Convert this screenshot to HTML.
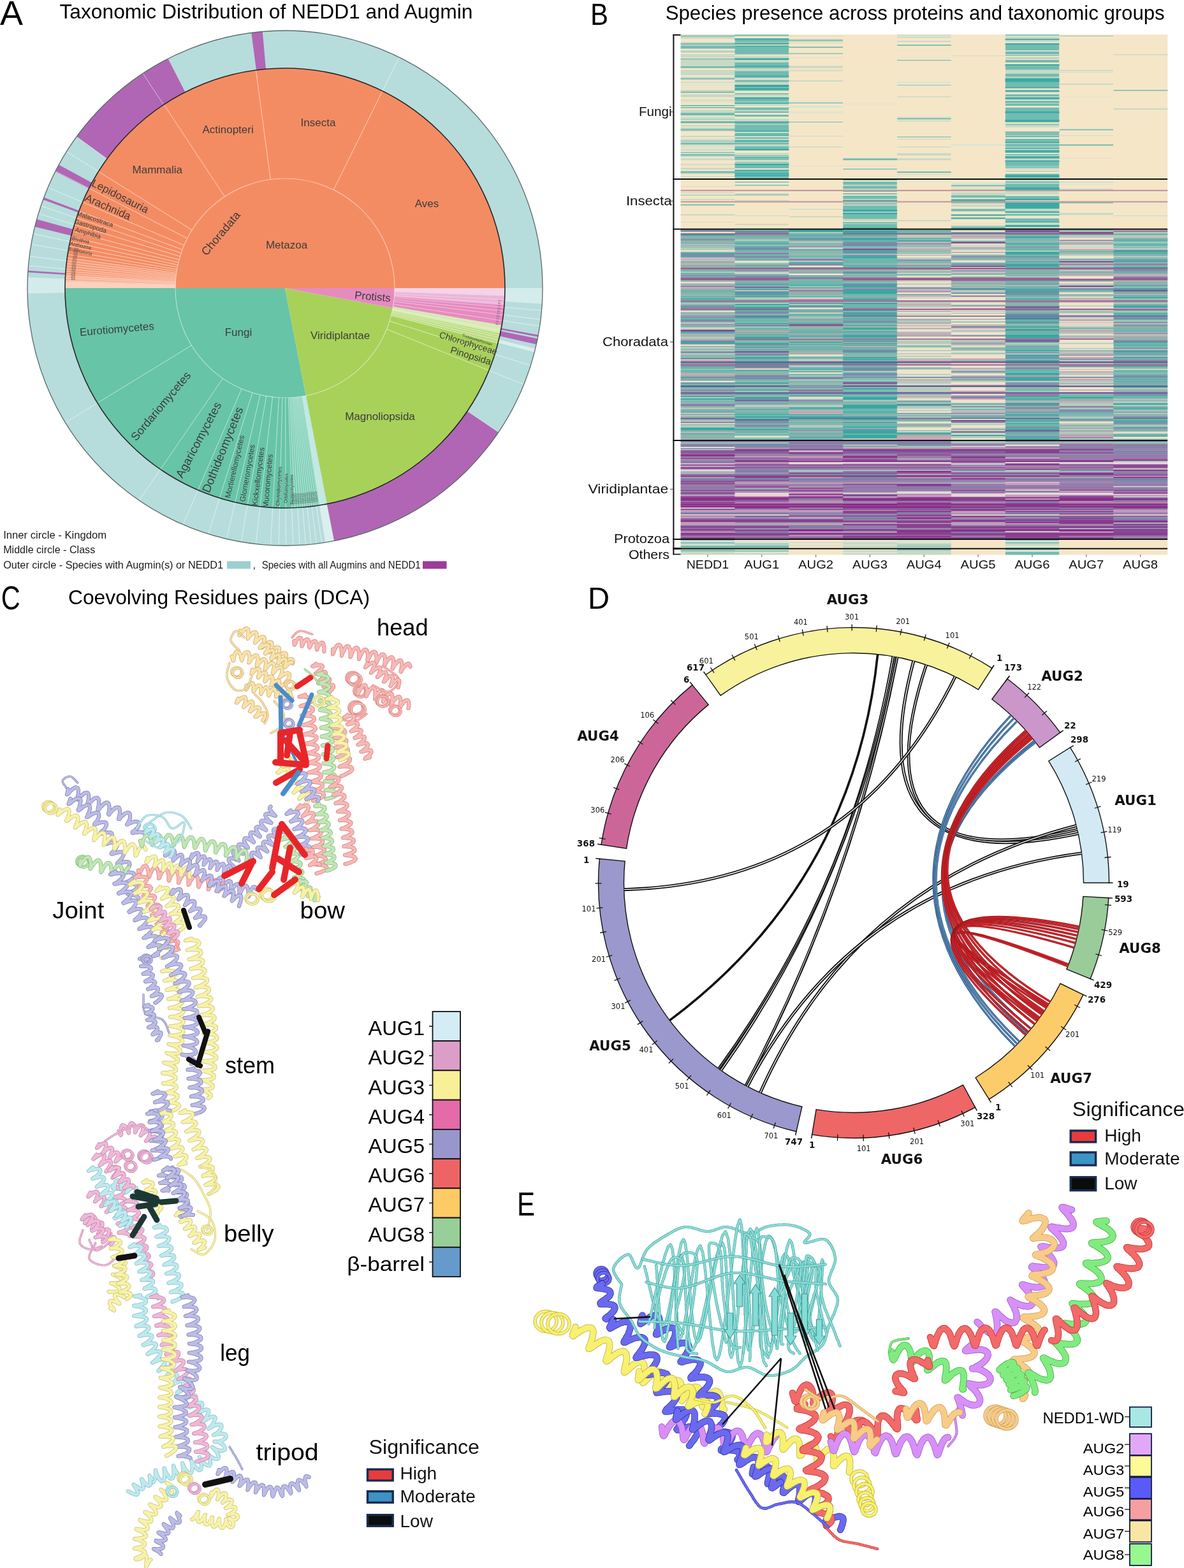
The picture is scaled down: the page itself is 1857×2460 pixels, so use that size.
<!DOCTYPE html>
<html><head><meta charset="utf-8"><title>NEDD1 and Augmin figure</title>
<style>html,body{margin:0;padding:0;background:#fff;}svg{display:block;}use{stroke-linejoin:round;stroke-linecap:round}</style></head>
<body><svg width="1857" height="2460" viewBox="0 0 1857 2460" font-family="'Liberation Sans', Arial, sans-serif">
<rect width="1857" height="2460" fill="#fff"/>
<path d="M447,452L619.00,452.00A172,172 0 0 0 275.00,452.00Z" fill="#f48c63" stroke="none" stroke-width="0"/>
<path d="M447,452L275.00,452.00A172,172 0 0 0 479.82,620.84Z" fill="#67c4a7" stroke="none" stroke-width="0"/>
<path d="M447,452L479.82,620.84A172,172 0 0 0 616.12,483.34Z" fill="#a8d15a" stroke="none" stroke-width="0"/>
<path d="M447,452L616.12,483.34A172,172 0 0 0 619.00,452.00Z" fill="#e68bbf" stroke="none" stroke-width="0"/>
<path d="M792.00,452.00A345,345 0 0 0 102.00,452.00L275.00,452.00A172,172 0 0 1 619.00,452.00Z" fill="#f48c63" stroke="none" stroke-width="0"/>
<path d="M102.00,452.00A345,345 0 0 0 512.83,790.66L479.82,620.84A172,172 0 0 1 275.00,452.00Z" fill="#67c4a7" stroke="none" stroke-width="0"/>
<path d="M512.83,790.66A345,345 0 0 0 786.22,514.87L616.12,483.34A172,172 0 0 1 479.82,620.84Z" fill="#a8d15a" stroke="none" stroke-width="0"/>
<path d="M786.22,514.87A345,345 0 0 0 792.00,452.00L619.00,452.00A172,172 0 0 1 616.12,483.34Z" fill="#e68bbf" stroke="none" stroke-width="0"/>
<path d="M105.36,403.99A345,345 0 0 0 102.64,430.94L275.32,441.50A172,172 0 0 1 276.67,428.06Z" fill="#f59a76" stroke="none" stroke-width="0"/>
<path d="M102.64,430.94A345,345 0 0 0 102.17,441.16L275.08,446.60A172,172 0 0 1 275.32,441.50Z" fill="#f8b396" stroke="none" stroke-width="0"/>
<path d="M102.17,441.16A345,345 0 0 0 102.00,452.00L275.00,452.00A172,172 0 0 1 275.08,446.60Z" fill="#fbd0bd" stroke="none" stroke-width="0"/>
<path d="M459.04,796.79A345,345 0 0 0 500.97,792.75L473.91,621.88A172,172 0 0 1 453.00,623.90Z" fill="#7ccdb4" stroke="none" stroke-width="0"/>
<path d="M500.97,792.75A345,345 0 0 0 512.83,790.66L479.82,620.84A172,172 0 0 1 473.91,621.88Z" fill="#c4e8e2" stroke="none" stroke-width="0"/>
<path d="M791.79,464.04A345,345 0 0 0 792.00,452.00L619.00,452.00A172,172 0 0 1 618.90,458.00Z" fill="#f3d3e7" stroke="none" stroke-width="0"/>
<path d="M790.94,479.07A345,345 0 0 0 791.79,464.04L618.90,458.00A172,172 0 0 1 618.47,465.49Z" fill="#ecb4d7" stroke="none" stroke-width="0"/>
<path d="M786.22,514.87A345,345 0 0 0 787.07,510.13L616.54,480.98A172,172 0 0 1 616.12,483.34Z" fill="#d6ecb8" stroke="none" stroke-width="0"/>
<path d="M781.01,538.38A345,345 0 0 0 786.22,514.87L616.12,483.34A172,172 0 0 1 613.52,495.07Z" fill="#bcdc84" stroke="none" stroke-width="0"/>
<path d="M784.83,521.96A345,345 0 0 0 786.22,514.87L616.12,483.34A172,172 0 0 1 615.43,486.88Z" fill="#d8ecb8" stroke="none" stroke-width="0"/>
<line x1="523.21" y1="297.80" x2="599.86" y2="142.71" stroke="#fcd6c4" stroke-width="1" opacity="0.9"/>
<line x1="424.25" y1="281.51" x2="401.37" y2="110.03" stroke="#fcd6c4" stroke-width="1" opacity="0.9"/>
<line x1="352.32" y1="308.41" x2="257.08" y2="163.98" stroke="#fcd6c4" stroke-width="1" opacity="0.9"/>
<line x1="301.14" y1="360.85" x2="154.42" y2="269.18" stroke="#fcd6c4" stroke-width="1" opacity="0.9"/>
<line x1="293.75" y1="373.91" x2="139.60" y2="295.37" stroke="#fcd6c4" stroke-width="1" opacity="0.9"/>
<line x1="288.67" y1="384.79" x2="129.43" y2="317.20" stroke="#fcd6c4" stroke-width="1" opacity="0.9"/>
<line x1="285.89" y1="391.76" x2="123.85" y2="331.18" stroke="#fcd6c4" stroke-width="1" opacity="0.9"/>
<line x1="283.98" y1="397.14" x2="120.02" y2="341.96" stroke="#fcd6c4" stroke-width="1" opacity="0.9"/>
<line x1="282.34" y1="402.29" x2="116.72" y2="352.28" stroke="#fcd6c4" stroke-width="1" opacity="0.9"/>
<line x1="280.86" y1="407.48" x2="113.76" y2="362.71" stroke="#fcd6c4" stroke-width="1" opacity="0.9"/>
<line x1="279.75" y1="411.85" x2="111.53" y2="371.46" stroke="#fcd6c4" stroke-width="1" opacity="0.9"/>
<line x1="278.88" y1="415.65" x2="109.79" y2="379.09" stroke="#fcd6c4" stroke-width="1" opacity="0.9"/>
<line x1="278.16" y1="419.18" x2="108.34" y2="386.17" stroke="#fcd6c4" stroke-width="1" opacity="0.9"/>
<line x1="277.51" y1="422.72" x2="107.03" y2="393.28" stroke="#fcd6c4" stroke-width="1" opacity="0.9"/>
<line x1="277.02" y1="425.69" x2="106.06" y2="399.22" stroke="#fcd6c4" stroke-width="1" opacity="0.9"/>
<line x1="276.63" y1="428.36" x2="105.27" y2="404.58" stroke="#fcd6c4" stroke-width="1" opacity="0.9"/>
<line x1="276.32" y1="430.74" x2="104.65" y2="409.36" stroke="#fcd6c4" stroke-width="1" opacity="0.9"/>
<line x1="276.07" y1="432.83" x2="104.15" y2="413.54" stroke="#fcd6c4" stroke-width="1" opacity="0.9"/>
<line x1="275.85" y1="434.92" x2="103.71" y2="417.73" stroke="#fcd6c4" stroke-width="1" opacity="0.9"/>
<line x1="275.65" y1="437.01" x2="103.31" y2="421.93" stroke="#fcd6c4" stroke-width="1" opacity="0.9"/>
<line x1="275.51" y1="438.80" x2="103.02" y2="425.53" stroke="#fcd6c4" stroke-width="1" opacity="0.9"/>
<line x1="275.38" y1="440.60" x2="102.76" y2="429.14" stroke="#fcd6c4" stroke-width="1" opacity="0.9"/>
<line x1="275.27" y1="442.40" x2="102.54" y2="432.74" stroke="#fcd6c4" stroke-width="1" opacity="0.9"/>
<line x1="275.18" y1="444.20" x2="102.36" y2="436.35" stroke="#fcd6c4" stroke-width="1" opacity="0.9"/>
<line x1="275.09" y1="446.30" x2="102.19" y2="440.56" stroke="#fcd6c4" stroke-width="1" opacity="0.9"/>
<line x1="275.03" y1="449.00" x2="102.05" y2="445.98" stroke="#fcd6c4" stroke-width="1" opacity="0.9"/>
<line x1="300.35" y1="541.87" x2="152.84" y2="632.26" stroke="#c9ede2" stroke-width="1" opacity="0.85"/>
<line x1="349.58" y1="593.75" x2="251.59" y2="736.32" stroke="#c9ede2" stroke-width="1" opacity="0.85"/>
<line x1="378.97" y1="609.97" x2="310.54" y2="768.86" stroke="#c9ede2" stroke-width="1" opacity="0.85"/>
<line x1="395.85" y1="616.22" x2="344.41" y2="781.39" stroke="#c9ede2" stroke-width="1" opacity="0.85"/>
<line x1="408.02" y1="619.52" x2="368.81" y2="788.02" stroke="#c9ede2" stroke-width="1" opacity="0.85"/>
<line x1="417.72" y1="621.49" x2="388.28" y2="791.97" stroke="#c9ede2" stroke-width="1" opacity="0.85"/>
<line x1="427.53" y1="622.89" x2="407.94" y2="794.78" stroke="#c9ede2" stroke-width="1" opacity="0.85"/>
<line x1="437.40" y1="623.73" x2="427.74" y2="796.46" stroke="#c9ede2" stroke-width="1" opacity="0.85"/>
<line x1="442.80" y1="623.95" x2="438.57" y2="796.90" stroke="#c9ede2" stroke-width="1" opacity="0.85"/>
<line x1="447.60" y1="624.00" x2="448.20" y2="797.00" stroke="#c9ede2" stroke-width="1" opacity="0.85"/>
<line x1="452.40" y1="623.92" x2="457.84" y2="796.83" stroke="#c9ede2" stroke-width="1" opacity="0.85"/>
<line x1="454.80" y1="623.82" x2="462.65" y2="796.64" stroke="#c9ede2" stroke-width="1" opacity="0.85"/>
<line x1="456.90" y1="623.71" x2="466.86" y2="796.43" stroke="#c9ede2" stroke-width="1" opacity="0.85"/>
<line x1="459.00" y1="623.58" x2="471.07" y2="796.16" stroke="#c9ede2" stroke-width="1" opacity="0.85"/>
<line x1="460.79" y1="623.45" x2="474.67" y2="795.89" stroke="#c9ede2" stroke-width="1" opacity="0.85"/>
<line x1="462.59" y1="623.29" x2="478.27" y2="795.58" stroke="#c9ede2" stroke-width="1" opacity="0.85"/>
<line x1="464.38" y1="623.12" x2="481.86" y2="795.23" stroke="#c9ede2" stroke-width="1" opacity="0.85"/>
<line x1="466.17" y1="622.93" x2="485.46" y2="794.85" stroke="#c9ede2" stroke-width="1" opacity="0.85"/>
<line x1="467.96" y1="622.72" x2="489.04" y2="794.43" stroke="#c9ede2" stroke-width="1" opacity="0.85"/>
<line x1="469.75" y1="622.49" x2="492.63" y2="793.97" stroke="#c9ede2" stroke-width="1" opacity="0.85"/>
<line x1="471.53" y1="622.24" x2="496.21" y2="793.47" stroke="#c9ede2" stroke-width="1" opacity="0.85"/>
<line x1="473.31" y1="621.98" x2="499.78" y2="792.94" stroke="#c9ede2" stroke-width="1" opacity="0.85"/>
<line x1="474.80" y1="621.74" x2="502.75" y2="792.47" stroke="#c9ede2" stroke-width="1" opacity="0.85"/>
<line x1="606.48" y1="516.43" x2="766.88" y2="581.24" stroke="#e4f3c4" stroke-width="1" opacity="0.85"/>
<line x1="611.04" y1="503.72" x2="776.03" y2="555.74" stroke="#e4f3c4" stroke-width="1" opacity="0.85"/>
<line x1="613.52" y1="495.07" x2="781.01" y2="538.38" stroke="#e4f3c4" stroke-width="1" opacity="0.85"/>
<line x1="614.11" y1="492.74" x2="782.18" y2="533.71" stroke="#e4f3c4" stroke-width="1" opacity="0.85"/>
<line x1="614.59" y1="490.69" x2="783.16" y2="529.61" stroke="#e4f3c4" stroke-width="1" opacity="0.85"/>
<line x1="614.99" y1="488.93" x2="783.95" y2="526.08" stroke="#e4f3c4" stroke-width="1" opacity="0.85"/>
<line x1="615.37" y1="487.17" x2="784.71" y2="522.55" stroke="#e4f3c4" stroke-width="1" opacity="0.85"/>
<line x1="615.72" y1="485.41" x2="785.43" y2="519.01" stroke="#e4f3c4" stroke-width="1" opacity="0.85"/>
<line x1="617.11" y1="477.42" x2="788.21" y2="502.99" stroke="#f7d9ea" stroke-width="1" opacity="0.7"/>
<line x1="617.72" y1="472.96" x2="789.43" y2="494.04" stroke="#f7d9ea" stroke-width="1" opacity="0.7"/>
<line x1="618.06" y1="469.98" x2="790.11" y2="488.06" stroke="#f7d9ea" stroke-width="1" opacity="0.7"/>
<line x1="618.35" y1="466.99" x2="790.69" y2="482.07" stroke="#f7d9ea" stroke-width="1" opacity="0.7"/>
<line x1="618.58" y1="464.00" x2="791.16" y2="476.07" stroke="#f7d9ea" stroke-width="1" opacity="0.7"/>
<line x1="618.76" y1="461.00" x2="791.53" y2="470.06" stroke="#f7d9ea" stroke-width="1" opacity="0.7"/>
<line x1="618.90" y1="458.00" x2="791.79" y2="464.04" stroke="#f7d9ea" stroke-width="1" opacity="0.7"/>
<line x1="618.97" y1="455.00" x2="791.95" y2="458.02" stroke="#f7d9ea" stroke-width="1" opacity="0.7"/>
<circle cx="447" cy="452" r="172" fill="none" stroke="#ffffff" stroke-opacity="0.4" stroke-width="1.2"/>
<circle cx="447" cy="452" r="374.5" fill="none" stroke="#b7dcdc" stroke-width="59"/>
<path d="M43.35,435.08A404,404 0 0 0 43.09,460.46L102.08,459.23A345,345 0 0 1 102.30,437.55Z" fill="#d3ebeb" stroke="none" stroke-width="0"/>
<path d="M510.20,851.03A404,404 0 0 0 524.09,848.58L512.83,790.66A345,345 0 0 1 500.97,792.75Z" fill="#dcefef" stroke="none" stroke-width="0"/>
<path d="M850.25,476.66A404,404 0 0 0 851.00,452.00L792.00,452.00A345,345 0 0 1 791.36,473.06Z" fill="#d4ecec" stroke="none" stroke-width="0"/>
<path d="M838.31,552.47A404,404 0 0 0 839.67,547.00L782.33,533.12A345,345 0 0 1 781.16,537.80Z" fill="#dceeee" stroke="none" stroke-width="0"/>
<path d="M263.59,92.03A404,404 0 0 0 120.16,214.53L167.89,249.21A345,345 0 0 1 290.37,144.60Z" fill="#b066b4" stroke="none" stroke-width="0"/>
<path d="M411.79,49.54A404,404 0 0 0 394.27,51.46L401.97,109.95A345,345 0 0 1 416.93,108.31Z" fill="#b066b4" stroke="none" stroke-width="0"/>
<path d="M92.29,258.61A404,404 0 0 0 86.71,269.22L139.33,295.91A345,345 0 0 1 144.10,286.85Z" fill="#b066b4" stroke="none" stroke-width="0"/>
<path d="M68.83,309.86A404,404 0 0 0 67.61,313.16L123.01,333.44A345,345 0 0 1 124.06,330.61Z" fill="#b066b4" stroke="none" stroke-width="0"/>
<path d="M57.69,344.04A404,404 0 0 0 54.66,355.63L111.96,369.71A345,345 0 0 1 114.55,359.80Z" fill="#b066b4" stroke="none" stroke-width="0"/>
<path d="M43.94,424.52A404,404 0 0 0 43.75,427.34L102.64,430.94A345,345 0 0 1 102.80,428.53Z" fill="#b066b4" stroke="none" stroke-width="0"/>
<path d="M524.09,848.58A404,404 0 0 0 781.93,677.91L733.02,644.92A345,345 0 0 1 512.83,790.66Z" fill="#b066b4" stroke="none" stroke-width="0"/>
<path d="M841.27,540.13A404,404 0 0 0 843.17,531.16L785.31,519.60A345,345 0 0 1 783.69,527.26Z" fill="#b066b4" stroke="none" stroke-width="0"/>
<path d="M843.71,528.39A404,404 0 0 0 844.23,525.62L786.22,514.87A345,345 0 0 1 785.78,517.24Z" fill="#b066b4" stroke="none" stroke-width="0"/>
<line x1="599.86" y1="142.71" x2="626.00" y2="89.82" stroke="#ffffff" stroke-width="1" opacity="0.55"/>
<line x1="256.58" y1="164.31" x2="224.02" y2="115.11" stroke="#ffffff" stroke-width="1" opacity="0.55"/>
<line x1="167.89" y1="249.21" x2="120.16" y2="214.53" stroke="#ffffff" stroke-width="1" opacity="0.55"/>
<line x1="154.42" y1="269.18" x2="104.39" y2="237.91" stroke="#ffffff" stroke-width="1" opacity="0.55"/>
<line x1="139.60" y1="295.37" x2="87.03" y2="268.59" stroke="#ffffff" stroke-width="1" opacity="0.55"/>
<line x1="129.43" y1="317.20" x2="75.12" y2="294.14" stroke="#ffffff" stroke-width="1" opacity="0.55"/>
<line x1="120.02" y1="341.96" x2="64.10" y2="323.14" stroke="#ffffff" stroke-width="1" opacity="0.55"/>
<line x1="116.72" y1="352.28" x2="60.24" y2="335.23" stroke="#ffffff" stroke-width="1" opacity="0.55"/>
<line x1="109.79" y1="379.09" x2="52.12" y2="366.62" stroke="#ffffff" stroke-width="1" opacity="0.55"/>
<line x1="107.03" y1="393.28" x2="48.90" y2="383.24" stroke="#ffffff" stroke-width="1" opacity="0.55"/>
<line x1="104.65" y1="409.36" x2="46.10" y2="402.07" stroke="#ffffff" stroke-width="1" opacity="0.55"/>
<line x1="103.31" y1="421.93" x2="44.54" y2="416.79" stroke="#ffffff" stroke-width="1" opacity="0.55"/>
<line x1="152.84" y1="632.26" x2="102.53" y2="663.09" stroke="#ffffff" stroke-width="1" opacity="0.55"/>
<line x1="251.59" y1="736.32" x2="218.17" y2="784.95" stroke="#ffffff" stroke-width="1" opacity="0.55"/>
<line x1="310.54" y1="768.86" x2="287.20" y2="823.05" stroke="#ffffff" stroke-width="1" opacity="0.55"/>
<line x1="344.41" y1="781.39" x2="326.86" y2="837.72" stroke="#ffffff" stroke-width="1" opacity="0.55"/>
<line x1="368.81" y1="788.02" x2="355.43" y2="845.49" stroke="#ffffff" stroke-width="1" opacity="0.55"/>
<line x1="388.28" y1="791.97" x2="378.24" y2="850.10" stroke="#ffffff" stroke-width="1" opacity="0.55"/>
<line x1="407.94" y1="794.78" x2="401.27" y2="853.40" stroke="#ffffff" stroke-width="1" opacity="0.55"/>
<line x1="427.74" y1="796.46" x2="424.45" y2="855.37" stroke="#ffffff" stroke-width="1" opacity="0.55"/>
<line x1="438.57" y1="796.90" x2="437.13" y2="855.88" stroke="#ffffff" stroke-width="1" opacity="0.55"/>
<line x1="448.20" y1="797.00" x2="448.41" y2="856.00" stroke="#ffffff" stroke-width="1" opacity="0.55"/>
<line x1="457.84" y1="796.83" x2="459.69" y2="855.80" stroke="#ffffff" stroke-width="1" opacity="0.55"/>
<line x1="466.86" y1="796.43" x2="470.26" y2="855.33" stroke="#ffffff" stroke-width="1" opacity="0.55"/>
<line x1="474.67" y1="795.89" x2="479.40" y2="854.70" stroke="#ffffff" stroke-width="1" opacity="0.55"/>
<line x1="481.86" y1="795.23" x2="487.83" y2="853.93" stroke="#ffffff" stroke-width="1" opacity="0.55"/>
<line x1="489.04" y1="794.43" x2="496.24" y2="852.99" stroke="#ffffff" stroke-width="1" opacity="0.55"/>
<line x1="496.21" y1="793.47" x2="504.62" y2="851.87" stroke="#ffffff" stroke-width="1" opacity="0.55"/>
<line x1="733.02" y1="644.92" x2="781.93" y2="677.91" stroke="#ffffff" stroke-width="1" opacity="0.55"/>
<line x1="766.88" y1="581.24" x2="821.58" y2="603.34" stroke="#ffffff" stroke-width="1" opacity="0.55"/>
<line x1="776.03" y1="555.74" x2="832.30" y2="573.49" stroke="#ffffff" stroke-width="1" opacity="0.55"/>
<line x1="788.21" y1="502.99" x2="846.56" y2="511.72" stroke="#ffffff" stroke-width="1" opacity="0.55"/>
<line x1="789.43" y1="494.04" x2="847.99" y2="501.24" stroke="#ffffff" stroke-width="1" opacity="0.55"/>
<line x1="790.69" y1="482.07" x2="849.46" y2="487.21" stroke="#ffffff" stroke-width="1" opacity="0.55"/>
<circle cx="447" cy="452" r="345" fill="none" stroke="#262626" stroke-width="1.6"/>
<circle cx="447" cy="452" r="404" fill="none" stroke="#5a6a6a" stroke-width="1.3"/>
<text x="449.5" y="390.0" font-size="17" fill="#3c3c3c" text-anchor="middle">Metazoa</text>
<text x="357.6" y="209.0" font-size="17" fill="#3c3c3c" text-anchor="middle">Actinopteri</text>
<text x="499.0" y="197.5" font-size="17" fill="#3c3c3c" text-anchor="middle">Insecta</text>
<text x="246.8" y="272.0" font-size="17" fill="#3c3c3c" text-anchor="middle">Mammalia</text>
<text x="669.5" y="325.0" font-size="17" fill="#3c3c3c" text-anchor="middle">Aves</text>
<text x="351.0" y="370.0" font-size="18" fill="#3c3c3c" text-anchor="middle" transform="rotate(-50 351.0 370.0)">Choradata</text>
<text x="186.0" y="313.0" font-size="17" fill="#3c3c3c" text-anchor="middle" transform="rotate(27 186.0 313.0)">Lepidosauria</text>
<text x="167.0" y="330.0" font-size="17" fill="#3c3c3c" text-anchor="middle" transform="rotate(24 167.0 330.0)">Arachnida</text>
<text x="584.0" y="471.0" font-size="17" fill="#3c3c3c" text-anchor="middle" transform="rotate(5 584.0 471.0)">Protists</text>
<text x="183.8" y="522.0" font-size="17" fill="#3c3c3c" text-anchor="middle" transform="rotate(-5 183.8 522.0)">Eurotiomycetes</text>
<text x="374.0" y="527.0" font-size="17" fill="#3c3c3c" text-anchor="middle">Fungi</text>
<text x="533.6" y="532.0" font-size="17" fill="#3c3c3c" text-anchor="middle">Viridiplantae</text>
<text x="257.0" y="641.0" font-size="18" fill="#3c3c3c" text-anchor="middle" transform="rotate(-50 257.0 641.0)">Sordariomycetes</text>
<text x="317.0" y="693.0" font-size="18.5" fill="#3c3c3c" text-anchor="middle" transform="rotate(-62 317.0 693.0)">Agaricomycetes</text>
<text x="355.0" y="708.0" font-size="18.5" fill="#3c3c3c" text-anchor="middle" transform="rotate(-68 355.0 708.0)">Dothideomycetes</text>
<text x="596.0" y="659.0" font-size="17" fill="#3c3c3c" text-anchor="middle">Magnoliopsida</text>
<text x="733.0" y="543.0" font-size="14" fill="#3c3c3c" text-anchor="middle" transform="rotate(17 733.0 543.0)">Chlorophyceae</text>
<text x="737.0" y="563.0" font-size="15" fill="#3c3c3c" text-anchor="middle" transform="rotate(17 737.0 563.0)">Pinopsida</text>
<text x="148.0" y="347.0" font-size="10" fill="#3c3c3c" text-anchor="middle" transform="rotate(18 148.0 347.0)">Malacostraca</text>
<text x="141.0" y="358.0" font-size="10" fill="#3c3c3c" text-anchor="middle" transform="rotate(17 141.0 358.0)">Gastropoda</text>
<text x="137.0" y="369.0" font-size="10" fill="#3c3c3c" text-anchor="middle" transform="rotate(16 137.0 369.0)">Amphibia</text>
<text x="126.0" y="379.0" font-size="8" fill="#3c3c3c" text-anchor="middle" transform="rotate(14 126.0 379.0)">Bivalvia</text>
<text x="126.0" y="388.0" font-size="8" fill="#3c3c3c" text-anchor="middle" transform="rotate(13 126.0 388.0)">Anthozoa</text>
<text x="126.0" y="397.0" font-size="7.5" fill="#3c3c3c" text-anchor="middle" transform="rotate(12 126.0 397.0)">Eurotatoria</text>
<text x="372.0" y="733.0" font-size="12" fill="#3c3c3c" text-anchor="middle" transform="rotate(-77 372.0 733.0)">Mortierellomycetes</text>
<text x="392.0" y="743.0" font-size="12" fill="#3c3c3c" text-anchor="middle" transform="rotate(-80 392.0 743.0)">Glomeromycetes</text>
<text x="409.0" y="748.0" font-size="12" fill="#3c3c3c" text-anchor="middle" transform="rotate(-83 409.0 748.0)">Kickxellomycetes</text>
<text x="424.0" y="755.0" font-size="12" fill="#3c3c3c" text-anchor="middle" transform="rotate(-85 424.0 755.0)">Mucoromycetes</text>
<text x="440.0" y="763.0" font-size="8" fill="#3c3c3c" text-anchor="middle" transform="rotate(-87 440.0 763.0)">Chytridiomycetes</text>
<text x="451.0" y="766.0" font-size="7" fill="#3c3c3c" text-anchor="middle" transform="rotate(-89 451.0 766.0)">Orbiliomycetes</text>
<text x="460.0" y="768.0" font-size="7" fill="#3c3c3c" text-anchor="middle" transform="rotate(-91 460.0 768.0)">Pezizomycetes</text>
<text x="748.0" y="535.0" font-size="6" fill="#3c3c3c" text-anchor="middle" transform="rotate(17 748.0 535.0)">Trebouxiophyceae</text>
<text x="458.0" y="782.8" font-size="4.5" fill="#4a6a60" text-anchor="middle" transform="rotate(88.10000000000002 458.0 782.8)">mycetes</text>
<text x="460.9" y="782.7" font-size="4.5" fill="#4a6a60" text-anchor="middle" transform="rotate(87.60000000000002 460.9 782.7)">mycetes</text>
<text x="463.7" y="782.6" font-size="4.5" fill="#4a6a60" text-anchor="middle" transform="rotate(87.10000000000002 463.7 782.6)">mycetes</text>
<text x="466.6" y="782.4" font-size="4.5" fill="#4a6a60" text-anchor="middle" transform="rotate(86.60000000000002 466.6 782.4)">mycetes</text>
<text x="469.5" y="782.2" font-size="4.5" fill="#4a6a60" text-anchor="middle" transform="rotate(86.10000000000002 469.5 782.2)">mycetes</text>
<text x="472.4" y="782.0" font-size="4.5" fill="#4a6a60" text-anchor="middle" transform="rotate(85.60000000000002 472.4 782.0)">mycetes</text>
<text x="475.3" y="781.8" font-size="4.5" fill="#4a6a60" text-anchor="middle" transform="rotate(85.10000000000002 475.3 781.8)">mycetes</text>
<text x="478.1" y="781.5" font-size="4.5" fill="#4a6a60" text-anchor="middle" transform="rotate(84.60000000000002 478.1 781.5)">mycetes</text>
<text x="481.0" y="781.2" font-size="4.5" fill="#4a6a60" text-anchor="middle" transform="rotate(84.10000000000002 481.0 781.2)">mycetes</text>
<text x="483.9" y="780.9" font-size="4.5" fill="#4a6a60" text-anchor="middle" transform="rotate(83.60000000000002 483.9 780.9)">mycetes</text>
<text x="486.8" y="780.6" font-size="4.5" fill="#4a6a60" text-anchor="middle" transform="rotate(83.10000000000002 486.8 780.6)">mycetes</text>
<text x="489.6" y="780.2" font-size="4.5" fill="#4a6a60" text-anchor="middle" transform="rotate(82.60000000000002 489.6 780.2)">mycetes</text>
<text x="492.5" y="779.9" font-size="4.5" fill="#4a6a60" text-anchor="middle" transform="rotate(82.10000000000002 492.5 779.9)">mycetes</text>
<text x="495.4" y="779.4" font-size="4.5" fill="#4a6a60" text-anchor="middle" transform="rotate(81.60000000000002 495.4 779.4)">mycetes</text>
<text x="119.6" y="391.3" font-size="4.5" fill="#6a4a40" text-anchor="middle" transform="rotate(10.5 119.6 391.3)">spp</text>
<text x="119.0" y="394.5" font-size="4.5" fill="#6a4a40" text-anchor="middle" transform="rotate(9.949999999999989 119.0 394.5)">spp</text>
<text x="118.5" y="397.6" font-size="4.5" fill="#6a4a40" text-anchor="middle" transform="rotate(9.400000000000006 118.5 397.6)">spp</text>
<text x="118.0" y="400.8" font-size="4.5" fill="#6a4a40" text-anchor="middle" transform="rotate(8.849999999999994 118.0 400.8)">spp</text>
<text x="117.5" y="403.9" font-size="4.5" fill="#6a4a40" text-anchor="middle" transform="rotate(8.300000000000011 117.5 403.9)">spp</text>
<text x="117.0" y="407.1" font-size="4.5" fill="#6a4a40" text-anchor="middle" transform="rotate(7.75 117.0 407.1)">spp</text>
<text x="116.6" y="410.3" font-size="4.5" fill="#6a4a40" text-anchor="middle" transform="rotate(7.199999999999989 116.6 410.3)">spp</text>
<text x="116.2" y="413.4" font-size="4.5" fill="#6a4a40" text-anchor="middle" transform="rotate(6.650000000000006 116.2 413.4)">spp</text>
<text x="115.9" y="416.6" font-size="4.5" fill="#6a4a40" text-anchor="middle" transform="rotate(6.099999999999994 115.9 416.6)">spp</text>
<text x="115.6" y="419.8" font-size="4.5" fill="#6a4a40" text-anchor="middle" transform="rotate(5.550000000000011 115.6 419.8)">spp</text>
<text x="115.3" y="423.0" font-size="4.5" fill="#6a4a40" text-anchor="middle" transform="rotate(5.0 115.3 423.0)">spp</text>
<text x="115.0" y="426.2" font-size="4.5" fill="#6a4a40" text-anchor="middle" transform="rotate(4.449999999999989 115.0 426.2)">spp</text>
<text x="114.8" y="429.4" font-size="4.5" fill="#6a4a40" text-anchor="middle" transform="rotate(3.9000000000000057 114.8 429.4)">spp</text>
<text x="114.6" y="432.5" font-size="4.5" fill="#6a4a40" text-anchor="middle" transform="rotate(3.3499999999999943 114.6 432.5)">spp</text>
<text x="114.4" y="435.7" font-size="4.5" fill="#6a4a40" text-anchor="middle" transform="rotate(2.8000000000000114 114.4 435.7)">spp</text>
<text x="114.3" y="438.9" font-size="4.5" fill="#6a4a40" text-anchor="middle" transform="rotate(2.25 114.3 438.9)">spp</text>
<text x="779.1" y="509.4" font-size="4" fill="#6a5a70" text-anchor="middle" transform="rotate(-350.2 779.1 509.4)">ae</text>
<text x="779.8" y="505.3" font-size="4" fill="#6a5a70" text-anchor="middle" transform="rotate(-350.9 779.8 505.3)">ae</text>
<text x="780.4" y="501.2" font-size="4" fill="#6a5a70" text-anchor="middle" transform="rotate(-351.59999999999997 780.4 501.2)">ae</text>
<text x="781.0" y="497.2" font-size="4" fill="#6a5a70" text-anchor="middle" transform="rotate(-352.3 781.0 497.2)">ae</text>
<text x="781.5" y="493.1" font-size="4" fill="#6a5a70" text-anchor="middle" transform="rotate(-353.0 781.5 493.1)">ae</text>
<text x="782.0" y="489.0" font-size="4" fill="#6a5a70" text-anchor="middle" transform="rotate(-353.7 782.0 489.0)">ae</text>
<text x="782.4" y="484.9" font-size="4" fill="#6a5a70" text-anchor="middle" transform="rotate(-354.4 782.4 484.9)">ae</text>
<text x="782.8" y="480.8" font-size="4" fill="#6a5a70" text-anchor="middle" transform="rotate(-355.09999999999997 782.8 480.8)">ae</text>
<text x="783.1" y="476.7" font-size="4" fill="#6a5a70" text-anchor="middle" transform="rotate(-355.8 783.1 476.7)">ae</text>
<text x="783.4" y="472.6" font-size="4" fill="#6a5a70" text-anchor="middle" transform="rotate(-356.5 783.4 472.6)">ae</text>
<text x="5.2" y="844.6" font-size="16.2" fill="#1a1a1a" textLength="162" lengthAdjust="spacingAndGlyphs">Inner circle - Kingdom</text>
<text x="5.2" y="868.3" font-size="16.2" fill="#1a1a1a" textLength="144" lengthAdjust="spacingAndGlyphs">Middle circle - Class</text>
<text x="5.2" y="892.0" font-size="16.2" fill="#1a1a1a" textLength="344.8" lengthAdjust="spacingAndGlyphs">Outer circle - Species with Augmin(s) or NEDD1</text>
<rect x="356" y="880.4" width="37" height="12" fill="#9ccfd0"/>
<text x="396.5" y="892.0" font-size="16.2" fill="#1a1a1a">,</text>
<text x="410.8" y="892.0" font-size="16.2" fill="#1a1a1a" textLength="248.8" lengthAdjust="spacingAndGlyphs">Species with all Augmins and NEDD1</text>
<rect x="663" y="880.4" width="37.5" height="12" fill="#9b3d9a"/>
<text x="0.0" y="39.0" font-size="54" fill="#000">A</text>
<text x="93.4" y="29.2" font-size="30.7" fill="#000" textLength="648" lengthAdjust="spacingAndGlyphs">Taxonomic Distribution of NEDD1 and Augmin</text>
<path fill="#c9d9c4" d="M1067.5 54.3h85.1v2h-85.1zm0 2.6h85.1v2.8h-85.1zm0 2.5h85.1v1.8h-85.1zm0 6.3h85.1v1.6h-85.1zm0 1.2h85.1v1.5h-85.1zm0 2.9h85.1v2.3h-85.1zm0 10.5h85.1v3.1h-85.1zm0 4.4h85.1v2.2h-85.1zm0 1.9h85.1v1.5h-85.1zm0 1.2h85.1v2.6h-85.1zm0 5h85.1v1.3h-85.1zm0 1h85.1v1.9h-85.1zm0 1.5h85.1v3.1h-85.1zm0 2.8h85.1v3.1h-85.1zm0 2.7h85.1v2.7h-85.1zm0 2.3h85.1v1.3h-85.1zm0 6.2h85.1v2.7h-85.1zm0 2.3h85.1v1.6h-85.1zm0 1.3h85.1v1.4h-85.1zm0 1.1h85.1v2h-85.1zm0 1.7h85.1v2.9h-85.1zm0 4.5h85.1v2.6h-85.1zm0 3.7h85.1v2.2h-85.1zm0 4.1h85.1v2.8h-85.1zm0 4.9h85.1v1.7h-85.1zm0 7.7h85.1v2.3h-85.1zm0 1.9h85.1v1.6h-85.1zm0 5.2h85.1v3.1h-85.1zm0 2.7h85.1v1.3h-85.1zm0 1h85.1v1.6h-85.1zm0 4h85.1v2.8h-85.1zm0 3.6h85.1v1.7h-85.1zm0 3.3h85.1v1.5h-85.1zm0 9.8h85.1v3h-85.1zm0 2.6h85.1v2.7h-85.1zm0 8.6h85.1v2.7h-85.1zm0 2.3h85.1v2.2h-85.1zm0 6.5h85.1v2.4h-85.1zm0 3.7h85.1v3.1h-85.1zm0 4h85.1v2.7h-85.1zm0 4.6h85.1v2.3h-85.1zm0 8.3h85.1v1.6h-85.1zm0 1.2h85.1v1.8h-85.1zm0 3.4h85.1v2.2h-85.1zm0 3.7h85.1v2.2h-85.1zm0 1.8h85.1v1.6h-85.1zm0 3.3h85.1v2.8h-85.1zm0 3.5h85.1v2.2h-85.1zm0 3.6h85.1v2.8h-85.1zm0 10.7h85.1v1.3h-85.1zm0 1h85.1v1.9h-85.1zm0 3.1h85.1v1.6h-85.1zm0 1.3h85.1v2.5h-85.1zm0 7.1h85.1v2.6h-85.1zm0 3.7h85.1v1.4h-85.1zm0 2.8h85.1v1.6h-85.1zm0 1.3h85.1v2.4h-85.1zm0 3.4h85.1v1.5h-85.1zm0 3.7h85.1v1.9h-85.1zm0 4.9h85.1v2.6h-85.1zm0 15.2h85.1v1.7h-85.1zm0 9.6h85.1v2.3h-85.1zm0 10.8h85.1v2.3h-85.1zm0 35.7h85.1v1.7h-85.1zm0 504.8h85.1v1.5h-85.1zm0 1.1h85.1v1.5h-85.1zm0 5.7h85.1v1.9h-85.1zm0 1.6h85.1v2.7h-85.1zm0 3.8h85.1v1.9h-85.1zm0 1.6h85.1v1.7h-85.1zm0 1.4h85.1v3.1h-85.1zM1406.8 54.3h85.1v2h-85.1zm0 2.6h85.1v2.8h-85.1zm0 6.8h85.1v2.3h-85.1zm0 15.5h85.1v1.4h-85.1zm0 71.2h85.1v1.3h-85.1zm0 1h85.1v1.6h-85.1zm0 31.9h85.1v2.7h-85.1zm0 5.2h85.1v2.4h-85.1zm0 28.8h85.1v2.2h-85.1zm0 12.3h85.1v2.2h-85.1zm0 10.4h85.1v1.7h-85.1zm0 1.3h85.1v2.9h-85.1zm0 6.7h85.1v1.6h-85.1zm0 1.3h85.1v2.5h-85.1zm0 23.6h85.1v1.8h-85.1zm0 72h85.1v2.9h-85.1zm0 501h85.1v2.7h-85.1zm0 6.4h85.1v1.5h-85.1zm0 4.9h85.1v2.3h-85.1zm0 1.9h85.1v1.9h-85.1zm0 4h85.1v1.8h-85.1zm0 1.4h85.1v1.9h-85.1zm0 1.6h85.1v1.7h-85.1zm0 1.4h85.1v3.1h-85.1zM1152.3 56.0h85.1v1.3h-85.1zm0 9.7h85.1v1.6h-85.1zm0 4.1h85.1v2.3h-85.1zm0 14.9h85.1v2.2h-85.1zm0 3.1h85.1v2.6h-85.1zm0 2.2h85.1v1.6h-85.1zm0 3.8h85.1v1.9h-85.1zm0 1.5h85.1v3.1h-85.1zm0 11.4h85.1v2.9h-85.1zm0 2.6h85.1v2.7h-85.1zm0 14.6h85.1v2.2h-85.1zm0 4.1h85.1v2.8h-85.1zm0 2.5h85.1v2.8h-85.1zm0 6.3h85.1v1.7h-85.1zm0 10.9h85.1v3.1h-85.1zm0 2.7h85.1v1.3h-85.1zm0 8.6h85.1v1.7h-85.1zm0 3.3h85.1v1.5h-85.1zm0 1.2h85.1v1.9h-85.1zm0 1.5h85.1v1.3h-85.1zm0 7.1h85.1v3h-85.1zm0 13.5h85.1v2.2h-85.1zm0 1.8h85.1v1.4h-85.1zm0 1.1h85.1v2.4h-85.1zm0 5.6h85.1v2h-85.1zm0 13.3h85.1v1.6h-85.1zm0 5.3h85.1v1.6h-85.1zm0 1.2h85.1v1.8h-85.1zm0 3.4h85.1v2.2h-85.1zm0 1.9h85.1v1.3h-85.1zm0 3.6h85.1v1.6h-85.1zm0 3.3h85.1v2.8h-85.1zm0 2.5h85.1v1.4h-85.1zm0 11.4h85.1v1.7h-85.1zm0 1.3h85.1v2.9h-85.1zm0 3.6h85.1v1.9h-85.1zm0 3.1h85.1v1.6h-85.1zm0 6.7h85.1v2h-85.1zm0 48.3h85.1v2.6h-85.1zm0 10.7h85.1v2.2h-85.1zm0 23.7h85.1v1.8h-85.1zm0 13.4h85.1v2.4h-85.1zm0 502.6h85.1v1.5h-85.1zm0 1.2h85.1v1.5h-85.1zm0 4.5h85.1v1.9h-85.1zm0 5.4h85.1v1.9h-85.1zm0 3h85.1v3.1h-85.1zM1237.2 56.0h85.1v1.3h-85.1zm0 4.8h85.1v1.9h-85.1zm0 2.9h85.1v2.3h-85.1zm0 3.2h85.1v1.5h-85.1zm0 23.1h85.1v1.6h-85.1zm0 13.1h85.1v1.3h-85.1zm0 0.9h85.1v3h-85.1zm0 5.3h85.1v2.7h-85.1zm0 16.5h85.1v2.6h-85.1zm0 42.4h85.1v1.4h-85.1zm0 44.5h85.1v1.6h-85.1zm0 16.9h85.1v2.2h-85.1zm0 30.5h85.1v1.4h-85.1zm0 67.1h85.1v2.2h-85.1zm0 11.7h85.1v2.7h-85.1zm0 511.3h85.1v2.4h-85.1zm0 3.2h85.1v1.5h-85.1zm0 2.4h85.1v1.7h-85.1zM1576.5 56.9h85.1v2.8h-85.1zm0 2.5h85.1v1.8h-85.1zm0 3h85.1v1.6h-85.1zm0 1.3h85.1v2.3h-85.1zm0 3.2h85.1v1.5h-85.1zm0 17.8h85.1v2.2h-85.1zm0 6.6h85.1v1.9h-85.1zm0 11.8h85.1v1.3h-85.1zm0 6.2h85.1v2.7h-85.1zm0 2.3h85.1v1.6h-85.1zm0 1.3h85.1v1.4h-85.1zm0 1.1h85.1v2h-85.1zm0 6.2h85.1v2.6h-85.1zm0 23.6h85.1v2.4h-85.1zm0 11.6h85.1v2.8h-85.1zm0 2.4h85.1v1.5h-85.1zm0 2.6h85.1v2.3h-85.1zm0 35.4h85.1v3.1h-85.1zm0 2.7h85.1v1.6h-85.1zm0 8.9h85.1v1.6h-85.1zm0 4h85.1v1.7h-85.1zm0 8.7h85.1v1.3h-85.1zm0 4h85.1v2.4h-85.1zm0 5.5h85.1v2.2h-85.1zm0 3.6h85.1v2.8h-85.1zm0 14.8h85.1v1.6h-85.1zm0 1.3h85.1v2.5h-85.1zm0 10.8h85.1v1.4h-85.1zm0 2.8h85.1v1.6h-85.1zm0 1.3h85.1v2.4h-85.1zm0 7.1h85.1v1.9h-85.1zm0 7.2h85.1v2.9h-85.1zm0 2.5h85.1v1.9h-85.1zm0 1.6h85.1v2.5h-85.1zm0 3.8h85.1v2.1h-85.1zm0 13.3h85.1v1.7h-85.1zm0 1.3h85.1v2.3h-85.1zm0 2h85.1v2.6h-85.1zm0 3.6h85.1v1.5h-85.1zm0 7.1h85.1v2.2h-85.1zm0 13.5h85.1v2.2h-85.1zm0 1.9h85.1v2.9h-85.1zm0 4.3h85.1v3.1h-85.1zm0 4h85.1v1.8h-85.1zm0 3.9h85.1v2.1h-85.1zm0 8.6h85.1v1.3h-85.1zm0 0.9h85.1v2.4h-85.1zm0 4.8h85.1v1.7h-85.1zm0 1.3h85.1v2.2h-85.1zm0 495.4h85.1v1.5h-85.1zm0 1.1h85.1v1.5h-85.1zm0 1.2h85.1v1.5h-85.1zm0 9.9h85.1v1.9h-85.1zM1746.2 84.7h85.1v2.2h-85.1zm0 84.6h85.1v3.1h-85.1zm0 168.1h85.1v1.8h-85.1zM1491.7 86.6h85.1v1.5h-85.1zm0 194.4h85.1v1.9h-85.1zm0 5.4h85.1v2.1h-85.1zm0 5h85.1v1.7h-85.1zm0 1.3h85.1v1.7h-85.1zm0 3h85.1v2.5h-85.1zm0 5.3h85.1v2.3h-85.1zm0 2h85.1v2.6h-85.1zm0 2.2h85.1v1.7h-85.1zm0 14.9h85.1v2.6h-85.1zm0 2.3h85.1v2.5h-85.1zm0 27.5h85.1v1.3h-85.1zm0 3h85.1v3h-85.1zM1661.3 109.3h85.1v2.7h-85.1zm0 3.6h85.1v1.4h-85.1zm0 17.6h85.1v2.8h-85.1zm0 19.9h85.1v1.3h-85.1zm0 61h85.1v1.7h-85.1zm0 36.6h85.1v1.6h-85.1zm0 30.5h85.1v2.9h-85.1zm0 6.2h85.1v2h-85.1zm0 3.5h85.1v1.6h-85.1zm0 7.5h85.1v2.5h-85.1zm0 37.7h85.1v3.1h-85.1zm0 2.8h85.1v1.6h-85.1zM1322 162.3h85.1v1.5h-85.1zm0 97.8h85.1v1.4h-85.1zm0 29.3h85.1v2.3h-85.1zm0 6.3h85.1v2.5h-85.1zm0 16.1h85.1v2.3h-85.1zm0 5.6h85.1v1.8h-85.1zm0 2.7h85.1v2.6h-85.1zm0 11.5h85.1v2.2h-85.1zm0 11.4h85.1v2.3h-85.1zm0 1.9h85.1v2.9h-85.1zm0 505.3h85.1v2.4h-85.1zm0 2.1h85.1v1.5h-85.1zm0 1.1h85.1v1.5h-85.1zm0 2.4h85.1v1.7h-85.1zm0 1.4h85.1v2.3h-85.1zm0 5.9h85.1v1.8h-85.1zm0 1.4h85.1v1.9h-85.1zm0 3h85.1v3.1h-85.1z"/>
<path fill="#72bbb1" d="M1152.3 54.3h85.1v2h-85.1zm0 5.1h85.1v1.8h-85.1zm0 3h85.1v1.6h-85.1zm0 1.3h85.1v2.3h-85.1zm0 4.3h85.1v2.1h-85.1zm0 5h85.1v2.3h-85.1zm0 1.9h85.1v1.9h-85.1zm0 1.6h85.1v3.1h-85.1zm0 2.7h85.1v1.4h-85.1zm0 1.1h85.1v3.1h-85.1zm0 2.7h85.1v2h-85.1zm0 15.1h85.1v3.1h-85.1zm0 2.7h85.1v2.7h-85.1zm0 3.2h85.1v3h-85.1zm0 7.6h85.1v1.6h-85.1zm0 1.3h85.1v1.4h-85.1zm0 1.1h85.1v2h-85.1zm0 1.7h85.1v2.9h-85.1zm0 4.5h85.1v2.6h-85.1zm0 5.6h85.1v2.6h-85.1zm0 14.8h85.1v2.3h-85.1zm0 5.2h85.1v2.2h-85.1zm0 9.6h85.1v2.8h-85.1zm0 2.4h85.1v1.5h-85.1zm0 10.4h85.1v1.4h-85.1zm0 1.1h85.1v3.1h-85.1zm0 5.4h85.1v2.7h-85.1zm0 4.8h85.1v1.9h-85.1zm0 1.6h85.1v2.5h-85.1zm0 11h85.1v2.4h-85.1zm0 3.7h85.1v3.1h-85.1zm0 2.7h85.1v1.6h-85.1zm0 1.3h85.1v2.7h-85.1zm0 2.4h85.1v2.6h-85.1zm0 6.4h85.1v3.1h-85.1zm0 6.8h85.1v2.3h-85.1zm0 5.6h85.1v2.2h-85.1zm0 3.1h85.1v2.4h-85.1zm0 5.5h85.1v2.2h-85.1zm0 1.9h85.1v2h-85.1zm0 12.4h85.1v1.3h-85.1zm0 5.4h85.1v2.5h-85.1zm0 4h85.1v1.7h-85.1zm0 5.3h85.1v1.9h-85.1zm0 1.5h85.1v1.4h-85.1zm0 1.1h85.1v2.1h-85.1zm0 1.7h85.1v1.6h-85.1zm0 4.7h85.1v1.5h-85.1zm0 1.1h85.1v2.9h-85.1zm0 4.2h85.1v1.8h-85.1zm0 3.3h85.1v2.6h-85.1zm0 2.3h85.1v2.9h-85.1zm0 6.2h85.1v2h-85.1zm0 4.7h85.1v2.3h-85.1zm0 15.8h85.1v1.7h-85.1zm0 547.1h85.1v1.5h-85.1zm0 3.5h85.1v1.7h-85.1zm0 1.4h85.1v2.3h-85.1zm0 5.9h85.1v1.8h-85.1zM1576.5 54.3h85.1v2h-85.1zm0 15.5h85.1v2.3h-85.1zm0 1.9h85.1v1.6h-85.1zm0 1.3h85.1v2.3h-85.1zm0 1.9h85.1v1.9h-85.1zm0 1.6h85.1v3.1h-85.1zm0 3.8h85.1v3.1h-85.1zm0 2.7h85.1v2h-85.1zm0 3.6h85.1v1.5h-85.1zm0 3.4h85.1v1.6h-85.1zm0 3.8h85.1v1.9h-85.1zm0 1.5h85.1v3.1h-85.1zm0 8.7h85.1v3h-85.1zm0 2.7h85.1v2.9h-85.1zm0 9h85.1v2.9h-85.1zm0 2.5h85.1v2.3h-85.1zm0 9.8h85.1v2.8h-85.1zm0 2.5h85.1v2.8h-85.1zm0 2.4h85.1v1.7h-85.1zm0 1.4h85.1v2.9h-85.1zm0 6.3h85.1v2.3h-85.1zm0 7.1h85.1v3.1h-85.1zm0 2.7h85.1v1.3h-85.1zm0 11.9h85.1v1.5h-85.1zm0 1.2h85.1v1.9h-85.1zm0 1.5h85.1v1.3h-85.1zm0 3.2h85.1v1.4h-85.1zm0 1.1h85.1v3.1h-85.1zm0 2.8h85.1v3h-85.1zm0 5h85.1v2.7h-85.1zm0 2.4h85.1v1.9h-85.1zm0 1.6h85.1v2.5h-85.1zm0 2.2h85.1v2.7h-85.1zm0 2.3h85.1v2.2h-85.1zm0 4.9h85.1v1.9h-85.1zm0 3.6h85.1v2h-85.1zm0 14.5h85.1v3.1h-85.1zm0 4.1h85.1v1.6h-85.1zm0 1.2h85.1v1.8h-85.1zm0 3.4h85.1v2.2h-85.1zm0 3.7h85.1v2.2h-85.1zm0 5.1h85.1v2.8h-85.1zm0 2.5h85.1v1.4h-85.1zm0 9.7h85.1v2h-85.1zm0 3h85.1v2.9h-85.1zm0 12h85.1v1.7h-85.1zm0 1.4h85.1v2h-85.1zm0 1.7h85.1v2.6h-85.1zm0 2.2h85.1v1.9h-85.1zm0 2.6h85.1v2.1h-85.1zm0 6.4h85.1v1.5h-85.1zm0 5.3h85.1v1.8h-85.1zm0 11.8h85.1v2h-85.1zm0 3.5h85.1v1.6h-85.1zm0 1.2h85.1v2.3h-85.1zm0 2h85.1v1.7h-85.1zm0 1.3h85.1v1.7h-85.1zm0 15h85.1v2.9h-85.1zm0 2.5h85.1v1.9h-85.1zm0 32.8h85.1v2.3h-85.1zm0 1.9h85.1v2.9h-85.1zm0 501h85.1v2.7h-85.1zm0 4.3h85.1v2.4h-85.1zm0 8.9h85.1v1.9h-85.1zm0 1.6h85.1v2.7h-85.1zm0 5.4h85.1v1.7h-85.1zm0 1.4h85.1v3.1h-85.1zM1067.5 56.0h85.1v1.3h-85.1zm0 12h85.1v2.1h-85.1zm0 3.7h85.1v1.6h-85.1zm0 1.3h85.1v2.3h-85.1zm0 1.9h85.1v1.9h-85.1zm0 4.3h85.1v1.4h-85.1zm0 12.1h85.1v1.9h-85.1zm0 12.7h85.1v3h-85.1zm0 18.5h85.1v1.7h-85.1zm0 21.3h85.1v2.4h-85.1zm0 33.3h85.1v2.7h-85.1zm0 2.4h85.1v1.9h-85.1zm0 7.9h85.1v1.4h-85.1zm0 14.8h85.1v2.6h-85.1zm0 17.9h85.1v1.3h-85.1zm0 4h85.1v2.4h-85.1zm0 14.2h85.1v2h-85.1zm0 3h85.1v2.9h-85.1zm0 27.4h85.1v2.9h-85.1zm0 36.5h85.1v1.7h-85.1zm0 14.9h85.1v2.6h-85.1zm0 16.1h85.1v1.6h-85.1zm0 509.7h85.1v2.7h-85.1zm0 4.3h85.1v2.4h-85.1zm0 5.6h85.1v1.7h-85.1zm0 1.4h85.1v2.3h-85.1zm0 5.9h85.1v1.8h-85.1zM1661.3 56.0h85.1v1.3h-85.1zm0 146.2h85.1v2.6h-85.1zm0 23.9h85.1v2.8h-85.1zm0 91.3h85.1v1.8h-85.1zM1237.2 62.4h85.1v1.6h-85.1zm0 10.6h85.1v2.3h-85.1zm0 10h85.1v2h-85.1zm0 77.4h85.1v2.3h-85.1zm0 30.1h85.1v1.9h-85.1zM1406.8 69.8h85.1v2.3h-85.1zm0 24h85.1v1.9h-85.1zm0 39.1h85.1v1.7h-85.1zm0 52.7h85.1v2.2h-85.1zm0 28.3h85.1v1.8h-85.1zm0 54.8h85.1v2.9h-85.1zm0 584.7h85.1v1.5h-85.1zm0 2.4h85.1v1.7h-85.1zm0 4.9h85.1v2.7h-85.1zM1746.2 140.6h85.1v2.3h-85.1zM1322 248.0h85.1v1.6h-85.1zm0 1.3h85.1v2.5h-85.1zm0 14.9h85.1v2.4h-85.1zm0 20.5h85.1v2h-85.1zm0 1.7h85.1v2.1h-85.1zm0 1.8h85.1v1.6h-85.1zm0 3.2h85.1v1.7h-85.1zm0 1.3h85.1v1.7h-85.1zm0 1.3h85.1v2.1h-85.1zm0 5.7h85.1v1.7h-85.1zm0 3.3h85.1v2.6h-85.1zm0 3.6h85.1v1.5h-85.1zm0 1.1h85.1v2.9h-85.1zm0 2.5h85.1v1.9h-85.1zm0 8.7h85.1v1.5h-85.1zm0 3.5h85.1v2.5h-85.1zm0 2.1h85.1v3h-85.1zm0 2.7h85.1v2.2h-85.1zm0 9h85.1v1.6h-85.1zm0 1.2h85.1v1.8h-85.1zm0 1.5h85.1v2.7h-85.1zm0 2.4h85.1v2.1h-85.1zm0 9.5h85.1v2.4h-85.1zm0 2.1h85.1v3h-85.1zm0 2.7h85.1v1.7h-85.1zm0 3.2h85.1v1h-85.1zM1491.7 289.4h85.1v2.3h-85.1zm0 17.2h85.1v1.5h-85.1zm0 1.1h85.1v2.9h-85.1zm0 4.1h85.1v2.3h-85.1zm0 5.6h85.1v1.8h-85.1zm0 9.8h85.1v2.2h-85.1zm0 1.9h85.1v2.9h-85.1zm0 8.3h85.1v1.8h-85.1zm0 18.2h85.1v1.7h-85.1zm0 1.3h85.1v2.2h-85.1z"/>
<path fill="#f5e6c8" d="M1237.2 54.3h85.1v2h-85.1zm0 2.6h85.1v2.8h-85.1zm0 2.5h85.1v1.8h-85.1zm0 6.3h85.1v1.6h-85.1zm0 2.3h85.1v2.1h-85.1zm0 1.8h85.1v2.3h-85.1zm0 1.9h85.1v1.6h-85.1zm0 3.2h85.1v1.9h-85.1zm0 1.6h85.1v3.1h-85.1zm0 2.7h85.1v1.4h-85.1zm0 1.1h85.1v3.1h-85.1zm0 4.4h85.1v2.2h-85.1zm0 1.9h85.1v1.5h-85.1zm0 1.2h85.1v2.6h-85.1zm0 3.5h85.1v1.9h-85.1zm0 1.5h85.1v1.3h-85.1zm0 1h85.1v1.9h-85.1zm0 1.5h85.1v3.1h-85.1zm0 2.8h85.1v3.1h-85.1zm0 2.7h85.1v2.7h-85.1zm0 5.9h85.1v2.9h-85.1zm0 4.9h85.1v1.6h-85.1zm0 1.3h85.1v1.4h-85.1zm0 1.1h85.1v2h-85.1zm0 1.7h85.1v2.9h-85.1zm0 2.5h85.1v2.3h-85.1zm0 2h85.1v2.6h-85.1zm0 2.3h85.1v1.7h-85.1zm0 1.4h85.1v2.2h-85.1zm0 4.1h85.1v2.8h-85.1zm0 2.5h85.1v2.8h-85.1zm0 2.4h85.1v1.7h-85.1zm0 1.4h85.1v2.9h-85.1zm0 2.5h85.1v1.7h-85.1zm0 1.3h85.1v2.8h-85.1zm0 2.5h85.1v2.3h-85.1zm0 1.9h85.1v1.6h-85.1zm0 1.3h85.1v2.4h-85.1zm0 2h85.1v2.2h-85.1zm0 1.9h85.1v3.1h-85.1zm0 2.7h85.1v1.3h-85.1zm0 1h85.1v1.6h-85.1zm0 1.2h85.1v3.1h-85.1zm0 2.8h85.1v2.8h-85.1zm0 2.4h85.1v1.5h-85.1zm0 4.5h85.1v1.5h-85.1zm0 1.2h85.1v1.9h-85.1zm0 1.5h85.1v1.3h-85.1zm0 4.3h85.1v3.1h-85.1zm0 2.8h85.1v3h-85.1zm0 5h85.1v2.7h-85.1zm0 2.4h85.1v1.9h-85.1zm0 1.6h85.1v2.5h-85.1zm0 2.2h85.1v2.7h-85.1zm0 2.3h85.1v2.2h-85.1zm0 1.8h85.1v1.4h-85.1zm0 1.1h85.1v2.4h-85.1zm0 3.6h85.1v2.4h-85.1zm0 2h85.1v2h-85.1zm0 1.7h85.1v3.1h-85.1zm0 2.7h85.1v1.6h-85.1zm0 1.3h85.1v2.7h-85.1zm0 2.4h85.1v2.6h-85.1zm0 2.2h85.1v2.3h-85.1zm0 2h85.1v1.4h-85.1zm0 1h85.1v1.6h-85.1zm0 1.2h85.1v3.1h-85.1zm0 2.8h85.1v1.7h-85.1zm0 2.5h85.1v1.8h-85.1zm0 1.5h85.1v2.3h-85.1zm0 1.9h85.1v2.2h-85.1zm0 1.9h85.1v1.3h-85.1zm0 0.9h85.1v1.3h-85.1zm0 0.9h85.1v2.2h-85.1zm0 1.8h85.1v1.6h-85.1zm0 1.3h85.1v2.4h-85.1zm0 2h85.1v2.8h-85.1zm0 2.5h85.1v1.4h-85.1zm0 2.9h85.1v2h-85.1zm0 1.7h85.1v2.8h-85.1zm0 2.4h85.1v3.1h-85.1zm0 2.7h85.1v2h-85.1zm0 1.7h85.1v1.7h-85.1zm0 1.3h85.1v2.9h-85.1zm0 2.6h85.1v1.3h-85.1zm0 1h85.1v1.9h-85.1zm0 1.5h85.1v2h-85.1zm0 1.6h85.1v1.6h-85.1zm0 1.3h85.1v2.5h-85.1zm0 2.2h85.1v2.2h-85.1zm0 1.8h85.1v1.7h-85.1zm0 1.4h85.1v2h-85.1zm0 1.7h85.1v2.6h-85.1zm0 2.2h85.1v1.9h-85.1zm0 2.6h85.1v2.1h-85.1zm0 1.7h85.1v1.6h-85.1zm0 1.3h85.1v2.4h-85.1zm0 2.1h85.1v1.6h-85.1zm0 1.3h85.1v1.5h-85.1zm0 1.1h85.1v2.9h-85.1zm0 2.6h85.1v1.9h-85.1zm0 1.6h85.1v1.8h-85.1zm0 1.4h85.1v2.3h-85.1zm0 1.9h85.1v2.6h-85.1zm0 2.3h85.1v2.9h-85.1zm0 2.5h85.1v1.9h-85.1zm0 1.6h85.1v2.5h-85.1zm0 2.1h85.1v2h-85.1zm0 1.7h85.1v2.1h-85.1zm0 1.8h85.1v1.6h-85.1zm0 1.2h85.1v2.3h-85.1zm0 2h85.1v1.7h-85.1zm0 1.3h85.1v1.7h-85.1zm0 1.3h85.1v2.1h-85.1zm0 1.7h85.1v2.5h-85.1zm0 4h85.1v1.7h-85.1zm0 1.3h85.1v2.3h-85.1zm0 2h85.1v2.6h-85.1zm0 2.2h85.1v1.7h-85.1zm0 1.4h85.1v1.5h-85.1zm0 1.1h85.1v2.9h-85.1zm0 2.5h85.1v1.9h-85.1zm0 1.6h85.1v2.3h-85.1zm0 1.9h85.1v2.2h-85.1zm0 3.7h85.1v1.8h-85.1zm0 1.5h85.1v1.5h-85.1zm0 1.2h85.1v2.6h-85.1zm0 2.3h85.1v2.5h-85.1zm0 2.1h85.1v3h-85.1zm0 4.6h85.1v2.9h-85.1zm0 2.5h85.1v2.2h-85.1zm0 1.8h85.1v3.1h-85.1zm0 2.8h85.1v1.6h-85.1zm0 1.2h85.1v1.8h-85.1zm0 3.9h85.1v2.1h-85.1zm0 1.7h85.1v2.3h-85.1zm0 1.9h85.1v2.9h-85.1zm0 2.6h85.1v1.7h-85.1zm0 1.3h85.1v1.4h-85.1zm0 1.1h85.1v1.3h-85.1zm0 0.9h85.1v2.4h-85.1zm0 2.1h85.1v3h-85.1zm0 2.7h85.1v1.7h-85.1zm0 1.3h85.1v2.2h-85.1zm0 1.9h85.1v1h-85.1zm0 487.1h85.1v2.7h-85.1zm0 2.3h85.1v2.3h-85.1zm0 4.1h85.1v1.5h-85.1zm0 2.3h85.1v1.5h-85.1zm0 2.6h85.1v2.3h-85.1zm0 1.9h85.1v1.9h-85.1zm0 1.6h85.1v2.7h-85.1zm0 2.4h85.1v1.8h-85.1zm0 1.4h85.1v1.9h-85.1zm0 1.6h85.1v1.7h-85.1zm0 1.4h85.1v3.1h-85.1zM1322 54.3h85.1v2h-85.1zm0 1.7h85.1v1.3h-85.1zm0 0.9h85.1v2.8h-85.1zm0 2.5h85.1v1.8h-85.1zm0 1.4h85.1v1.9h-85.1zm0 1.6h85.1v1.6h-85.1zm0 1.3h85.1v2.3h-85.1zm0 2h85.1v1.6h-85.1zm0 1.2h85.1v1.5h-85.1zm0 1.1h85.1v2.1h-85.1zm0 1.8h85.1v2.3h-85.1zm0 1.9h85.1v1.6h-85.1zm0 1.3h85.1v2.3h-85.1zm0 1.9h85.1v1.9h-85.1zm0 1.6h85.1v3.1h-85.1zm0 2.7h85.1v1.4h-85.1zm0 1.1h85.1v3.1h-85.1zm0 2.7h85.1v2h-85.1zm0 1.7h85.1v2.2h-85.1zm0 1.9h85.1v1.5h-85.1zm0 1.2h85.1v2.6h-85.1zm0 2.2h85.1v1.6h-85.1zm0 1.3h85.1v1.9h-85.1zm0 1.5h85.1v1.3h-85.1zm0 1h85.1v1.9h-85.1zm0 1.5h85.1v3.1h-85.1zm0 2.8h85.1v3.1h-85.1zm0 2.7h85.1v2.7h-85.1zm0 2.3h85.1v1.3h-85.1zm0 0.9h85.1v3h-85.1zm0 2.7h85.1v2.9h-85.1zm0 2.6h85.1v2.7h-85.1zm0 2.3h85.1v1.6h-85.1zm0 1.3h85.1v1.4h-85.1zm0 1.1h85.1v2h-85.1zm0 1.7h85.1v2.9h-85.1zm0 2.5h85.1v2.3h-85.1zm0 2h85.1v2.6h-85.1zm0 2.3h85.1v1.7h-85.1zm0 1.4h85.1v2.2h-85.1zm0 1.9h85.1v2.6h-85.1zm0 2.2h85.1v2.8h-85.1zm0 2.5h85.1v2.8h-85.1zm0 2.4h85.1v1.7h-85.1zm0 1.4h85.1v2.9h-85.1zm0 2.5h85.1v1.7h-85.1zm0 1.3h85.1v2.8h-85.1zm0 2.5h85.1v2.3h-85.1zm0 1.9h85.1v1.6h-85.1zm0 1.3h85.1v2.4h-85.1zm0 2h85.1v2.2h-85.1zm0 1.9h85.1v3.1h-85.1zm0 2.7h85.1v1.3h-85.1zm0 1h85.1v1.6h-85.1zm0 1.2h85.1v3.1h-85.1zm0 2.8h85.1v2.8h-85.1zm0 2.4h85.1v1.5h-85.1zm0 1.2h85.1v1.7h-85.1zm0 1.4h85.1v2.3h-85.1zm0 3.1h85.1v1.9h-85.1zm0 1.5h85.1v1.3h-85.1zm0 1h85.1v2.6h-85.1zm0 2.2h85.1v1.4h-85.1zm0 1.1h85.1v3.1h-85.1zm0 2.8h85.1v3h-85.1zm0 2.6h85.1v2.7h-85.1zm0 2.4h85.1v2.7h-85.1zm0 2.4h85.1v1.9h-85.1zm0 1.6h85.1v2.5h-85.1zm0 2.2h85.1v2.7h-85.1zm0 2.3h85.1v2.2h-85.1zm0 1.8h85.1v1.4h-85.1zm0 1.1h85.1v2.4h-85.1zm0 2h85.1v1.9h-85.1zm0 1.6h85.1v2.4h-85.1zm0 2h85.1v2h-85.1zm0 1.7h85.1v3.1h-85.1zm0 2.7h85.1v1.6h-85.1zm0 1.3h85.1v2.7h-85.1zm0 2.4h85.1v2.6h-85.1zm0 2.2h85.1v2.3h-85.1zm0 2h85.1v1.4h-85.1zm0 1h85.1v1.6h-85.1zm0 1.2h85.1v3.1h-85.1zm0 2.8h85.1v1.7h-85.1zm0 1.3h85.1v1.6h-85.1zm0 1.2h85.1v1.8h-85.1zm0 1.5h85.1v2.3h-85.1zm0 1.9h85.1v2.2h-85.1zm0 1.9h85.1v1.3h-85.1zm0 0.9h85.1v1.3h-85.1zm0 0.9h85.1v2.2h-85.1zm0 1.8h85.1v1.6h-85.1zm0 1.3h85.1v2.4h-85.1zm0 2h85.1v2.8h-85.1zm0 2.5h85.1v1.4h-85.1zm0 1h85.1v2.2h-85.1zm0 1.9h85.1v2h-85.1zm0 1.7h85.1v2.8h-85.1zm0 2.4h85.1v3.1h-85.1zm0 2.7h85.1v2h-85.1zm0 1.7h85.1v1.7h-85.1zm0 1.3h85.1v2.9h-85.1zm0 2.6h85.1v1.3h-85.1zm0 1h85.1v1.9h-85.1zm0 1.5h85.1v2h-85.1zm0 5.1h85.1v2.2h-85.1zm0 1.8h85.1v1.7h-85.1zm0 1.4h85.1v2h-85.1zm0 1.7h85.1v2.6h-85.1zm0 2.2h85.1v1.9h-85.1zm0 2.6h85.1v2.1h-85.1zm0 1.7h85.1v1.6h-85.1zm0 3.4h85.1v1.6h-85.1zm0 1.3h85.1v1.5h-85.1zm0 1.1h85.1v2.9h-85.1zm0 2.6h85.1v1.9h-85.1zm0 1.6h85.1v1.8h-85.1zm0 1.4h85.1v2.3h-85.1zm0 1.9h85.1v2.6h-85.1zm0 2.3h85.1v2.9h-85.1zm0 4.1h85.1v2.5h-85.1zm0 18.4h85.1v2.3h-85.1zm0 4.2h85.1v1.7h-85.1zm0 42.3h85.1v1.7h-85.1zm0 2.4h85.1v1.3h-85.1zM1491.7 54.3h85.1v2h-85.1zm0 1.7h85.1v1.3h-85.1zm0 0.9h85.1v2.8h-85.1zm0 2.5h85.1v1.8h-85.1zm0 1.4h85.1v1.9h-85.1zm0 1.6h85.1v1.6h-85.1zm0 1.3h85.1v2.3h-85.1zm0 2h85.1v1.6h-85.1zm0 1.2h85.1v1.5h-85.1zm0 1.1h85.1v2.1h-85.1zm0 1.8h85.1v2.3h-85.1zm0 1.9h85.1v1.6h-85.1zm0 1.3h85.1v2.3h-85.1zm0 1.9h85.1v1.9h-85.1zm0 1.6h85.1v3.1h-85.1zm0 2.7h85.1v1.4h-85.1zm0 1.1h85.1v3.1h-85.1zm0 2.7h85.1v2h-85.1zm0 1.7h85.1v2.2h-85.1zm0 3.1h85.1v2.6h-85.1zm0 2.2h85.1v1.6h-85.1zm0 1.3h85.1v1.9h-85.1zm0 1.5h85.1v1.3h-85.1zm0 1h85.1v1.9h-85.1zm0 1.5h85.1v3.1h-85.1zm0 2.8h85.1v3.1h-85.1zm0 2.7h85.1v2.7h-85.1zm0 2.3h85.1v1.3h-85.1zm0 0.9h85.1v3h-85.1zm0 2.7h85.1v2.9h-85.1zm0 2.6h85.1v2.7h-85.1zm0 2.3h85.1v1.6h-85.1zm0 1.3h85.1v1.4h-85.1zm0 1.1h85.1v2h-85.1zm0 1.7h85.1v2.9h-85.1zm0 2.5h85.1v2.3h-85.1zm0 2h85.1v2.6h-85.1zm0 2.3h85.1v1.7h-85.1zm0 1.4h85.1v2.2h-85.1zm0 1.9h85.1v2.6h-85.1zm0 2.2h85.1v2.8h-85.1zm0 2.5h85.1v2.8h-85.1zm0 2.4h85.1v1.7h-85.1zm0 1.4h85.1v2.9h-85.1zm0 2.5h85.1v1.7h-85.1zm0 1.3h85.1v2.8h-85.1zm0 2.5h85.1v2.3h-85.1zm0 1.9h85.1v1.6h-85.1zm0 1.3h85.1v2.4h-85.1zm0 2h85.1v2.2h-85.1zm0 1.9h85.1v3.1h-85.1zm0 2.7h85.1v1.3h-85.1zm0 1h85.1v1.6h-85.1zm0 1.2h85.1v3.1h-85.1zm0 2.8h85.1v2.8h-85.1zm0 2.4h85.1v1.5h-85.1zm0 1.2h85.1v1.7h-85.1zm0 1.4h85.1v2.3h-85.1zm0 1.9h85.1v1.5h-85.1zm0 1.2h85.1v1.9h-85.1zm0 1.5h85.1v1.3h-85.1zm0 1h85.1v2.6h-85.1zm0 2.2h85.1v1.4h-85.1zm0 1.1h85.1v3.1h-85.1zm0 2.8h85.1v3h-85.1zm0 2.6h85.1v2.7h-85.1zm0 2.4h85.1v2.7h-85.1zm0 2.4h85.1v1.9h-85.1zm0 1.6h85.1v2.5h-85.1zm0 2.2h85.1v2.7h-85.1zm0 2.3h85.1v2.2h-85.1zm0 1.8h85.1v1.4h-85.1zm0 1.1h85.1v2.4h-85.1zm0 2h85.1v1.9h-85.1zm0 1.6h85.1v2.4h-85.1zm0 2h85.1v2h-85.1zm0 1.7h85.1v3.1h-85.1zm0 2.7h85.1v1.6h-85.1zm0 1.3h85.1v2.7h-85.1zm0 2.4h85.1v2.6h-85.1zm0 2.2h85.1v2.3h-85.1zm0 2h85.1v1.4h-85.1zm0 1h85.1v1.6h-85.1zm0 1.2h85.1v3.1h-85.1zm0 2.8h85.1v1.7h-85.1zm0 1.3h85.1v1.6h-85.1zm0 1.2h85.1v1.8h-85.1zm0 1.5h85.1v2.3h-85.1zm0 1.9h85.1v2.2h-85.1zm0 1.9h85.1v1.3h-85.1zm0 0.9h85.1v1.3h-85.1zm0 0.9h85.1v2.2h-85.1zm0 1.8h85.1v1.6h-85.1zm0 1.3h85.1v2.4h-85.1zm0 4.5h85.1v1.4h-85.1zm0 1h85.1v2.2h-85.1zm0 1.9h85.1v2h-85.1zm0 1.7h85.1v2.8h-85.1zm0 2.4h85.1v3.1h-85.1zm0 2.7h85.1v2h-85.1zm0 1.7h85.1v1.7h-85.1zm0 1.3h85.1v2.9h-85.1zm0 2.6h85.1v1.3h-85.1zm0 1h85.1v1.9h-85.1zm0 1.5h85.1v2h-85.1zm0 1.6h85.1v1.6h-85.1zm0 1.3h85.1v2.5h-85.1zm0 2.2h85.1v2.2h-85.1zm0 1.8h85.1v1.7h-85.1zm0 1.4h85.1v2h-85.1zm0 1.7h85.1v2.6h-85.1zm0 2.2h85.1v1.9h-85.1zm0 1.5h85.1v1.4h-85.1zm0 1.1h85.1v2.1h-85.1zm0 1.7h85.1v1.6h-85.1zm0 1.3h85.1v2.4h-85.1zm0 2.1h85.1v1.6h-85.1zm0 1.3h85.1v1.5h-85.1zm0 1.1h85.1v2.9h-85.1zm0 2.6h85.1v1.9h-85.1zm0 1.6h85.1v1.8h-85.1zm0 1.4h85.1v2.3h-85.1zm0 1.9h85.1v2.6h-85.1zm0 2.3h85.1v2.9h-85.1zm0 4.1h85.1v2.5h-85.1zm0 2.1h85.1v2h-85.1zm0 3.5h85.1v1.6h-85.1zm0 5.8h85.1v2.1h-85.1zm0 5.7h85.1v1.7h-85.1zm0 10.5h85.1v1.9h-85.1zm0 8.7h85.1v1.5h-85.1zm0 5.6h85.1v3h-85.1zm0 7.1h85.1v2.2h-85.1zm0 1.8h85.1v3.1h-85.1zm0 5.5h85.1v2.7h-85.1zm0 4.1h85.1v2.3h-85.1zm0 1.9h85.1v2.9h-85.1zm0 2.6h85.1v1.7h-85.1zm0 1.3h85.1v1.4h-85.1zm0 2h85.1v2.4h-85.1zm0 495.1h85.1v2.7h-85.1zm0 2.3h85.1v2.3h-85.1zm0 2h85.1v2.4h-85.1zm0 2.1h85.1v1.5h-85.1zm0 1.1h85.1v1.5h-85.1zm0 1.2h85.1v1.5h-85.1zm0 1.2h85.1v1.7h-85.1zm0 1.4h85.1v2.3h-85.1zm0 1.9h85.1v1.9h-85.1zm0 1.6h85.1v2.7h-85.1zm0 2.4h85.1v1.8h-85.1zm0 1.4h85.1v1.9h-85.1zm0 1.6h85.1v1.7h-85.1zm0 1.4h85.1v3.1h-85.1zM1661.3 54.3h85.1v2h-85.1zm0 2.6h85.1v2.8h-85.1zm0 2.5h85.1v1.8h-85.1zm0 1.4h85.1v1.9h-85.1zm0 1.6h85.1v1.6h-85.1zm0 1.3h85.1v2.3h-85.1zm0 2h85.1v1.6h-85.1zm0 1.2h85.1v1.5h-85.1zm0 1.1h85.1v2.1h-85.1zm0 1.8h85.1v2.3h-85.1zm0 1.9h85.1v1.6h-85.1zm0 1.3h85.1v2.3h-85.1zm0 1.9h85.1v1.9h-85.1zm0 1.6h85.1v3.1h-85.1zm0 2.7h85.1v1.4h-85.1zm0 1.1h85.1v3.1h-85.1zm0 2.7h85.1v2h-85.1zm0 1.7h85.1v2.2h-85.1zm0 1.9h85.1v1.5h-85.1zm0 1.2h85.1v2.6h-85.1zm0 2.2h85.1v1.6h-85.1zm0 1.3h85.1v1.9h-85.1zm0 1.5h85.1v1.3h-85.1zm0 1h85.1v1.9h-85.1zm0 1.5h85.1v3.1h-85.1zm0 2.8h85.1v3.1h-85.1zm0 2.7h85.1v2.7h-85.1zm0 2.3h85.1v1.3h-85.1zm0 0.9h85.1v3h-85.1zm0 2.7h85.1v2.9h-85.1zm0 4.9h85.1v1.6h-85.1zm0 2.4h85.1v2h-85.1zm0 1.7h85.1v2.9h-85.1zm0 2.5h85.1v2.3h-85.1zm0 2h85.1v2.6h-85.1zm0 2.3h85.1v1.7h-85.1zm0 1.4h85.1v2.2h-85.1zm0 1.9h85.1v2.6h-85.1zm0 2.2h85.1v2.8h-85.1zm0 4.9h85.1v1.7h-85.1zm0 1.4h85.1v2.9h-85.1zm0 2.5h85.1v1.7h-85.1zm0 1.3h85.1v2.8h-85.1zm0 2.5h85.1v2.3h-85.1zm0 1.9h85.1v1.6h-85.1zm0 1.3h85.1v2.4h-85.1zm0 2h85.1v2.2h-85.1zm0 1.9h85.1v3.1h-85.1zm0 3.7h85.1v1.6h-85.1zm0 1.2h85.1v3.1h-85.1zm0 2.8h85.1v2.8h-85.1zm0 2.4h85.1v1.5h-85.1zm0 1.2h85.1v1.7h-85.1zm0 1.4h85.1v2.3h-85.1zm0 1.9h85.1v1.5h-85.1zm0 1.2h85.1v1.9h-85.1zm0 1.5h85.1v1.3h-85.1zm0 1h85.1v2.6h-85.1zm0 2.2h85.1v1.4h-85.1zm0 1.1h85.1v3.1h-85.1zm0 2.8h85.1v3h-85.1zm0 2.6h85.1v2.7h-85.1zm0 2.4h85.1v2.7h-85.1zm0 2.4h85.1v1.9h-85.1zm0 1.6h85.1v2.5h-85.1zm0 2.2h85.1v2.7h-85.1zm0 2.3h85.1v2.2h-85.1zm0 1.8h85.1v1.4h-85.1zm0 1.1h85.1v2.4h-85.1zm0 2h85.1v1.9h-85.1zm0 1.6h85.1v2.4h-85.1zm0 2h85.1v2h-85.1zm0 1.7h85.1v3.1h-85.1zm0 2.7h85.1v1.6h-85.1zm0 1.3h85.1v2.7h-85.1zm0 4.6h85.1v2.3h-85.1zm0 2h85.1v1.4h-85.1zm0 1h85.1v1.6h-85.1zm0 1.2h85.1v3.1h-85.1zm0 4.1h85.1v1.6h-85.1zm0 1.2h85.1v1.8h-85.1zm0 1.5h85.1v2.3h-85.1zm0 1.9h85.1v2.2h-85.1zm0 1.9h85.1v1.3h-85.1zm0 0.9h85.1v1.3h-85.1zm0 0.9h85.1v2.2h-85.1zm0 1.8h85.1v1.6h-85.1zm0 1.3h85.1v2.4h-85.1zm0 4.5h85.1v1.4h-85.1zm0 1h85.1v2.2h-85.1zm0 1.9h85.1v2h-85.1zm0 1.7h85.1v2.8h-85.1zm0 2.4h85.1v3.1h-85.1zm0 2.7h85.1v2h-85.1zm0 1.7h85.1v1.7h-85.1zm0 1.3h85.1v2.9h-85.1zm0 2.6h85.1v1.3h-85.1zm0 1h85.1v1.9h-85.1zm0 1.5h85.1v2h-85.1zm0 2.9h85.1v2.5h-85.1zm0 2.2h85.1v2.2h-85.1zm0 1.8h85.1v1.7h-85.1zm0 1.4h85.1v2h-85.1zm0 1.7h85.1v2.6h-85.1zm0 2.2h85.1v1.9h-85.1zm0 1.5h85.1v1.4h-85.1zm0 1.1h85.1v2.1h-85.1zm0 1.7h85.1v1.6h-85.1zm0 1.3h85.1v2.4h-85.1zm0 2.1h85.1v1.6h-85.1zm0 1.3h85.1v1.5h-85.1zm0 1.1h85.1v2.9h-85.1zm0 2.6h85.1v1.9h-85.1zm0 1.6h85.1v1.8h-85.1zm0 1.4h85.1v2.3h-85.1zm0 1.9h85.1v2.6h-85.1zm0 4.8h85.1v1.9h-85.1zm0 1.6h85.1v2.5h-85.1zm0 3.8h85.1v2.1h-85.1zm0 3h85.1v2.3h-85.1zm0 2h85.1v1.7h-85.1zm0 1.3h85.1v1.7h-85.1zm0 1.3h85.1v2.1h-85.1zm0 5.7h85.1v1.7h-85.1zm0 1.3h85.1v2.3h-85.1zm0 2h85.1v2.6h-85.1zm0 2.2h85.1v1.7h-85.1zm0 1.4h85.1v1.5h-85.1zm0 1.1h85.1v2.9h-85.1zm0 2.5h85.1v1.9h-85.1zm0 1.6h85.1v2.3h-85.1zm0 1.9h85.1v2.2h-85.1zm0 5.2h85.1v1.5h-85.1zm0 1.2h85.1v2.6h-85.1zm0 2.3h85.1v2.5h-85.1zm0 2.1h85.1v3h-85.1zm0 2.7h85.1v2.2h-85.1zm0 1.9h85.1v2.9h-85.1zm0 2.5h85.1v2.2h-85.1zm0 5.8h85.1v1.8h-85.1zm0 1.5h85.1v2.7h-85.1zm0 2.4h85.1v2.1h-85.1zm0 1.7h85.1v2.3h-85.1zm0 1.9h85.1v2.9h-85.1zm0 2.6h85.1v1.7h-85.1zm0 1.3h85.1v1.4h-85.1zm0 1.1h85.1v1.3h-85.1zm0 0.9h85.1v2.4h-85.1zm0 2.1h85.1v3h-85.1zm0 2.7h85.1v1.7h-85.1zm0 1.3h85.1v2.2h-85.1zm0 1.9h85.1v1h-85.1zm0 487.1h85.1v2.7h-85.1zm0 2.3h85.1v2.3h-85.1zm0 2h85.1v2.4h-85.1zm0 2.1h85.1v1.5h-85.1zm0 1.1h85.1v1.5h-85.1zm0 1.2h85.1v1.5h-85.1zm0 1.2h85.1v1.7h-85.1zm0 1.4h85.1v2.3h-85.1zm0 1.9h85.1v1.9h-85.1zm0 1.6h85.1v2.7h-85.1zm0 2.4h85.1v1.8h-85.1zm0 1.4h85.1v1.9h-85.1zm0 1.6h85.1v1.7h-85.1zm0 1.4h85.1v3.1h-85.1zM1746.2 54.3h85.1v2h-85.1zm0 1.7h85.1v1.3h-85.1zm0 0.9h85.1v2.8h-85.1zm0 2.5h85.1v1.8h-85.1zm0 1.4h85.1v1.9h-85.1zm0 1.6h85.1v1.6h-85.1zm0 1.3h85.1v2.3h-85.1zm0 2h85.1v1.6h-85.1zm0 1.2h85.1v1.5h-85.1zm0 1.1h85.1v2.1h-85.1zm0 1.8h85.1v2.3h-85.1zm0 1.9h85.1v1.6h-85.1zm0 1.3h85.1v2.3h-85.1zm0 1.9h85.1v1.9h-85.1zm0 1.6h85.1v3.1h-85.1zm0 2.7h85.1v1.4h-85.1zm0 1.1h85.1v3.1h-85.1zm0 2.7h85.1v2h-85.1zm0 3.6h85.1v1.5h-85.1zm0 1.2h85.1v2.6h-85.1zm0 2.2h85.1v1.6h-85.1zm0 1.3h85.1v1.9h-85.1zm0 1.5h85.1v1.3h-85.1zm0 1h85.1v1.9h-85.1zm0 1.5h85.1v3.1h-85.1zm0 2.8h85.1v3.1h-85.1zm0 2.7h85.1v2.7h-85.1zm0 2.3h85.1v1.3h-85.1zm0 0.9h85.1v3h-85.1zm0 2.7h85.1v2.9h-85.1zm0 2.6h85.1v2.7h-85.1zm0 2.3h85.1v1.6h-85.1zm0 1.3h85.1v1.4h-85.1zm0 1.1h85.1v2h-85.1zm0 1.7h85.1v2.9h-85.1zm0 2.5h85.1v2.3h-85.1zm0 2h85.1v2.6h-85.1zm0 2.3h85.1v1.7h-85.1zm0 1.4h85.1v2.2h-85.1zm0 1.9h85.1v2.6h-85.1zm0 2.2h85.1v2.8h-85.1zm0 2.5h85.1v2.8h-85.1zm0 2.4h85.1v1.7h-85.1zm0 1.4h85.1v2.9h-85.1zm0 2.5h85.1v1.7h-85.1zm0 1.3h85.1v2.8h-85.1zm0 4.4h85.1v1.6h-85.1zm0 1.3h85.1v2.4h-85.1zm0 2h85.1v2.2h-85.1zm0 1.9h85.1v3.1h-85.1zm0 2.7h85.1v1.3h-85.1zm0 1h85.1v1.6h-85.1zm0 1.2h85.1v3.1h-85.1zm0 2.8h85.1v2.8h-85.1zm0 2.4h85.1v1.5h-85.1zm0 1.2h85.1v1.7h-85.1zm0 1.4h85.1v2.3h-85.1zm0 1.9h85.1v1.5h-85.1zm0 1.2h85.1v1.9h-85.1zm0 1.5h85.1v1.3h-85.1zm0 1h85.1v2.6h-85.1zm0 2.2h85.1v1.4h-85.1zm0 3.9h85.1v3h-85.1zm0 2.6h85.1v2.7h-85.1zm0 2.4h85.1v2.7h-85.1zm0 2.4h85.1v1.9h-85.1zm0 1.6h85.1v2.5h-85.1zm0 2.2h85.1v2.7h-85.1zm0 2.3h85.1v2.2h-85.1zm0 1.8h85.1v1.4h-85.1zm0 1.1h85.1v2.4h-85.1zm0 2h85.1v1.9h-85.1zm0 1.6h85.1v2.4h-85.1zm0 2h85.1v2h-85.1zm0 1.7h85.1v3.1h-85.1zm0 2.7h85.1v1.6h-85.1zm0 1.3h85.1v2.7h-85.1zm0 2.4h85.1v2.6h-85.1zm0 2.2h85.1v2.3h-85.1zm0 2h85.1v1.4h-85.1zm0 1h85.1v1.6h-85.1zm0 1.2h85.1v3.1h-85.1zm0 2.8h85.1v1.7h-85.1zm0 1.3h85.1v1.6h-85.1zm0 1.2h85.1v1.8h-85.1zm0 1.5h85.1v2.3h-85.1zm0 1.9h85.1v2.2h-85.1zm0 1.9h85.1v1.3h-85.1zm0 0.9h85.1v1.3h-85.1zm0 0.9h85.1v2.2h-85.1zm0 1.8h85.1v1.6h-85.1zm0 1.3h85.1v2.4h-85.1zm0 2h85.1v2.8h-85.1zm0 2.5h85.1v1.4h-85.1zm0 1h85.1v2.2h-85.1zm0 1.9h85.1v2h-85.1zm0 1.7h85.1v2.8h-85.1zm0 2.4h85.1v3.1h-85.1zm0 2.7h85.1v2h-85.1zm0 1.7h85.1v1.7h-85.1zm0 1.3h85.1v2.9h-85.1zm0 2.6h85.1v1.3h-85.1zm0 1h85.1v1.9h-85.1zm0 1.5h85.1v2h-85.1zm0 1.6h85.1v1.6h-85.1zm0 1.3h85.1v2.5h-85.1zm0 2.2h85.1v2.2h-85.1zm0 1.8h85.1v1.7h-85.1zm0 1.4h85.1v2h-85.1zm0 1.7h85.1v2.6h-85.1zm0 2.2h85.1v1.9h-85.1zm0 1.5h85.1v1.4h-85.1zm0 1.1h85.1v2.1h-85.1zm0 1.7h85.1v1.6h-85.1zm0 1.3h85.1v2.4h-85.1zm0 2.1h85.1v1.6h-85.1zm0 1.3h85.1v1.5h-85.1zm0 1.1h85.1v2.9h-85.1zm0 2.6h85.1v1.9h-85.1zm0 1.6h85.1v1.8h-85.1zm0 1.4h85.1v2.3h-85.1zm0 1.9h85.1v2.6h-85.1zm0 2.3h85.1v2.9h-85.1zm0 2.5h85.1v1.9h-85.1zm0 1.6h85.1v2.5h-85.1zm0 2.1h85.1v2h-85.1zm0 1.7h85.1v2.1h-85.1zm0 1.8h85.1v1.6h-85.1zm0 1.2h85.1v2.3h-85.1zm0 2h85.1v1.7h-85.1zm0 1.3h85.1v1.7h-85.1zm0 1.3h85.1v2.1h-85.1zm0 1.7h85.1v2.5h-85.1zm0 4h85.1v1.7h-85.1zm0 1.3h85.1v2.3h-85.1zm0 2h85.1v2.6h-85.1zm0 2.2h85.1v1.7h-85.1zm0 1.4h85.1v1.5h-85.1zm0 1.1h85.1v2.9h-85.1zm0 2.5h85.1v1.9h-85.1zm0 1.6h85.1v2.3h-85.1zm0 1.9h85.1v2.2h-85.1zm0 3.7h85.1v1.8h-85.1zm0 1.5h85.1v1.5h-85.1zm0 1.2h85.1v2.6h-85.1zm0 2.3h85.1v2.5h-85.1zm0 2.1h85.1v3h-85.1zm0 2.7h85.1v2.2h-85.1zm0 1.9h85.1v2.9h-85.1zm0 2.5h85.1v2.2h-85.1zm0 1.8h85.1v3.1h-85.1zm0 2.8h85.1v1.6h-85.1zm0 2.7h85.1v2.7h-85.1zm0 2.4h85.1v2.1h-85.1zm0 1.7h85.1v2.3h-85.1zm0 1.9h85.1v2.9h-85.1zm0 2.6h85.1v1.7h-85.1zm0 1.3h85.1v1.4h-85.1zm0 1.1h85.1v1.3h-85.1zm0 0.9h85.1v2.4h-85.1zm0 2.1h85.1v3h-85.1zm0 2.7h85.1v1.7h-85.1zm0 1.3h85.1v2.2h-85.1zm0 1.9h85.1v1h-85.1zm0 487.1h85.1v2.7h-85.1zm0 2.3h85.1v2.3h-85.1zm0 2h85.1v2.4h-85.1zm0 2.1h85.1v1.5h-85.1zm0 1.1h85.1v1.5h-85.1zm0 1.2h85.1v1.5h-85.1zm0 1.2h85.1v1.7h-85.1zm0 1.4h85.1v2.3h-85.1zm0 1.9h85.1v1.9h-85.1zm0 1.6h85.1v2.7h-85.1zm0 2.4h85.1v1.8h-85.1zm0 1.4h85.1v1.9h-85.1zm0 1.6h85.1v1.7h-85.1zm0 1.4h85.1v3.1h-85.1zM1406.8 56.0h85.1v1.3h-85.1zm0 3.4h85.1v1.8h-85.1zm0 1.4h85.1v1.9h-85.1zm0 1.6h85.1v1.6h-85.1zm0 3.3h85.1v1.6h-85.1zm0 1.2h85.1v1.5h-85.1zm0 1.1h85.1v2.1h-85.1zm0 3.7h85.1v1.6h-85.1zm0 1.3h85.1v2.3h-85.1zm0 1.9h85.1v1.9h-85.1zm0 1.6h85.1v3.1h-85.1zm0 3.8h85.1v3.1h-85.1zm0 2.7h85.1v2h-85.1zm0 1.7h85.1v2.2h-85.1zm0 1.9h85.1v1.5h-85.1zm0 1.2h85.1v2.6h-85.1zm0 3.5h85.1v1.9h-85.1zm0 1.5h85.1v1.3h-85.1zm0 2.5h85.1v3.1h-85.1zm0 2.8h85.1v3.1h-85.1zm0 2.7h85.1v2.7h-85.1zm0 2.3h85.1v1.3h-85.1zm0 0.9h85.1v3h-85.1zm0 2.7h85.1v2.9h-85.1zm0 2.6h85.1v2.7h-85.1zm0 2.3h85.1v1.6h-85.1zm0 1.3h85.1v1.4h-85.1zm0 1.1h85.1v2h-85.1zm0 1.7h85.1v2.9h-85.1zm0 2.5h85.1v2.3h-85.1zm0 2h85.1v2.6h-85.1zm0 2.3h85.1v1.7h-85.1zm0 1.4h85.1v2.2h-85.1zm0 1.9h85.1v2.6h-85.1zm0 4.7h85.1v2.8h-85.1zm0 3.8h85.1v2.9h-85.1zm0 2.5h85.1v1.7h-85.1zm0 1.3h85.1v2.8h-85.1zm0 2.5h85.1v2.3h-85.1zm0 1.9h85.1v1.6h-85.1zm0 1.3h85.1v2.4h-85.1zm0 2h85.1v2.2h-85.1zm0 1.9h85.1v3.1h-85.1zm0 4.9h85.1v3.1h-85.1zm0 2.8h85.1v2.8h-85.1zm0 2.4h85.1v1.5h-85.1zm0 1.2h85.1v1.7h-85.1zm0 1.4h85.1v2.3h-85.1zm0 1.9h85.1v1.5h-85.1zm0 1.2h85.1v1.9h-85.1zm0 1.5h85.1v1.3h-85.1zm0 1h85.1v2.6h-85.1zm0 2.2h85.1v1.4h-85.1zm0 1.1h85.1v3.1h-85.1zm0 2.8h85.1v3h-85.1zm0 2.6h85.1v2.7h-85.1zm0 2.4h85.1v2.7h-85.1zm0 2.4h85.1v1.9h-85.1zm0 1.6h85.1v2.5h-85.1zm0 6.3h85.1v1.4h-85.1zm0 3.1h85.1v1.9h-85.1zm0 1.6h85.1v2.4h-85.1zm0 2h85.1v2h-85.1zm0 1.7h85.1v3.1h-85.1zm0 2.7h85.1v1.6h-85.1zm0 1.3h85.1v2.7h-85.1zm0 2.4h85.1v2.6h-85.1zm0 2.2h85.1v2.3h-85.1zm0 2h85.1v1.4h-85.1zm0 1h85.1v1.6h-85.1zm0 1.2h85.1v3.1h-85.1zm0 2.8h85.1v1.7h-85.1zm0 1.3h85.1v1.6h-85.1zm0 2.7h85.1v2.3h-85.1zm0 3.8h85.1v1.3h-85.1zm0 0.9h85.1v1.3h-85.1zm0 0.9h85.1v2.2h-85.1zm0 1.8h85.1v1.6h-85.1zm0 1.3h85.1v2.4h-85.1zm0 2h85.1v2.8h-85.1zm0 2.5h85.1v1.4h-85.1zm0 2.9h85.1v2h-85.1zm0 1.7h85.1v2.8h-85.1zm0 2.4h85.1v3.1h-85.1zm0 2.7h85.1v2h-85.1zm0 5.6h85.1v1.3h-85.1zm0 1h85.1v1.9h-85.1zm0 1.5h85.1v2h-85.1zm0 5.1h85.1v2.2h-85.1zm0 1.8h85.1v1.7h-85.1zm0 1.4h85.1v2h-85.1zm0 1.7h85.1v2.6h-85.1zm0 2.2h85.1v1.9h-85.1zm0 1.5h85.1v1.4h-85.1zm0 1.1h85.1v2.1h-85.1zm0 1.7h85.1v1.6h-85.1zm0 1.3h85.1v2.4h-85.1zm0 2.1h85.1v1.6h-85.1zm0 1.3h85.1v1.5h-85.1zm0 3.7h85.1v1.9h-85.1zm0 3h85.1v2.3h-85.1zm0 1.9h85.1v2.6h-85.1zm0 2.3h85.1v2.9h-85.1zm0 2.5h85.1v1.9h-85.1zm0 3.7h85.1v2h-85.1zm0 1.7h85.1v2.1h-85.1zm0 1.8h85.1v1.6h-85.1zm0 1.2h85.1v2.3h-85.1zm0 2h85.1v1.7h-85.1zm0 1.3h85.1v1.7h-85.1zm0 1.3h85.1v2.1h-85.1zm0 1.7h85.1v2.5h-85.1zm0 4h85.1v1.7h-85.1zm0 1.3h85.1v2.3h-85.1zm0 2h85.1v2.6h-85.1zm0 2.2h85.1v1.7h-85.1zm0 1.4h85.1v1.5h-85.1zm0 1.1h85.1v2.9h-85.1zm0 2.5h85.1v1.9h-85.1zm0 1.6h85.1v2.3h-85.1zm0 1.9h85.1v2.2h-85.1zm0 3.7h85.1v1.8h-85.1zm0 1.5h85.1v1.5h-85.1zm0 1.2h85.1v2.6h-85.1zm0 2.3h85.1v2.5h-85.1zm0 2.1h85.1v3h-85.1zm0 2.7h85.1v2.2h-85.1zm0 1.9h85.1v2.9h-85.1zm0 2.5h85.1v2.2h-85.1zm0 1.8h85.1v3.1h-85.1zm0 2.8h85.1v1.6h-85.1zm0 1.2h85.1v1.8h-85.1zm0 1.5h85.1v2.7h-85.1zm0 2.4h85.1v2.1h-85.1zm0 1.7h85.1v2.3h-85.1zm0 4.5h85.1v1.7h-85.1zm0 1.3h85.1v1.4h-85.1zm0 1.1h85.1v1.3h-85.1zm0 0.9h85.1v2.4h-85.1zm0 2.1h85.1v3h-85.1zm0 2.7h85.1v1.7h-85.1zm0 1.3h85.1v2.2h-85.1zm0 1.9h85.1v1h-85.1zM1576.5 56.0h85.1v1.3h-85.1zm0 9.7h85.1v1.6h-85.1zm0 13.5h85.1v1.4h-85.1zm0 8.6h85.1v2.6h-85.1zm0 5h85.1v1.3h-85.1zm0 5.3h85.1v3.1h-85.1zm0 40h85.1v2.8h-85.1zm0 7.7h85.1v2.2h-85.1zm0 5.6h85.1v1.6h-85.1zm0 14.6h85.1v2.6h-85.1zm0 26.1h85.1v2.4h-85.1zm0 7.7h85.1v2.7h-85.1zm0 2.4h85.1v2.6h-85.1zm0 2.2h85.1v2.3h-85.1zm0 11h85.1v2.3h-85.1zm0 24.6h85.1v1.7h-85.1zm0 3.9h85.1v1.3h-85.1zm0 22.4h85.1v1.6h-85.1zm0 2.4h85.1v2.9h-85.1zm0 36.5h85.1v1.7h-85.1zm0 33.7h85.1v2.7h-85.1zm0 9.9h85.1v1.4h-85.1zM1152.3 56.9h85.1v2.8h-85.1zm0 29.7h85.1v1.5h-85.1zm0 35.9h85.1v1.7h-85.1zm0 20h85.1v1.6h-85.1zm0 1.3h85.1v2.4h-85.1zm0 7.6h85.1v1.6h-85.1zm0 14.6h85.1v2.6h-85.1zm0 11.1h85.1v2.7h-85.1zm0 6.2h85.1v2.7h-85.1zm0 23.1h85.1v1.4h-85.1zm0 29.2h85.1v3.1h-85.1zm0 2.7h85.1v2h-85.1zm0 13.2h85.1v2.2h-85.1zm0 12.7h85.1v2.4h-85.1zm0 16.8h85.1v1.9h-85.1zm0 1.6h85.1v2.5h-85.1zm0 3.8h85.1v2.1h-85.1zm0 1.8h85.1v1.6h-85.1zm0 3.2h85.1v1.7h-85.1zm0 1.3h85.1v1.7h-85.1zm0 1.3h85.1v2.1h-85.1zm0 1.7h85.1v2.5h-85.1zm0 4h85.1v1.7h-85.1zm0 1.3h85.1v2.3h-85.1zm0 5.6h85.1v1.5h-85.1zm0 1.1h85.1v2.9h-85.1zm0 2.5h85.1v1.9h-85.1zm0 1.6h85.1v2.3h-85.1zm0 5.6h85.1v1.8h-85.1zm0 1.5h85.1v1.5h-85.1zm0 1.2h85.1v2.6h-85.1zm0 2.3h85.1v2.5h-85.1zm0 2.1h85.1v3h-85.1zm0 2.7h85.1v2.2h-85.1zm0 1.9h85.1v2.9h-85.1zm0 2.5h85.1v2.2h-85.1zm0 1.8h85.1v3.1h-85.1zm0 2.8h85.1v1.6h-85.1zm0 2.7h85.1v2.7h-85.1zm0 2.4h85.1v2.1h-85.1zm0 1.7h85.1v2.3h-85.1zm0 1.9h85.1v2.9h-85.1zm0 2.6h85.1v1.7h-85.1zm0 1.3h85.1v1.4h-85.1zm0 1.1h85.1v1.3h-85.1zm0 3h85.1v3h-85.1zm0 2.7h85.1v1.7h-85.1zm0 1.3h85.1v2.2h-85.1zm0 1.9h85.1v1h-85.1zM1067.5 60.8h85.1v1.9h-85.1zm0 1.6h85.1v1.6h-85.1zm0 1.3h85.1v2.3h-85.1zm0 12.8h85.1v3.1h-85.1zm0 6.5h85.1v2h-85.1zm0 7h85.1v1.6h-85.1zm0 16.7h85.1v2.9h-85.1zm0 11.5h85.1v2.3h-85.1zm0 7.6h85.1v2.6h-85.1zm0 4.7h85.1v2.8h-85.1zm0 3.8h85.1v2.9h-85.1zm0 3.8h85.1v2.8h-85.1zm0 7.7h85.1v2.2h-85.1zm0 6.8h85.1v3.1h-85.1zm0 5.2h85.1v1.5h-85.1zm0 2.6h85.1v2.3h-85.1zm0 3.1h85.1v1.9h-85.1zm0 2.5h85.1v2.6h-85.1zm0 3.3h85.1v3.1h-85.1zm0 19.2h85.1v2.4h-85.1zm0 5.6h85.1v2h-85.1zm0 4.4h85.1v1.6h-85.1zm0 7.9h85.1v1.4h-85.1zm0 1h85.1v1.6h-85.1zm0 1.2h85.1v3.1h-85.1zm0 2.8h85.1v1.7h-85.1zm0 4h85.1v2.3h-85.1zm0 13.2h85.1v1.4h-85.1zm0 2.9h85.1v2h-85.1zm0 14.9h85.1v2h-85.1zm0 5.1h85.1v2.2h-85.1zm0 1.8h85.1v1.7h-85.1zm0 1.4h85.1v2h-85.1zm0 3.9h85.1v1.9h-85.1zm0 2.6h85.1v2.1h-85.1zm0 5.1h85.1v1.6h-85.1zm0 6.6h85.1v1.8h-85.1zm0 1.4h85.1v2.3h-85.1zm0 4.2h85.1v2.9h-85.1zm0 2.5h85.1v1.9h-85.1zm0 1.6h85.1v2.5h-85.1zm0 2.1h85.1v2h-85.1zm0 1.7h85.1v2.1h-85.1zm0 1.8h85.1v1.6h-85.1zm0 1.2h85.1v2.3h-85.1zm0 3.3h85.1v1.7h-85.1zm0 1.3h85.1v2.1h-85.1zm0 1.7h85.1v2.5h-85.1zm0 4h85.1v1.7h-85.1zm0 3.3h85.1v2.6h-85.1zm0 3.6h85.1v1.5h-85.1zm0 1.1h85.1v2.9h-85.1zm0 2.5h85.1v1.9h-85.1zm0 3.5h85.1v2.2h-85.1zm0 3.7h85.1v1.8h-85.1zm0 1.5h85.1v1.5h-85.1zm0 3.5h85.1v2.5h-85.1zm0 2.1h85.1v3h-85.1zm0 2.7h85.1v2.2h-85.1zm0 1.9h85.1v2.9h-85.1zm0 2.5h85.1v2.2h-85.1zm0 1.8h85.1v3.1h-85.1zm0 4h85.1v1.8h-85.1zm0 1.5h85.1v2.7h-85.1zm0 2.4h85.1v2.1h-85.1zm0 1.7h85.1v2.3h-85.1zm0 1.9h85.1v2.9h-85.1zm0 3.9h85.1v1.4h-85.1zm0 1.1h85.1v1.3h-85.1zm0 0.9h85.1v2.4h-85.1zm0 2.1h85.1v3h-85.1zm0 2.7h85.1v1.7h-85.1zm0 1.3h85.1v2.2h-85.1zm0 1.9h85.1v1h-85.1z"/>
<path fill="#3aaaa4" d="M1152.3 60.8h85.1v1.9h-85.1zm0 6.1h85.1v1.5h-85.1zm0 4.8h85.1v1.6h-85.1zm0 19.6h85.1v1.9h-85.1zm0 1.5h85.1v1.3h-85.1zm0 10.3h85.1v1.3h-85.1zm0 15.1h85.1v2.3h-85.1zm0 14.7h85.1v1.7h-85.1zm0 1.4h85.1v2.9h-85.1zm0 3.8h85.1v2.8h-85.1zm0 14.5h85.1v3.1h-85.1zm0 7.8h85.1v2.3h-85.1zm0 30.1h85.1v1.9h-85.1zm0 13.9h85.1v2.3h-85.1zm0 7h85.1v1.7h-85.1zm0 8.7h85.1v1.3h-85.1zm0 13.1h85.1v2.8h-85.1zm0 13.2h85.1v2h-85.1zm0 10h85.1v2.6h-85.1zm0 9.9h85.1v1.6h-85.1zm0 5h85.1v1.9h-85.1zm0 3h85.1v2.3h-85.1zM1576.5 60.8h85.1v1.9h-85.1zm0 7.2h85.1v2.1h-85.1zm0 32.8h85.1v2.7h-85.1zm0 21.7h85.1v1.7h-85.1zm0 1.4h85.1v2.2h-85.1zm0 1.9h85.1v2.6h-85.1zm0 11h85.1v1.7h-85.1zm0 5.7h85.1v1.6h-85.1zm0 10.1h85.1v3.1h-85.1zm0 6.4h85.1v1.7h-85.1zm0 15.7h85.1v2.7h-85.1zm0 12.7h85.1v1.4h-85.1zm0 1.1h85.1v2.4h-85.1zm0 17.9h85.1v1.4h-85.1zm0 12.8h85.1v1.3h-85.1zm0 3.6h85.1v1.6h-85.1zm0 8.7h85.1v2h-85.1zm0 4.1h85.1v3.1h-85.1zm0 9.3h85.1v1.9h-85.1zm0 1.5h85.1v2h-85.1zm0 5.1h85.1v2.2h-85.1zm0 22.8h85.1v2.3h-85.1zm0 1.9h85.1v2.6h-85.1zm0 17.8h85.1v2.1h-85.1zm0 1.7h85.1v2.5h-85.1zm0 16.1h85.1v2.3h-85.1zm0 5.6h85.1v1.8h-85.1zm0 1.5h85.1v1.5h-85.1zm0 1.2h85.1v2.6h-85.1zm0 2.3h85.1v2.5h-85.1zm0 2.1h85.1v3h-85.1zm0 7.1h85.1v2.2h-85.1zm0 4.6h85.1v1.6h-85.1zm0 11.3h85.1v1.7h-85.1zm0 5.4h85.1v3h-85.1zm0 5.9h85.1v1h-85.1zM1067.5 165.0h85.1v1.3h-85.1zm0 3.2h85.1v1.4h-85.1zm0 22.3h85.1v1.9h-85.1zM1322 281.0h85.1v1.9h-85.1zm0 32.7h85.1v2.2h-85.1zm0 15.4h85.1v2.9h-85.1zm0 4.3h85.1v3.1h-85.1zm0 15.4h85.1v1.4h-85.1zm0 8.1h85.1v2.2h-85.1zM1491.7 313.7h85.1v2.2h-85.1zm0 22.5h85.1v1.6h-85.1zm0 5.1h85.1v2.1h-85.1zm0 17.5h85.1v1h-85.1z"/>
<path fill="#dde5d0" d="M1406.8 90.0h85.1v1.6h-85.1zm0 38h85.1v2.8h-85.1zm0 154.6h85.1v2.5h-85.1zm0 565.6h85.1v2.3h-85.1zm0 2h85.1v2.4h-85.1zm0 4.4h85.1v1.5h-85.1zM1067.5 136.8h85.1v1.7h-85.1zm0 44.3h85.1v2.5h-85.1zm0 38.1h85.1v1.3h-85.1zm0 16.4h85.1v3.1h-85.1zm0 4.4h85.1v1.7h-85.1zm0 608.2h85.1v2.3h-85.1zm0 6.4h85.1v1.5h-85.1zM1237.2 159.0h85.1v1.7h-85.1zm0 7h85.1v2.6h-85.1zm0 8.7h85.1v2.7h-85.1zM1491.7 226.1h85.1v2.8h-85.1zM1152.3 845.9h85.1v2.7h-85.1zm0 2.3h85.1v2.3h-85.1zm0 2h85.1v2.4h-85.1zm0 10.5h85.1v2.7h-85.1zm0 5.4h85.1v1.7h-85.1zM1322 845.9h85.1v2.7h-85.1zm0 2.3h85.1v2.3h-85.1zm0 6.4h85.1v1.5h-85.1zm0 4.5h85.1v1.9h-85.1zm0 1.6h85.1v2.7h-85.1zm0 5.4h85.1v1.7h-85.1zM1576.5 848.2h85.1v2.3h-85.1zm0 7.6h85.1v1.7h-85.1zm0 1.4h85.1v2.3h-85.1zm0 5.9h85.1v1.8h-85.1z"/>
<path fill="#c49a9e" d="M1067.5 297.8h85.1v2.2h-85.1zm0 17.8h85.1v2.2h-85.1zM1152.3 297.8h85.1v2.2h-85.1zm0 17.8h85.1v2.2h-85.1zM1237.2 297.8h85.1v2.2h-85.1zm0 17.8h85.1v2.2h-85.1zM1322 297.8h85.1v2.2h-85.1zm0 17.8h85.1v2.2h-85.1zM1406.8 297.8h85.1v2.2h-85.1zm0 17.8h85.1v2.2h-85.1zM1491.7 297.8h85.1v2.2h-85.1zm0 17.8h85.1v2.2h-85.1zM1576.5 297.8h85.1v2.2h-85.1zm0 17.8h85.1v2.2h-85.1zM1661.3 297.8h85.1v2.2h-85.1zm0 17.8h85.1v2.2h-85.1zM1746.2 297.8h85.1v2.2h-85.1zm0 17.8h85.1v2.2h-85.1z"/>
<path fill="#7890aa" d="M1067.5 359.4h85.1v2.6h-85.1zm0 2.2h85.1v2.4h-85.1zm0 25.6h85.1v1.6h-85.1zm0 10.7h85.1v1.5h-85.1zm0 1.1h85.1v2.6h-85.1zm0 2.3h85.1v2.9h-85.1zm0 77.6h85.1v2.2h-85.1zm0 1.8h85.1v2.3h-85.1zm0 1.9h85.1v2.1h-85.1zm0 36.9h85.1v1.9h-85.1zm0 22.9h85.1v1.8h-85.1zm0 8.6h85.1v2.4h-85.1zm0 2h85.1v1.3h-85.1zm0 20.2h85.1v2.8h-85.1zm0 17.3h85.1v2.7h-85.1zm0 2.4h85.1v1.2h-85.1zm0 6.5h85.1v2.8h-85.1zm0 11.3h85.1v2.1h-85.1zm0 6.7h85.1v2.4h-85.1zm0 15.1h85.1v2.4h-85.1zm0 12.7h85.1v2.5h-85.1zm0 4.3h85.1v2.1h-85.1zm0 7.1h85.1v1.7h-85.1zm0 22.5h85.1v1.8h-85.1zM1491.7 363.7h85.1v2.6h-85.1zm0 31.8h85.1v1.5h-85.1zm0 5.8h85.1v2.9h-85.1zm0 4.2h85.1v1.8h-85.1zm0 7.8h85.1v2.8h-85.1zm0 10h85.1v2.7h-85.1zm0 35.3h85.1v2.8h-85.1zm0 20.3h85.1v2.2h-85.1zm0 103h85.1v2.9h-85.1zm0 8.6h85.1v2.7h-85.1zm0 3.2h85.1v2h-85.1zm0 27.4h85.1v2h-85.1zm0 15.8h85.1v2.5h-85.1zm0 10.5h85.1v2.5h-85.1zm0 3.9h85.1v2h-85.1zm0 10.1h85.1v2.7h-85.1zm0 16.2h85.1v1.8h-85.1zM1576.5 363.7h85.1v2.6h-85.1zm0 22.5h85.1v1.3h-85.1zm0 1h85.1v1.6h-85.1zm0 7.5h85.1v1.2h-85.1zm0 6.6h85.1v2.9h-85.1zm0 7.9h85.1v2.5h-85.1zm0 30.6h85.1v1.7h-85.1zm0 4.4h85.1v2.9h-85.1zm0 10.5h85.1v2.5h-85.1zm0 3.9h85.1v2.8h-85.1zm0 2.5h85.1v2.3h-85.1zm0 12.2h85.1v1.9h-85.1zm0 9.3h85.1v2.1h-85.1zm0 6.7h85.1v1.6h-85.1zm0 40.3h85.1v2h-85.1zm0 12.8h85.1v1.8h-85.1zm0 17.1h85.1v2.8h-85.1zm0 31h85.1v2.7h-85.1zm0 2.4h85.1v1.2h-85.1zm0 6.5h85.1v2.8h-85.1zm0 35.2h85.1v2.7h-85.1zm0 10.6h85.1v2.5h-85.1zm0 6.1h85.1v2h-85.1zm0 17.6h85.1v2.3h-85.1zm0 1.9h85.1v1.9h-85.1zm0 6.8h85.1v1.8h-85.1zm0 7.7h85.1v2.4h-85.1zM1152.3 368.7h85.1v2h-85.1zm0 17.5h85.1v1.3h-85.1zm0 1h85.1v1.6h-85.1zm0 10.7h85.1v1.5h-85.1zm0 17.9h85.1v1.3h-85.1zm0 7.5h85.1v2.7h-85.1zm0 8.1h85.1v2.1h-85.1zm0 1.8h85.1v2.8h-85.1zm0 7.9h85.1v1.5h-85.1zm0 3.1h85.1v2.9h-85.1zm0 16.9h85.1v2.3h-85.1zm0 28.2h85.1v1.6h-85.1zm0 50.5h85.1v1.3h-85.1zm0 0.9h85.1v2h-85.1zm0 6.9h85.1v1.6h-85.1zm0 6.3h85.1v2.7h-85.1zm0 2.4h85.1v2.3h-85.1zm0 5.6h85.1v1.2h-85.1zm0 28.6h85.1v2.7h-85.1zm0 2.4h85.1v1.2h-85.1zm0 0.8h85.1v2h-85.1zm0 31.4h85.1v2.4h-85.1zm0 7.4h85.1v2.4h-85.1zm0 26.5h85.1v2.7h-85.1zm0 2.4h85.1v2.7h-85.1zM1237.2 368.7h85.1v2h-85.1zm0 4.2h85.1v2.8h-85.1zm0 14.3h85.1v1.6h-85.1zm0 7.5h85.1v1.2h-85.1zm0 12.2h85.1v2.7h-85.1zm0 21.2h85.1v1.3h-85.1zm0 3.3h85.1v2.1h-85.1zm0 43.4h85.1v2.6h-85.1zm0 5.9h85.1v2.3h-85.1zm0 6.2h85.1v1.4h-85.1zm0 2.4h85.1v1.6h-85.1zm0 36.8h85.1v2h-85.1zm0 21.5h85.1v1.6h-85.1zm0 21.5h85.1v2.8h-85.1zm0 2.4h85.1v2h-85.1zm0 4.1h85.1v1.2h-85.1zm0 14.9h85.1v2.7h-85.1zm0 3.2h85.1v2h-85.1zm0 9.3h85.1v2.1h-85.1zm0 7.7h85.1v2.1h-85.1zm0 8.8h85.1v2h-85.1zm0 12h85.1v1.3h-85.1zm0 43.4h85.1v2.1h-85.1zm0 10.4h85.1v2.4h-85.1zM1661.3 376.7h85.1v2.3h-85.1zm0 36.6h85.1v2.8h-85.1zm0 38.1h85.1v1.8h-85.1zm0 1.4h85.1v2.3h-85.1zm0 103.5h85.1v2.3h-85.1zm0 6.5h85.1v2.2h-85.1zm0 10.4h85.1v2.8h-85.1zm0 17.3h85.1v2.7h-85.1zm0 54.7h85.1v2.5h-85.1zm0 25.6h85.1v1.9h-85.1zM1322 379.5h85.1v2.4h-85.1zm0 13.1h85.1v2.4h-85.1zm0 2.9h85.1v1.5h-85.1zm0 1.1h85.1v1.7h-85.1zm0 2.4h85.1v2.6h-85.1zm0 26.7h85.1v2.8h-85.1zm0 44h85.1v1.9h-85.1zm0 12.9h85.1v2.1h-85.1zm0 9.1h85.1v2.4h-85.1zm0 10.3h85.1v2.4h-85.1zm0 2h85.1v2.1h-85.1zm0 20.3h85.1v2.1h-85.1zm0 13.4h85.1v2.4h-85.1zm0 42.2h85.1v2.3h-85.1zm0 10.6h85.1v2.7h-85.1zm0 81.9h85.1v2.9h-85.1zm0 17.4h85.1v1.5h-85.1zM1746.2 391.5h85.1v1.4h-85.1zm0 15.4h85.1v2.7h-85.1zm0 16.4h85.1v2.7h-85.1zm0 9.9h85.1v2.8h-85.1zm0 13.6h85.1v1.6h-85.1zm0 6h85.1v2.3h-85.1zm0 26.1h85.1v2.2h-85.1zm0 20.6h85.1v1.7h-85.1zm0 22.6h85.1v2.6h-85.1zm0 23.4h85.1v2.4h-85.1zm0 3.3h85.1v2.5h-85.1zm0 5.1h85.1v2.7h-85.1zm0 34.6h85.1v2.4h-85.1zm0 2h85.1v2.7h-85.1zm0 6.8h85.1v2.5h-85.1zm0 15.1h85.1v1.3h-85.1zm0 32.8h85.1v2.5h-85.1zm0 7.7h85.1v2.8h-85.1zm0 8.5h85.1v2.7h-85.1zm0 2.3h85.1v1.8h-85.1zm0 16.8h85.1v1.4h-85.1zM1406.8 406.9h85.1v2.7h-85.1zm0 43.2h85.1v1.6h-85.1zm0 6.8h85.1v2h-85.1zm0 4.2h85.1v2.3h-85.1zm0 26.9h85.1v1.7h-85.1zm0 70.2h85.1v1.6h-85.1zm0 32.3h85.1v2.7h-85.1zm0 44.1h85.1v2.7h-85.1zm0 12.8h85.1v2.5h-85.1zm0 10.5h85.1v1.5h-85.1zm0 22.6h85.1v1.4h-85.1z"/>
<path fill="#b6cbbd" d="M1152.3 359.4h85.1v2.6h-85.1zm0 15.9h85.1v1.7h-85.1zm0 1.4h85.1v2.3h-85.1zm0 6.7h85.1v1.8h-85.1zm0 27.9h85.1v2.3h-85.1zm0 14.4h85.1v2.8h-85.1zm0 29h85.1v2.5h-85.1zm0 12h85.1v1.6h-85.1zm0 1.2h85.1v2.1h-85.1zm0 6.9h85.1v2.6h-85.1zm0 4.1h85.1v2.2h-85.1zm0 26.8h85.1v1.2h-85.1zm0 6.3h85.1v2.2h-85.1zm0 41h85.1v1.3h-85.1zm0 48.9h85.1v1.5h-85.1zm0 11.4h85.1v2.3h-85.1zm0 21.3h85.1v2.7h-85.1zm0 2.3h85.1v2.5h-85.1zm0 18.5h85.1v1.5h-85.1zm0 23.7h85.1v1.8h-85.1zm0 6.2h85.1v2.4h-85.1zM1322 359.4h85.1v2.6h-85.1zm0 38.5h85.1v1.5h-85.1zm0 75.4h85.1v1.9h-85.1zm0 37.7h85.1v1.3h-85.1zm0 70.9h85.1v2.9h-85.1zm0 11h85.1v1.2h-85.1zm0 2.4h85.1v2.3h-85.1zm0 31.9h85.1v2.4h-85.1zm0 60.2h85.1v2.8h-85.1zM1661.3 361.6h85.1v2.4h-85.1zm0 7.1h85.1v2h-85.1zm0 1.6h85.1v2.9h-85.1zm0 13.1h85.1v1.8h-85.1zm0 2.8h85.1v1.3h-85.1zm0 1h85.1v1.6h-85.1zm0 4.3h85.1v1.4h-85.1zm0 4h85.1v1.5h-85.1zm0 2.4h85.1v1.5h-85.1zm0 1.1h85.1v2.6h-85.1zm0 7.9h85.1v2.7h-85.1zm0 9.8h85.1v2.2h-85.1zm0 6.6h85.1v2.7h-85.1zm0 20.9h85.1v2.9h-85.1zm0 2.6h85.1v1.6h-85.1zm0 17.1h85.1v2.3h-85.1zm0 2.8h85.1v1.6h-85.1zm0 3h85.1v1.9h-85.1zm0 9.2h85.1v2.2h-85.1zm0 7.2h85.1v1.2h-85.1zm0 3.2h85.1v1.6h-85.1zm0 1.2h85.1v1.5h-85.1zm0 10.4h85.1v1.5h-85.1zm0 7.7h85.1v1.5h-85.1zm0 2.4h85.1v1.3h-85.1zm0 1h85.1v2.2h-85.1zm0 3.7h85.1v1.6h-85.1zm0 5.4h85.1v1.4h-85.1zm0 1h85.1v2.6h-85.1zm0 5.6h85.1v2.2h-85.1zm0 10h85.1v2.4h-85.1zm0 7.8h85.1v2.4h-85.1zm0 5.5h85.1v2.4h-85.1zm0 2h85.1v1.3h-85.1zm0 11.6h85.1v2.7h-85.1zm0 4.5h85.1v2.8h-85.1zm0 15.4h85.1v2h-85.1zm0 1.7h85.1v2.7h-85.1zm0 11.1h85.1v2.5h-85.1zm0 2.1h85.1v2.8h-85.1zm0 7.3h85.1v1.9h-85.1zm0 5.7h85.1v1.3h-85.1zm0 19.1h85.1v1.3h-85.1zm0 1h85.1v2.4h-85.1zm0 2.1h85.1v2.7h-85.1zm0 4.4h85.1v2.8h-85.1zm0 13.9h85.1v2.8h-85.1zm0 2.5h85.1v1.5h-85.1zm0 8.3h85.1v1.8h-85.1zm0 1.4h85.1v1.9h-85.1zm0 3.8h85.1v2.3h-85.1zm0 3.5h85.1v2.9h-85.1zm0 5.2h85.1v1.8h-85.1zm0 1.5h85.1v1.8h-85.1zm0 8.3h85.1v2.8h-85.1zm0 2.4h85.1v1.5h-85.1zM1237.2 363.7h85.1v2.6h-85.1zm0 15.8h85.1v2.4h-85.1zm0 16h85.1v1.5h-85.1zm0 2.4h85.1v1.5h-85.1zm0 5.9h85.1v2h-85.1zm0 5.4h85.1v2.5h-85.1zm0 38.9h85.1v2.4h-85.1zm0 15h85.1v1.2h-85.1zm0 14h85.1v2.1h-85.1zm0 19.3h85.1v2.3h-85.1zm0 33.2h85.1v2h-85.1zm0 28.6h85.1v1.6h-85.1zm0 4.6h85.1v2.2h-85.1zm0 1.8h85.1v2.7h-85.1zm0 8.6h85.1v2.8h-85.1zm0 6.7h85.1v2.3h-85.1zm0 8.6h85.1v2.4h-85.1zm0 6.8h85.1v2.3h-85.1zm0 6.6h85.1v1.5h-85.1zm0 23.2h85.1v2.4h-85.1zm0 9.5h85.1v2.7h-85.1zm0 2.3h85.1v2.5h-85.1zm0 29.7h85.1v2.6h-85.1zm0 2.3h85.1v2.3h-85.1zM1746.2 363.7h85.1v2.6h-85.1zm0 5h85.1v2h-85.1zm0 1.6h85.1v2.9h-85.1zm0 9.2h85.1v2.4h-85.1zm0 5.4h85.1v1.6h-85.1zm0 3.5h85.1v1.9h-85.1zm0 1.6h85.1v1.9h-85.1zm0 5.5h85.1v1.5h-85.1zm0 5.8h85.1v2.9h-85.1zm0 38.5h85.1v1.7h-85.1zm0 10.3h85.1v1.6h-85.1zm0 17.8h85.1v2.1h-85.1zm0 6.9h85.1v2.6h-85.1zm0 7.8h85.1v2.1h-85.1zm0 5.4h85.1v1.7h-85.1zm0 1.3h85.1v1.6h-85.1zm0 12.7h85.1v2.4h-85.1zm0 4.6h85.1v2.4h-85.1zm0 17.7h85.1v2.1h-85.1zm0 23.3h85.1v1.6h-85.1zm0 5.4h85.1v1.3h-85.1zm0 39.9h85.1v1.2h-85.1zm0 15.3h85.1v2.8h-85.1zm0 16.9h85.1v2.4h-85.1zm0 4.2h85.1v2.6h-85.1zm0 2.2h85.1v1.3h-85.1zm0 3.1h85.1v2.7h-85.1zm0 8.4h85.1v2.5h-85.1zm0 4.4h85.1v2.5h-85.1zm0 19.2h85.1v2.6h-85.1zm0 10h85.1v1.3h-85.1zm0 2.5h85.1v1.8h-85.1zm0 8.3h85.1v2.8h-85.1zM1406.8 367.6h85.1v1.4h-85.1zm0 1.1h85.1v2h-85.1zm0 1.6h85.1v2.9h-85.1zm0 13.1h85.1v1.8h-85.1zm0 3.8h85.1v1.6h-85.1zm0 1.2h85.1v1.9h-85.1zm0 3.1h85.1v1.4h-85.1zm0 3.2h85.1v1.2h-85.1zm0 0.8h85.1v1.5h-85.1zm0 8.3h85.1v2h-85.1zm0 1.7h85.1v1.8h-85.1zm0 17.8h85.1v2.7h-85.1zm0 8.1h85.1v2.1h-85.1zm0 12.8h85.1v2.9h-85.1zm0 8.6h85.1v2.3h-85.1zm0 10.3h85.1v1.2h-85.1zm0 3.6h85.1v1.6h-85.1zm0 6.6h85.1v1.9h-85.1zm0 1.5h85.1v2.6h-85.1zm0 4.1h85.1v2.2h-85.1zm0 1.8h85.1v2.3h-85.1zm0 11h85.1v2.4h-85.1zm0 10.3h85.1v2.4h-85.1zm0 2h85.1v2.1h-85.1zm0 5.8h85.1v1.6h-85.1zm0 5.9h85.1v1.6h-85.1zm0 3.8h85.1v1.9h-85.1zm0 1.6h85.1v1.4h-85.1zm0 12.6h85.1v2.6h-85.1zm0 2.2h85.1v2.1h-85.1zm0 1.8h85.1v2.4h-85.1zm0 3h85.1v2h-85.1zm0 3.1h85.1v2.1h-85.1zm0 5h85.1v2.5h-85.1zm0 5.1h85.1v2.7h-85.1zm0 8.9h85.1v2.2h-85.1zm0 6.3h85.1v2.8h-85.1zm0 6.5h85.1v1.2h-85.1zm0 3.2h85.1v1.5h-85.1zm0 7.4h85.1v2.7h-85.1zm0 7.5h85.1v2h-85.1zm0 3.6h85.1v2.5h-85.1zm0 2.1h85.1v2.8h-85.1zm0 3.6h85.1v2.1h-85.1zm0 3.7h85.1v1.9h-85.1zm0 1.5h85.1v2.8h-85.1zm0 2.5h85.1v2.1h-85.1zm0 1.7h85.1v1.3h-85.1zm0 0.9h85.1v2.3h-85.1zm0 6.2h85.1v2h-85.1zm0 3.3h85.1v2.7h-85.1zm0 14.1h85.1v2.5h-85.1zm0 2.1h85.1v2.8h-85.1zm0 4h85.1v2.5h-85.1zm0 6.5h85.1v2.1h-85.1zm0 3.4h85.1v2.8h-85.1zm0 10.8h85.1v1.8h-85.1zm0 5.2h85.1v2.3h-85.1zm0 20.9h85.1v1.5h-85.1zM1491.7 372.9h85.1v2.8h-85.1zm0 3.8h85.1v2.3h-85.1zm0 6.7h85.1v1.8h-85.1zm0 2.8h85.1v1.3h-85.1zm0 3.8h85.1v1.9h-85.1zm0 1.5h85.1v1.4h-85.1zm0 15.4h85.1v2.7h-85.1zm0 18.8h85.1v2.8h-85.1zm0 15.4h85.1v1.5h-85.1zm0 5.7h85.1v1.6h-85.1zm0 3.3h85.1v1.6h-85.1zm0 4.6h85.1v2.5h-85.1zm0 2.2h85.1v2h-85.1zm0 16.4h85.1v1.9h-85.1zm0 3.8h85.1v2.1h-85.1zm0 23.8h85.1v1.5h-85.1zm0 8.9h85.1v1.6h-85.1zm0 7.2h85.1v2.9h-85.1zm0 2.5h85.1v1.9h-85.1zm0 4.8h85.1v2.1h-85.1zm0 9.4h85.1v2.6h-85.1zm0 7h85.1v2h-85.1zm0 3.1h85.1v2.1h-85.1zm0 5h85.1v2.5h-85.1zm0 5.1h85.1v2.7h-85.1zm0 24.9h85.1v1.5h-85.1zm0 1.1h85.1v2.3h-85.1zm0 4.6h85.1v2h-85.1zm0 8.4h85.1v1.2h-85.1zm0 4.4h85.1v2.5h-85.1zm0 9.4h85.1v1.9h-85.1zm0 27.9h85.1v2.7h-85.1zm0 4.4h85.1v2.8h-85.1zm0 4h85.1v2.5h-85.1zm0 6.5h85.1v2.1h-85.1zm0 8.4h85.1v1.5h-85.1zm0 12.9h85.1v1.9h-85.1zm0 8.3h85.1v1.8h-85.1zm0 4.4h85.1v2.1h-85.1zm0 1.8h85.1v2.4h-85.1zm0 4.5h85.1v1.5h-85.1zM1576.5 378.6h85.1v1.2h-85.1zm0 14h85.1v2.4h-85.1zm0 40.6h85.1v2.8h-85.1zm0 13.6h85.1v1.6h-85.1zm0 19h85.1v1.2h-85.1zm0 42.8h85.1v1.5h-85.1zm0 29.1h85.1v2.4h-85.1zm0 2.1h85.1v1.3h-85.1zm0 14.1h85.1v2.7h-85.1zm0 43.4h85.1v2.5h-85.1zm0 16h85.1v2.3h-85.1zM1067.5 383.4h85.1v1.8h-85.1zm0 2.8h85.1v1.3h-85.1zm0 2.2h85.1v1.9h-85.1zm0 1.6h85.1v1.9h-85.1zm0 1.5h85.1v1.4h-85.1zm0 4h85.1v1.5h-85.1zm0 8.3h85.1v2h-85.1zm0 3.1h85.1v2.7h-85.1zm0 18.8h85.1v2.8h-85.1zm0 14.1h85.1v1.7h-85.1zm0 7h85.1v1.6h-85.1zm0 16.3h85.1v1.2h-85.1zm0 11.7h85.1v2.6h-85.1zm0 11.3h85.1v1.2h-85.1zm0 0.8h85.1v1.4h-85.1zm0 18.8h85.1v1.2h-85.1zm0 0.9h85.1v2.4h-85.1zm0 3.2h85.1v1.6h-85.1zm0 2.2h85.1v2.2h-85.1zm0 1.9h85.1v2.2h-85.1zm0 13.8h85.1v2.2h-85.1zm0 1.9h85.1v2h-85.1zm0 14.2h85.1v2.1h-85.1zm0 1.7h85.1v2.4h-85.1zm0 3.3h85.1v2.5h-85.1zm0 5.1h85.1v2.7h-85.1zm0 8.9h85.1v2.2h-85.1zm0 16h85.1v1.5h-85.1zm0 44h85.1v2.7h-85.1zm0 8.7h85.1v1.3h-85.1zm0 7.5h85.1v2.8h-85.1zm0 8.4h85.1v2.5h-85.1zm0 3.9h85.1v2h-85.1zm0 7.7h85.1v2.7h-85.1zm0 7.6h85.1v2.6h-85.1zm0 2.3h85.1v2.3h-85.1zm0 8.7h85.1v1.8h-85.1z"/>
<path fill="#3aa7a2" d="M1237.2 359.4h85.1v2.6h-85.1zm0 2.2h85.1v2.4h-85.1zm0 13.7h85.1v1.7h-85.1zm0 16.2h85.1v1.4h-85.1zm0 19.8h85.1v2.3h-85.1zm0 35.5h85.1v1.6h-85.1zm0 32.1h85.1v2.2h-85.1zm0 22h85.1v1.5h-85.1zm0 4.8h85.1v1.2h-85.1zm0 15.4h85.1v1.4h-85.1zm0 14.8h85.1v2.1h-85.1zm0 3.9h85.1v1.3h-85.1zm0 39h85.1v1.5h-85.1zm0 60.2h85.1v2.8h-85.1zm0 10.5h85.1v2.1h-85.1zm0 3.4h85.1v2.8h-85.1zm0 5h85.1v1.5h-85.1zM1152.3 361.6h85.1v2.4h-85.1zm0 17h85.1v1.2h-85.1zm0 3h85.1v2.2h-85.1zm0 6.8h85.1v1.9h-85.1zm0 64.4h85.1v2.3h-85.1zm0 5.8h85.1v2.8h-85.1zm0 5.3h85.1v2.3h-85.1zm0 13.2h85.1v2.1h-85.1zm0 3.6h85.1v2.3h-85.1zm0 1.9h85.1v2.1h-85.1zm0 3.5h85.1v1.2h-85.1zm0 1.9h85.1v1.7h-85.1zm0 8.4h85.1v2.3h-85.1zm0 2h85.1v1.5h-85.1zm0 8.2h85.1v2.4h-85.1zm0 4.4h85.1v1.3h-85.1zm0 10.1h85.1v1.4h-85.1zm0 3.2h85.1v2.1h-85.1zm0 3.4h85.1v2.2h-85.1zm0 1.9h85.1v2h-85.1zm0 3.2h85.1v1.2h-85.1zm0 4.9h85.1v2.4h-85.1zm0 6.1h85.1v2.1h-85.1zm0 15.7h85.1v2.8h-85.1zm0 9.6h85.1v2.8h-85.1zm0 4.1h85.1v2.8h-85.1zm0 6.7h85.1v2.3h-85.1zm0 19.5h85.1v2.8h-85.1zm0 11.3h85.1v2.1h-85.1zm0 6.7h85.1v2.4h-85.1zm0 5.4h85.1v2.7h-85.1zm0 18.7h85.1v1.9h-85.1zm0 8h85.1v2.1h-85.1zm0 3.4h85.1v2.8h-85.1zm0 3.7h85.1v1.7h-85.1zm0 15.8h85.1v2.9h-85.1zm0 4.2h85.1v1.3h-85.1zm0 13.2h85.1v1.5h-85.1zM1322 361.6h85.1v2.4h-85.1zm0 2.1h85.1v2.6h-85.1zm0 5h85.1v2h-85.1zm0 4.2h85.1v2.8h-85.1zm0 2.4h85.1v1.7h-85.1zm0 3.3h85.1v1.2h-85.1zm0 6.3h85.1v1.6h-85.1zm0 6.6h85.1v1.4h-85.1zm0 3.2h85.1v1.2h-85.1zm0 6.6h85.1v2.9h-85.1zm0 2.5h85.1v2h-85.1zm0 12h85.1v1.3h-85.1zm0 2.8h85.1v1.6h-85.1zm0 3.8h85.1v1.3h-85.1zm0 5.7h85.1v1.3h-85.1zm0 13h85.1v1.5h-85.1zm0 3.1h85.1v2.9h-85.1zm0 3.9h85.1v2.4h-85.1zm0 2h85.1v1.6h-85.1zm0 4.6h85.1v2.5h-85.1zm0 2.2h85.1v2h-85.1zm0 1.7h85.1v2.8h-85.1zm0 7.2h85.1v1.2h-85.1zm0 2.1h85.1v2.1h-85.1zm0 6.9h85.1v2.6h-85.1zm0 11.3h85.1v1.2h-85.1zm0 0.8h85.1v1.4h-85.1zm0 2.4h85.1v1.6h-85.1zm0 1.2h85.1v1.5h-85.1zm0 3.2h85.1v1.9h-85.1zm0 5.8h85.1v1.7h-85.1zm0 6.2h85.1v1.2h-85.1zm0 4.1h85.1v1.6h-85.1zm0 4.1h85.1v2.2h-85.1zm0 1.8h85.1v1.6h-85.1zm0 3.8h85.1v1.9h-85.1zm0 6.6h85.1v2h-85.1zm0 1.6h85.1v2.2h-85.1zm0 6h85.1v2.6h-85.1zm0 7h85.1v2h-85.1zm0 10.3h85.1v2.4h-85.1zm0 8.5h85.1v2.8h-85.1zm0 3.3h85.1v2.2h-85.1zm0 6.3h85.1v2.8h-85.1zm0 6.5h85.1v1.2h-85.1zm0 3.2h85.1v1.5h-85.1zm0 5.7h85.1v2h-85.1zm0 23.7h85.1v2.8h-85.1zm0 9.2h85.1v2.4h-85.1zm0 5.4h85.1v2.7h-85.1zm0 2.3h85.1v2.4h-85.1zm0 6.4h85.1v1.3h-85.1zm0 3.1h85.1v2.7h-85.1zm0 2.3h85.1v2.5h-85.1zm0 2.1h85.1v2.8h-85.1zm0 6.2h85.1v2.5h-85.1zm0 7.7h85.1v2.8h-85.1zm0 3.7h85.1v1.7h-85.1zm0 1.3h85.1v1.5h-85.1zm0 3.5h85.1v2.7h-85.1zm0 7.5h85.1v2.3h-85.1zm0 6h85.1v2.1h-85.1zm0 1.7h85.1v1.3h-85.1zm0 1h85.1v1.8h-85.1zm0 1.5h85.1v1.8h-85.1zm0 2.5h85.1v2.3h-85.1zm0 1.9h85.1v2.1h-85.1zm0 1.8h85.1v2.4h-85.1zM1067.5 367.6h85.1v1.4h-85.1zm0 1.1h85.1v2h-85.1zm0 27.9h85.1v1.7h-85.1zm0 71.3h85.1v2.1h-85.1zm0 33h85.1v1.5h-85.1zm0 10.1h85.1v1.3h-85.1zm0 10.1h85.1v1.4h-85.1zm0 14.8h85.1v2.1h-85.1zm0 1.8h85.1v2.4h-85.1zm0 57.6h85.1v2.3h-85.1zm0 11.4h85.1v1.9h-85.1zm0 14.4h85.1v2h-85.1zm0 4h85.1v2.4h-85.1zm0 45.7h85.1v1.9h-85.1zm0 1.6h85.1v2.9h-85.1zM1576.5 370.3h85.1v2.9h-85.1zm0 11.3h85.1v2.2h-85.1zm0 13.9h85.1v1.5h-85.1zm0 1.1h85.1v1.7h-85.1zm0 1.3h85.1v1.5h-85.1zm0 15.4h85.1v2.8h-85.1zm0 2.5h85.1v1.3h-85.1zm0 0.9h85.1v2.2h-85.1zm0 11.4h85.1v1.3h-85.1zm0 24.7h85.1v2.3h-85.1zm0 4.1h85.1v2h-85.1zm0 11h85.1v2.1h-85.1zm0 18.2h85.1v1.2h-85.1zm0 5.6h85.1v2.4h-85.1zm0 4.7h85.1v2.3h-85.1zm0 3.1h85.1v1.7h-85.1zm0 1.4h85.1v1.5h-85.1zm0 3.1h85.1v2.1h-85.1zm0 8h85.1v2.2h-85.1zm0 3.7h85.1v1.6h-85.1zm0 1.3h85.1v2.9h-85.1zm0 4.1h85.1v1.4h-85.1zm0 3.2h85.1v2.1h-85.1zm0 1.8h85.1v2h-85.1zm0 1.6h85.1v2.2h-85.1zm0 5.1h85.1v1.2h-85.1zm0 16h85.1v2.5h-85.1zm0 7.5h85.1v2.3h-85.1zm0 1.9h85.1v1.6h-85.1zm0 3.7h85.1v1.2h-85.1zm0 2.7h85.1v2.7h-85.1zm0 11h85.1v1.2h-85.1zm0 8.9h85.1v2h-85.1zm0 1.7h85.1v2.7h-85.1zm0 7.5h85.1v2h-85.1zm0 1.6h85.1v2.3h-85.1zm0 25.8h85.1v2h-85.1zm0 4h85.1v2.4h-85.1zm0 6.4h85.1v1.3h-85.1zm0 1h85.1v2.4h-85.1zm0 17h85.1v2.1h-85.1zm0 7.1h85.1v1.7h-85.1zm0 2.4h85.1v2.7h-85.1zm0 4.7h85.1v1.8h-85.1zm0 8.7h85.1v2.9h-85.1zm0 8.1h85.1v1.4h-85.1zm0 3h85.1v2.1h-85.1zm0 3.9h85.1v2.8h-85.1zm0 2.4h85.1v1.5h-85.1zM1746.2 375.3h85.1v1.7h-85.1zm0 8.1h85.1v1.8h-85.1zm0 9.2h85.1v2.4h-85.1zm0 4h85.1v1.7h-85.1zm0 12.6h85.1v2.5h-85.1zm0 9.4h85.1v1.6h-85.1zm0 3.8h85.1v1.3h-85.1zm0 5.7h85.1v1.3h-85.1zm0 23.3h85.1v1.8h-85.1zm0 11.7h85.1v1.2h-85.1zm0 2.7h85.1v1.2h-85.1zm0 0.9h85.1v1.6h-85.1zm0 14h85.1v2.3h-85.1zm0 9.8h85.1v1.5h-85.1zm0 3.2h85.1v1.9h-85.1zm0 4.7h85.1v1.5h-85.1zm0 37.5h85.1v2.1h-85.1zm0 4.8h85.1v2h-85.1zm0 10.3h85.1v2.4h-85.1zm0 8.5h85.1v2.8h-85.1zm0 13.7h85.1v2.8h-85.1zm0 20.5h85.1v2h-85.1zm0 13h85.1v1.9h-85.1zm0 12.8h85.1v2h-85.1zm0 13h85.1v2.4h-85.1zm0 6.5h85.1v2.8h-85.1zm0 20h85.1v2.7h-85.1zm0 24.5h85.1v2.1h-85.1zm0 6.3h85.1v1.5h-85.1zM1406.8 376.7h85.1v2.3h-85.1zm0 39.1h85.1v1.3h-85.1zm0 213.5h85.1v2.6h-85.1zm0 3.2h85.1v2.4h-85.1zm0 46.6h85.1v1.8h-85.1zM1491.7 378.6h85.1v1.2h-85.1zm0 74.2h85.1v2.3h-85.1zm0 228.8h85.1v2.3h-85.1zM1661.3 405.5h85.1v1.8h-85.1zm0 217.3h85.1v2.7h-85.1z"/>
<path fill="#8fb3ab" d="M1406.8 359.4h85.1v2.6h-85.1zm0 15.9h85.1v1.7h-85.1zm0 10.9h85.1v1.3h-85.1zm0 6.4h85.1v2.4h-85.1zm0 18.7h85.1v2.3h-85.1zm0 5.4h85.1v2.2h-85.1zm0 5.7h85.1v1.3h-85.1zm0 3.3h85.1v2.8h-85.1zm0 15.4h85.1v1.5h-85.1zm0 59.8h85.1v1.5h-85.1zm0 4.8h85.1v1.2h-85.1zm0 56.2h85.1v1.2h-85.1zm0 14.6h85.1v2.6h-85.1zm0 40.9h85.1v2.4h-85.1zm0 39.2h85.1v1.7h-85.1zm0 2.4h85.1v2.7h-85.1zm0 6.1h85.1v1.9h-85.1zm0 1.5h85.1v2.6h-85.1zm0 15h85.1v2.3h-85.1zM1746.2 365.9h85.1v2.1h-85.1zm0 7h85.1v2.8h-85.1zm0 13.3h85.1v1.3h-85.1zm0 11.7h85.1v1.5h-85.1zm0 5.9h85.1v2h-85.1zm0 7.5h85.1v2.3h-85.1zm0 4.5h85.1v1.3h-85.1zm0 25.3h85.1v1.5h-85.1zm0 1.2h85.1v2.3h-85.1zm0 1.9h85.1v2.9h-85.1zm0 29.1h85.1v1.9h-85.1zm0 30.7h85.1v2.1h-85.1zm0 4.6h85.1v1.5h-85.1zm0 2.4h85.1v1.3h-85.1zm0 1h85.1v2.2h-85.1zm0 3.7h85.1v1.6h-85.1zm0 12h85.1v2.2h-85.1zm0 1.9h85.1v2h-85.1zm0 1.6h85.1v1.9h-85.1zm0 1.6h85.1v1.2h-85.1zm0 7h85.1v1.3h-85.1zm0 2.6h85.1v1.8h-85.1zm0 19.5h85.1v1.2h-85.1zm0 13.7h85.1v1.2h-85.1zm0 0.9h85.1v2.6h-85.1zm0 8h85.1v2h-85.1zm0 18.5h85.1v2.1h-85.1zm0 7.7h85.1v2.1h-85.1zm0 2.6h85.1v2.3h-85.1zm0 13.9h85.1v2.4h-85.1zm0 9.7h85.1v2.5h-85.1zm0 12.6h85.1v2.1h-85.1zm0 1.8h85.1v2h-85.1zm0 13.8h85.1v1.9h-85.1zm0 9.8h85.1v2.1h-85.1zM1152.3 367.6h85.1v1.4h-85.1zm0 5.3h85.1v2.8h-85.1zm0 21.8h85.1v1.2h-85.1zm0 0.8h85.1v1.5h-85.1zm0 17.8h85.1v2.8h-85.1zm0 5.3h85.1v1.6h-85.1zm0 21.2h85.1v1.7h-85.1zm0 11.6h85.1v1.8h-85.1zm0 14.4h85.1v1.2h-85.1zm0 3.9h85.1v1.9h-85.1zm0 17.2h85.1v1.4h-85.1zm0 4.8h85.1v2.4h-85.1zm0 7.8h85.1v1.7h-85.1zm0 4.5h85.1v2.1h-85.1zm0 4.6h85.1v1.5h-85.1zm0 8.4h85.1v2.9h-85.1zm0 5.1h85.1v2.6h-85.1zm0 4h85.1v2h-85.1zm0 7.6h85.1v2.6h-85.1zm0 2.2h85.1v2.1h-85.1zm0 9.6h85.1v2.4h-85.1zm0 12.7h85.1v1.6h-85.1zm0 23.7h85.1v2.9h-85.1zm0 4.3h85.1v2.7h-85.1zm0 11.1h85.1v2.5h-85.1zm0 5.7h85.1v2.1h-85.1zm0 5.2h85.1v2.8h-85.1zm0 11.3h85.1v2h-85.1zm0 1.6h85.1v2h-85.1zm0 17.9h85.1v2.8h-85.1zm0 4h85.1v2.5h-85.1zm0 22.1h85.1v1.9h-85.1zm0 5.7h85.1v1.9h-85.1zm0 4.1h85.1v2.1h-85.1zM1322 367.6h85.1v1.4h-85.1zm0 2.7h85.1v2.9h-85.1zm0 18.1h85.1v1.9h-85.1zm0 24.9h85.1v2.8h-85.1zm0 10h85.1v2.7h-85.1zm0 5.8h85.1v2.7h-85.1zm0 4.1h85.1v2.8h-85.1zm0 6.6h85.1v1.7h-85.1zm0 2.5h85.1v2.3h-85.1zm0 21.6h85.1v2.3h-85.1zm0 2.8h85.1v1.6h-85.1zm0 21.3h85.1v1.7h-85.1zm0 12.9h85.1v1.5h-85.1zm0 5.7h85.1v2.4h-85.1zm0 2h85.1v1.5h-85.1zm0 3.4h85.1v2.2h-85.1zm0 5h85.1v2.9h-85.1zm0 15.8h85.1v1.2h-85.1zm0 3.1h85.1v2.1h-85.1zm0 3.9h85.1v1.3h-85.1zm0 14.1h85.1v2.7h-85.1zm0 2.4h85.1v2.3h-85.1zm0 1.9h85.1v1.6h-85.1zm0 43.7h85.1v1.5h-85.1zm0 1.1h85.1v2.1h-85.1zm0 3.7h85.1v1.9h-85.1zm0 5.7h85.1v1.3h-85.1zm0 7.1h85.1v2h-85.1zm0 9.8h85.1v2.6h-85.1zm0 3.2h85.1v2.4h-85.1zm0 17h85.1v2.1h-85.1zm0 1.8h85.1v2h-85.1zm0 7.7h85.1v2.7h-85.1zm0 4.7h85.1v1.8h-85.1zm0 16.8h85.1v1.4h-85.1zM1576.5 367.6h85.1v1.4h-85.1zm0 7.7h85.1v1.7h-85.1zm0 1.4h85.1v2.3h-85.1zm0 8.2h85.1v1.6h-85.1zm0 22h85.1v2.7h-85.1zm0 15.5h85.1v1.3h-85.1zm0 3.3h85.1v2.8h-85.1zm0 3.4h85.1v2.7h-85.1zm0 19h85.1v2.4h-85.1zm0 18.6h85.1v1.6h-85.1zm0 8.1h85.1v2.6h-85.1zm0 2.3h85.1v2.1h-85.1zm0 9.8h85.1v1.4h-85.1zm0 1.1h85.1v1.7h-85.1zm0 2.5h85.1v1.5h-85.1zm0 20.5h85.1v1.3h-85.1zm0 2.9h85.1v2.2h-85.1zm0 5.6h85.1v1.9h-85.1zm0 21.2h85.1v2h-85.1zm0 10.3h85.1v2.4h-85.1zm0 11.8h85.1v2.2h-85.1zm0 10.4h85.1v2.8h-85.1zm0 15.3h85.1v2.4h-85.1zm0 19.7h85.1v2.8h-85.1zm0 4.2h85.1v1.3h-85.1zm0 24.5h85.1v2.5h-85.1zm0 4.6h85.1v1.9h-85.1zm0 1.5h85.1v2.5h-85.1zm0 9.9h85.1v2.8h-85.1zm0 8.5h85.1v2.7h-85.1zm0 20.2h85.1v2.3h-85.1zM1661.3 367.6h85.1v1.4h-85.1zm0 11.9h85.1v2.4h-85.1zm0 13.1h85.1v2.4h-85.1zm0 4h85.1v1.7h-85.1zm0 32.5h85.1v2.7h-85.1zm0 27.8h85.1v2h-85.1zm0 4.2h85.1v2.3h-85.1zm0 2h85.1v1.2h-85.1zm0 33.3h85.1v2.3h-85.1zm0 29.7h85.1v2h-85.1zm0 22.7h85.1v2.5h-85.1zm0 13.1h85.1v1.2h-85.1zm0 13.7h85.1v1.2h-85.1zm0 41.8h85.1v2.4h-85.1zm0 7.7h85.1v2.4h-85.1zm0 2.1h85.1v2.4h-85.1zm0 22.3h85.1v2.1h-85.1zm0 9.5h85.1v2.7h-85.1zm0 7.6h85.1v2.6h-85.1zm0 8.3h85.1v2.1h-85.1zm0 6.7h85.1v2.3h-85.1zM1067.5 370.3h85.1v2.9h-85.1zm0 6.4h85.1v2.3h-85.1zm0 1.9h85.1v1.2h-85.1zm0 0.9h85.1v2.4h-85.1zm0 2.1h85.1v2.2h-85.1zm0 13.1h85.1v1.2h-85.1zm0 14.5h85.1v2.5h-85.1zm0 2.1h85.1v2.3h-85.1zm0 5.4h85.1v2.2h-85.1zm0 1.9h85.1v1.6h-85.1zm0 3.8h85.1v1.3h-85.1zm0 21.8h85.1v2.9h-85.1zm0 8.6h85.1v2.3h-85.1zm0 5.8h85.1v2.8h-85.1zm0 2.5h85.1v2.3h-85.1zm0 5.6h85.1v1.6h-85.1zm0 10.4h85.1v2.1h-85.1zm0 13.4h85.1v1.5h-85.1zm0 13.5h85.1v2.1h-85.1zm0 22.1h85.1v2h-85.1zm0 5.1h85.1v1.9h-85.1zm0 16.4h85.1v1.6h-85.1zm0 8.7h85.1v2.3h-85.1zm0 3.2h85.1v2.8h-85.1zm0 25h85.1v2h-85.1zm0 4h85.1v2.4h-85.1zm0 5.2h85.1v2h-85.1zm0 8.2h85.1v1.5h-85.1zm0 6.3h85.1v2.8h-85.1zm0 5.1h85.1v2.3h-85.1zm0 6.2h85.1v2h-85.1zm0 7.7h85.1v2.4h-85.1zm0 9.7h85.1v2.5h-85.1zm0 4.6h85.1v1.9h-85.1zm0 11.4h85.1v2.8h-85.1zm0 5h85.1v1.5h-85.1zm0 7.2h85.1v1.9h-85.1zm0 9.8h85.1v2.1h-85.1zm0 1.7h85.1v1.3h-85.1zm0 5h85.1v2.3h-85.1zm0 1.9h85.1v2.1h-85.1zm0 1.8h85.1v2.4h-85.1zm0 2.1h85.1v2.8h-85.1zm0 2.4h85.1v1.5h-85.1zM1237.2 376.7h85.1v2.3h-85.1zm0 6.7h85.1v1.8h-85.1zm0 1.5h85.1v1.6h-85.1zm0 7.7h85.1v2.4h-85.1zm0 6.4h85.1v2.6h-85.1zm0 19.6h85.1v1.6h-85.1zm0 4.7h85.1v2.7h-85.1zm0 2.4h85.1v2.8h-85.1zm0 14.1h85.1v1.7h-85.1zm0 17.1h85.1v2h-85.1zm0 1.7h85.1v2.8h-85.1zm0 2.5h85.1v2.3h-85.1zm0 12.2h85.1v1.9h-85.1zm0 11h85.1v2.1h-85.1zm0 1.8h85.1v1.2h-85.1zm0 15.9h85.1v2.4h-85.1zm0 2h85.1v2.1h-85.1zm0 8h85.1v2.2h-85.1zm0 1.9h85.1v2.2h-85.1zm0 1.8h85.1v1.6h-85.1zm0 6.4h85.1v2.6h-85.1zm0 2.2h85.1v2.1h-85.1zm0 9.4h85.1v2.6h-85.1zm0 4h85.1v2.4h-85.1zm0 3h85.1v2h-85.1zm0 8.1h85.1v2.5h-85.1zm0 2.2h85.1v2.4h-85.1zm0 2.9h85.1v2.7h-85.1zm0 8h85.1v1.2h-85.1zm0 37.5h85.1v2.8h-85.1zm0 8.8h85.1v2.8h-85.1zm0 5.1h85.1v2.3h-85.1zm0 19.2h85.1v2.4h-85.1zm0 12.7h85.1v2.5h-85.1zm0 13.8h85.1v2.7h-85.1zm0 4.7h85.1v1.8h-85.1zm0 1.4h85.1v1.9h-85.1zm0 12.5h85.1v1.8h-85.1zm0 4h85.1v2.3h-85.1zm0 8.2h85.1v1.5h-85.1zM1491.7 388.4h85.1v1.9h-85.1zm0 10.6h85.1v2.6h-85.1zm0 4.8h85.1v2h-85.1zm0 12h85.1v1.3h-85.1zm0 17.4h85.1v2.8h-85.1zm0 9.1h85.1v2.3h-85.1zm0 1.9h85.1v2.9h-85.1zm0 3.9h85.1v2.4h-85.1zm0 62.9h85.1v1.3h-85.1zm0 34.5h85.1v2.4h-85.1zm0 2.1h85.1v1.6h-85.1zm0 17h85.1v2.7h-85.1zm0 30.7h85.1v2.3h-85.1zm0 69.8h85.1v1.9h-85.1zm0 7.3h85.1v2.9h-85.1z"/>
<path fill="#6db6ad" d="M1491.7 359.4h85.1v2.6h-85.1zm0 9.3h85.1v2h-85.1zm0 42.6h85.1v2.3h-85.1zm0 17.8h85.1v2.7h-85.1zm0 61.4h85.1v1.5h-85.1zm0 13.5h85.1v2.1h-85.1zm0 33.7h85.1v2.4h-85.1zm0 15.3h85.1v1.3h-85.1zm0 79.5h85.1v2.4h-85.1zm0 9h85.1v1.9h-85.1zm0 11.4h85.1v2.8h-85.1zM1661.3 359.4h85.1v2.6h-85.1zm0 35.3h85.1v1.2h-85.1zm0 23.9h85.1v1.6h-85.1zm0 7.1h85.1v2.8h-85.1zm0 14.1h85.1v1.7h-85.1zm0 14.9h85.1v2.5h-85.1zm0 33.3h85.1v1.7h-85.1zm0 25.9h85.1v2.2h-85.1zm0 88h85.1v1.5h-85.1zm0 17.6h85.1v2h-85.1zm0 1.6h85.1v2h-85.1zm0 20.4h85.1v1.9h-85.1zm0 5.9h85.1v2.5h-85.1zm0 3.9h85.1v2h-85.1zm0 5.3h85.1v1.7h-85.1zM1406.8 361.6h85.1v2.4h-85.1zm0 2.1h85.1v2.6h-85.1zm0 9.2h85.1v2.8h-85.1zm0 5.7h85.1v1.2h-85.1zm0 6.3h85.1v1.6h-85.1zm0 11.7h85.1v1.7h-85.1zm0 12.6h85.1v2.5h-85.1zm0 9.4h85.1v1.6h-85.1zm0 10.5h85.1v2.7h-85.1zm0 97h85.1v2h-85.1zm0 16.3h85.1v1.8h-85.1zm0 108.9h85.1v2h-85.1zm0 23.6h85.1v2.1h-85.1zm0 2.7h85.1v1.8h-85.1zM1237.2 365.9h85.1v2.1h-85.1zm0 1.7h85.1v1.4h-85.1zm0 2.7h85.1v2.9h-85.1zm0 11.3h85.1v2.2h-85.1zm0 8.4h85.1v1.9h-85.1zm0 6.6h85.1v1.7h-85.1zm0 4.7h85.1v2.9h-85.1zm0 14.5h85.1v1.3h-85.1zm0 6.6h85.1v1.3h-85.1zm0 10.8h85.1v2.8h-85.1zm0 4h85.1v2.9h-85.1zm0 3.9h85.1v1.5h-85.1zm0 1.2h85.1v2.3h-85.1zm0 1.9h85.1v2.9h-85.1zm0 5.9h85.1v1.6h-85.1zm0 1.3h85.1v1.8h-85.1zm0 12.5h85.1v2.3h-85.1zm0 1.9h85.1v1.2h-85.1zm0 22.2h85.1v1.7h-85.1zm0 3.7h85.1v2.4h-85.1zm0 2h85.1v1.9h-85.1zm0 1.6h85.1v1.4h-85.1zm0 3.1h85.1v1.5h-85.1zm0 8.2h85.1v2.4h-85.1zm0 10.4h85.1v2.9h-85.1zm0 2.5h85.1v1.9h-85.1zm0 8.2h85.1v2.2h-85.1zm0 5.1h85.1v1.2h-85.1zm0 9.6h85.1v1.8h-85.1zm0 1.4h85.1v2.1h-85.1zm0 1.7h85.1v2.4h-85.1zm0 14h85.1v2.8h-85.1zm0 17h85.1v2.6h-85.1zm0 5.4h85.1v2.9h-85.1zm0 4.3h85.1v2.7h-85.1zm0 11.1h85.1v2.5h-85.1zm0 7.5h85.1v2.3h-85.1zm0 12.6h85.1v2.4h-85.1zm0 3.7h85.1v2h-85.1zm0 8.2h85.1v2.6h-85.1zm0 12.2h85.1v1.9h-85.1zm0 9.8h85.1v2h-85.1zm0 5.3h85.1v1.7h-85.1zm0 4.8h85.1v2.7h-85.1zm0 9.4h85.1v1.9h-85.1zm0 1.6h85.1v2.9h-85.1zm0 6.7h85.1v1.8h-85.1zm0 1.4h85.1v1.4h-85.1zm0 3h85.1v2.1h-85.1zm0 3.9h85.1v2.8h-85.1zM1746.2 367.6h85.1v1.4h-85.1zm0 9.1h85.1v2.3h-85.1zm0 1.9h85.1v1.2h-85.1zm0 3h85.1v2.2h-85.1zm0 5.6h85.1v1.6h-85.1zm0 11.8h85.1v2.6h-85.1zm0 6.5h85.1v1.8h-85.1zm0 11.2h85.1v2.2h-85.1zm0 9h85.1v2.8h-85.1zm0 22.4h85.1v2.4h-85.1zm0 8.8h85.1v2h-85.1zm0 1.7h85.1v2.8h-85.1zm0 5.3h85.1v2.3h-85.1zm0 5.8h85.1v1.9h-85.1zm0 7.4h85.1v2.1h-85.1zm0 9h85.1v1.2h-85.1zm0 0.8h85.1v1.4h-85.1zm0 4.8h85.1v2.4h-85.1zm0 9.2h85.1v1.5h-85.1zm0 13h85.1v2.2h-85.1zm0 3.1h85.1v2.9h-85.1zm0 2.5h85.1v1.9h-85.1zm0 18.2h85.1v2.4h-85.1zm0 6.1h85.1v2.1h-85.1zm0 12.5h85.1v2.3h-85.1zm0 6.5h85.1v2.2h-85.1zm0 6.3h85.1v2.8h-85.1zm0 10.8h85.1v2.3h-85.1zm0 2h85.1v2.9h-85.1zm0 4.3h85.1v2.7h-85.1zm0 9.1h85.1v2.3h-85.1zm0 4.1h85.1v2.8h-85.1zm0 2.5h85.1v1.5h-85.1zm0 19.2h85.1v2h-85.1zm0 1.7h85.1v2.7h-85.1zm0 18.7h85.1v1.9h-85.1zm0 15.1h85.1v1.7h-85.1zm0 1.3h85.1v1.5h-85.1zm0 11h85.1v2.3h-85.1zm0 3.5h85.1v2.9h-85.1zm0 9.2h85.1v2.3h-85.1zM1576.5 368.7h85.1v2h-85.1zm0 4.2h85.1v2.8h-85.1zm0 6.6h85.1v2.4h-85.1zm0 3.9h85.1v1.8h-85.1zm0 5h85.1v1.9h-85.1zm0 1.6h85.1v1.9h-85.1zm0 1.5h85.1v1.4h-85.1zm0 7.5h85.1v2.6h-85.1zm0 4.8h85.1v2h-85.1zm0 1.7h85.1v1.8h-85.1zm0 5.8h85.1v2.3h-85.1zm0 7.3h85.1v1.6h-85.1zm0 4.7h85.1v2.7h-85.1zm0 8.1h85.1v2.1h-85.1zm0 9.7h85.1v1.5h-85.1zm0 1.2h85.1v2.3h-85.1zm0 7.8h85.1v1.6h-85.1zm0 1.3h85.1v1.8h-85.1zm0 11.7h85.1v1.2h-85.1zm0 0.8h85.1v2.3h-85.1zm0 5.8h85.1v1.9h-85.1zm0 9.2h85.1v2.2h-85.1zm0 23.1h85.1v2.4h-85.1zm0 4.6h85.1v2.4h-85.1zm0 3.2h85.1v1.6h-85.1zm0 12.3h85.1v2.6h-85.1zm0 13.8h85.1v2.1h-85.1zm0 7.9h85.1v2.1h-85.1zm0 1.7h85.1v2.4h-85.1zm0 2.1h85.1v1.6h-85.1zm0 21.5h85.1v2.8h-85.1zm0 9.7h85.1v1.5h-85.1zm0 1.1h85.1v2.3h-85.1zm0 2h85.1v2.9h-85.1zm0 20h85.1v1.5h-85.1zm0 4.8h85.1v1.9h-85.1zm0 4h85.1v2.1h-85.1zm0 12.1h85.1v2.7h-85.1zm0 4.4h85.1v2.4h-85.1zm0 20.2h85.1v2.5h-85.1zm0 10.5h85.1v1.5h-85.1zm0 7.2h85.1v1.9h-85.1zm0 1.5h85.1v2.6h-85.1zm0 10h85.1v1.3h-85.1zm0 2.5h85.1v1.8h-85.1zM1152.3 370.3h85.1v2.9h-85.1zm0 9.2h85.1v2.4h-85.1zm0 5.4h85.1v1.6h-85.1zm0 6.6h85.1v1.4h-85.1zm0 1.1h85.1v2.4h-85.1zm0 6.4h85.1v2.6h-85.1zm0 4.8h85.1v2h-85.1zm0 1.7h85.1v1.8h-85.1zm0 1.4h85.1v2.7h-85.1zm0 9.8h85.1v2.2h-85.1zm0 5.7h85.1v1.3h-85.1zm0 6.7h85.1v2.7h-85.1zm0 13.2h85.1v2.3h-85.1zm0 4.5h85.1v1.6h-85.1zm0 1.3h85.1v2.4h-85.1zm0 15h85.1v1.2h-85.1zm0 10.2h85.1v1.9h-85.1zm0 20.4h85.1v1.9h-85.1zm0 7.2h85.1v1.5h-85.1zm0 1.1h85.1v2.4h-85.1zm0 11.9h85.1v2.2h-85.1zm0 1.8h85.1v1.6h-85.1zm0 26.7h85.1v1.8h-85.1zm0 6.4h85.1v2.5h-85.1zm0 14h85.1v2.2h-85.1zm0 1.8h85.1v2.7h-85.1zm0 19.9h85.1v2h-85.1zm0 10.8h85.1v2.3h-85.1zm0 11.4h85.1v1.9h-85.1zm0 5.7h85.1v1.3h-85.1zm0 16.9h85.1v2.6h-85.1zm0 2.2h85.1v1.3h-85.1zm0 13.7h85.1v2.5h-85.1zm0 2.2h85.1v2.5h-85.1zm0 3.9h85.1v2h-85.1zm0 12.4h85.1v1.8h-85.1zm0 5.2h85.1v2.3h-85.1zm0 8.7h85.1v1.8h-85.1zm0 2.9h85.1v1.4h-85.1zm0 1.1h85.1v2.3h-85.1zm0 5.8h85.1v2.8h-85.1zM1067.5 372.9h85.1v2.8h-85.1zm0 12h85.1v1.6h-85.1zm0 30.9h85.1v1.3h-85.1zm0 7.5h85.1v2.7h-85.1zm0 4.8h85.1v1.3h-85.1zm0 1h85.1v2.7h-85.1zm0 4.1h85.1v2.8h-85.1zm0 7.9h85.1v1.5h-85.1zm0 13.6h85.1v2.5h-85.1zm0 2.2h85.1v2h-85.1zm0 7h85.1v2.3h-85.1zm0 1.9h85.1v1.2h-85.1zm0 3.9h85.1v1.9h-85.1zm0 3.6h85.1v1.9h-85.1zm0 16h85.1v1.6h-85.1zm0 4.4h85.1v1.9h-85.1zm0 1.6h85.1v1.4h-85.1zm0 3.1h85.1v1.5h-85.1zm0 1.1h85.1v1.7h-85.1zm0 22.6h85.1v2.6h-85.1zm0 36.1h85.1v1.6h-85.1zm0 10.9h85.1v2.8h-85.1zm0 6.5h85.1v1.2h-85.1zm0 0.9h85.1v2.6h-85.1zm0 3.4h85.1v2.3h-85.1zm0 2h85.1v2.9h-85.1zm0 21.1h85.1v2.1h-85.1zm0 26.3h85.1v2.6h-85.1zm0 13.7h85.1v2.5h-85.1zm0 37.5h85.1v1.4h-85.1zM1322 376.7h85.1v2.3h-85.1zm0 9.5h85.1v1.3h-85.1zm0 1h85.1v1.6h-85.1zm0 18.3h85.1v1.8h-85.1zm0 1.4h85.1v2.7h-85.1zm0 2.3h85.1v2.5h-85.1zm0 2.1h85.1v2.3h-85.1zm0 5.4h85.1v2.2h-85.1zm0 14.7h85.1v2.1h-85.1zm0 20h85.1v1.8h-85.1zm0 9.7h85.1v2.3h-85.1zm0 2h85.1v1.2h-85.1zm0 14h85.1v2.1h-85.1zm0 1.8h85.1v2.2h-85.1zm0 1.8h85.1v2.3h-85.1zm0 15.7h85.1v2.3h-85.1zm0 2h85.1v1.5h-85.1zm0 22.7h85.1v1.4h-85.1zm0 1h85.1v2.6h-85.1zm0 7.5h85.1v2h-85.1zm0 14.2h85.1v2.1h-85.1zm0 1.7h85.1v2.4h-85.1zm0 2.1h85.1v1.6h-85.1zm0 5.4h85.1v1.3h-85.1zm0 8.9h85.1v1.2h-85.1zm0 2.7h85.1v2.7h-85.1zm0 8.6h85.1v2.8h-85.1zm0 15.3h85.1v2.4h-85.1zm0 5.2h85.1v2h-85.1zm0 3.6h85.1v2.5h-85.1zm0 13.4h85.1v2.1h-85.1zm0 2.6h85.1v2.3h-85.1zm0 7.8h85.1v2h-85.1zm0 20.4h85.1v1.9h-85.1zm0 1.5h85.1v2.5h-85.1zm0 4.4h85.1v2.5h-85.1zm0 17.7h85.1v1.9h-85.1zm0 1.5h85.1v2.6h-85.1zm0 4.2h85.1v1.9h-85.1z"/>
<path fill="#8c80a8" d="M1576.5 359.4h85.1v2.6h-85.1zm0 134.3h85.1v1.9h-85.1zm0 12h85.1v1.2h-85.1zm0 47.3h85.1v1.3h-85.1zm0 23.5h85.1v2.6h-85.1zm0 26.5h85.1v2.1h-85.1zm0 14.4h85.1v2.4h-85.1zm0 2.1h85.1v2h-85.1zm0 19.5h85.1v2.8h-85.1zM1746.2 361.6h85.1v2.4h-85.1zm0 33.1h85.1v1.2h-85.1zm0 18.6h85.1v2.8h-85.1zm0 83.1h85.1v2.3h-85.1zm0 9.3h85.1v1.2h-85.1zm0 4.1h85.1v1.6h-85.1zm0 23.9h85.1v2.6h-85.1zm0 30.9h85.1v2.7h-85.1zm0 52.8h85.1v2.4h-85.1zm0 53.4h85.1v1.9h-85.1zM1152.3 363.7h85.1v2.6h-85.1zm0 26.3h85.1v1.9h-85.1zm0 6.6h85.1v1.7h-85.1zm0 4.7h85.1v2.9h-85.1zm0 55.6h85.1v2h-85.1zm0 33.6h85.1v1.5h-85.1zm0 19.3h85.1v1.6h-85.1zm0 78.7h85.1v2.4h-85.1zm0 78.1h85.1v2.6h-85.1zM1067.5 375.3h85.1v1.7h-85.1zm0 56.1h85.1v2.1h-85.1zm0 16.7h85.1v2.4h-85.1zm0 48.3h85.1v2.3h-85.1zm0 5.6h85.1v2.4h-85.1zm0 6.6h85.1v1.5h-85.1zm0 25.1h85.1v2.6h-85.1zm0 78.7h85.1v1.3h-85.1zm0 22.2h85.1v2.7h-85.1zm0 26.8h85.1v2.7h-85.1zM1322 381.6h85.1v2.2h-85.1zm0 1.8h85.1v1.8h-85.1zm0 63.4h85.1v1.6h-85.1zm0 6h85.1v2.3h-85.1zm0 96h85.1v2.5h-85.1zm0 27.7h85.1v2.6h-85.1zm0 9.7h85.1v2.7h-85.1zM1406.8 381.6h85.1v2.2h-85.1zm0 69.8h85.1v1.8h-85.1zM1237.2 386.2h85.1v1.3h-85.1zm0 19.3h85.1v1.8h-85.1zm0 7.8h85.1v2.8h-85.1zm0 41.4h85.1v2.5h-85.1zm0 15h85.1v1.9h-85.1zm0 123.2h85.1v1.2h-85.1zm0 13.8h85.1v1.9h-85.1zm0 20.5h85.1v2.4h-85.1zM1491.7 439.8h85.1v1.7h-85.1zm0 11.6h85.1v1.8h-85.1zm0 11.7h85.1v1.2h-85.1zm0 0.8h85.1v2.3h-85.1zm0 48.1h85.1v2.2h-85.1zm0 14.1h85.1v2h-85.1zm0 96.7h85.1v2.7h-85.1zM1661.3 505.7h85.1v1.2h-85.1zm0 131.2h85.1v2.5h-85.1zm0 6.1h85.1v2.5h-85.1zm0 14.9h85.1v1.5h-85.1zm0 27.4h85.1v2.4h-85.1z"/>
<path fill="#c9a8b5" d="M1746.2 359.4h85.1v2.6h-85.1zm0 69.7h85.1v2.7h-85.1zm0 2.3h85.1v2.1h-85.1zm0 29.7h85.1v2.3h-85.1zm0 60h85.1v1.4h-85.1zm0 5h85.1v2h-85.1zm0 32.1h85.1v1.6h-85.1zM1491.7 370.3h85.1v2.9h-85.1zm0 16.9h85.1v1.6h-85.1zm0 7.5h85.1v1.2h-85.1zm0 33.4h85.1v1.3h-85.1zm0 54.5h85.1v2.1h-85.1zm0 5.4h85.1v1.7h-85.1zm0 11.5h85.1v1.7h-85.1zm0 9.1h85.1v1.5h-85.1zm0 5.3h85.1v2.2h-85.1zm0 18.9h85.1v1.2h-85.1zm0 3.1h85.1v2.1h-85.1zm0 3.9h85.1v1.3h-85.1zm0 22.1h85.1v1.2h-85.1zm0 0.9h85.1v2.2h-85.1zm0 13.7h85.1v2.6h-85.1zm0 12h85.1v2.4h-85.1zm0 14.5h85.1v2.1h-85.1zm0 9.4h85.1v1.3h-85.1zm0 0.9h85.1v2.3h-85.1zm0 6.2h85.1v2h-85.1zm0 5.6h85.1v2.4h-85.1zm0 6.4h85.1v1.3h-85.1zm0 13.7h85.1v2.5h-85.1zM1661.3 375.3h85.1v1.7h-85.1zm0 6.3h85.1v2.2h-85.1zm0 8.4h85.1v1.9h-85.1zm0 21.3h85.1v2.3h-85.1zm0 4.5h85.1v1.3h-85.1zm0 6.6h85.1v1.3h-85.1zm0 5.7h85.1v1.3h-85.1zm0 3.3h85.1v2.1h-85.1zm0 9.7h85.1v1.5h-85.1zm0 26.8h85.1v2.1h-85.1zm0 5.4h85.1v1.9h-85.1zm0 20.4h85.1v1.9h-85.1zm0 5.8h85.1v1.7h-85.1zm0 2.5h85.1v2.4h-85.1zm0 15h85.1v2.9h-85.1zm0 2.5h85.1v1.9h-85.1zm0 10.1h85.1v2h-85.1zm0 24.3h85.1v2.7h-85.1zm0 5.6h85.1v2.8h-85.1zm0 19.3h85.1v1.5h-85.1zm0 3.1h85.1v2.9h-85.1zm0 11.8h85.1v2h-85.1zm0 1.6h85.1v2.3h-85.1zm0 15.4h85.1v2.1h-85.1zm0 18.6h85.1v2.6h-85.1zm0 47.3h85.1v1.3h-85.1zm0 3.9h85.1v1.4h-85.1zm0 3h85.1v2.1h-85.1zM1237.2 378.6h85.1v1.2h-85.1zm0 74.2h85.1v2.3h-85.1zm0 15.1h85.1v2.1h-85.1zm0 31.6h85.1v1.7h-85.1zm0 11.5h85.1v1.3h-85.1zm0 42h85.1v1.3h-85.1zm0 90h85.1v2.5h-85.1zm0 4.4h85.1v2.5h-85.1zm0 29.2h85.1v1.3h-85.1zM1406.8 379.5h85.1v2.4h-85.1zm0 10.5h85.1v1.9h-85.1zm0 9h85.1v2.6h-85.1zm0 14.3h85.1v2.8h-85.1zm0 41.4h85.1v2.5h-85.1zm0 9.2h85.1v2.3h-85.1zm0 13.2h85.1v2.1h-85.1zm0 22.4h85.1v1.7h-85.1zm0 7.1h85.1v2.4h-85.1zm0 4.4h85.1v1.3h-85.1zm0 2.9h85.1v2.2h-85.1zm0 8.2h85.1v2.6h-85.1zm0 2.2h85.1v2.1h-85.1zm0 40.3h85.1v2.7h-85.1zm0 30.7h85.1v2.3h-85.1zm0 25.8h85.1v2h-85.1zm0 6.1h85.1v2.4h-85.1zm0 56.3h85.1v2.1h-85.1zm0 1.8h85.1v2.4h-85.1zm0 2.1h85.1v2.8h-85.1zM1067.5 405.5h85.1v1.8h-85.1zm0 7.8h85.1v2.8h-85.1zm0 36.8h85.1v1.6h-85.1zm0 1.3h85.1v1.8h-85.1zm0 40.3h85.1v2.4h-85.1zm0 32.6h85.1v2.1h-85.1zm0 8.5h85.1v1.2h-85.1zm0 7h85.1v1.3h-85.1zm0 24.8h85.1v2.7h-85.1zm0 21.6h85.1v2.7h-85.1zM1152.3 519.5h85.1v1.9h-85.1zm0 57h85.1v2.6h-85.1zM1322 542.4h85.1v1.8h-85.1zM1576.5 629.3h85.1v2.6h-85.1z"/>
<path fill="#ece4cc" d="M1491.7 361.6h85.1v2.4h-85.1zm0 6h85.1v1.4h-85.1zm0 7.7h85.1v1.7h-85.1zm0 6.3h85.1v2.2h-85.1zm0 3.3h85.1v1.6h-85.1zm0 7.7h85.1v2.4h-85.1zm0 4h85.1v1.7h-85.1zm0 1.3h85.1v1.5h-85.1zm0 11.3h85.1v2.5h-85.1zm0 9.4h85.1v1.6h-85.1zm0 3.8h85.1v1.3h-85.1zm0 9h85.1v2.1h-85.1zm0 29.7h85.1v2.3h-85.1zm0 4.7h85.1v1.2h-85.1zm0 0.9h85.1v1.6h-85.1zm0 1.2h85.1v2.1h-85.1zm0 1.8h85.1v1.9h-85.1zm0 5.1h85.1v2.6h-85.1zm0 5.9h85.1v2.3h-85.1zm0 5.4h85.1v1.2h-85.1zm0 0.8h85.1v1.4h-85.1zm0 2.4h85.1v1.6h-85.1zm0 2.4h85.1v2.4h-85.1zm0 2h85.1v1.9h-85.1zm0 2.7h85.1v2.3h-85.1zm0 2h85.1v1.5h-85.1zm0 3.6h85.1v2.4h-85.1zm0 3.7h85.1v1.2h-85.1zm0 0.9h85.1v2.4h-85.1zm0 9.1h85.1v1.6h-85.1zm0 5.4h85.1v1.4h-85.1zm0 1h85.1v2.6h-85.1zm0 5.6h85.1v2.2h-85.1zm0 1.9h85.1v2h-85.1zm0 12.8h85.1v1.8h-85.1zm0 8.6h85.1v2.4h-85.1zm0 5.3h85.1v2.3h-85.1zm0 1.9h85.1v1.6h-85.1zm0 1.3h85.1v2.8h-85.1zm0 9.6h85.1v2.8h-85.1zm0 4.1h85.1v2.8h-85.1zm0 2.4h85.1v1.2h-85.1zm0 10.6h85.1v2.7h-85.1zm0 13.2h85.1v2.8h-85.1zm0 2.5h85.1v1.5h-85.1zm0 6.3h85.1v2.8h-85.1zm0 2.5h85.1v2.1h-85.1zm0 6.7h85.1v2.4h-85.1zm0 9.8h85.1v2.4h-85.1zm0 2.1h85.1v2.6h-85.1zm0 27.3h85.1v1.7h-85.1zm0 7.1h85.1v1.8h-85.1zm0 2.9h85.1v2.6h-85.1zm0 2.3h85.1v2.3h-85.1zm0 6h85.1v2.1h-85.1zm0 5.6h85.1v1.4h-85.1zm0 6.9h85.1v2.8h-85.1zM1067.5 363.7h85.1v2.6h-85.1zm0 28.9h85.1v2.4h-85.1zm0 49.7h85.1v2.3h-85.1zm0 45.7h85.1v1.7h-85.1zm0 27.7h85.1v1.6h-85.1zm0 25h85.1v2h-85.1zm0 56.6h85.1v2.5h-85.1zm0 66.4h85.1v1.8h-85.1zM1661.3 372.9h85.1v2.8h-85.1zm0 5.7h85.1v1.2h-85.1zm0 6.3h85.1v1.6h-85.1zm0 3.5h85.1v1.9h-85.1zm0 12.9h85.1v2.9h-85.1zm0 2.5h85.1v2h-85.1zm0 29.4h85.1v2.8h-85.1zm0 2.4h85.1v2h-85.1zm0 6.7h85.1v2.3h-85.1zm0 7.8h85.1v1.6h-85.1zm0 8.5h85.1v2.8h-85.1zm0 7.2h85.1v1.2h-85.1zm0 9h85.1v2.6h-85.1zm0 2.3h85.1v2.1h-85.1zm0 3.6h85.1v2.3h-85.1zm0 1.9h85.1v2.1h-85.1zm0 4.3h85.1v1.4h-85.1zm0 4.8h85.1v2.4h-85.1zm0 6.7h85.1v1.5h-85.1zm0 5.6h85.1v2.1h-85.1zm0 2.6h85.1v2.4h-85.1zm0 3.2h85.1v1.6h-85.1zm0 14.5h85.1v2.1h-85.1zm0 8.5h85.1v1.2h-85.1zm0 0.9h85.1v2.6h-85.1zm0 2.2h85.1v2.1h-85.1zm0 3.9h85.1v1.3h-85.1zm0 0.9h85.1v2h-85.1zm0 1.7h85.1v1.8h-85.1zm0 1.4h85.1v2.1h-85.1zm0 3.8h85.1v1.6h-85.1zm0 10.6h85.1v1.6h-85.1zm0 18.3h85.1v2.6h-85.1zm0 3.4h85.1v2.3h-85.1zm0 8.6h85.1v2.4h-85.1zm0 4.4h85.1v1.2h-85.1zm0 10.1h85.1v2.1h-85.1zm0 5.2h85.1v2.8h-85.1zm0 5.1h85.1v2.3h-85.1zm0 48.1h85.1v2.7h-85.1zM1237.2 388.4h85.1v1.9h-85.1zm0 28.3h85.1v2.2h-85.1zm0 12.4h85.1v2.7h-85.1zm0 37.6h85.1v1.6h-85.1zm0 15.9h85.1v2.1h-85.1zm0 7.9h85.1v1.5h-85.1zm0 65.8h85.1v2.3h-85.1zm0 28.2h85.1v2h-85.1zm0 38.3h85.1v2.7h-85.1zM1406.8 397.9h85.1v1.5h-85.1zm0 3.4h85.1v2.9h-85.1zm0 26.8h85.1v1.3h-85.1zm0 5.1h85.1v2.8h-85.1zm0 6.6h85.1v1.7h-85.1zm0 2.5h85.1v2.3h-85.1zm0 4.5h85.1v1.6h-85.1zm0 1.3h85.1v2.4h-85.1zm0 10.5h85.1v2.8h-85.1zm0 7.2h85.1v1.2h-85.1zm0 2.1h85.1v2.1h-85.1zm0 1.8h85.1v1.9h-85.1zm0 12.9h85.1v2.1h-85.1zm0 3.5h85.1v1.2h-85.1zm0 0.8h85.1v1.4h-85.1zm0 2.4h85.1v1.6h-85.1zm0 1.2h85.1v1.5h-85.1zm0 3.2h85.1v1.9h-85.1zm0 2.7h85.1v2.3h-85.1zm0 2h85.1v1.5h-85.1zm0 10.2h85.1v1.5h-85.1zm0 3.4h85.1v2.2h-85.1zm0 5h85.1v2.9h-85.1zm0 10.7h85.1v2.2h-85.1zm0 1.9h85.1v2h-85.1zm0 3.2h85.1v1.2h-85.1zm0 7h85.1v1.3h-85.1zm0 5.7h85.1v2.4h-85.1zm0 2.1h85.1v1.6h-85.1zm0 3.4h85.1v2.4h-85.1zm0 2h85.1v1.3h-85.1zm0 3.3h85.1v2.3h-85.1zm0 3.2h85.1v2.8h-85.1zm0 13.7h85.1v2.8h-85.1zm0 6.7h85.1v2.3h-85.1zm0 2h85.1v2.9h-85.1zm0 2.6h85.1v2h-85.1zm0 4h85.1v2.4h-85.1zm0 4.4h85.1v1.2h-85.1zm0 9h85.1v1.5h-85.1zm0 23.2h85.1v2.4h-85.1zm0 6.4h85.1v1.3h-85.1zm0 10h85.1v1.9h-85.1zm0 3.7h85.1v2.5h-85.1zm0 16.2h85.1v2.7h-85.1zm0 9.4h85.1v1.9h-85.1zm0 1.6h85.1v2.9h-85.1zm0 4.2h85.1v1.3h-85.1zM1152.3 409.2h85.1v2.5h-85.1zm0 18.9h85.1v1.3h-85.1zm0 150.7h85.1v1.5h-85.1zm0 104.7h85.1v2.1h-85.1zM1746.2 578.8h85.1v1.5h-85.1zm0 98.8h85.1v1.8h-85.1zm0 7.7h85.1v2.4h-85.1z"/>
<path fill="#7a5592" d="M1576.5 361.6h85.1v2.4h-85.1zm0 119.1h85.1v2.3h-85.1zm0 17.7h85.1v1.5h-85.1zm0 35.3h85.1v2.6h-85.1zm0 33.3h85.1v2.5h-85.1zm0 107.9h85.1v2.1h-85.1zM1661.3 363.7h85.1v2.6h-85.1zm0 45.5h85.1v2.5h-85.1zm0 38.9h85.1v2.4h-85.1zm0 118.9h85.1v2.5h-85.1zM1491.7 379.5h85.1v2.4h-85.1zm0 37.2h85.1v2.2h-85.1zm0 150.3h85.1v2.5h-85.1zm0 92h85.1v2.7h-85.1zm0 17.6h85.1v1.3h-85.1zM1322 390.0h85.1v1.9h-85.1zm0 177h85.1v2.5h-85.1zm0 32.4h85.1v2.8h-85.1zM1152.3 450.1h85.1v1.6h-85.1zm0 100.9h85.1v2.4h-85.1zm0 16h85.1v2.5h-85.1zm0 8.6h85.1v1.2h-85.1zm0 51.6h85.1v2.4h-85.1zm0 30.7h85.1v1.5h-85.1zM1746.2 454.7h85.1v2.5h-85.1zm0 112.3h85.1v2.5h-85.1zM1237.2 508.6h85.1v1.5h-85.1zm0 1.2h85.1v1.6h-85.1zm0 57.2h85.1v2.5h-85.1zm0 45.4h85.1v1.3h-85.1zM1067.5 517.0h85.1v2.9h-85.1zm0 44.9h85.1v1.2h-85.1zm0 5.1h85.1v2.5h-85.1zM1406.8 567.0h85.1v2.5h-85.1z"/>
<path fill="#9a6090" d="M1067.5 365.9h85.1v2.1h-85.1zm0 54h85.1v2.9h-85.1zm0 15.7h85.1v2h-85.1zm0 1.6h85.1v2.9h-85.1zm0 34h85.1v2.4h-85.1zm0 13.1h85.1v2.1h-85.1zm0 87.2h85.1v2h-85.1zM1152.3 365.9h85.1v2.1h-85.1zm0 54h85.1v2.9h-85.1zm0 15.7h85.1v2h-85.1zm0 1.6h85.1v2.9h-85.1zm0 34h85.1v2.4h-85.1zm0 13.1h85.1v2.1h-85.1zm0 46.9h85.1v1.9h-85.1zm0 40.3h85.1v2h-85.1zM1322 365.9h85.1v2.1h-85.1zm0 54h85.1v2.9h-85.1zm0 15.7h85.1v2h-85.1zm0 1.6h85.1v2.9h-85.1zm0 34h85.1v2.4h-85.1zm0 13.1h85.1v2.1h-85.1zm0 46.9h85.1v1.9h-85.1zm0 40.3h85.1v2h-85.1zM1406.8 365.9h85.1v2.1h-85.1zm0 54h85.1v2.9h-85.1zm0 15.7h85.1v2h-85.1zm0 1.6h85.1v2.9h-85.1zm0 34h85.1v2.4h-85.1zm0 13.1h85.1v2.1h-85.1zm0 46.9h85.1v1.9h-85.1zm0 40.3h85.1v2h-85.1zM1491.7 365.9h85.1v2.1h-85.1zm0 54h85.1v2.9h-85.1zm0 15.7h85.1v2h-85.1zm0 1.6h85.1v2.9h-85.1zm0 34h85.1v2.4h-85.1zm0 13.1h85.1v2.1h-85.1zm0 46.9h85.1v1.9h-85.1zm0 40.3h85.1v2h-85.1zM1576.5 365.9h85.1v2.1h-85.1zm0 54h85.1v2.9h-85.1zm0 15.7h85.1v2h-85.1zm0 1.6h85.1v2.9h-85.1zm0 34h85.1v2.4h-85.1zm0 13.1h85.1v2.1h-85.1zm0 46.9h85.1v1.9h-85.1zm0 40.3h85.1v2h-85.1zM1661.3 365.9h85.1v2.1h-85.1zm0 54h85.1v2.9h-85.1zm0 17.3h85.1v2.9h-85.1zm0 34h85.1v2.4h-85.1zm0 13.1h85.1v2.1h-85.1zm0 46.9h85.1v1.9h-85.1zm0 40.3h85.1v2h-85.1zM1237.2 419.9h85.1v2.9h-85.1zm0 15.7h85.1v2h-85.1zm0 35.6h85.1v2.4h-85.1zm0 60h85.1v1.9h-85.1zM1746.2 419.9h85.1v2.9h-85.1zm0 15.7h85.1v2h-85.1zm0 1.6h85.1v2.9h-85.1zm0 34h85.1v2.4h-85.1zm0 13.1h85.1v2.1h-85.1zm0 87.2h85.1v2h-85.1z"/>
<path fill="#6a5a96" d="M1152.3 495.3h85.1v1.4h-85.1zm0 109.5h85.1v2.3h-85.1zm0 10.5h85.1v2.5h-85.1zM1322 495.3h85.1v1.4h-85.1zm0 109.5h85.1v2.3h-85.1zm0 10.5h85.1v2.5h-85.1zm0 40.1h85.1v1.5h-85.1zM1406.8 495.3h85.1v1.4h-85.1zm0 109.5h85.1v2.3h-85.1zm0 10.5h85.1v2.5h-85.1zm0 40.1h85.1v1.5h-85.1zM1491.7 495.3h85.1v1.4h-85.1zm0 109.5h85.1v2.3h-85.1zm0 10.5h85.1v2.5h-85.1zm0 40.1h85.1v1.5h-85.1zM1576.5 495.3h85.1v1.4h-85.1zm0 109.5h85.1v2.3h-85.1zm0 10.5h85.1v2.5h-85.1zm0 40.1h85.1v1.5h-85.1zM1661.3 495.3h85.1v1.4h-85.1zm0 109.5h85.1v2.3h-85.1zm0 10.5h85.1v2.5h-85.1zM1746.2 495.3h85.1v1.4h-85.1zm0 109.5h85.1v2.3h-85.1zm0 10.5h85.1v2.5h-85.1zm0 40.1h85.1v1.5h-85.1zM1067.5 604.8h85.1v2.3h-85.1zm0 10.5h85.1v2.5h-85.1zm0 40.1h85.1v1.5h-85.1zM1237.2 615.3h85.1v2.5h-85.1zm0 40.1h85.1v1.5h-85.1z"/>
<path fill="#7a8aa8" d="M1067.5 691.0h85.1v1.2h-85.1zm0 4.7h85.1v1.8h-85.1zm0 3.8h85.1v2h-85.1zm0 23.1h85.1v2.5h-85.1zm0 27.1h85.1v2.5h-85.1zM1152.3 691.0h85.1v1.2h-85.1zm0 4.7h85.1v1.8h-85.1zm0 1.5h85.1v2.7h-85.1zm0 2.3h85.1v2h-85.1zm0 1.6h85.1v1.9h-85.1zm0 13h85.1v1.9h-85.1zm0 22.5h85.1v2.5h-85.1zm0 13.1h85.1v2.5h-85.1zm0 17.1h85.1v1.9h-85.1zm0 43h85.1v1.8h-85.1zm0 3.8h85.1v1.4h-85.1zM1237.2 691.0h85.1v1.2h-85.1zm0 11.6h85.1v1.9h-85.1zm0 11.5h85.1v1.9h-85.1zm0 35.6h85.1v2.5h-85.1zm0 6.8h85.1v1.3h-85.1zm0 53.3h85.1v1.8h-85.1zm0 3.8h85.1v1.4h-85.1zM1322 691.0h85.1v1.2h-85.1zm0 2.6h85.1v2.4h-85.1zm0 5.9h85.1v2h-85.1zm0 43.2h85.1v2.3h-85.1zm0 5.3h85.1v2h-85.1zm0 1.7h85.1v2.5h-85.1zm0 60.1h85.1v1.8h-85.1zm0 3.8h85.1v1.4h-85.1zm0 25.4h85.1v1.6h-85.1zm0 6.2h85.1v1.1h-85.1zM1576.5 691.0h85.1v1.2h-85.1zm0 0.8h85.1v2.2h-85.1zm0 7.7h85.1v2h-85.1zm0 14.6h85.1v1.9h-85.1zm0 26.6h85.1v1.5h-85.1zm0 9h85.1v2.5h-85.1zm0 60.1h85.1v1.8h-85.1zM1661.3 691.0h85.1v1.2h-85.1zm0 0.8h85.1v2.2h-85.1zm0 7.7h85.1v2h-85.1zm0 14.6h85.1v1.9h-85.1zm0 35.6h85.1v2.5h-85.1zm0 60.1h85.1v1.8h-85.1zm0 3.8h85.1v1.4h-85.1zM1746.2 691.0h85.1v1.2h-85.1zm0 0.8h85.1v2.2h-85.1zm0 3.9h85.1v1.8h-85.1zm0 3.8h85.1v2h-85.1zm0 3.1h85.1v1.9h-85.1zm0 3.8h85.1v2h-85.1zm0 3.1h85.1v1.6h-85.1zm0 4.6h85.1v1.9h-85.1zm0 19h85.1v2.1h-85.1zm0 16.6h85.1v2.5h-85.1zm0 4.5h85.1v2.6h-85.1zm0 2.3h85.1v1.3h-85.1zm0 23h85.1v2.6h-85.1zm0 30.3h85.1v1.8h-85.1zm0 3.8h85.1v1.4h-85.1zM1406.8 695.7h85.1v1.8h-85.1zm0 1.5h85.1v2.7h-85.1zm0 16.9h85.1v1.9h-85.1zm0 35.6h85.1v2.5h-85.1zm0 6.8h85.1v1.3h-85.1zm0 43h85.1v2.1h-85.1zm0 14.1h85.1v1.4h-85.1zM1491.7 714.1h85.1v1.9h-85.1zm0 42.4h85.1v1.3h-85.1zm0 67h85.1v2.4h-85.1z"/>
<path fill="#7f7ea6" d="M1406.8 691.0h85.1v1.2h-85.1zm0 2.6h85.1v2.4h-85.1zm0 14.4h85.1v1.8h-85.1zm0 2.8h85.1v2h-85.1zm0 10.4h85.1v1.7h-85.1zm0 10.2h85.1v1.2h-85.1zm0 13.3h85.1v1.5h-85.1zm0 7.1h85.1v1.4h-85.1zm0 1.1h85.1v1.7h-85.1zm0 11h85.1v2.2h-85.1zm0 1.9h85.1v1.4h-85.1zm0 3.9h85.1v1.4h-85.1zm0 27.8h85.1v1.6h-85.1zm0 5.8h85.1v2.5h-85.1zm0 2.2h85.1v2.1h-85.1zm0 22h85.1v2h-85.1zm0 2.5h85.1v1.9h-85.1zM1237.2 693.6h85.1v2.4h-85.1zm0 3.6h85.1v2.7h-85.1zm0 2.3h85.1v2h-85.1zm0 8.5h85.1v1.8h-85.1zm0 25.1h85.1v2.1h-85.1zm0 9.6h85.1v2.3h-85.1zm0 2h85.1v1.5h-85.1zm0 7.1h85.1v1.4h-85.1zm0 1.1h85.1v1.7h-85.1zm0 11h85.1v2.2h-85.1zm0 5.8h85.1v1.4h-85.1zm0 14.4h85.1v1.9h-85.1zm0 13.4h85.1v1.6h-85.1zm0 5.8h85.1v2.5h-85.1zm0 4h85.1v2h-85.1zm0 11.3h85.1v2.2h-85.1zm0 4.9h85.1v2.4h-85.1zm0 2.1h85.1v2.3h-85.1zm0 1.9h85.1v2h-85.1zM1067.5 697.2h85.1v2.7h-85.1zm0 10.8h85.1v1.8h-85.1zm0 2.8h85.1v2h-85.1zm0 10.4h85.1v1.7h-85.1zm0 10.2h85.1v1.2h-85.1zm0 9.3h85.1v1.5h-85.1zm0 2h85.1v2.3h-85.1zm0 9.1h85.1v1.4h-85.1zm0 1.1h85.1v1.7h-85.1zm0 11h85.1v2.2h-85.1zm0 5.8h85.1v1.4h-85.1zm0 4.6h85.1v2.3h-85.1zm0 23.2h85.1v1.6h-85.1zm0 5.8h85.1v2.5h-85.1zm0 2.2h85.1v2.1h-85.1zm0 18h85.1v2.4h-85.1zm0 4h85.1v2h-85.1zM1491.7 697.2h85.1v2.7h-85.1zm0 10.8h85.1v1.8h-85.1zm0 2.8h85.1v2h-85.1zm0 17.6h85.1v2.2h-85.1zm0 8.2h85.1v2.5h-85.1zm0 8.1h85.1v1.5h-85.1zm0 8.2h85.1v1.7h-85.1zm0 11h85.1v2.2h-85.1zm0 5.8h85.1v1.4h-85.1zm0 27.8h85.1v1.6h-85.1zm0 8h85.1v2.1h-85.1zm0 28.1h85.1v2h-85.1zm0 1.6h85.1v1.8h-85.1zM1746.2 697.2h85.1v2.7h-85.1zm0 10.8h85.1v1.8h-85.1zm0 2.8h85.1v2h-85.1zm0 31h85.1v1.3h-85.1zm0 0.9h85.1v2.3h-85.1zm0 9.1h85.1v1.4h-85.1zm0 1.1h85.1v1.7h-85.1zm0 11h85.1v2.2h-85.1zm0 2.9h85.1v1.9h-85.1zm0 2.9h85.1v1.4h-85.1zm0 14.4h85.1v1.9h-85.1zm0 13.4h85.1v1.6h-85.1zm0 1.2h85.1v1.2h-85.1zm0 6.8h85.1v2.1h-85.1zm0 9.2h85.1v2.5h-85.1zm0 3.9h85.1v2.2h-85.1zm0 4.9h85.1v2.4h-85.1zm0 4h85.1v2h-85.1zm0 5.2h85.1v1.3h-85.1zM1661.3 702.6h85.1v1.9h-85.1zm0 8.2h85.1v2h-85.1zm0 9.4h85.1v1.3h-85.1zm0 11.2h85.1v1.2h-85.1zm0 5.2h85.1v2.5h-85.1zm0 8.1h85.1v1.5h-85.1zm0 1.2h85.1v2.4h-85.1zm0 5.9h85.1v1.4h-85.1zm0 1.1h85.1v1.7h-85.1zm0 3.6h85.1v1.3h-85.1zm0 7.4h85.1v2.2h-85.1zm0 32h85.1v1.9h-85.1zm0 1.6h85.1v1.6h-85.1zm0 5.8h85.1v2.5h-85.1zm0 20.2h85.1v2.4h-85.1zm0 4h85.1v2h-85.1zM1152.3 708.0h85.1v1.8h-85.1zm0 2.8h85.1v2h-85.1zm0 16.3h85.1v1.7h-85.1zm0 4.3h85.1v1.2h-85.1zm0 1.7h85.1v2.1h-85.1zm0 5.6h85.1v2.3h-85.1zm0 4h85.1v2.3h-85.1zm0 2h85.1v1.5h-85.1zm0 7.1h85.1v1.4h-85.1zm0 45.7h85.1v1.6h-85.1zm0 5.8h85.1v2.5h-85.1zm0 2.2h85.1v2.1h-85.1zm0 13.1h85.1v2.2h-85.1zm0 4.9h85.1v2.4h-85.1zm0 4h85.1v2h-85.1zm0 5.2h85.1v1.3h-85.1zm0 0.9h85.1v2h-85.1zm0 1.6h85.1v1.8h-85.1zM1322 708.0h85.1v1.8h-85.1zm0 2.8h85.1v2h-85.1zm0 3.3h85.1v1.9h-85.1zm0 17.3h85.1v1.2h-85.1zm0 7.3h85.1v2.3h-85.1zm0 6h85.1v1.5h-85.1zm0 7.1h85.1v1.4h-85.1zm0 1.1h85.1v1.7h-85.1zm0 3.6h85.1v1.3h-85.1zm0 7.4h85.1v2.2h-85.1zm0 5.8h85.1v1.4h-85.1zm0 4.6h85.1v2.3h-85.1zm0 12.2h85.1v1.6h-85.1zm0 1.2h85.1v1.3h-85.1zm0 9.8h85.1v1.6h-85.1zm0 8h85.1v2.1h-85.1zm0 5.7h85.1v2.7h-85.1zm0 12.3h85.1v2.4h-85.1zm0 4h85.1v2h-85.1zm0 4h85.1v1.6h-85.1zM1576.5 710.8h85.1v2h-85.1zm0 10.4h85.1v1.7h-85.1zm0 23.5h85.1v1.5h-85.1zm0 7.1h85.1v1.4h-85.1zm0 1.1h85.1v1.7h-85.1zm0 11h85.1v2.2h-85.1zm0 5.8h85.1v1.4h-85.1zm0 1.1h85.1v2.3h-85.1zm0 15.7h85.1v1.6h-85.1zm0 1.2h85.1v1.3h-85.1zm0 0.9h85.1v1.4h-85.1zm0 14.7h85.1v2.5h-85.1zm0 2.2h85.1v2.1h-85.1zm0 8.1h85.1v1.4h-85.1zm0 3.2h85.1v2.2h-85.1zm0 6.7h85.1v2.4h-85.1z"/>
<path fill="#a3c3bd" d="M1491.7 691.0h85.1v1.2h-85.1zm0 0.8h85.1v2.2h-85.1zm0 1.8h85.1v2.4h-85.1zm0 45.1h85.1v2.3h-85.1zm0 18.7h85.1v2h-85.1zm0 56.2h85.1v1.4h-85.1zM1067.5 693.6h85.1v2.4h-85.1zm0 10.6h85.1v2.6h-85.1zm0 34.5h85.1v2.3h-85.1zM1152.3 693.6h85.1v2.4h-85.1zm0 72.2h85.1v1.4h-85.1zM1576.5 693.6h85.1v2.4h-85.1zm0 43h85.1v2.5h-85.1zm0 2.1h85.1v2.3h-85.1zM1661.3 693.6h85.1v2.4h-85.1zm0 33.5h85.1v1.7h-85.1zm0 11.6h85.1v2.3h-85.1zM1746.2 693.6h85.1v2.4h-85.1zm0 29h85.1v2.5h-85.1zM1322 697.2h85.1v2.7h-85.1zm0 3.9h85.1v1.9h-85.1zm0 35.5h85.1v2.5h-85.1zM1406.8 699.5h85.1v2h-85.1zm0 1.6h85.1v1.9h-85.1zm0 35.5h85.1v2.5h-85.1zM1237.2 736.6h85.1v2.5h-85.1zm0 2.1h85.1v2.3h-85.1z"/>
<path fill="#9a7aab" d="M1067.5 691.8h85.1v2.2h-85.1zm0 10.8h85.1v1.9h-85.1zm0 13h85.1v2.6h-85.1zm0 2.3h85.1v1.2h-85.1zm0 6.8h85.1v2.7h-85.1zm0 10.2h85.1v2.1h-85.1zm0 9.8h85.1v1.5h-85.1zm0 11.8h85.1v1.3h-85.1zm0 2.5h85.1v1.8h-85.1zm0 1.5h85.1v2.6h-85.1zm0 2.3h85.1v1.5h-85.1zm0 3h85.1v1.4h-85.1zm0 1h85.1v1.9h-85.1zm0 4h85.1v2.3h-85.1zm0 14.8h85.1v1.2h-85.1zm0 0.9h85.1v1.6h-85.1zm0 2.1h85.1v1.4h-85.1zm0 4h85.1v1.3h-85.1zm0 18.6h85.1v2.7h-85.1zm0 2.4h85.1v1.4h-85.1zm0 26.7h85.1v2.5h-85.1zm0 4.9h85.1v1.1h-85.1zM1152.3 691.8h85.1v2.2h-85.1zm0 20.6h85.1v2.1h-85.1zm0 6.3h85.1v1.9h-85.1zm0 1.5h85.1v1.3h-85.1zm0 10h85.1v1.5h-85.1zm0 4.7h85.1v2.1h-85.1zm0 5.8h85.1v1.5h-85.1zm0 13.5h85.1v2.6h-85.1zm0 4.8h85.1v1.8h-85.1zm0 1.5h85.1v2.6h-85.1zm0 3.4h85.1v2.2h-85.1zm0 6.9h85.1v2.3h-85.1zm0 13.3h85.1v1.9h-85.1zm0 2.4h85.1v1.6h-85.1zm0 1.2h85.1v1.3h-85.1zm0 4.9h85.1v1.3h-85.1zm0 6.1h85.1v1.2h-85.1zm0 12.5h85.1v2.7h-85.1zm0 18h85.1v1.2h-85.1zm0 0.8h85.1v1.9h-85.1zm0 10.3h85.1v2.5h-85.1zm0 3.2h85.1v2h-85.1zM1237.2 691.8h85.1v2.2h-85.1zm0 3.9h85.1v1.8h-85.1zm0 5.4h85.1v1.9h-85.1zm0 11.3h85.1v2.1h-85.1zm0 5.5h85.1v1.2h-85.1zm0 0.8h85.1v1.9h-85.1zm0 11.5h85.1v1.5h-85.1zm0 1.2h85.1v1.2h-85.1zm0 3.5h85.1v2.1h-85.1zm0 5.8h85.1v1.5h-85.1zm0 13.5h85.1v2.6h-85.1zm0 4.8h85.1v1.8h-85.1zm0 1.5h85.1v2.6h-85.1zm0 10.3h85.1v2.3h-85.1zm0 10.9h85.1v2.7h-85.1zm0 4.8h85.1v1.6h-85.1zm0 6.1h85.1v1.3h-85.1zm0 3.3h85.1v1.9h-85.1zm0 9.6h85.1v2.1h-85.1zm0 23.7h85.1v1.2h-85.1zm0 11.1h85.1v2.5h-85.1zm0 2.2h85.1v1.4h-85.1zm0 2.7h85.1v1.1h-85.1zM1322 691.8h85.1v2.2h-85.1zm0 3.9h85.1v1.8h-85.1zm0 16.7h85.1v2.1h-85.1zm0 5.5h85.1v1.2h-85.1zm0 0.8h85.1v1.9h-85.1zm0 8.4h85.1v1.7h-85.1zm0 3.1h85.1v1.5h-85.1zm0 2.9h85.1v2.1h-85.1zm0 1.8h85.1v2.1h-85.1zm0 5.8h85.1v1.5h-85.1zm0 13.5h85.1v2.6h-85.1zm0 6.3h85.1v2.6h-85.1zm0 2.3h85.1v1.5h-85.1zm0 3h85.1v1.4h-85.1zm0 1h85.1v1.9h-85.1zm0 1.6h85.1v1.7h-85.1zm0 2.4h85.1v2.3h-85.1zm0 8.7h85.1v2.6h-85.1zm0 6.1h85.1v1.2h-85.1zm0 7h85.1v1.3h-85.1zm0 14.7h85.1v2h-85.1zm0 7.4h85.1v2.5h-85.1zm0 3.9h85.1v2.2h-85.1zm0 7h85.1v2.3h-85.1zm0 3.6h85.1v1.2h-85.1zM1406.8 691.8h85.1v2.2h-85.1zm0 23.8h85.1v2.6h-85.1zm0 2.3h85.1v1.2h-85.1zm0 2.3h85.1v1.3h-85.1zm0 6.9h85.1v1.7h-85.1zm0 3.1h85.1v1.5h-85.1zm0 2.9h85.1v2.1h-85.1zm0 1.8h85.1v2.1h-85.1zm0 5.8h85.1v1.5h-85.1zm0 13.5h85.1v2.6h-85.1zm0 8.6h85.1v1.5h-85.1zm0 4h85.1v1.9h-85.1zm0 1.6h85.1v1.7h-85.1zm0 5.9h85.1v2.3h-85.1zm0 11.3h85.1v1.2h-85.1zm0 0.9h85.1v1.6h-85.1zm0 1.2h85.1v1.3h-85.1zm0 4.9h85.1v1.3h-85.1zm0 22.1h85.1v2.5h-85.1zm0 14.5h85.1v1.2h-85.1zm0 9.8h85.1v1.6h-85.1zm0 6.2h85.1v1.1h-85.1zM1491.7 695.7h85.1v1.8h-85.1zm0 5.4h85.1v1.9h-85.1zm0 11.3h85.1v2.1h-85.1zm0 6.3h85.1v1.9h-85.1zm0 2.5h85.1v1.7h-85.1zm0 3.5h85.1v2.7h-85.1zm0 5.5h85.1v1.5h-85.1zm0 2.9h85.1v2.1h-85.1zm0 1.8h85.1v2.1h-85.1zm0 5.8h85.1v1.5h-85.1zm0 2h85.1v2.3h-85.1zm0 9.1h85.1v1.4h-85.1zm0 2.4h85.1v2.6h-85.1zm0 4.8h85.1v1.8h-85.1zm0 1.5h85.1v2.6h-85.1zm0 2.3h85.1v1.5h-85.1zm0 3h85.1v1.4h-85.1zm0 1h85.1v1.9h-85.1zm0 4h85.1v2.3h-85.1zm0 2h85.1v1.9h-85.1zm0 12.8h85.1v1.2h-85.1zm0 0.9h85.1v1.6h-85.1zm0 1.2h85.1v1.3h-85.1zm0 4.9h85.1v1.3h-85.1zm0 18.6h85.1v2.7h-85.1zm0 18h85.1v1.2h-85.1zm0 11.1h85.1v2.5h-85.1zM1576.5 695.7h85.1v1.8h-85.1zm0 5.4h85.1v1.9h-85.1zm0 11.3h85.1v2.1h-85.1zm0 3.2h85.1v2.6h-85.1zm0 3.1h85.1v1.9h-85.1zm0 11.5h85.1v1.5h-85.1zm0 12.5h85.1v2.3h-85.1zm0 11.5h85.1v2.6h-85.1zm0 6.3h85.1v2.6h-85.1zm0 2.3h85.1v1.5h-85.1zm0 3h85.1v1.4h-85.1zm0 30.1h85.1v1.9h-85.1zm0 15.3h85.1v2.7h-85.1zm0 10.9h85.1v1.8h-85.1zm0 7.1h85.1v1.2h-85.1zm0 3.5h85.1v1.3h-85.1zM1661.3 695.7h85.1v1.8h-85.1zm0 1.5h85.1v2.7h-85.1zm0 3.9h85.1v1.9h-85.1zm0 5.3h85.1v2h-85.1zm0 1.6h85.1v1.8h-85.1zm0 4.4h85.1v2.1h-85.1zm0 3.2h85.1v2.6h-85.1zm0 2.3h85.1v1.2h-85.1zm0 0.8h85.1v1.9h-85.1zm0 11.5h85.1v1.5h-85.1zm0 2.9h85.1v2.1h-85.1zm0 1.8h85.1v2.1h-85.1zm0 5.8h85.1v1.5h-85.1zm0 13.5h85.1v2.6h-85.1zm0 3.2h85.1v2h-85.1zm0 1.6h85.1v1.8h-85.1zm0 1.5h85.1v2.6h-85.1zm0 2.3h85.1v1.5h-85.1zm0 3h85.1v1.4h-85.1zm0 1h85.1v1.9h-85.1zm0 4h85.1v2.3h-85.1zm0 5.5h85.1v2.6h-85.1zm0 10.2h85.1v1.6h-85.1zm0 1.2h85.1v1.3h-85.1zm0 4.9h85.1v1.3h-85.1zm0 47.7h85.1v2.5h-85.1zm0 4.9h85.1v1.1h-85.1zM1746.2 701.1h85.1v1.9h-85.1zm0 3.1h85.1v2.6h-85.1zm0 8.2h85.1v2.1h-85.1zm0 3.2h85.1v2.6h-85.1zm0 2.3h85.1v1.2h-85.1zm0 0.8h85.1v1.9h-85.1zm0 20h85.1v2.3h-85.1zm0 2h85.1v1.5h-85.1zm0 16.7h85.1v2h-85.1zm0 1.6h85.1v1.8h-85.1zm0 1.5h85.1v2.6h-85.1zm0 5.3h85.1v1.4h-85.1zm0 5h85.1v2.3h-85.1zm0 14.8h85.1v1.2h-85.1zm0 0.9h85.1v1.6h-85.1zm0 1.2h85.1v1.3h-85.1zm0 4.9h85.1v1.3h-85.1zm0 10.7h85.1v2.5h-85.1zm0 7.9h85.1v2.7h-85.1zm0 18h85.1v1.2h-85.1zm0 11.1h85.1v2.5h-85.1zm0 2.2h85.1v1.4h-85.1zm0 1h85.1v2h-85.1zm0 1.7h85.1v1.1h-85.1z"/>
<path fill="#e6d8d6" d="M1576.5 697.2h85.1v2.7h-85.1zm0 20.7h85.1v1.2h-85.1zm0 6.8h85.1v2.7h-85.1zm0 31.8h85.1v1.3h-85.1zm0 11.9h85.1v1.7h-85.1zm0 4.4h85.1v1.9h-85.1zm0 1.5h85.1v2.3h-85.1zm0 4.2h85.1v1.3h-85.1zm0 28.8h85.1v2h-85.1zm0 26.3h85.1v2h-85.1zM1491.7 699.5h85.1v2h-85.1zm0 27.6h85.1v1.7h-85.1zm0 47.2h85.1v2.3h-85.1zm0 2h85.1v2.6h-85.1zm0 2.2h85.1v1.3h-85.1zm0 28.8h85.1v2h-85.1zM1067.5 701.1h85.1v1.9h-85.1zm0 26h85.1v1.7h-85.1zm0 9.5h85.1v2.5h-85.1zm0 5.2h85.1v1.3h-85.1zm0 54.1h85.1v1.9h-85.1zm0 11.4h85.1v2h-85.1zm0 2.5h85.1v1.8h-85.1zm0 23.8h85.1v2h-85.1zM1237.2 706.4h85.1v2h-85.1zm0 18.3h85.1v2.7h-85.1zm0 2.4h85.1v1.7h-85.1zm0 45.7h85.1v1.9h-85.1zm0 60.8h85.1v2h-85.1zM1322 724.7h85.1v2.7h-85.1zm0 48.1h85.1v1.9h-85.1zm0 5.7h85.1v1.3h-85.1zm0 55.1h85.1v2h-85.1zM1406.8 724.7h85.1v2.7h-85.1zm0 46.1h85.1v2.3h-85.1zm0 2h85.1v1.9h-85.1zm0 5.7h85.1v1.3h-85.1zM1661.3 724.7h85.1v2.7h-85.1zm0 45h85.1v1.4h-85.1zm0 3.1h85.1v1.9h-85.1zm0 1.5h85.1v2.3h-85.1zm0 33h85.1v2h-85.1zm0 21.9h85.1v1.2h-85.1zm0 4.4h85.1v2h-85.1zM1746.2 724.7h85.1v2.7h-85.1zm0 2.4h85.1v1.7h-85.1zm0 7.8h85.1v2.1h-85.1zm0 27.9h85.1v1.5h-85.1zm0 11.5h85.1v2.3h-85.1zm0 4.2h85.1v1.3h-85.1zm0 28.8h85.1v2h-85.1zM1152.3 772.8h85.1v1.9h-85.1zm0 1.5h85.1v2.3h-85.1zm0 2h85.1v2.6h-85.1zm0 31h85.1v2h-85.1z"/>
<path fill="#c39ab8" d="M1152.3 702.6h85.1v1.9h-85.1zm0 13h85.1v2.6h-85.1zm0 9.1h85.1v2.7h-85.1zm0 17.1h85.1v1.3h-85.1zm0 14.7h85.1v1.3h-85.1zm0 0.9h85.1v2h-85.1zm0 12.3h85.1v1.4h-85.1zm0 8.8h85.1v1.3h-85.1zm0 10.1h85.1v1.4h-85.1zm0 10.9h85.1v2.1h-85.1zm0 1.7h85.1v2.4h-85.1zm0 19.3h85.1v1.9h-85.1zm0 1.6h85.1v1.8h-85.1zm0 23.1h85.1v1.1h-85.1zM1322 702.6h85.1v1.9h-85.1zm0 54.8h85.1v2h-85.1zm0 31.2h85.1v1.4h-85.1zm0 10.9h85.1v2.1h-85.1zm0 21h85.1v1.9h-85.1zM1406.8 702.6h85.1v1.9h-85.1zm0 16.1h85.1v1.9h-85.1zm0 24h85.1v2.3h-85.1zm0 5.3h85.1v2h-85.1zm0 9.4h85.1v2h-85.1zm0 18.9h85.1v2.6h-85.1zm0 33.5h85.1v1.8h-85.1zm0 10.7h85.1v1.9h-85.1zM1491.7 702.6h85.1v1.9h-85.1zm0 28.8h85.1v1.2h-85.1zm0 16.6h85.1v2h-85.1zm0 40.6h85.1v1.4h-85.1zm0 12.6h85.1v2.4h-85.1zm0 2.1h85.1v2.5h-85.1zm0 15.3h85.1v2.2h-85.1zm0 1.9h85.1v1.9h-85.1zm0 1.6h85.1v1.8h-85.1zM1576.5 702.6h85.1v1.9h-85.1zm0 28.8h85.1v1.2h-85.1zm0 1.7h85.1v2.1h-85.1zm0 14.9h85.1v2h-85.1zm0 9.4h85.1v2h-85.1zm0 1.6h85.1v1.8h-85.1zm0 7.8h85.1v1.9h-85.1zm0 9.5h85.1v2.6h-85.1zm0 5.4h85.1v2.7h-85.1zm0 17.8h85.1v2.1h-85.1zm0 21h85.1v1.9h-85.1zM1237.2 715.6h85.1v2.6h-85.1zm0 5.6h85.1v1.7h-85.1zm0 26.8h85.1v2h-85.1zm0 9.4h85.1v2h-85.1zm0 5.4h85.1v1.5h-85.1zm0 4h85.1v1.9h-85.1zm0 9.5h85.1v2.6h-85.1zm0 9.3h85.1v1.2h-85.1zm0 2.1h85.1v1.3h-85.1zm0 0.9h85.1v1.4h-85.1zm0 10.9h85.1v2.1h-85.1zm0 1.7h85.1v2.4h-85.1zm0 10h85.1v2.7h-85.1zm0 9.3h85.1v1.9h-85.1zm0 1.6h85.1v1.8h-85.1zm0 16.9h85.1v1.6h-85.1zM1067.5 720.2h85.1v1.3h-85.1zm0 10h85.1v1.5h-85.1zm0 2.1h85.1v1.2h-85.1zm0 15.7h85.1v2h-85.1zm0 28.3h85.1v2.6h-85.1zm0 23.2h85.1v2.1h-85.1zm0 1.7h85.1v2.4h-85.1zm0 17.4h85.1v2.2h-85.1zm0 1.9h85.1v1.9h-85.1zm0 1.6h85.1v1.8h-85.1zm0 9.4h85.1v1.6h-85.1zM1746.2 745.9h85.1v2.4h-85.1zm0 30.4h85.1v2.6h-85.1zm0 12.3h85.1v1.4h-85.1zm0 10.9h85.1v2.1h-85.1zm0 1.7h85.1v2.4h-85.1zm0 19.3h85.1v1.9h-85.1zM1661.3 748.0h85.1v2h-85.1zm0 37.6h85.1v1.2h-85.1zm0 3h85.1v1.4h-85.1zm0 10.9h85.1v2.1h-85.1zm0 22.6h85.1v1.8h-85.1z"/>
<path fill="#87418f" d="M1152.3 704.2h85.1v2.6h-85.1zm0 2.2h85.1v2h-85.1zm0 3.1h85.1v1.6h-85.1zm0 8.4h85.1v1.2h-85.1zm0 3.3h85.1v1.7h-85.1zm0 1.4h85.1v2.5h-85.1zm0 5.8h85.1v2.2h-85.1zm0 3.9h85.1v1.2h-85.1zm0 13.6h85.1v2.4h-85.1zm0 2.1h85.1v2h-85.1zm0 4.9h85.1v1.7h-85.1zm0 9.9h85.1v1.5h-85.1zm0 5.6h85.1v1.7h-85.1zm0 11.1h85.1v2.6h-85.1zm0 6.1h85.1v1.2h-85.1zm0 5.4h85.1v2h-85.1zm0 18h85.1v1.2h-85.1zm0 5.7h85.1v2.5h-85.1zm0 2.1h85.1v2.2h-85.1zm0 8.8h85.1v2.3h-85.1zm0 11h85.1v2.7h-85.1zm0 2.4h85.1v1.6h-85.1zm0 3.5h85.1v1.4h-85.1zM1237.2 704.2h85.1v2.6h-85.1zm0 5.3h85.1v1.6h-85.1zm0 1.3h85.1v2h-85.1zm0 11.8h85.1v2.5h-85.1zm0 5.8h85.1v2.2h-85.1zm0 3.9h85.1v1.2h-85.1zm0 9.5h85.1v1.3h-85.1zm0 4.1h85.1v2.4h-85.1zm0 19.9h85.1v1.4h-85.1zm0 13.7h85.1v2.6h-85.1zm0 11.5h85.1v2h-85.1zm0 7.7h85.1v1.2h-85.1zm0 10.3h85.1v1.2h-85.1zm0 5.7h85.1v2.5h-85.1zm0 2.1h85.1v2.2h-85.1zm0 13.2h85.1v1.9h-85.1zm0 5.2h85.1v1.8h-85.1zm0 1.4h85.1v2.7h-85.1zm0 6.9h85.1v2h-85.1zM1322 704.2h85.1v2.6h-85.1zm0 2.2h85.1v2h-85.1zm0 3.1h85.1v1.6h-85.1zm0 11.7h85.1v1.7h-85.1zm0 1.4h85.1v2.5h-85.1zm0 5.8h85.1v2.2h-85.1zm0 3.9h85.1v1.2h-85.1zm0 9.5h85.1v1.3h-85.1zm0 4.1h85.1v2.4h-85.1zm0 13.1h85.1v1.8h-85.1zm0 17.3h85.1v2.6h-85.1zm0 7.8h85.1v1.9h-85.1zm0 14.6h85.1v1.2h-85.1zm0 2.5h85.1v2.4h-85.1zm0 2.1h85.1v2.5h-85.1zm0 5.7h85.1v1.2h-85.1zm0 7.8h85.1v2.2h-85.1zm0 5.3h85.1v1.8h-85.1zm0 7.9h85.1v1.9h-85.1zm0 2.7h85.1v1.3h-85.1zm0 2.5h85.1v1.8h-85.1zm0 1.4h85.1v2.7h-85.1zm0 3.7h85.1v2.5h-85.1zm0 2.2h85.1v1.4h-85.1zm0 1h85.1v2h-85.1zM1406.8 704.2h85.1v2.6h-85.1zm0 5.3h85.1v1.6h-85.1zm0 2.9h85.1v2.1h-85.1zm0 10.2h85.1v2.5h-85.1zm0 5.8h85.1v2.2h-85.1zm0 3.9h85.1v1.2h-85.1zm0 9.5h85.1v1.3h-85.1zm0 17.2h85.1v1.8h-85.1zm0 1.5h85.1v2.6h-85.1zm0 19h85.1v2.6h-85.1zm0 4.6h85.1v1.9h-85.1zm0 4.5h85.1v1.4h-85.1zm0 2.4h85.1v2h-85.1zm0 7.7h85.1v1.2h-85.1zm0 8.6h85.1v2h-85.1zm0 1.7h85.1v1.2h-85.1zm0 7.8h85.1v2.2h-85.1zm0 1.8h85.1v2.2h-85.1zm0 3.5h85.1v1.8h-85.1zm0 1.4h85.1v2.4h-85.1zm0 2.1h85.1v2.3h-85.1zm0 8h85.1v2h-85.1zm0 1.6h85.1v1.8h-85.1zm0 1.4h85.1v2.7h-85.1zm0 5.9h85.1v1.4h-85.1zm0 1h85.1v2h-85.1zM1491.7 704.2h85.1v2.6h-85.1zm0 2.2h85.1v2h-85.1zm0 3.1h85.1v1.6h-85.1zm0 6.1h85.1v2.6h-85.1zm0 2.3h85.1v1.2h-85.1zm0 4.7h85.1v2.5h-85.1zm0 9.7h85.1v1.2h-85.1zm0 9.5h85.1v1.3h-85.1zm0 4.1h85.1v2.4h-85.1zm0 3.8h85.1v2.5h-85.1zm0 18.7h85.1v1.7h-85.1zm0 11.1h85.1v2.6h-85.1zm0 2.2h85.1v2.7h-85.1zm0 2.4h85.1v1.9h-85.1zm0 6.9h85.1v2h-85.1zm0 2.6h85.1v2.7h-85.1zm0 2.3h85.1v1.9h-85.1zm0 2.8h85.1v1.2h-85.1zm0 10.3h85.1v1.2h-85.1zm0 0.8h85.1v1.8h-85.1zm0 4.9h85.1v2.5h-85.1zm0 2.1h85.1v2.2h-85.1zm0 8.8h85.1v2.3h-85.1zm0 1.9h85.1v2h-85.1zm0 2.5h85.1v1.9h-85.1zm0 6.6h85.1v2.7h-85.1zm0 2.4h85.1v1.6h-85.1zm0 3.5h85.1v1.4h-85.1zm0 1h85.1v2h-85.1zM1576.5 704.2h85.1v2.6h-85.1zm0 2.2h85.1v2h-85.1zm0 1.6h85.1v1.8h-85.1zm0 1.5h85.1v1.6h-85.1zm0 13.1h85.1v2.5h-85.1zm0 4.5h85.1v1.7h-85.1zm0 1.3h85.1v2.2h-85.1zm0 3.9h85.1v1.2h-85.1zm0 2.6h85.1v2.1h-85.1zm0 6.9h85.1v1.3h-85.1zm0 4.1h85.1v2.4h-85.1zm0 33.6h85.1v2.6h-85.1zm0 6.1h85.1v1.2h-85.1zm0 5.4h85.1v2h-85.1zm0 2.6h85.1v2.7h-85.1zm0 3.9h85.1v1.6h-85.1zm0 1.2h85.1v1.2h-85.1zm0 2.5h85.1v2.4h-85.1zm0 7.8h85.1v1.2h-85.1zm0 5.7h85.1v2.5h-85.1zm0 10.9h85.1v2.3h-85.1zm0 1.9h85.1v2h-85.1zm0 2.5h85.1v1.9h-85.1zm0 5.2h85.1v1.8h-85.1zm0 1.4h85.1v2.7h-85.1zm0 3.7h85.1v2.5h-85.1zm0 2.2h85.1v1.4h-85.1zm0 1h85.1v2h-85.1zM1661.3 704.2h85.1v2.6h-85.1zm0 5.3h85.1v1.6h-85.1zm0 11.7h85.1v1.7h-85.1zm0 1.4h85.1v2.5h-85.1zm0 5.8h85.1v2.2h-85.1zm0 3.9h85.1v1.2h-85.1zm0 9.5h85.1v1.3h-85.1zm0 36.7h85.1v1.3h-85.1zm0 1h85.1v2.6h-85.1zm0 11.5h85.1v2h-85.1zm0 7.7h85.1v1.2h-85.1zm0 2.5h85.1v2.4h-85.1zm0 4.3h85.1v2.1h-85.1zm0 3.5h85.1v1.2h-85.1zm0 2.2h85.1v2.7h-85.1zm0 3.5h85.1v2.5h-85.1zm0 2.1h85.1v2.2h-85.1zm0 3.7h85.1v1.9h-85.1zm0 5.1h85.1v2.3h-85.1zm0 4.4h85.1v1.9h-85.1zm0 5.2h85.1v1.8h-85.1zm0 1.4h85.1v2.7h-85.1zm0 5.9h85.1v1.4h-85.1zm0 1h85.1v2h-85.1zM1067.5 706.4h85.1v2h-85.1zm0 3.1h85.1v1.6h-85.1zm0 4.6h85.1v1.9h-85.1zm0 4.6h85.1v1.9h-85.1zm0 9.7h85.1v2.2h-85.1zm0 4.7h85.1v2.1h-85.1zm0 12.8h85.1v2.4h-85.1zm0 8.3h85.1v2.6h-85.1zm0 3.2h85.1v2h-85.1zm0 11h85.1v1.7h-85.1zm0 4.4h85.1v1.9h-85.1zm0 6.7h85.1v2.6h-85.1zm0 4.6h85.1v1.9h-85.1zm0 6.9h85.1v2h-85.1zm0 7.7h85.1v1.2h-85.1zm0 10.3h85.1v1.2h-85.1zm0 5.7h85.1v2.5h-85.1zm0 2.1h85.1v2.2h-85.1zm0 8.8h85.1v2.3h-85.1zm0 3.6h85.1v1.2h-85.1zm0 0.8h85.1v1.9h-85.1zm0 5.2h85.1v1.8h-85.1zm0 1.4h85.1v2.7h-85.1zm0 2.4h85.1v1.6h-85.1zm0 3.5h85.1v1.4h-85.1zm0 1h85.1v2h-85.1zM1746.2 721.2h85.1v1.7h-85.1zm0 7.2h85.1v2.2h-85.1zm0 3h85.1v1.2h-85.1zm0 0.9h85.1v1.2h-85.1zm0 4.3h85.1v2.5h-85.1zm0 8.1h85.1v1.5h-85.1zm0 3.3h85.1v2h-85.1zm0 20.4h85.1v1.7h-85.1zm0 4.4h85.1v1.9h-85.1zm0 18.2h85.1v2h-85.1zm0 18h85.1v1.2h-85.1zm0 13.1h85.1v1.8h-85.1zm0 3.5h85.1v2.3h-85.1zm0 4.4h85.1v1.9h-85.1zm0 1.5h85.1v1.6h-85.1zm0 2.1h85.1v2h-85.1zm0 1.6h85.1v1.8h-85.1zm0 1.4h85.1v2.7h-85.1zm0 2.4h85.1v1.6h-85.1z"/>
<path fill="#8e2a8a" d="M1406.8 706.4h85.1v2h-85.1zm0 32.3h85.1v2.3h-85.1zm0 7.2h85.1v2.4h-85.1zm0 35.8h85.1v2.7h-85.1zm0 8h85.1v1.6h-85.1zm0 3.9h85.1v2.7h-85.1zm0 2.3h85.1v1.9h-85.1zm0 5.3h85.1v2.4h-85.1zm0 10h85.1v2.7h-85.1zm0 20.3h85.1v1.6h-85.1zm0 1.2h85.1v1.3h-85.1zm0 7.6h85.1v2.5h-85.1zM1067.5 712.4h85.1v2.1h-85.1zm0 66.1h85.1v1.3h-85.1zm0 3.2h85.1v2.7h-85.1zm0 6h85.1v1.3h-85.1zm0 2h85.1v1.6h-85.1zm0 3.9h85.1v2.7h-85.1zm0 39.1h85.1v1.3h-85.1zM1322 715.6h85.1v2.6h-85.1zm0 4.6h85.1v1.3h-85.1zm0 61.5h85.1v2.7h-85.1zm0 8h85.1v1.6h-85.1zm0 1.3h85.1v2h-85.1zm0 2.6h85.1v2.7h-85.1zm0 2.3h85.1v1.9h-85.1zM1237.2 720.2h85.1v1.3h-85.1zm0 48.2h85.1v1.7h-85.1zm0 5.9h85.1v2.3h-85.1zm0 4.2h85.1v1.3h-85.1zm0 11.2h85.1v1.6h-85.1zm0 3.9h85.1v2.7h-85.1zm0 37.9h85.1v1.6h-85.1zm0 1.2h85.1v1.3h-85.1zM1491.7 720.2h85.1v1.3h-85.1zm0 69.5h85.1v1.6h-85.1zm0 9.8h85.1v2.1h-85.1zm0 32h85.1v1.6h-85.1zm0 1.2h85.1v1.3h-85.1zm0 12.5h85.1v1.1h-85.1zM1576.5 720.2h85.1v1.3h-85.1zm0 63.9h85.1v1.9h-85.1zm0 5.6h85.1v1.6h-85.1zm0 2.9h85.1v1.3h-85.1zm0 26h85.1v2.2h-85.1zm0 12.9h85.1v1.6h-85.1zm0 7.5h85.1v1.6h-85.1zm0 6.2h85.1v1.1h-85.1zM1746.2 720.2h85.1v1.3h-85.1zm0 10h85.1v1.5h-85.1zm0 51.5h85.1v2.7h-85.1zm0 8h85.1v1.6h-85.1zm0 3.9h85.1v2.7h-85.1zm0 2.3h85.1v1.9h-85.1zm0 20.9h85.1v2.2h-85.1zM1661.3 742.7h85.1v2.3h-85.1zm0 25.7h85.1v1.7h-85.1zm0 13.3h85.1v2.7h-85.1zm0 2.4h85.1v1.9h-85.1zm0 5.6h85.1v1.6h-85.1zm0 3.9h85.1v2.7h-85.1zm0 25h85.1v2.2h-85.1zm0 12.9h85.1v1.6h-85.1zm0 1.2h85.1v1.3h-85.1zm0 6.3h85.1v1.6h-85.1zM1152.3 781.7h85.1v2.7h-85.1zm0 8h85.1v1.6h-85.1zm0 3.9h85.1v2.7h-85.1zm0 2.3h85.1v1.9h-85.1zm0 35.6h85.1v1.6h-85.1z"/>
<line x1="1056.4" y1="54.3" x2="1056.4" y2="870.2" stroke="#111" stroke-width="2"/>
<line x1="1055.4" y1="54.8" x2="1067.5" y2="54.8" stroke="#111" stroke-width="2"/>
<line x1="1055.4" y1="869.6" x2="1067.5" y2="869.6" stroke="#111" stroke-width="1.6"/>
<line x1="1055.4" y1="281.0" x2="1831.0" y2="281.0" stroke="#111" stroke-width="2"/>
<line x1="1055.4" y1="359.4" x2="1831.0" y2="359.4" stroke="#111" stroke-width="2"/>
<line x1="1055.4" y1="691.0" x2="1831.0" y2="691.0" stroke="#111" stroke-width="2"/>
<line x1="1055.4" y1="845.9" x2="1831.0" y2="845.9" stroke="#111" stroke-width="2"/>
<line x1="1055.4" y1="860.7" x2="1831.0" y2="860.7" stroke="#111" stroke-width="2"/>
<line x1="1055.4" y1="860.7" x2="1067.5" y2="860.7" stroke="#111" stroke-width="3"/>
<text x="1053.5" y="182.2" font-size="20.5" fill="#111" text-anchor="end" textLength="51.6" lengthAdjust="spacingAndGlyphs">Fungi</text>
<text x="1053.5" y="322.0" font-size="20.5" fill="#111" text-anchor="end" textLength="71.6" lengthAdjust="spacingAndGlyphs">Insecta</text>
<text x="1048.0" y="543.0" font-size="20.5" fill="#111" text-anchor="end" textLength="103" lengthAdjust="spacingAndGlyphs">Choradata</text>
<text x="1048.2" y="773.8" font-size="20.5" fill="#111" text-anchor="end" textLength="125.7" lengthAdjust="spacingAndGlyphs">Viridiplantae</text>
<text x="1050.0" y="851.7" font-size="20.5" fill="#111" text-anchor="end" textLength="87" lengthAdjust="spacingAndGlyphs">Protozoa</text>
<text x="1050.0" y="876.9" font-size="20.5" fill="#111" text-anchor="end" textLength="64" lengthAdjust="spacingAndGlyphs">Others</text>
<line x1="1051" y1="175.5" x2="1056" y2="175.5" stroke="#555" stroke-width="1.2"/>
<line x1="1051" y1="315.5" x2="1056" y2="315.5" stroke="#555" stroke-width="1.2"/>
<line x1="1051" y1="536.5" x2="1056" y2="536.5" stroke="#555" stroke-width="1.2"/>
<line x1="1051" y1="767.5" x2="1056" y2="767.5" stroke="#555" stroke-width="1.2"/>
<text x="1109.9" y="891.8" font-size="18.8" fill="#111" text-anchor="middle" textLength="66.5" lengthAdjust="spacingAndGlyphs">NEDD1</text>
<line x1="1109.9" y1="870" x2="1109.9" y2="874" stroke="#777" stroke-width="1.2"/>
<text x="1194.8" y="891.8" font-size="18.8" fill="#111" text-anchor="middle" textLength="55" lengthAdjust="spacingAndGlyphs">AUG1</text>
<line x1="1194.8" y1="870" x2="1194.8" y2="874" stroke="#777" stroke-width="1.2"/>
<text x="1279.6" y="891.8" font-size="18.8" fill="#111" text-anchor="middle" textLength="55" lengthAdjust="spacingAndGlyphs">AUG2</text>
<line x1="1279.6" y1="870" x2="1279.6" y2="874" stroke="#777" stroke-width="1.2"/>
<text x="1364.4" y="891.8" font-size="18.8" fill="#111" text-anchor="middle" textLength="55" lengthAdjust="spacingAndGlyphs">AUG3</text>
<line x1="1364.4" y1="870" x2="1364.4" y2="874" stroke="#777" stroke-width="1.2"/>
<text x="1449.2" y="891.8" font-size="18.8" fill="#111" text-anchor="middle" textLength="55" lengthAdjust="spacingAndGlyphs">AUG4</text>
<line x1="1449.2" y1="870" x2="1449.2" y2="874" stroke="#777" stroke-width="1.2"/>
<text x="1534.1" y="891.8" font-size="18.8" fill="#111" text-anchor="middle" textLength="55" lengthAdjust="spacingAndGlyphs">AUG5</text>
<line x1="1534.1" y1="870" x2="1534.1" y2="874" stroke="#777" stroke-width="1.2"/>
<text x="1618.9" y="891.8" font-size="18.8" fill="#111" text-anchor="middle" textLength="55" lengthAdjust="spacingAndGlyphs">AUG6</text>
<line x1="1618.9" y1="870" x2="1618.9" y2="874" stroke="#777" stroke-width="1.2"/>
<text x="1703.8" y="891.8" font-size="18.8" fill="#111" text-anchor="middle" textLength="55" lengthAdjust="spacingAndGlyphs">AUG7</text>
<line x1="1703.8" y1="870" x2="1703.8" y2="874" stroke="#777" stroke-width="1.2"/>
<text x="1788.6" y="891.8" font-size="18.8" fill="#111" text-anchor="middle" textLength="55" lengthAdjust="spacingAndGlyphs">AUG8</text>
<line x1="1788.6" y1="870" x2="1788.6" y2="874" stroke="#777" stroke-width="1.2"/>
<text x="926.0" y="38.9" font-size="49" fill="#000" textLength="28" lengthAdjust="spacingAndGlyphs">B</text>
<text x="1043.7" y="30.8" font-size="30.5" fill="#000" textLength="783" lengthAdjust="spacingAndGlyphs">Species presence across proteins and taxonomic groups</text>
<path id="h1" d="M753 1979l-1 5 0 4-1 5 2 0 2-4 3-4 3-4 3-3 3-3 4-3 4 0 3 3 1 5 0 4 0 5-1 4 0 5-1 4 0 2 3-4 3-4 3-3 3-4 4-3 4-2 4 0 3 3 1 4 0 5-1 4-1 5-1 4-1 5-1 3 3-4 3-3 4-3 3-3 4-3 4-2 4-1 4 3 1 4-1 5-1 4-1 5-1 4-2 4-2 5 4-3 3-3 3-4 4-2 4-3 4-2 4-1 4 2 1 5 0 4-1 5-2 4-1 4-2 5-2 4 3-2 3-3 4-3 3-3 4-2 4-2 5-1 4 2 1 4 0 5-1 4-2 4-2 5-2 4-2 4 1 0 4-3 4-3 4-3 4-2 4-2 4-1 4 1 2 5 0 4-2 5-2 4-2 4-2 4-2 4 1 1 4-3 3-2 4-3 4-2 4-2 5-1 4 1 2 4 0 4-2 5" fill="none" transform="scale(.5)"/>
<use href="#h1" stroke="#caa668" stroke-width="12.2"/>
<use href="#h1" stroke="#f8e2a8" stroke-width="9.2"/>
<path id="h2" d="M727 2060l2 4 1 5 1 4 2-1 0-5 1-4 1-5 1-4 2-4 2-4 4-2 4 1 3 4 2 4 2 4 1 5 1 4 1 5 1 1 1-4 1-5 2-4 2-4 2-4 3-3 5-2 4 1 2 4 1 5 1 4 0 5-1 5 0 4-1 5 2-4 3-3 2-4 3-4 3-3 4-3 4-2 4 1 2 4 1 5 0 5-1 4-1 5-1 4-1 5 3-2 2-3 3-4 3-3 3-4 4-3 4-2 4 1 3 4 0 4 0 5 0 4-1 5-1 4-1 5 2-1 2-3 3-4 3-3 3-4 4-3 4-2 4 0 3 4 1 4 0 5-1 4-1 5-1 4-1 5 1 1 3-4 3-3 3-4 3-3 4-2 4-2 5-1 3 4 0 4 0 5-1 4-1 5-2 4-2 4-2 3 4-3 3-3 4-2 4-3 4-1 5-2 4 1 3 3 0 4-1 5-2 4-2 4-3 4-3 3-3 4 3-1 4-2 4-2 2-1" fill="none" transform="scale(.5)"/>
<use href="#h2" stroke="#caa668" stroke-width="12.2"/>
<use href="#h2" stroke="#f8e2a8" stroke-width="9.2"/>
<path id="h3" d="M747 2192l-2 4-1 4-2 5 2-1 3-3 3-4 3-3 4-3 4-2 4-2 4 1 2 4 0 5-1 4-1 5-2 4-1 4-2 5 2-2 3-3 3-3 4-3 3-3 4-2 5-2 4 2 1 4 0 4-1 5-2 4-2 4-2 5-2 3 1 0 4-3 3-3 4-2 4-2 5-2 4-1 4 2 1 4-1 5-2 4-2 4-2 4-3 4-3 3 2 0 4-2 4-3 4-2 4-2 4-1 5-1 4 2 0 5-1 4-2 4-2 4-2 3" fill="none" transform="scale(.5)"/>
<use href="#h3" stroke="#caa668" stroke-width="12.2"/>
<use href="#h3" stroke="#f8e2a8" stroke-width="9.2"/>
<path id="h4" d="M792 2101l-1 5-1 4-1 4 3-3 3-4 4-3 3-3 4-2 4-1 4 2 0 5 0 5-1 4-1 4-2 5 0 3 3-3 3-4 3-3 4-3 4-2 4-1 3 3 1 5-1 4-1 5-1 4-1 5 0 2 3-3 3-4 3-3 4-3 4-2 4 0 3 3 0 4 0 5-1 4-1 5-2 4 0 2 3-3 4-3 3-4 4-2 4-3 4 0 3 3 0 5-1 5-1 4-1 4-1 5 0 1 3-3 3-3 4-3 3-3 5-2 4-1 2 4" fill="none" transform="scale(.5)"/>
<use href="#h4" stroke="#caa668" stroke-width="12.2"/>
<use href="#h4" stroke="#f8e2a8" stroke-width="9.2"/>
<path id="h5" d="M773 2151l0 4-1 5 0 4 3-4 2-4 2-4 3-4 3-3 4-2 4 2 2 4 1 5 0 4-1 5 0 4 1 3 2-4 2-4 2-3 3-4 3-3 5-2 3 2 2 4 0 5 1 4 0 5-1 4 1 3 2-4 2-4 3-4 2-4 4-3 4-2 3 2 2 5 1 4 0 5 0 4 0 5 1 1 2-4 2-4 2-4 3-4 3-3 4-2 3 2 2 5 1 4 1 5 0 4 0 5 1 0 2-4 2-4 2-4 2-4 3-3 4-2 4 3 2 4 1 4 0 5 1 5 0 4 1 0 2-4 2-4 2-4 2-4 3-4 4-1 4 3 1 4 1 4 1 5 0 4 1 5 1 0 1-4" fill="none" transform="scale(.5)"/>
<use href="#h5" stroke="#caa668" stroke-width="12.2"/>
<use href="#h5" stroke="#f8e2a8" stroke-width="9.2"/>
<path id="h6" d="M720 2080l-1 3-1 3 0 3-1 3-1 2-1 3-1 3 0 3-1 3-1 3 0 3 0 3 0 3 0 3 0 3 1 3 0 3 1 3 2 2 1 3 1 3 1 3 2 2 1 3 2 2 2 3 2 2 2 2 2 2 2 2 2 2 3 1 3 1 3 1 3 0 3 0 3 0 3 0 3-1 3-1 2-1 3-1 3-2 2-2 2-2 2-3 1-2 1-3 2-3 1-2 1-3 1-3 1-3 1-3 1-3 1-2 1-3 1-3 0-1" fill="none" transform="scale(.5)"/>
<use href="#h6" stroke="#caa668" stroke-width="6.4"/>
<use href="#h6" stroke="#f8e2a8" stroke-width="4"/>
<path id="h7" d="M766 2000l-2-2-2-2-2-2-3-2-2-3-2-2-2-2-2-1-3-2-3-2-3 0-2 1-3 2-2 2-1 2-2 3-2 3-1 2-1 3-1 3-1 3 0 3 0 3 1 3 1 2 2 3 2 2 2 2 2 3 2 2 2 2 2 2 2 2 3 2 2 2 2 2 1 1" fill="none" transform="scale(.5)"/>
<use href="#h7" stroke="#caa668" stroke-width="6.4"/>
<use href="#h7" stroke="#f8e2a8" stroke-width="4"/>
<ellipse cx="371.0" cy="1054.2" rx="8.0" ry="7.4" fill="none" stroke="#caa668" stroke-width="3.8"/>
<ellipse cx="371.0" cy="1054.2" rx="8.0" ry="7.4" fill="none" stroke="#f8e2a8" stroke-width="2.4"/>
<ellipse cx="373.0" cy="1055.8" rx="8.0" ry="7.4" fill="none" stroke="#caa668" stroke-width="3.8"/>
<ellipse cx="373.0" cy="1055.8" rx="8.0" ry="7.4" fill="none" stroke="#f8e2a8" stroke-width="2.4"/>
<path id="h8" d="M800 2180l2 2 3 2 2 2 2 2 2 2 2 2 2 2 2 2 2 3 2 2 2 3 1 2 2 3 1 2 2 3 1 3 2 2 1 3 2 3 1 2 1 3 1 3 1 3 1 3 0 3 0 3 0 3-1 2-1 3-1 3-1 3-2 3-1 2-2 3-1 3" fill="none" transform="scale(.5)"/>
<use href="#h8" stroke="#caa668" stroke-width="6.4"/>
<use href="#h8" stroke="#f8e2a8" stroke-width="4"/>
<ellipse cx="454.0" cy="1074.2" rx="7.0" ry="6.4" fill="none" stroke="#caa668" stroke-width="3.8"/>
<ellipse cx="454.0" cy="1074.2" rx="7.0" ry="6.4" fill="none" stroke="#f8e2a8" stroke-width="2.4"/>
<ellipse cx="456.0" cy="1075.8" rx="7.0" ry="6.4" fill="none" stroke="#caa668" stroke-width="3.8"/>
<ellipse cx="456.0" cy="1075.8" rx="7.0" ry="6.4" fill="none" stroke="#f8e2a8" stroke-width="2.4"/>
<path id="h9" d="M923 2011l0 4 0 5 1 3 2-4 1-4 2-4 3-4 3-4 3-2 5 1 2 4 1 5 0 4 1 5 0 5 0 3 2-4 2-5 2-4 3-4 3-3 3-2 4 1 2 4 1 5 1 4 0 5 0 5 1 2 2-4 2-4 2-4 2-4 4-3 4-2 3 2 2 4 1 5 0 4 0 5 0 4 1 3 2-5 2-4 2-4 3-3 3-4 4-2 4 3 1 4 1 5 1 4 0 5-1 4 1 3" fill="none" transform="scale(.5)"/>
<use href="#h9" stroke="#d77a78" stroke-width="12.2"/>
<use href="#h9" stroke="#f6b9b6" stroke-width="9.2"/>
<path id="h10" d="M916 2000l2-2 2-2 2-3 2-2 2-2 2-2 2-2 3-2 2-1 3-1 3-1 3 0 3 0 3 1 3 0 3 1 3 1 3 1 3 1 2 1 3 1 3 1 3 1 3 1 1 0" fill="none" transform="scale(.5)"/>
<use href="#h10" stroke="#d77a78" stroke-width="6.4"/>
<use href="#h10" stroke="#f6b9b6" stroke-width="4"/>
<path id="h11" d="M1044 2037l0 4 0 5 0 4 0 3 2-4 1-4 2-5 2-4 2-4 2-4 3-3 4-2 4 1 3 4 1 4 1 5 0 4 1 5 0 5 0 4 0 3 1-5 2-4 2-4 2-4 2-5 2-3 3-4 4-2 4 2 2 4 2 4 1 5 0 4 0 5 0 5 0 4 0 2 2-4 1-4 2-5 2-4 2-4 3-4 3-3 4-2 4 2 2 4 1 5 1 4 0 5 0 4 0 5 0 5 0 2 2-5 2-4 2-4 2-4 2-4 3-4 3-3 4-2 4 2 2 5 1 4 1 5 0 4 0 5-1 4 0 5 0 2 2-5 2-4 2-4 2-4 3-4 2-4 4-3 4-1 4 2 1 4 1 5 1 5 0 4 0 5-1 4 0 5 0 2 2-5 2-4 2-4 2-4 3-4 3-3 3-3 5-1 3 2 2 4 1 5 0 5 0 4-1 5 0 4-1 5 0 2 2-5 2-4 3-3 2-4 3-4 3-3 4-3 4-1 3 3 2 4 0 5 0 4 0 5-1 4-1 5-1 4 1 2 2-4 2-4 3-4 2-4 3-3 4-3 3-3 5-1 3 3 1 4 1 5-1 5 0 4-1 5-1 4-1 5 1 1 2-4 2-4 3-4 3-4 3-3 3-3 4-3 4-1 3 4 1 4 1 2" fill="none" transform="scale(.5)"/>
<use href="#h11" stroke="#d77a78" stroke-width="12.2"/>
<use href="#h11" stroke="#f6b9b6" stroke-width="9.2"/>
<ellipse cx="553.0" cy="1063.5" rx="10.0" ry="9.2" fill="none" stroke="#d77a78" stroke-width="3.8"/>
<ellipse cx="553.0" cy="1063.5" rx="10.0" ry="9.2" fill="none" stroke="#f6b9b6" stroke-width="2.4"/>
<ellipse cx="555.0" cy="1065.0" rx="10.0" ry="9.2" fill="none" stroke="#d77a78" stroke-width="3.8"/>
<ellipse cx="555.0" cy="1065.0" rx="10.0" ry="9.2" fill="none" stroke="#f6b9b6" stroke-width="2.4"/>
<ellipse cx="557.0" cy="1066.5" rx="10.0" ry="9.2" fill="none" stroke="#d77a78" stroke-width="3.8"/>
<ellipse cx="557.0" cy="1066.5" rx="10.0" ry="9.2" fill="none" stroke="#f6b9b6" stroke-width="2.4"/>
<ellipse cx="564.0" cy="1084.2" rx="9.0" ry="8.3" fill="none" stroke="#d77a78" stroke-width="3.8"/>
<ellipse cx="564.0" cy="1084.2" rx="9.0" ry="8.3" fill="none" stroke="#f6b9b6" stroke-width="2.4"/>
<ellipse cx="566.0" cy="1085.8" rx="9.0" ry="8.3" fill="none" stroke="#d77a78" stroke-width="3.8"/>
<ellipse cx="566.0" cy="1085.8" rx="9.0" ry="8.3" fill="none" stroke="#f6b9b6" stroke-width="2.4"/>
<path id="h12" d="M1124 2161l-1 5 0 4-1 5 0 3 2-4 2-4 2-5 3-4 2-3 3-4 3-3 5-2 3 2 2 4 1 5 1 4 0 5-1 5 0 4-1 5 0 2 2-4 2-4 2-4 3-4 2-4 3-3 4-4 4-1 4 2 1 4 1 5 0 4 0 5 0 5 0 4-1 5 0 2 2-4 2-4 2-4 3-4 2-4 3-3 4-3 4-2 4 3 1 4 1 5 0 4 0 5-1 4 0 5-1 4 0 3 2-4 2-4 3-4 2-4 3-4 3-3 4-3 4-1 4 3 1 4 1 5 0 4-1 5-1 5-1 4-1 5 0 2 3-4 2-4 3-4 2-4 3-3 4-4 3-2 5-1 3 3 1 4 1 5-1 4 0 5-1 4-1 5-1 4 0 2 3-4 2-4 3-4 2-3 3-4 4-3 4-3 4 0 3 3 1 4 1 5-1 4 0 5-1 4" fill="none" transform="scale(.5)"/>
<use href="#h12" stroke="#d77a78" stroke-width="12.2"/>
<use href="#h12" stroke="#f6b9b6" stroke-width="9.2"/>
<ellipse cx="558.0" cy="1110.5" rx="11.0" ry="10.1" fill="none" stroke="#d77a78" stroke-width="3.8"/>
<ellipse cx="558.0" cy="1110.5" rx="11.0" ry="10.1" fill="none" stroke="#f6b9b6" stroke-width="2.4"/>
<ellipse cx="560.0" cy="1112.0" rx="11.0" ry="10.1" fill="none" stroke="#d77a78" stroke-width="3.8"/>
<ellipse cx="560.0" cy="1112.0" rx="11.0" ry="10.1" fill="none" stroke="#f6b9b6" stroke-width="2.4"/>
<ellipse cx="562.0" cy="1113.5" rx="11.0" ry="10.1" fill="none" stroke="#d77a78" stroke-width="3.8"/>
<ellipse cx="562.0" cy="1113.5" rx="11.0" ry="10.1" fill="none" stroke="#f6b9b6" stroke-width="2.4"/>
<ellipse cx="599.0" cy="1099.2" rx="9.0" ry="8.3" fill="none" stroke="#d77a78" stroke-width="3.8"/>
<ellipse cx="599.0" cy="1099.2" rx="9.0" ry="8.3" fill="none" stroke="#f6b9b6" stroke-width="2.4"/>
<ellipse cx="601.0" cy="1100.8" rx="9.0" ry="8.3" fill="none" stroke="#d77a78" stroke-width="3.8"/>
<ellipse cx="601.0" cy="1100.8" rx="9.0" ry="8.3" fill="none" stroke="#f6b9b6" stroke-width="2.4"/>
<path id="h13" d="M957 2180l-5 2-4 1-5 2-4 1 2 0 5 0 4 0 5 0 5 1 4 1 5 1 4 1 4 3 1 4-2 4-3 3-4 2-5 2-4 2-4 2-4 1-5 1-4 2 3 0 4 0 5 0 4 0 5 1 5 0 4 2 4 1 4 3 1 4-2 4-4 3-4 2-4 2-4 2-4 1-5 2-4 1-5 1 4 0 5 0 4 1 5 0 4 0 5 1 4 1 5 2 3 3 1 4-2 4-4 3-4 2-4 2-4 2-5 1-4 2-4 1-5 1 4 0 5 0 4 0 5 1 5 0 4 1 5 1 4 2 3 3 1 4-3 4-4 3-4 2-4 2-4 2-4 1-5 1-4 2-5 1 5 0 5 0 4 0 5 0 4 1 5 1 4 1 5 2 3 3 0 5-3 3-3 3-4 2-5 2-4 2-4 1-5 1-4 1-4 1 5 0 5 1 4 0 5 0 4 1 5 1 4 1 4 2 3 4 0 4-3 3-3 3-4 2-5 2-4 2-4 1-5 1-4 1-3 1 5 0 4 0 5 1 4 0 5 1 4 1 5 1 4 2 3 3 0 5-3 3-4 3-4 2-4 2-5 1-4 2-5 1-4 1-2 1 5 0 4 0 5 1 4 0 5 1 4 1 5 1 4 2 3 3-1 5-3 3-4 3-4 2-4 2-4 1-5 2-4 1-5 1-1 1 5 0 5 0 4 0 5 1 4 0 5 1 4 2 4 2 3 3-1 5-3 3-4 3-4 2-4 2-5 1-4 2-4 1-5 1 0 1 4 0 5 0 5 0 4 1 5 0 4 1 5 2 4 2 2 3-1 5-4 3-3 2-4 3-5 1-4 2-4 2-5 1-4 1 0 1 5 0 5 0 4 0 5 0 4 1 5 1 4 1 4 3 2 4-1 4-4 3-3 2-5 2-4 2-4 2-4 1-5 2-4 1 1 0 4 0 4 0" fill="none" transform="scale(.5)"/>
<use href="#h13" stroke="#d77a78" stroke-width="12.2"/>
<use href="#h13" stroke="#f6b9b6" stroke-width="9.2"/>
<path id="h14" d="M1061 2280l-5 2-4 1-4 2-5 1 2 0 5 0 5 0 4 0 5 1 4 0 5 1 4 2 4 2 2 4-2 5-4 3-4 2-4 2-4 2-4 2-5 1-4 2-4 1 3 0 4 0 5 0 4 0 5 0 4 1 5 1 4 2 4 2 1 4-2 4-3 3-4 3-4 2-4 2-5 1-4 2-4 1-5 2 4 0 4 0 5 0 5 0 4 0 5 1 4 1 5 1 3 3 1 4-2 4-3 3-4 2-4 2-5 2-4 2-4 2-4 2-4 1 4 0 5-1 4 0 5 0 5 0 4 1 5 1 4 1 4 3 0 4-2 4-4 3-3 3-4 2-5 2-4 2-4 2-4 1-3 2 4-1 5 0 4 0 5 0 5 0 4 0 5 1 4 1 3 3 1 5-3 3-3 3-4 3-4 2-4 2-4 2-4 2-5 2-3 1" fill="none" transform="scale(.5)"/>
<use href="#h14" stroke="#d77a78" stroke-width="12.2"/>
<use href="#h14" stroke="#f6b9b6" stroke-width="9.2"/>
<path id="h15" d="M991 2083l-3 3-4 3-4 2 2 0 4-1 5-2 4 0 5-1 5 0 4 1 3 3-2 4-2 4-4 3-3 3-4 3-3 3-4 3 4-2 4-1 5-1 4-1 5-1 4 0 5 1 1 4-2 4-2 4-4 4-3 3-3 3-4 3-1 1 4-2 5-1 4-2 5-1 4 0 5 0 4 2 0 4-2 4-3 4-3 3-4 3-3 3-4 3 2 0 4-1 4-2 5-1 4-2 5 0 4 0 3 3 0 5-3 4-2 3-4 3-3 4-3 3-4 3" fill="none" transform="scale(.5)"/>
<use href="#h15" stroke="#d77a78" stroke-width="12.2"/>
<use href="#h15" stroke="#f6b9b6" stroke-width="9.2"/>
<path id="h16" d="M1200 2090l2 2 3 1 2 2 3 2 3 1 2 2 3 1 2 2 3 2 2 1 3 2 2 2 3 2 2 1 2 2 3 2 2 2 2 2 2 2 2 3 1 2 1 3 0 3 0 3-1 3-1 3-1 3-2 2-2 3-1 2-2 2-2 3-2 2-2 2-3 2-2 2-3 1-2 2-3 1-3 0-3 0-3 0-3-1-3-1-3-1-2-1-3-1-3-2-3-1-2-1-3-2-2-1-3-2-3-1-2-2-3-1-3-1-1-1" fill="none" transform="scale(.5)"/>
<use href="#h16" stroke="#d77a78" stroke-width="6.4"/>
<use href="#h16" stroke="#f6b9b6" stroke-width="4"/>
<path id="h17" d="M1040 2240l3 1 2 2 3 1 2 2 3 1 3 2 2 1 3 2 3 1 2 2 3 1 3 1 2 1 3 1 3 1 3 1 3 0 3 1 3 0 3 0 3 0 3 0 3 0 3 0 3 0 3 0 3-1 3-1 3-1 2-1 3-1 3-2 2-1 3-2 2-2 2-2 3-1 2-2 2-2 3-2 1-1" fill="none" transform="scale(.5)"/>
<use href="#h17" stroke="#d77a78" stroke-width="6.4"/>
<use href="#h17" stroke="#f6b9b6" stroke-width="4"/>
<path id="h18" d="M1012 2112l-4 1-5 1-4 1-3 1 5 1 4 0 5 1 4 1 5 1 4 1 4 2 3 4-1 4-3 3-4 2-4 2-4 2-5 1-4 1-5 1-2 1 4 1 5 0 5 1 4 1 5 1 4 1 4 2 3 4-1 4-3 3-4 2-5 2-4 2-4 1-5 1-4 1-2 1 4 1 5 0 5 1 4 1 4 1 5 1 4 3 2 3-1 4-3 3-4 3-4 1-5 2-4 1-4 1-5 1-1 1 4 1 5 0 4 1 5 1 4 1 5 1 4 3 2 3-1 4-4 3-4 3-4 1-4 2-5 1-4 1-4 1-1 1 4 1 5 0 4 1 5 1 4 1 5 1 4 3 2 3-1 4-4 3-4 3-4 1-5 2-4 1-4 1-5 1 0 1 5 1 4 0 5 1 4 1 5 1 4 1 4 3 2 4-2 4-3 2-4 3-5 1-4 2-4 1-5 1-4 1 0 1 5 0 4 1 5 1 4 1 5 1 4 1 4 3 2 4-2 4-4 3-4 2-4 1-4 2-5 1-4 1-5 1 1 1 5 0 5 1 4 1 5 1 4 1 4 1 4 3 2 4-2 4-4 3-4 2-4 1-4 2-5 1-4 1-5 1 2 1 4 0 5 1 4 1 5 1 4 1 5 1 3 3 2 4-2 4-4 3-4 2-4 2-5 1-4 1-5 1-4 1 2 1 5 0 4 1 5 1 4 1 5 1 4 2 4 2 1 4-2 4-4 3-4 2-4 2-5 1-4 1-5 1-4 1 2 1 5 0 5 1 4 1 5 0 4 2 4 2 4 2 1 4-2 4-4 3-4 2-5 2-4 1-4 1-5 1-4 1 3 1 4 0 5 1 5 0 4 1 5 2 4 2 3 2 1 5-2 3-4 3-4 2-5 2-4 1-4 1-5 1-4 1 3 1 5 0 5 1 4 0 5 1 4 2 4 2 4 2 0 5-2 3-4 3-4 2-5 2-4 1-4 1-5 1-4 1 4 1 5 0 4 1 5 0 4 1 5 2 4 2 3 2 1 5-3 3-4 3-4 2-5 2-4 1-4 1-5 1-4 1" fill="none" transform="scale(.5)"/>
<use href="#h18" stroke="#7fb872" stroke-width="12.2"/>
<use href="#h18" stroke="#c2e6b6" stroke-width="9.2"/>
<path id="h19" d="M956 2100l2 2 3 2 2 2 2 1 3 2 2 2 2 2 3 2 2 2 2 2 2 2 2 2 2 3 2 2 2 2 2 3 2 2 2 2 2 3 1 2 2 2" fill="none" transform="scale(.5)"/>
<use href="#h19" stroke="#7fb872" stroke-width="6.4"/>
<use href="#h19" stroke="#c2e6b6" stroke-width="4"/>
<path id="h20" d="M1041 2188l-5 1-4 2-4 1-3 2 4 0 5 0 5 0 4 0 5 1 4 1 4 2 4 3 0 4-3 4-4 2-4 3-4 2-5 1-4 2-4 1-3 1 5 0 5 0 4 1 5 0 4 1 5 1 4 2 3 3 0 4-3 3-4 3-4 2-4 2-5 2-4 2-4 1-2 1 5 0 4 0 5 0 5 1 4 0 5 1 4 2 3 3-1 5-3 3-4 3-4 2-4 2-4 2-4 1-5 2 0 1 4 0 5 0 4 0 5 0 5 1 4 1 4 1 3 4-1 4-3 3-3 3-4 3-4 2-5 2-4 1-4 2 0 1 5 0 4-1 5 0 4 0 5 1 4 1 5 2 3 3-2 4-3 4-3 2-4 3-4 2-4 2-5 2-4 2 1 0 5 0 4 0 5 0 4 0 5 0 4 1 5 2 2 3-1 5-3 3-4 3-4 2-4 2-4 2-4 2-4 2 1 1 5-1 4 0 5 0 4 0 5 0 4 1 5 2 2 4-1 4-4 3-3 3-4 2-4 3-4 2-5 1-2 1" fill="none" transform="scale(.5)"/>
<use href="#h20" stroke="#c9bf6a" stroke-width="12.2"/>
<use href="#h20" stroke="#f7f2a8" stroke-width="9.2"/>
<ellipse cx="445.0" cy="1192.5" rx="10.0" ry="9.2" fill="none" stroke="#c9bf6a" stroke-width="3.8"/>
<ellipse cx="445.0" cy="1192.5" rx="10.0" ry="9.2" fill="none" stroke="#f7f2a8" stroke-width="2.4"/>
<ellipse cx="447.0" cy="1194.0" rx="10.0" ry="9.2" fill="none" stroke="#c9bf6a" stroke-width="3.8"/>
<ellipse cx="447.0" cy="1194.0" rx="10.0" ry="9.2" fill="none" stroke="#f7f2a8" stroke-width="2.4"/>
<ellipse cx="449.0" cy="1195.5" rx="10.0" ry="9.2" fill="none" stroke="#c9bf6a" stroke-width="3.8"/>
<ellipse cx="449.0" cy="1195.5" rx="10.0" ry="9.2" fill="none" stroke="#f7f2a8" stroke-width="2.4"/>
<path id="h21" d="M882 2413l-3 4-3 3-3 3-2 2 4-2 4-3 4-2 5-2 4-1 4-1 5-1 4 1 1 4-1 5-2 4-3 4-2 3-3 4-4 3-3 4 4-2 4-3 4-2 5-2 4-1 4-1 5-1 4 2 0 5-1 4-2 4-3 4-3 4-3 3-3 4-3 3 2-1 4-3 4-2 4-2 4-2 4-2 5-1 4 0 4 3-1 5-1 4-2 4-3 4-3 3-2 4-3 4-3 3 4-3 3-2 4-3 4-2 4-2 5-2 4-1 5 1 2 4-1 4-2 4-2 4-2 4-3 4-3 3-3 4-1 2 4-3 4-3 4-2 4-2 4-2 4-2 5 0 4 1 1 4-1 4-2 4-2 4-2 4-3 4-3 4-3 3" fill="none" transform="scale(.5)"/>
<use href="#h21" stroke="#c9bf6a" stroke-width="12.2"/>
<use href="#h21" stroke="#f7f2a8" stroke-width="9.2"/>
<ellipse cx="499.0" cy="1099.2" rx="8.0" ry="7.4" fill="none" stroke="#c9bf6a" stroke-width="3.8"/>
<ellipse cx="499.0" cy="1099.2" rx="8.0" ry="7.4" fill="none" stroke="#f7f2a8" stroke-width="2.4"/>
<ellipse cx="501.0" cy="1100.8" rx="8.0" ry="7.4" fill="none" stroke="#c9bf6a" stroke-width="3.8"/>
<ellipse cx="501.0" cy="1100.8" rx="8.0" ry="7.4" fill="none" stroke="#f7f2a8" stroke-width="2.4"/>
<ellipse cx="449.0" cy="1104.2" rx="7.0" ry="6.4" fill="none" stroke="#7c7cb4" stroke-width="3.8"/>
<ellipse cx="449.0" cy="1104.2" rx="7.0" ry="6.4" fill="none" stroke="#bcbce6" stroke-width="2.4"/>
<ellipse cx="451.0" cy="1105.8" rx="7.0" ry="6.4" fill="none" stroke="#7c7cb4" stroke-width="3.8"/>
<ellipse cx="451.0" cy="1105.8" rx="7.0" ry="6.4" fill="none" stroke="#bcbce6" stroke-width="2.4"/>
<ellipse cx="452.0" cy="1134.2" rx="7.0" ry="6.4" fill="none" stroke="#7c7cb4" stroke-width="3.8"/>
<ellipse cx="452.0" cy="1134.2" rx="7.0" ry="6.4" fill="none" stroke="#bcbce6" stroke-width="2.4"/>
<ellipse cx="454.0" cy="1135.8" rx="7.0" ry="6.4" fill="none" stroke="#7c7cb4" stroke-width="3.8"/>
<ellipse cx="454.0" cy="1135.8" rx="7.0" ry="6.4" fill="none" stroke="#bcbce6" stroke-width="2.4"/>
<path id="h22" d="M934 2424l-3 3-4 3-4 2-4 3 2-1 5-2 4-1 4-2 5-1 4-1 5-1 4 0 5 1 2 3 0 5-3 4-2 3-4 4-3 3-3 3-4 3-4 2-4 3 4-2 4-2 5-1 4-2 4-1 5-1 4-1 5 0 4 2 2 4-1 4-2 4-3 3-4 4-3 3-4 3-3 3-4 2-3 2 5-2 4-1 4-2 5-1 4-2 5-1 4 0 5 0 4 2 1 4-2 4-2 4-3 4-4 3-3 3-4 3-3 3-4 2-1 1 4-2 5-1 4-2 4-1 5-2 4 0 5-1 4 1 4 2 0 4-1 4-2 3" fill="none" transform="scale(.5)"/>
<use href="#h22" stroke="#7c7cb4" stroke-width="12.2"/>
<use href="#h22" stroke="#bcbce6" stroke-width="9.2"/>
<path id="h23" d="M942 2527l-3 4-3 3-3 3-1 3 4-2 4-2 4-3 4-2 4-1 4-2 5-1 4 1 3 4-1 5-2 4-2 4-3 4-3 3-3 4-3 3-2 2 4-2 4-2 4-2 5-2 4-1 4-1 5 0 4 1 2 4-1 4-2 4-3 4-3 3-3 4-4 2-3 3-4 2 5-1 4-2 4-1 5-1 4 0 5 0 5 0 4 2 1 5-1 4-3 3-4 3-4 3-3 2-5 3-4 2-4 1 4 0 4-1 5 0 5 0 4 0 5 1 4 1 4 2 2 4-2 4-4 3-4 3-4 2-4 2-4 2-4 2-5 1 4 0 5 0 4 0 5 0 4 1 5 0 4 2 4 2 1 4-2 4-3 3-4 3-4 2-5 2-4 1-4 2-4 1 3 0 5 0 5 0 4 1 5 0 4 1 5 2 3 2 1 4-2 4-4 3-4 2-4 2-4 2-4 2-5 1-4 1 4 0 4 1 5 0 4 0 5 1 4 1 5 2 3 3 1 4-2 4-4 2-4 2-4 2-5 2-4 1-5 1-4 2 4 0 5 0 4 1 5 0 4 1 5 1 4 2 4 3 0 4-3 4-3 2-5 2-4 2-4 2-4 1-5 1-4 2" fill="none" transform="scale(.5)"/>
<use href="#h23" stroke="#d77a78" stroke-width="12.2"/>
<use href="#h23" stroke="#f6b9b6" stroke-width="9.2"/>
<path id="h24" d="M722 2717l4 2 4 1 5 2-1-2-3-3-4-3-3-3-3-4-2-4-2-4 1-4 4-2 5 0 4 1 5 1 4 2 4 1 5 2-1-2-4-3-3-3-3-4-3-3-2-4-2-4 1-5 5-1 4 0 5 1 4 2 4 1 5 2 4 2-1-2-4-3-3-3-2-4-3-4-2-4-1-5 2-4 4-1 5 1 4 1 4 2 4 2 4 3 4 2-1-1-2-4-3-4-2-4-2-4-2-4 0-5 2-4 4 0 5 1 4 2 4 2 4 3 3 2 4 3 0-2-3-4-2-4-2-4-2-4-2-4 0-5 2-4 5 0 4 1 4 2 4 3 4 2 4 3 4 2-1-2-3-4-2-4-3-4-2-4-1-4-1-5 2-3 5-1 4 1 5 2 4 2 4 2 4 2 4 2-2-3-4-4-3-3-2-4-3-4-2-4-1-4 3-4 4 0 5 0 4 2 5 1 4 2 4 1 4 1-4-3-3-3-3-3-3-4-3-4-2-4-1-4 3-3 5-1 4 1 5 1 4 1 4 2 5 1 2 1-3-3-3-4-4-3-3-3-2-4-3-4 0-5 3-3" fill="none" transform="scale(.5)"/>
<use href="#h24" stroke="#7c7cb4" stroke-width="12.2"/>
<use href="#h24" stroke="#bcbce6" stroke-width="9.2"/>
<path id="h25" d="M882 2603l-4 3-3 3-4 3 2 0 4-1 4-2 5-1 4-1 5 0 5 1 3 3-1 4-2 4-3 4-3 3-4 3-3 3-4 3 2 0 5-2 4-1 5-1 4-1 5 0 4 1 3 3 0 4-3 4-3 4-3 3-4 3-3 3-4 2 2 0 5-1 4-1 5-1 4 0 5 0 4 1 3 3-1 5-2 3-4 4-3 3-4 2-4 3-4 2 3 0 4-1 5 0 4-1 5 0 4 1 5 2 2 3-2 4-3 4-3 3-4 2-4 2-4 2-5 2 2 1 5-1 5 0 4 0 5 1 4 1 4 2 3 3-2 5-3 3-4 2-4 2-4 2-5 2-4 2 2 0 5 0 4 0 5 1 4 0 5 2 4 2 2 4-2 4-4 3-4 2-4 2-4 2-4 2-5 1 3 1 5 0 4 0 5 0 4 1 5 1 4 2 2 4-3 4-3 3-4 3-3 1" fill="none" transform="scale(.5)"/>
<use href="#h25" stroke="#7fb872" stroke-width="12.2"/>
<use href="#h25" stroke="#c2e6b6" stroke-width="9.2"/>
<path id="h26" d="M912 2543l-4 3-3 3-4 3-2 2 4-1 5-2 4-1 4-1 5-1 5-1 4 0 4 2 2 4-2 4-3 4-3 4-3 3-3 3-4 3-4 3-2 1 5-1 4-2 4-1 5-1 4 0 5-1 5 1 4 2 1 4-2 4-3 4-3 3-4 3-3 3-4 2-4 3-3 1 4-1 5-1 5-1 4 0 5 0 4 0 5 1 4 3 1 4-3 4-3 3-4 3-4 3-4 2-4 2-4 2-4 1 5 0 5-1 4 0 5 0 4 0 5 1 4 1 4 3 1 4-3 4-3 3-4 3-4 2-4 2-4 2-5 1-3 2 5 0 4-1 5 0 4 0 5 1 4 0 5 2 3 3 1 4-3 4-3 3-4 2-4 2-4 2-5 2-4 2-3 1 3 0" fill="none" transform="scale(.5)"/>
<use href="#h26" stroke="#7c7cb4" stroke-width="12.2"/>
<use href="#h26" stroke="#bcbce6" stroke-width="9.2"/>
<path id="h27" d="M673 2762l0 4-2 5-1 4 0 3 2-4 3-4 2-3 3-4 3-3 4-4 4-2 4-1 4 2 1 5 0 4-1 5 0 5-1 4-1 5-1 4-1 2 3-3 2-4 3-4 3-4 3-3 3-3 4-3 4-1 4 3 1 5 0 4 0 5-1 4 0 5-1 4-1 5 0 1 3-4 2-4 2-3 3-4 3-4 3-3 3-3 5-1 3 3 1 4 1 5 0 4 0 5 0 5 0 4 0 5 1-1 2-4 1-5 2-4 2-4 2-4 3-4 3-3 5-1 3 3 2 5 1 4 1 5 0 4 0 5 1 4 0 5 1-2 1-5 2-4 1-5 2-4 2-4 3-4 3-3 4 0 4 3 1 4" fill="none" transform="scale(.5)"/>
<use href="#h27" stroke="#7c7cb4" stroke-width="12.2"/>
<use href="#h27" stroke="#bcbce6" stroke-width="9.2"/>
<ellipse cx="418.0" cy="1402.5" rx="10.0" ry="9.2" fill="none" stroke="#c9bf6a" stroke-width="3.8"/>
<ellipse cx="418.0" cy="1402.5" rx="10.0" ry="9.2" fill="none" stroke="#f7f2a8" stroke-width="2.4"/>
<ellipse cx="420.0" cy="1404.0" rx="10.0" ry="9.2" fill="none" stroke="#c9bf6a" stroke-width="3.8"/>
<ellipse cx="420.0" cy="1404.0" rx="10.0" ry="9.2" fill="none" stroke="#f7f2a8" stroke-width="2.4"/>
<ellipse cx="422.0" cy="1405.5" rx="10.0" ry="9.2" fill="none" stroke="#c9bf6a" stroke-width="3.8"/>
<ellipse cx="422.0" cy="1405.5" rx="10.0" ry="9.2" fill="none" stroke="#f7f2a8" stroke-width="2.4"/>
<ellipse cx="394.0" cy="1409.2" rx="9.0" ry="8.3" fill="none" stroke="#c9bf6a" stroke-width="3.8"/>
<ellipse cx="394.0" cy="1409.2" rx="9.0" ry="8.3" fill="none" stroke="#f7f2a8" stroke-width="2.4"/>
<ellipse cx="396.0" cy="1410.8" rx="9.0" ry="8.3" fill="none" stroke="#c9bf6a" stroke-width="3.8"/>
<ellipse cx="396.0" cy="1410.8" rx="9.0" ry="8.3" fill="none" stroke="#f7f2a8" stroke-width="2.4"/>
<path id="h28" d="M942 2762l-3 4-3 3-3 3 5-2 4-1 4-2 5-1 4-1 5 1 2 4-2 5-2 4-3 3-3 4-3 3-1 3 4-2 4-2 4-1 5-2 4-1 5 1 1 4-1 5-2 4-2 4-3 4-2 4 1 2 4-3 3-3 4-3 4-2 4-2 4 0 2 4 0 5 0 4-1 5-2 4-1 4 1 0 3-3 4-4 3-3 1-1" fill="none" transform="scale(.5)"/>
<use href="#h28" stroke="#7fb872" stroke-width="12.2"/>
<use href="#h28" stroke="#c2e6b6" stroke-width="9.2"/>
<path id="h29" d="M961 2663l-3 3-4 3-4 2 2 0 5-1 4-2 4-1 5 0 5 0 4 0 3 4-1 4-3 4-3 3-4 3-3 3-4 3-4 2 4-1 5-1 4-1 5-1 4-1 5 0 4 2 2 4-2 4-3 3-4 4-3 3-4 2-3 3-2 2 4-2 5-1 4-1 5-1 4 0 5 0 4 2 0 2" fill="none" transform="scale(.5)"/>
<use href="#h29" stroke="#d77a78" stroke-width="12.2"/>
<use href="#h29" stroke="#f6b9b6" stroke-width="9.2"/>
<path id="h30" d="M210 2474l-2-2-2-3-1-2-2-3-2-2-2-2-1-3-1-3-1-3 1-3 1-2 3-2 2-2 2-2 3-1 3-1 3-1 3-1 3 0 2 1 3 1 3 2 2 2 2 2 2 2 2 2 2 2 2 2 2 3 2 1" fill="none" transform="scale(.5)"/>
<use href="#h30" stroke="#7c7cb4" stroke-width="6.4"/>
<use href="#h30" stroke="#bcbce6" stroke-width="4"/>
<path id="h31" d="M213 2476l0 4-1 5-1 4-1 4 4-3 3-3 3-4 3-3 3-3 4-3 4-2 4-2 5 2 2 3 1 5 0 4 0 5-1 5-1 4-1 5-1 4 2 2 3-3 3-4 3-3 3-3 4-3 3-3 4-2 5-1 4 2 2 4 0 5 0 4 0 5-1 4-1 5-1 4-1 5 3-1 3-3 3-3 3-4 3-3 4-3 3-3 5-1 4-1 3 3 2 5 0 4 0 5 0 4-1 5-1 5-1 4 0 4 4-3 2-3 3-4 3-3 4-4 3-3 4-2 4-2 4 1 3 3 1 5 1 4 0 5-1 5 0 4-1 5-1 4 2 2 2-3 3-4 3-3 3-4 4-3 3-3 4-2 5-1 4 1 2 4 1 5 0 4 0 5-1 5-1 4-1 5-1 4 2 0 3-3 3-4 3-3 4-3 3-3 4-2 5-2 4 0 4 3 1 4 0 5 0 5-1 4-2 4-2 4-2 5-3 3 2 0 3-2 5-2 4-2 4-1 5-2 4 0 5 0 4 2 2 4 0 5-2 4-2 4-3 3-4 3-3 4-4 2-3 3 1 2 4-1 5-1 4 0 5-1 4 0 5 0 4 1 3 1" fill="none" transform="scale(.5)"/>
<use href="#h31" stroke="#7c7cb4" stroke-width="12.2"/>
<use href="#h31" stroke="#bcbce6" stroke-width="9.2"/>
<path id="h32" d="M221 2506l-2 5-1 4-2 4-1 4 4-2 4-3 3-3 4-3 4-3 4-2 4-2 4 0 5 1 2 4 0 5-1 4-1 5-1 4-1 5-2 4-2 4 1 2 3-2 4-3 4-3 3-3 4-2 4-2 5-2 4 0 4 3 1 4 0 5-1 4-1 5-2 4-2 4-1 4-3 5 2 0 4-3 4-2 4-3 4-2 4-2 4-1 5-1 4 1 3 3 0 5 0 4-2 5-2 4-2 4-3 4-3 3-2 4 2 0 4-2 4-1 4-2 5-1 4-1 5 0 5 0 4 2 1 5-1 4-2 4-2 4-3 4-3 3-4 3-3 3-3 4 3 0 5-1 4-1 5-1 4-1 5 0 4 0 5 1 3 3 1 5-2 4-2 4-3 3-3 4-4 3-3 3-4 3-2 3 5 0 4-2 5-1 4-1 5 0 4-1 5 0 4 2 3 3 0 5-2 4-2 4-3 4-3 3-3 4-3 3-3 3 1 2 5-1 4-2 5-1 4-1 5-1 4-1 5 1 4 1 2 4-1 5-2 4-2 4-3 4-3 3-3 4-3 3-3 3 3 0 5-1 4-1 5-1 4-1 5-1 4 0 5 1 3 3 1 4-1 4-2 4-3 4-3 3-3 4-4 3-4 3-3 2 4 0 5-1 4 0 5-1 5 0 4 1 5 1 4 2 2 4 0 4-2 4-4 3-3 3-4 3-4 2-4 2-4 2-4 3 5 0 4 0 5 1 5 0 4 1 5 1 4 2 3 3 2 4-1 4-3 4-4 2-4 3-4 2-4 2-5 1-4 2-1 2 4 1 5 0 4 1 5 1 4 1 4 2 5 2 3 3 1 3" fill="none" transform="scale(.5)"/>
<use href="#h32" stroke="#7c7cb4" stroke-width="12.2"/>
<use href="#h32" stroke="#bcbce6" stroke-width="9.2"/>
<ellipse cx="76.0" cy="1265.5" rx="9.0" ry="8.3" fill="none" stroke="#c9bf6a" stroke-width="3.8"/>
<ellipse cx="76.0" cy="1265.5" rx="9.0" ry="8.3" fill="none" stroke="#f7f2a8" stroke-width="2.4"/>
<ellipse cx="78.0" cy="1267.0" rx="9.0" ry="8.3" fill="none" stroke="#c9bf6a" stroke-width="3.8"/>
<ellipse cx="78.0" cy="1267.0" rx="9.0" ry="8.3" fill="none" stroke="#f7f2a8" stroke-width="2.4"/>
<ellipse cx="80.0" cy="1268.5" rx="9.0" ry="8.3" fill="none" stroke="#c9bf6a" stroke-width="3.8"/>
<ellipse cx="80.0" cy="1268.5" rx="9.0" ry="8.3" fill="none" stroke="#f7f2a8" stroke-width="2.4"/>
<path id="h33" d="M187 2540l-1 5-2 4-2 4-1 4 4-3 3-3 4-3 3-3 4-2 4-2 5-2 4-1 4 3 1 4 0 4-1 5-1 4-1 5-2 4-2 4-2 4 2 1 4-3 3-3 4-3 4-3 3-2 5-2 4-1 4 0 3 4 1 5-1 4-1 5-1 4-2 4-2 5-2 4 0 3 4-3 3-3 3-3 4-2 4-3 4-2 4-2 5-1 3 3 2 4 0 5-1 4-1 5-1 4-2 4-2 5-1 4 2 0 3-4 4-3 3-3 4-2 4-3 4-2 4-2 5 1 2 3 1 5-1 5 0 4-1 5-1 4-2 4-1 5 1 3 3-4 3-3 3-3 3-4 4-3 3-3 4-2 5-1 4 2 1 4 1 5 0 5-1 4 0 5-1 4-1 5-1 4 3-2 3-4 3-3 3-4 3-3 3-3 4-3 4-2 4 0 3 4 1 4 1 5 0 4 0 5-1 4 0 5-1 5 2 1 2-4 3-4 2-4 3-3 3-4 3-3 4-3 4-1 4 2 2 4 1 5 1 4 0 5 0 5-1 4 0 5 0 4 2-3 3-4 2-4 3-4 3-3 3-4 3-3 4-2 4 0 3 4 2 4 1 5 0 4 1 5 0 4 0 5 0 5 3-2 2-4 1-4 2-4 2-4 2-4 3-4 3-3 4-2 4 2 3 4 2 4 1 2" fill="none" transform="scale(.5)"/>
<use href="#h33" stroke="#c9bf6a" stroke-width="12.2"/>
<use href="#h33" stroke="#f7f2a8" stroke-width="9.2"/>
<ellipse cx="129.0" cy="1351.2" rx="9.0" ry="8.3" fill="none" stroke="#7fb872" stroke-width="3.8"/>
<ellipse cx="129.0" cy="1351.2" rx="9.0" ry="8.3" fill="none" stroke="#c2e6b6" stroke-width="2.4"/>
<ellipse cx="131.0" cy="1352.8" rx="9.0" ry="8.3" fill="none" stroke="#7fb872" stroke-width="3.8"/>
<ellipse cx="131.0" cy="1352.8" rx="9.0" ry="8.3" fill="none" stroke="#c2e6b6" stroke-width="2.4"/>
<path id="h34" d="M252 2699l0 5-1 4 0 5 0 4 3-4 2-4 3-4 2-4 3-3 3-4 4-3 4-2 4 1 3 4 1 4 1 5 0 4 0 5 0 4-1 5 0 5 2-1 2-4 3-4 2-4 3-3 3-4 3-3 4-3 4-1 4 3 2 4 1 4 0 5 1 4 0 5 0 5-1 4 1 4 3-4 2-5 2-4 2-4 3-3 3-4 3-3 4-2 4 0 3 4 2 4 1 5 0 4 1 5 0 4 0 5 0 5 2-2 2-4 2-4 2-4 3-4 2-4 3-4 4-2 4-1 4 2 2 4 2 5 0 4 1 5 0 4 0 5 1 4 1 3 2-4 2-4 2-4 2-4 2-4 3-4 3-3 3-2" fill="none" transform="scale(.5)"/>
<use href="#h34" stroke="#7fb872" stroke-width="12.2"/>
<use href="#h34" stroke="#c2e6b6" stroke-width="9.2"/>
<path id="h35" d="M440 2638l1 4 1 5 2 4 1 4 2-5 0-4 1-5 1-4 2-5 2-4 2-4 3-3 4-1 4 2 3 4 2 4 2 4 1 5 2 4 1 4 1 5 2-1 1-4 1-5 1-4 1-5 2-4 2-4 3-4 3-2 5 1 3 3 2 4 2 4 2 5 1 4 1 4 1 5 1 4 2-5 1-4 1-5 1-4 2-4 2-4 3-4 3-3 5 0 3 2 3 4 2 4 1 5 1 4 1 5 1 4 0 5 2 0 1-5 2-4 1-4 2-5 2-4 3-4 3-3 4-2 4 2 3 3 2 4 1 5 1 4 1 5 1 4 0 5 1 4 2-4 1-4 2-4 2-5 2-4 3-4 3-3 3-3 5 0 3 3 2 4 2 4 1 5 0 4 1 5 0 4 1 5 1 0 2-4 2-4 2-4 2-4 2-4 3-4 3-3 4-2 5 2 2 4 2 4 1 4 1 5 0 4 0 5 0 5 1 4 2-3 2-5 2-4 2-4 2-4 3-3 3-4 4-2 5 0 3 3 2 4 1 4 1 5 0 4 0 5 0 5 0 4 1 1 2-4 3-4 2-4 2-4 3-3 3-4 4-3 4-1 4 2 2 3 2 5 0 4 1 5 0 5 0 4-1 5 0 4 3-3 2-4 2-4 3-4 2-3 3-4 4-3 4-2 4 0 3 3 2 4 1 5 0 4 0 5 0 5 0 4 0 5 1 1 2-4 3-4 2-4 3-4 2-3 4-4 3-2 5-2 4 2 2 4 1 4 1 5 0 5 0 4 0 5-1 4 0 3" fill="none" transform="scale(.5)"/>
<use href="#h35" stroke="#7fb872" stroke-width="12.2"/>
<use href="#h35" stroke="#c2e6b6" stroke-width="9.2"/>
<path id="h36" d="M428 2600l2-2 1-3 2-3 1-2 2-3 2-2 1-3 2-2 2-3 1-2 2-3 2-2 2-2 2-2 2-2 3-2 2-2 3-1 3-1 3 0 3-1 3 0 3 0 3 0 3 0 3 0 3 1 3 0 3 1 3 1 2 0 3 1 3 1 3 2 2 1 3 2 2 2 2 2 2 3 1 2 2 3 1 2 2 3 1 2 2 3 2 3 1 2 2 2 3 2 2 2 3 0 3-1 3-1 2-1 3-2 2-1 3-2 2-2 3-2 2-2 2-2 3-1 2-2 3-1 3 0 0 2 1 3 0 3-1 3 0 3-1 3 0 3-1 3-1 3 0 3-1 3-1 3-1 3-1 2-1 3-1 3-2 3-1 2-1 3-2 2-2 3-2 2-2 2-3 2-2 1-3 2-3 1-2 1-3 2-3 1-3 1-3 1-2 0-3 1-3 1-3 1-3 0-3 1-3 0-3 0-3 1-3 0-3 0-3 0-3-1-3-1-3 0-2-2-3-1-3-1-2-2-3-2-2-1-3-2-2-2-3-1-2-2-3-2" fill="none" transform="scale(.5)"/>
<use href="#h36" stroke="#7dbfc8" stroke-width="6.4"/>
<use href="#h36" stroke="#bfe9ee" stroke-width="4"/>
<path id="h37" d="M470 2580l2-2 3-1 2-2 3-2 2-2 3-1 2-2 3-2 2-2 2-1 3-2 2-2 3-1 3-2 2-1 3-1 3-2 3-1 2-1 3 0 3-1 3 0 3 0 3 0 3 0 3 0 3 1 3 0 3 1 3 1 3 1 3 1 3 1 2 1 3 1 3 2 2 1 3 2 2 2 2 2 2 2 2 3 2 2 2 2 1 3 2 2 2 3 1 2 2 3 1 3 2 2 1 3 2 2 1 2" fill="none" transform="scale(.5)"/>
<use href="#h37" stroke="#7dbfc8" stroke-width="6.4"/>
<use href="#h37" stroke="#bfe9ee" stroke-width="4"/>
<ellipse cx="234.0" cy="1299.2" rx="8.0" ry="7.4" fill="none" stroke="#7dbfc8" stroke-width="3.8"/>
<ellipse cx="234.0" cy="1299.2" rx="8.0" ry="7.4" fill="none" stroke="#bfe9ee" stroke-width="2.4"/>
<ellipse cx="236.0" cy="1300.8" rx="8.0" ry="7.4" fill="none" stroke="#7dbfc8" stroke-width="3.8"/>
<ellipse cx="236.0" cy="1300.8" rx="8.0" ry="7.4" fill="none" stroke="#bfe9ee" stroke-width="2.4"/>
<path id="h38" d="M434 2731l0 4 1 5 0 4 1 4 1-5 2-4 2-4 2-4 2-4 2-4 3-4 4-2 4 0 3 4 2 4 1 4 1 5 1 4 0 5 0 5 1 4 2-3 1-4 2-4 2-5 2-4 2-4 3-3 4-3 4-1 3 3 2 4 2 5 1 4 0 5 1 4 0 5 0 5 2-1 1-4 2-4 2-4 2-4 2-4 3-4 3-3 5-1 3 2 3 4 1 4 1 4 1 5 0 5 0 4 0 5 1 3 2-5 1-4 2-4 3-4 2-4 3-4 3-3 4-2 4 1 3 4 1 4 1 5 1 4 0 5 0 5 0 4 0 5 2-3 2-5 2-4 2-4 2-4 3-3 3-4 4-2 5 0 3 3 1 4 1 5 1 4 0 5 0 4 0 5 0 5 2-1 2-4 1-4 3-4 2-4 2-4 3-4 4-3 4-1 4 3 2 4 1 4 1 5 0 5 0 4 0 5 0 4 1 2 2-4 2-4 2-4 2-4 3-4 3-4 3-3 4-2 4 2 3 4 1 4 1 5 0 4 1 5 0 4 0 5 0 4 2-4 2-4 2-4 2-4 2-4 3-4 3-3 4-3 4 1 3 3 2 5 1 4 1 5 0 4 0 5 0 5 0 4 2-2 2-4 2-4 2-4 2-4 3-4 1-2" fill="none" transform="scale(.5)"/>
<use href="#h38" stroke="#d77a78" stroke-width="12.2"/>
<use href="#h38" stroke="#f6b9b6" stroke-width="9.2"/>
<path id="h39" d="M437 2744l-3 2-4 3-4 3-2 2 4-1 5-1 4 0 5-1 5 0 4 0 5 1 4 2 1 4-1 4-3 4-3 3-3 3-4 3-4 3-3 2-4 3 3 0 5-1 4-1 5 0 4-1 5 0 5 1 4 1 3 4-1 4-3 4-3 4-3 3-3 3-4 3-4 2-4 3 2 1 4-1 5-1 4-1 5 0 4 0 5 0 5 1 3 3 0 4-2 4-3 4-3 3-3 3-4 3-3 3-4 3-1 2 5-1 4-1 5-1 4-1 5-1 4 0 5 1 4 2 1 4-1 5-3 3-3 4-3 3-4 3-3 3-4 3-3 3 5-1 4-1 5-1 4-1 5-1 4 0 5 0 4 2 3 3-1 5-3 4-2 3-4 4-3 3-3 3-4 3-4 3 3 0 5-1 4-2 5-1 4 0 5-1 4 0 5 1 3 3 0 5-2 4-3 4-3 3-3 3-4 3-3 3-4 3 1 2 4-2 5-1 4-1 5-1 4-1 5 0 4 1 4 2 1 5-1 4-3 4-3 3-3 4-3 3-4 3-3 3-2 2 4-1 5-1 4-1 5-1 4-1 5 0 4 0 4 2 2 3-1 5-2 4-3 3-3 4-3 3-4 3-3 3-4 3 4 0 5-2 4-1 5-1 3-1" fill="none" transform="scale(.5)"/>
<use href="#h39" stroke="#d77a78" stroke-width="12.2"/>
<use href="#h39" stroke="#f6b9b6" stroke-width="9.2"/>
<path id="h40" d="M463 2692l-1 4-1 4-2 5 2 0 3-4 3-3 3-4 4-3 3-2 5-2 4 0 2 4 1 5-1 4 0 5-1 4-2 5-1 4 1 1 3-4 3-4 3-3 4-3 3-3 4-2 5-1 2 4 1 4 0 5 0 5-1 4-1 5 0 4 1 1 3-4 2-4 3-3 3-4 3-4 3-2 5-1 3 3 1 4 1 4 0 5 0 5 0 4 0 5 1 1 2-4 2-4 2-4 3-4 3-4 3-3 4-2 4 3 2 4 1 5 0 4 1 5 0 4 0 5 1 2 1-4 2-5 3-4 2-4 3-3 3-4 4-1 4 2 2 4 1 4 1 5 0 4 0 5 0 4 0 3 1-1" fill="none" transform="scale(.5)"/>
<use href="#h40" stroke="#c9bf6a" stroke-width="12.2"/>
<use href="#h40" stroke="#f7f2a8" stroke-width="9.2"/>
<path id="h41" d="M502 2783l-3 4-3 3-3 3-2 3 4-2 4-2 5-2 4-1 4-2 5-1 4 0 5 1 2 4-1 4-2 4-2 4-3 4-3 3-3 4-3 3-3 3 4-2 4-2 5-1 4-2 4-1 5-1 4 0 5 1 2 4 0 4-2 4-3 4-3 3-3 4-4 3-3 3-4 2 3 0 5-2 4-1 4-1 5 0 5-1 4 1 5 1 2 3 0 5-3 4-3 3-3 3-4 3-4 3-4 2-4 2 2 1 4-1 5-1 4 0 5 0 4 0 5 0 4 1 3 4 0 4-3 4-3 3-3 3-4 3-4 2-4 3-4 2 0 1 4-1 5 0 5-1 4 0 5 0 4 0 5 2 3 3 0 4-3 4-3 3-3 3-4 3-4 2-4 3-4 2-2 1" fill="none" transform="scale(.5)"/>
<use href="#h41" stroke="#c9bf6a" stroke-width="12.2"/>
<use href="#h41" stroke="#f7f2a8" stroke-width="9.2"/>
<path id="h42" d="M523 2672l-2 4-1 4-2 5 2 0 3-4 4-3 3-3 3-3 4-3 4-1 5 0 2 4 0 5 0 4-1 5-1 4-2 4-1 5 1 1 3-4 3-3 3-3 4-3 4-3 4-2 4 0 3 4 0 5 0 4-1 5-1 4-2 4-1 5 0 2 3-4 3-3 4-3 3-3 4-2 4-2 5-1 3 4 0 4 0 5-1 4-2 4-1 5-2 4-1 3 4-3 3-3 3-3 4-3 4-2 4-2 5-1 3 3 1 5-1 4-1 5-2 4-1 4-2 4-2 4 3-2 4-3 3-3 4-3 4-2 4-2 5-1 3 3 1 4 0 5-2 4-1 4-2 5-2 4-2 4 3-2 3-3 4-3 4-2 4-3 4-2 4-1 4 2 1 5 0 4-1 5-2 4-2 4-2 4-1 5 2-1 3-3 4-3 4-3 3-3 4-2 5-1 4 1 2 5-1 4-1 5-1 4-2 4-1 5-2 4 2 0 3-4 4-3 3-3 4-3 4-2 4-1 4 0 2 4 0 5 0 4-1 5-2 4-1 5-2 4 1 0 3-3 4-3 3-3 4-3 4-3 4-1 4 0 3 4 0 4-1 5-1 4-1 5-1 4-2 4 1 2 3-4 3-3 3-3 4-3 4-3 4-1 4 0 3 3 1 4-1 5-1 5-1 4-2 4-1 5-1 3" fill="none" transform="scale(.5)"/>
<use href="#h42" stroke="#7c7cb4" stroke-width="12.2"/>
<use href="#h42" stroke="#bcbce6" stroke-width="9.2"/>
<path id="h43" d="M543 2792l-2 4-2 4-2 5 2 0 3-3 4-3 3-3 4-3 4-2 5-1 4 1 2 4 0 5-1 4-2 4-2 5-2 4-2 4 1 1 4-3 3-3 4-3 4-2 4-2 4-1 5 0 2 4 0 5-1 4-2 4-2 5-2 4-2 4-1 2 4-3 4-2 3-3 5-2 4-2 4-1 5 1 2 3 0 5-1 4-2 4-3 4-3 4-3 3-3 4 4-2 4-2 4-1 5-2 4-1 5 0 4 0 3 3 0 5-2 4-3 4-3 3-3 4-3 3-3 3 2 0 4-1 5-2 4-1 5-1 4 0 5 0 3 3 0 5-2 4-3 3-3 4-3 3-3 3-4 4 2 1" fill="none" transform="scale(.5)"/>
<use href="#h43" stroke="#7c7cb4" stroke-width="12.2"/>
<use href="#h43" stroke="#bcbce6" stroke-width="9.2"/>
<path id="h44" d="M362 2734l-4 3-4 2-4 3-4 2 2 0 5-1 4-1 5-1 4 0 5-1 5 0 4 1 5 1 2 3 0 5-3 4-3 3-3 3-4 3-3 3-4 3-4 2-4 2 2 1 4-1 5-1 4-1 5-1 4 0 5-1 4 1 5 1 3 3-1 5-2 4-3 3-3 3-4 3-3 3-4 3-4 2-4 3 1 1 5-2 4-1 5-1 4-1 5 0 4-1 5 0 4 1 4 3-1 5-2 4-2 4-3 3-4 3-3 3-4 3-3 3-4 3 1 1 5-2 4-2 4-1 5-1 4-1 5-1 4-1 5 1 3 3 1 4-2 4-3 4-2 4-3 3-3 4-4 3-3 3-3 3 1 1 4-2 4-2 4-2 5-1 4-2 5-1 4 0 5 0 3 3 1 4-1 4-3 4-2 4-3 4-3 3-3 3-4 3-3 3 0 1 4-2 4-1 4-2 5-1 4-2 5 0 4-1 5 1 4 2 1 4-1 5-3 3-3 4-3 3-3 4-4 3-3 3-4 2-2 2 5-1 4-2 4-1 5-1 4-1 5-1 4 0 5 0 4 2 1 5-1 4-2 4-3 3-4 3-3 4-4 2-3 3-4 3-3 2 5-1 4-1 4-2 5-1 4-1 5 0 5 0 4 0 4 2 2 4-1 4-3 4-3 4-3 3-4 3-3 3-4 3-4 2-3 3 4-1 5-2 4-1 5-1 4-1 5 0 4-1 5 1 4 2 2 4-1 4-3 4-3 3-3 3-3 4-4 2-4 3-3 3-4 2 4 0 4-2 5-1 4-1" fill="none" transform="scale(.5)"/>
<use href="#h44" stroke="#7c7cb4" stroke-width="12.2"/>
<use href="#h44" stroke="#bcbce6" stroke-width="9.2"/>
<path id="h45" d="M422 2764l-4 3-3 3-4 2-4 3 2 0 5-1 4-2 5-1 4-1 5-1 4 0 5 0 4 1 3 4 0 4-2 4-3 4-3 3-3 3-4 3-4 3-3 3-4 2 1 1 5-2 4-1 5-1 4-1 5-1 4 0 5 0 4 1 4 3-1 4-2 4-2 4-4 3-3 4-3 3-4 2-4 3-4 3 1 0 5-1 4-1 5-1 4-1 5-1 4-1 5 0 4 1 4 3 0 5-2 4-3 3-3 4-3 3-4 3-3 3-4 3-4 2 1 1 4-1 4-2 5-1 4-1 5-1 4 0 5-1 4 1 4 3 1 4-2 4-3 4-3 4-3 3-3 3-4 3-4 3-3 3-1 1 5-2 4-1 4-1 5-2 4 0 5-1 4 0 5 1 4 2 1 5-2 4-3 4-3 3-3 3-4 3-3 3-4 2-4 3-2 2 4-2 5-1 4-1 5-1 4 0 5 0 5 0 4 1 4 2 1 5-2 4-2 3-4 4-3 2-4 3-4 2-4 3-4 2-4 2 4-1 4-1 5 0 5 0 4-1 5 0 4 1 5 1 4 2 2 4-2 5-3 3-4 3-3 3-4 2-4 2-5 2-4 2-4 2 3 0 5 0 4-1 5 0 4 0 5 0 5 1 4 1 4 2 2 4-2 5-3 3-3 3-4 3-4 2-4 2-4 2-4 2-4 2" fill="none" transform="scale(.5)"/>
<use href="#h45" stroke="#c9bf6a" stroke-width="12.2"/>
<use href="#h45" stroke="#f7f2a8" stroke-width="9.2"/>
<path id="h46" d="M601 2945l-4 1-5 2-4 1-4 2-2 0 4 0 5-1 4 0 5 0 5 0 4 1 5 0 4 1 4 2 3 4-1 4-3 3-3 3-4 3-4 2-4 2-5 1-4 2-4 1-5 2 1 0 4-1 5 0 4 0 5-1 4 1 5 0 5 1 4 1 4 2 2 4-1 4-3 3-4 3-4 2-4 2-4 2-5 2-4 2-4 1-5 1 3 0 4 0 5-1 4 0 5 0 5 0 4 0 5 1 4 2 4 2 1 4-2 4-3 3-4 3-4 2-4 2-4 2-4 2-5 1-4 2-4 1 4-1 5 0 4-1 5 0 4 0 5 0 5 1 4 1 4 1 4 3 0 4-2 4-4 3-3 3-4 2-4 2-5 2-4 2-4 1-5 1-2 1 4 0 5-1 5 0 4 0 5 0 4 0 5 0 4 1 5 2 3 3 0 5-3 3-4 3-4 3-4 2-4 2-4 2-4 1-5 2-4 1-1 0 5 0 5-1 4 0 5 0 4 0 5 0 5 1 4 1 4 2 2 4-1 4-3 3-4 3-4 3-4 2-4 2-4 1-5 2-4 1-4 2 1-1 5 0 5-1 4 0 5 0 4 0 5 1 4 1 5 1 4 2 2 4-2 4-4 4-4 2-4 3-4 1-4 2-4 2-5 1-4 2-4 1 3-1 5 0 4 0 5 0 4 0 5 0 5 1 4 0 4 2 4 3 1 4-3 4-3 3-4 2-4 2-4 2-4 2-5 2-4 1-5 1-3 1 5 0 4-1 5 0 4 0 5 0 5 1 4 0 5 1 4 2 3 3 0 5-3 3-3 3-4 2-4 2-5 2-4 2-4 1-5 2-4 1-2 0 5 0 4-1 5 0 4 1 5 0 5 1 4 0 4 2 5 2 2 3 0 5-4 3-3 3-4 2-5 2-4 1-4 2-5 1-4 1-5 0-1 0 5 0 5 0 4 1 5 0 4 1 5 1 4 1 4 2 4 3 2 4-1 4-4 3-4 2-4 2-5 1-4 1-4 1-5 1-5 0-4 1 4 0 5 1 5 0 4 1 5 1 4 2 4 2 4 2 4 3 1 4-2 4-4 2-4 2-4 1-5 1-4 1-5 1-5 0-4 0-5 0 2 0 4 1 5 1 4 1 5 1 4 2 4 2 4 2 4 2 3 3 1 5-3 3-4 2-5 2-4 1-5 0-4 1-5 0-4 0-5 0-4 0 2 1 5 1 4 1 5 1 4 1 5 2 4 2 4 2 3 3 3 3 0 5-3 3-4 2-5 1-4 1-5 0-4 1-5 0-5 0-4 0-4 0 4 1 5 1 4 1 4 1 5 2 4 1 4 2 4 3 4 2 2 4-1 5-4 2-4 2-4 1-5 1-4 0-5 1-5 0-4-1-5 0-3 0 5 1 4 1 5 1 4 2 4 2 5 2 4 2 3 2 4 3 2 5-2 4-4 2-5 1-4 1-5 1-4 0-5 0-4 0-5 0-5-1-1 0 4 1 5 1 4 2 5 2 4 1 4 3 4 2 3 3 4 3 1 4-3 4-4 2-2 1" fill="none" transform="scale(.5)"/>
<use href="#h46" stroke="#c9bf6a" stroke-width="12.2"/>
<use href="#h46" stroke="#f7f2a8" stroke-width="9.2"/>
<path id="h47" d="M527 3041l-4 2-4 1-5 2-4 1-2 1 5-1 4 0 5-1 4 0 5 0 5 0 4 0 5 1 4 2 3 3 0 4-3 4-4 3-3 3-4 2-4 2-5 2-4 2-4 2-5 1 1 0 4-1 5 0 4-1 5 0 5 0 4 0 5 1 4 1 4 2 3 3-1 5-3 3-4 3-4 2-4 3-4 2-4 1-4 2-5 2-4 1 2 0 4-1 5 0 4-1 5 0 4 0 5 1 5 0 4 2 4 2 2 4-2 4-3 3-4 3-4 2-4 2-4 2-5 2-4 1-4 2-5 1 3-1 5 0 5-1 4 0 5 1 4 0 5 1 4 1 5 1 3 3 1 5-2 3-4 3-4 3-4 2-4 1-4 2-5 1-4 1-5 1-4 1 4-1 4 0 5 0 5 1 4 0 5 1 4 1 4 2 5 2 3 3 0 4-3 4-4 2-4 2-4 2-4 1-5 2-4 1-5 0-5 1-3 0 4 0 5 0 5 1 4 1 5 1 4 1 4 1 5 2 4 3 2 3-1 4-3 3-4 3-4 1-5 2-4 1-5 0-4 1-5 1-4 0-3 0 5 0 4 1 5 1 4 1 5 1 4 1 4 2 5 2 3 3 2 4-1 4-4 3-4 2-4 1-5 1-4 1-5 0-4 1-5 0-5 0-1 0 5 0 4 1 5 1 4 2 5 1 4 2 4 2 4 3 3 3 2 4-3 4-3 2-5 2-4 1-5 0-4 0-5 0-5 0-4 0-5-1-1 0 5 1 4 2 5 1 4 2 4 2 4 2 4 3 3 3 3 3 1 5-3 3-4 2-4 1-5 0-5 1-4-1-5 0-4-1-5 0-4-1 4 2 4 1 5 2 4 2 4 3 4 2 3 3 4 3 3 3 0 5-4 3-4 1-4 1-5 0-5 0-4 0-5 0-4 0-5-1-4 0 2 1 5 1 4 2 5 1 4 2 4 2 4 2 4 2 4 3 2 4 0 4-4 3-4 1-5 2-4 0-5 1-4 1-5 0-5 0-4 1-2 0 4 1 5 1 4 0 5 1 4 1 5 1 4 2 4 1 4 3 2 4-1 4-3 3-4 2-5 2-4 1-4 1-5 2-4 1-5 1-4 0 1 1 4 0 5 0 4 0 5 1 4 0 5 1 4 1 5 2 3 3 2 4-3 4-3 2-4 3-4 2-5 1-4 2-4 1-5 1-4 2-5 1 4-1 5 0 4 0 5 0 5 1 4 0 5 1 4 1 4 2 4 2 0 5-2 3-4 3-4 3-4 2-4 1-5 2-4 1-4 2-5 1-3 1 5-1 5 0 4 0 5 0 4 0 5 1 4 1 5 1 4 2 3 3-1 4-3 4-3 2-4 3-4 2-5 1-4 2-4 1-5 2-4 1-1 0 4-1 3 0" fill="none" transform="scale(.5)"/>
<use href="#h47" stroke="#c9bf6a" stroke-width="12.2"/>
<use href="#h47" stroke="#f7f2a8" stroke-width="9.2"/>
<path id="h48" d="M502 2940l-4 3-3 3-4 2-4 3-2 1 4-2 5-2 4-1 5-1 4-1 5-1 4-1 5 0 4 1 4 2 0 5-2 4-2 3-4 4-3 3-4 3-3 3-4 2-4 3-4 2 1 0 4-1 4-2 4-1 5-2 4-1 5 0 4-1 5 0 5 1 3 3-1 5-2 4-3 3-3 3-3 3-4 3-4 3-3 3-4 2-4 2 2 0 4-2 4-1 5-2 4-1 5-1 4-1 5 0 4 0 5 2 2 3-1 5-2 3-3 4-4 3-3 3-4 3-4 3-3 2-4 2-4 3 3-2 5-2 4-1 4-1 5-1 4-1 5 0 5 0 4 0 4 2 2 4-2 4-2 4-3 3-4 3-4 3-3 3-4 2-4 3-4 2-3 2 4-2 5-1 4-2 4-1 5-1 4-1 5 0 5 0 4 1 4 2 1 4-2 4-3 4-3 3-3 3-4 3-4 3-4 2-3 3-4 2-2 0 5-1 4-2 5-1 4-1 5-1 4 0 5-1 4 1 5 1 3 2 0 5-2 4-3 3-4 4-3 2-4 3-4 3-4 2-4 2-4 2 1 0 4-1 4-2 5-1 4 0 5-1 5 0 4 0 5 0 4 2 3 3-1 4-2 4-4 4-3 2-4 3-4 2-4 3-4 2-4 1-5 2 2-1 4-1 5 0 4-1 5 0 4 0 5 0 5 0 4 2 4 2 2 4-1 4-3 3-4 3-4 2-4 3-4 1-4 2-5 1-4 2-5 0 2 0 4 0 5 0 5 0 4 0 5 1 4 1 5 1 4 1 4 3 1 4-2 4-3 3-4 2-5 2-4 2-4 1-5 1-4 1-5 1-4 0 2 0 4 0 5 1 4 0 5 1 4 1 5 1 4 2 4 2 4 3 0 4-2 4-4 2-4 2-4 2-5 1-4 1-5 1-4 0-5 1-5 0 4 0 4 1 5 0 4 1 5 1 4 1 4 2 5 2 4 2 3 4 0 4-3 3-4 2-5 2-4 1-5 1-4 1-5 1-4 0-5 0-4 0 4 1 5 0 4 1 5 1 4 1 5 2 4 1 4 2 4 3 3 4-1 4-3 3-4 2-5 1-4 1-5 1-4 1-5 0-4 0-5 0-4 0 5 0 4 1 5 2 4 1 5 2 4 1 4 2 4 3 3 3 2 4-1 4-4 3-4 1-5 1-4 1-5 0-5 0-4 0-5 0-4-1-3 0 5 1 4 1 5 2 4 2 4 1 4 2 4 3 4 2 3 3 2 5-2 3-4 3-4 1" fill="none" transform="scale(.5)"/>
<use href="#h48" stroke="#7c7cb4" stroke-width="12.2"/>
<use href="#h48" stroke="#bcbce6" stroke-width="9.2"/>
<path id="h49" d="M607 3352l-5 2-4 1-5 1-4 1 2 0 5 0 4 0 5 0 4 1 5 1 4 1 5 1 3 3 2 4-3 4-3 3-4 2-5 2-4 1-4 2-5 1-4 1-5 1 4 0 5 0 5 0 4 0 5 1 4 1 5 1 4 1 3 3 1 5-3 3-4 3-4 2-4 2-4 1-5 2-4 1-5 1-3 1 5 0 4 0 5 0 5 0 4 1 5 1 4 1 4 2 3 3 0 4-3 4-4 2-4 2-4 2-5 2-4 1-5 1-4 1-1 1 4-1 5 1 4 0 5 0 5 1 4 1 4 1 5 2 2 4-1 4-4 3-4 2-4 2-4 2-4 2-5 1-4 1-5 1 1 0 5 0 4 0 5 1 4 0 5 1 4 1 5 1 4 2 2 4-2 4-4 3-4 3-4 2-4 1-5 2-4 1-5 1-1 1" fill="none" transform="scale(.5)"/>
<use href="#h49" stroke="#7c7cb4" stroke-width="12.2"/>
<use href="#h49" stroke="#bcbce6" stroke-width="9.2"/>
<path id="h50" d="M495 3424l-4 2-4 2-4 2-4 2 2 0 4-1 5-1 4 0 5-1 5 0 4 0 5 1 4 2 2 4-2 4-3 3-4 3-3 3-4 2-4 2-5 2-4 2-4 2 4-1 4-1 5 0 4-1 5 0 5 0 4 0 5 1 4 2 1 5-2 4-4 3-3 3-4 2-4 3-4 2-4 2-5 1-3 2 5-1 5-1 4-1 5 0 4 0 5 0 4 0 5 1 2 1" fill="none" transform="scale(.5)"/>
<use href="#h50" stroke="#7c7cb4" stroke-width="12.2"/>
<use href="#h50" stroke="#bcbce6" stroke-width="9.2"/>
<path id="h51" d="M451 3003l-4 2-5 2-4 2 2 0 4 0 5-1 5 1 4 0 5 1 4 2 2 4-3 4-3 3-4 2-4 2-4 2-5 2-4 1 4 0 5 0 5 0 4 0 5 1 4 1 4 2 1 4-3 4-4 3-4 2-4 2-4 2-4 2-2 1 4 0 5-1 4 0 5 0 5 1 4 1 4 3-1 4-4 4-3 2-4 3-4 2-4 2-4 2 1 1 5-1 4 0 5-1 4 0 5 0 4 1 3 4-2 4-3 3-3 3-4 3-3 3-4 3-4 2 4-1 5-1 4-1 5-1 4-1 5 0 4 2 1 3-1 5-3 3-3 4-4 3-3 3-4 2-2 2 5-1 4-2 4-1 5-1 4-1 5 0 4 2 1 4-2 4-3 4-3 3-4 3-3 3-4 3-2 1" fill="none" transform="scale(.5)"/>
<use href="#h51" stroke="#7c7cb4" stroke-width="12.2"/>
<use href="#h51" stroke="#bcbce6" stroke-width="9.2"/>
<path id="h52" d="M450 3120l0 3 0 3 0 3 0 3 0 3 0 3 0 3 0 3 0 3 0 3 0 3 0 3 0 3 0 3 1 3 0 3 1 3 1 3 1 2 2 3 1 2 3 2 2 2 3 1 3 2 2 0 3 1 3 1 3 1 3 0 3 1 3 0 3 1 3 1 3 0 3 1 2 1 3 1 3 2 2 1 2 2 2 3 2 2 2 3 1 2 2 3 1 3 1 2 1 3 1 3 1 3 1 3 1 3 1 2 1 3" fill="none" transform="scale(.5)"/>
<use href="#h52" stroke="#7c7cb4" stroke-width="6.4"/>
<use href="#h52" stroke="#bcbce6" stroke-width="4"/>
<path id="h53" d="M465 3153l-5 2-4 1-3 2 5 0 4 0 5 0 4 1 5 1 3 3 0 4-3 3-4 3-4 2-5 2-4 1-1 2 5-1 4 1 5 0 4 1 5 1 3 3-2 5-3 3-4 2-4 2-5 2-4 2 2 0 4 0 5 0 5 0 4 1 4 2 2 4-2 4-4 2-3 3-4 2-5 2-4 3 5 0 4-1 5-1 4 0 5 0 4 2 1 4-2 4-3 3-3 3-4 4-3 3 0 1 4-1 5-2 4-2 4-1 5-1 4 2 0 4-2 5-2 4-3 3-3 4-3 3 3-1 2-1" fill="none" transform="scale(.5)"/>
<use href="#h53" stroke="#7c7cb4" stroke-width="12.2"/>
<use href="#h53" stroke="#bcbce6" stroke-width="9.2"/>
<ellipse cx="229.0" cy="1504.2" rx="7.0" ry="6.4" fill="none" stroke="#7c7cb4" stroke-width="3.8"/>
<ellipse cx="229.0" cy="1504.2" rx="7.0" ry="6.4" fill="none" stroke="#bcbce6" stroke-width="2.4"/>
<ellipse cx="231.0" cy="1505.8" rx="7.0" ry="6.4" fill="none" stroke="#7c7cb4" stroke-width="3.8"/>
<ellipse cx="231.0" cy="1505.8" rx="7.0" ry="6.4" fill="none" stroke="#bcbce6" stroke-width="2.4"/>
<path id="h54" d="M510 2910l2 2 2 2 3 2 2 2 2 2 2 2 2 2 3 2 2 3 2 2 2 2 2 2 2 2 2 3 1 2 2 2 2 3 2 3 1 2 2 3 1 2 2 3 1 2 2 3 1 3 2 2 1 3 1 3 2 2 1 2" fill="none" transform="scale(.5)"/>
<use href="#h54" stroke="#d77a78" stroke-width="6.4"/>
<use href="#h54" stroke="#f6b9b6" stroke-width="4"/>
<path id="h55" d="M373 3549l2 4 2 5 2 4 1-2 0-5 0-4-1-5 1-4 0-5 2-4 3-3 5 2 3 3 3 3 2 4 2 4 2 4 2 5 0-2 0-4 0-5 1-5 0-4 2-5 2-4 4-2 4 2 3 3 2 5 2 4 1 4 0 5 0 4-1 2 2-5 2-4 2-4 3-3 3-3 4-3 5 0 4 2 1 4-1 5-1 4-1 5-2 4-2 4-2 4 3-3 3-3 4-2 4-3 4-2 4-2 5 0 3 3 0 4-1 5-2 4-2 4-2 4-3 4-3 4 4-2 3-3 4-2 4-3 4-2 5-1 4-1 3 3 1 3" fill="none" transform="scale(.5)"/>
<use href="#h55" stroke="#c07fa6" stroke-width="12.2"/>
<use href="#h55" stroke="#efb8d8" stroke-width="9.2"/>
<path id="h56" d="M303 3623l-3 4-2 3-3 4-2 3 4-3 4-3 4-2 4-3 4-2 4-1 4-2 5 1 2 4 0 4-2 4-1 5-3 4-2 4-3 3-2 4-2 2 4-2 4-3 4-3 4-2 4-2 4-2 4-1 5 1 2 4 0 4-2 5-2 4-2 4-2 4-3 3-3 4-1 2 4-3 4-2 4-3 4-2 4-2 4-2 5-1 4 1 2 4-1 4-1 5-2 4-2 4-3 4-2 3-3 4-1 2 4-3 4-3 4-2 4-3 4-2 4-1 5-1 4 1 2 4-1 4-1 5-2 4-3 4-1 3" fill="none" transform="scale(.5)"/>
<use href="#h56" stroke="#c07fa6" stroke-width="12.2"/>
<use href="#h56" stroke="#efb8d8" stroke-width="9.2"/>
<ellipse cx="226.0" cy="1813.5" rx="9.0" ry="8.3" fill="none" stroke="#c07fa6" stroke-width="3.8"/>
<ellipse cx="226.0" cy="1813.5" rx="9.0" ry="8.3" fill="none" stroke="#efb8d8" stroke-width="2.4"/>
<ellipse cx="228.0" cy="1815.0" rx="9.0" ry="8.3" fill="none" stroke="#c07fa6" stroke-width="3.8"/>
<ellipse cx="228.0" cy="1815.0" rx="9.0" ry="8.3" fill="none" stroke="#efb8d8" stroke-width="2.4"/>
<ellipse cx="230.0" cy="1816.5" rx="9.0" ry="8.3" fill="none" stroke="#c07fa6" stroke-width="3.8"/>
<ellipse cx="230.0" cy="1816.5" rx="9.0" ry="8.3" fill="none" stroke="#efb8d8" stroke-width="2.4"/>
<ellipse cx="204.0" cy="1829.2" rx="8.0" ry="7.4" fill="none" stroke="#c07fa6" stroke-width="3.8"/>
<ellipse cx="204.0" cy="1829.2" rx="8.0" ry="7.4" fill="none" stroke="#efb8d8" stroke-width="2.4"/>
<ellipse cx="206.0" cy="1830.8" rx="8.0" ry="7.4" fill="none" stroke="#c07fa6" stroke-width="3.8"/>
<ellipse cx="206.0" cy="1830.8" rx="8.0" ry="7.4" fill="none" stroke="#efb8d8" stroke-width="2.4"/>
<path id="h57" d="M370 3724l-4 1-4 2-5 1-2 1 4 0 5 0 4 1 5 0 4 1 5 1 4 2 3 3 0 5-3 3-4 3-4 2-4 2-5 1-4 2-4 1-3 1 5 0 4 0 5 1 5 0 4 1 5 1 4 2 3 3-1 5-3 3-4 3-4 2-4 2-4 1-5 1-4 2-2 1 5 0 4 0 5 0 4 1 5 1 4 1 4 2 3 4 0 4-4 3-4 3-4 2-4 1-4 2-5 1-4 2-1 1 4 0 5 0 5 0 4 1 5 1 4 1 4 2 3 4-1 4-3 3-4 2-4 2-5 2-4 2-4 1-5 1-1 1 5 0 5 1 4 0 5 1 4 1 5 1 4 2 3 4-2 4-3 3-4 2-4 2-4 2-5 2-4 1-5 1 0 1 5 0 4 0 5 1 5 1 4 0 4 2 4 2 3 4" fill="none" transform="scale(.5)"/>
<use href="#h57" stroke="#c07fa6" stroke-width="12.2"/>
<use href="#h57" stroke="#efb8d8" stroke-width="9.2"/>
<path id="h58" d="M273 3822l-2 5-2 4-2 4-1 3 3-4 3-3 4-3 3-3 4-2 4-3 4-2 5 0 3 4 0 4-1 5-1 4-2 4-2 5-2 4-2 4-1 2 3-3 4-3 3-3 4-3 4-2 4-3 4-1 5 0 2 3 0 5-1 5-1 4-2 4-2 4-3 4-2 4-2 2 3-3 4-3 4-2 4-2 4-2 4-1 5-1 4 1 3 3-1 5-1 4-3 4-2 4-3 3-4 4-3 3-3 3 4-2 4-2 4-2 5-2 4-1 5-1 4 0 5 1 2 3-1 5-2 4-3 4-3 3-3 4-1 0" fill="none" transform="scale(.5)"/>
<use href="#h58" stroke="#c07fa6" stroke-width="12.2"/>
<use href="#h58" stroke="#efb8d8" stroke-width="9.2"/>
<path id="h59" d="M280 3890l1 3 1 3 1 2 2 3 1 3 1 3 1 2 1 3 2 3 1 2 2 3 2 2 3 1 3 1 2 0 3-1 3-1 3-2 3-1 2-1 3-2 2-2 3-1 2-2 2-2 3-2 2-2 2-2 2-2 2-2 2-3 1-3 1-2 1-3 1-3 1-3 0-3 1-3 0-3 1-3" fill="none" transform="scale(.5)"/>
<use href="#h59" stroke="#c07fa6" stroke-width="6.4"/>
<use href="#h59" stroke="#efb8d8" stroke-width="4"/>
<path id="h60" d="M411 3764l-4 2-5 1-4 2-3 1 5 0 4 0 5 0 5 0 4 1 5 1 4 1 3 3 0 4-3 4-3 3-4 2-4 2-4 2-5 2-4 1-2 2 4-1 5 0 5 0 4 1 5 0 4 1 5 2 3 3 0 4-3 4-4 2-4 3-4 2-4 2-5 1-4 2-2 1 5 0 5 0 4 0 5 0 4 1 5 1 4 1 3 3 0 5-3 3-4 3-4 2-4 3-4 1-4 2-5 2-1 1 5 0 5-1 4 0 5 1 4 0 5 1 4 2 3 3-1 4-3 4-3 2-4 3-4 2-4 2-4 2-5 2 0 1 5-1 4 0 5 0 4 0 5 0 5 1 4 2 3 3-1 4-3 4-4 3-4 2-4 2-4 2-4 2-4 2 0 1 5-1 5 0 4 0 5 0 4 0 5 1 4 2 3 3-1 5-3 3-4 3-4 2-4 3-4 2-4 2-4 1 1 1 4-1 5 0 4 0 5 0 5 1 4 0 4 2 3 4-2 4-3 3-3 3-4 3-4 2-4 2-5 2-4 1 2 1 4 0 5-1 4 0 5 0 5 1 4 1 4 2 3 3-2 4-3 4-4 3-4 2-4 2-4 2-4 2-4 2 2 0 4 0 5-1 5 0 4 0 5 1 4 1 4 2 2 4-1 4-3 3-4 3-4 2-4 2-4 2-4 2-5 2 3 0 4 0 5 0 5-1" fill="none" transform="scale(.5)"/>
<use href="#h60" stroke="#c07fa6" stroke-width="12.2"/>
<use href="#h60" stroke="#efb8d8" stroke-width="9.2"/>
<path id="h61" d="M330 3580l2-2 3-1 2-2 3-2 2-2 3-1 2-2 3-2 2-1 3-2 2-1 3-2 3-1 2-2 3-1 2-2 3-1 3-2 2-1 3-1 3-2 2-1 3-1 3-2 3-1 2-1 3-1 3-1 3-1 3-1 2-1 3-1 3-1 3-1 3-1 3-1 3 0 3-1 3 0 3 0 3 0 2 1 3 1 3 1 2 2 3 2 2 1 3 2 2 2 2 2 2 2 3 2 2 2" fill="none" transform="scale(.5)"/>
<use href="#h61" stroke="#c07fa6" stroke-width="6.4"/>
<use href="#h61" stroke="#efb8d8" stroke-width="4"/>
<path id="h62" d="M283 3742l-2 4-2 4-2 5 2-1 3-3 3-3 4-3 4-3 4-2 4-1 4 1 2 4-1 5-1 4-1 5-2 4-2 4-2 4 2-1 3-3 4-3 3-3 4-2 4-2 5-1 4 1 1 4-1 5-1 4-2 5-2 4-3 4-2 3 1 0 4-3 4-2 4-3 4-2 4-1 5-1 4 2 0 4-1 5-2 4-2 4-2 4-3 4-3 3 2 0 4-3 4-2 4-2 3-2" fill="none" transform="scale(.5)"/>
<use href="#h62" stroke="#c07fa6" stroke-width="12.2"/>
<use href="#h62" stroke="#efb8d8" stroke-width="9.2"/>
<path id="h63" d="M300 3900l-1 3-2 2-1 3-2 3-1 2-2 3-1 2-2 3-1 3-1 2-2 3-1 3-1 3-1 2-1 3 0 3-1 3 1 3 1 3 2 2 2 2 3 2 2 2 3 1 2 1 3 2 3 1 3 1 3 1 2 1 3 0 3 1 3 0 3 1 3 0 3 0 3 0 3-1 3-1 3-1 2-1 3-2 2-2 3-2 2-2 2-2 2-2 2-2 3-2 2-2 2-2 2-2 2-2 2-2" fill="none" transform="scale(.5)"/>
<use href="#h63" stroke="#c07fa6" stroke-width="6.4"/>
<use href="#h63" stroke="#efb8d8" stroke-width="4"/>
<path id="h64" d="M292 3663l-4 3-4 3-3 3-3 2 5-2 4-1 5-1 4-1 5-1 4 0 5 0 4 2 1 4-2 5-3 3-3 4-3 3-4 3-3 2-4 3-2 2 4-2 5-1 4-1 5-1 4-1 5 0 4 0 4 3 1 4-2 4-2 4-4 3-3 3-4 3-3 3-4 2-1 2 4-2 5-1 4-1 5-1 4-1 5 0 4 0 4 3 1 4-2 4-3 4-3 3-4 3-3 3-4 3-3 3-1 1 5-2 4-1 4-1 5-1 4-1 5-1 4 1 4 2 1 5-2 4-3 3-3 4-3 3-4 3-3 3-4 3 0 1 4-2 5-1 4-2 5-1 4-1 5 0 4 0 4 3 0 4-2 4-3 4-3 3-3 4-3 3-4 3-3 3 5-2 4-1 4-2 5-1 4-1 5 0 4 0 4 3 0 4-2 4-3 4-2 4-4 3-3 3-3 3-4 3 2 1 4-2 4-2 5-2 4-1 4-2 5-1 5 1 3 2 0 5-2 4-2 4-3 4-2 3-3 4-4 3-3 4 3-1 4-3 4-2 4-2 4-2 5-1 4-1 5 0 3 3 0 5" fill="none" transform="scale(.5)"/>
<use href="#h64" stroke="#7dbfc8" stroke-width="12.2"/>
<use href="#h64" stroke="#bfe9ee" stroke-width="9.2"/>
<path id="h65" d="M501 3844l-4 2-4 2-5 2-4 1 2 1 5-1 5 0 4-1 5 0 4 1 5 0 4 1 4 3 2 4-1 4-4 3-3 3-4 2-4 2-4 2-5 2-4 2-4 2 3 0 4-1 5 0 5 0 4 0 5 0 4 0 5 2 4 2 1 4-2 4-3 3-3 3-4 3-4 2-4 2-5 2-4 1-4 2 4 0 4-1 5 0 4 0 5 0 4 0 5 0 4 2 4 2 2 4-2 4-4 3-3 3-4 3-4 2-4 2-4 2-4 2-4 2 4-1 5 0 4-1 5 0 4 0 5 0 5 0 4 1 4 3 1 4-2 4-4 3-3 3-4 3-4 2-4 2-4 2-4 2-3 2 4-1 5-1 4 0 5-1 4 0 5 0 4 1 5 1 4 3 0 4-2 4-3 3-4 3-4 3-4 2-4 2-4 2-4 1-4 2 5-1 5 0 4-1 5 0 4 0 5 1 4 1 5 1 3 3 0 4-2 4-4 3-3 3-4 2-4 2-5 2-4 2-4 1-3 2 5-1 4 0 5 0 5 0 4 0 5 0 4 1 5 2 3 3 0 4-3 4-3 3-4 2-4 3-4 2-4 1-5 2-4 2-2 1 5-1 4 0 5 0 4 0 5 0 5 1 4 1 4 1 3 4 0 4-3 4-3 2-4 3-4 2-4 2-5 2-4 2-4 1-3 1" fill="none" transform="scale(.5)"/>
<use href="#h65" stroke="#7dbfc8" stroke-width="12.2"/>
<use href="#h65" stroke="#bfe9ee" stroke-width="9.2"/>
<path id="h66" d="M421 3904l-3 2-4 3-4 2-3 2 5-1 4-1 5-1 4-1 5 0 4 0 5 1 4 2 1 4-3 4-3 4-3 3-4 3-3 2-4 3-4 2-2 2 4-1 5-1 4-1 5-1 4 0 5 0 4 1 4 3 1 4-3 4-3 3-3 3-4 3-4 3-4 2-4 2-1 2 4-1 5-1 4-1 5 0 4 0 5 0 4 1 4 3 0 4-2 4-3 3-4 3-4 2-4 3-4 2-4 2-1 1 4 0 5-1 4 0 5-1 4 0 5 1 4 1 4 3 0 4-3 4-3 3-4 3-3 2-4 3-5 2-4 2-1 1 5-1 4 0 5-1 4 0 5 0 4 1 5 1 3 3 0 4-3 4-3 3-4 3-4 2-4 2-4 3-4 1-1 2 5-1 4-1 5 0 4 0 5 0 5 1 4 1 3 3 0 4-3 4-3 3-4 3-4 2-4 2-4 2-4 2-1 1 5 0 4-1 5 0 4 0 5 0 5 1 4 1 3 3" fill="none" transform="scale(.5)"/>
<use href="#h66" stroke="#7dbfc8" stroke-width="12.2"/>
<use href="#h66" stroke="#bfe9ee" stroke-width="9.2"/>
<path id="h67" d="M353 3720l2 4 1 5 2 4 1-2 0-4 0-5 1-4 1-5 1-4 3-4 4-2 4 2 3 4 2 4 1 4 1 5 1 4 0 5 1-4 1-5 3-4 3-3 3-3 4-3 4-1 4 3 1 5 0 4-1 5-2 4-1 4-2 4-3 4 4-3 3-3 4-3 3-2 4-3 5-1 4-1 4 3 0 5-1 4-2 4-2 4-2 5-2 3-3 4 4-2 4-3 1-1" fill="none" transform="scale(.5)"/>
<use href="#h67" stroke="#7dbfc8" stroke-width="12.2"/>
<use href="#h67" stroke="#bfe9ee" stroke-width="9.2"/>
<path id="h68" d="M581 3484l-4 2-4 3-4 2-4 1 2 0 5 0 4-1 5-1 4 0 5 0 5 0 4 1 4 2 2 4-1 4-3 4-4 3-3 2-4 3-4 2-4 2-4 3-4 1 3 0 4-1 5 0 4-1 5 0 5-1 4 1 5 0 4 2 2 4-2 4-3 4-3 3-4 3-4 3-3 2-4 2-4 3-4 2 4-1 4-1 5-1 4-1 5 0 4-1 5 0 5 1 4 2 1 4-1 4-3 4-4 3-3 3-4 3-4 2-3 3-4 2-4 2 5-1 4-1 5-1 4-1 5-1 4 0 5 0 4 1 4 2 2 4-2 4-3 4-3 3-4 3-4 3-3 2-4 3-4 2-3 2 4-2 5-1 4-1 5 0 4-1 5 0 5 0 4 1 4 2 1 4-2 4-3 4-3 3-4 3-3 2-4 3-4 2-4 2-3 2 5-1 4-1 5-1 4-1 5 0 4 0 5 0 4 1 4 3 1 4-2 4-4 4-3 3-4 2-4 3-4 2-4 2-4 2-2 1 4 0 5-1 4-1 5 0 4 0 5 0 5 0 4 2 4 2 0 5-2 3-4 4-3 3-4 2-4 2-4 3-4 2-4 1-2 2 4-1 5-1 4 0 5-1 4 0 5 1 5 0 4 2 3 3 0 4-2 4-3 3-4 3-4 2-4 2-4 2-4 2-4 2-2 1 5 0 4-1 5 0 4-1 5 0 5 1 4 0 5 2 3 3 0 4-3 4-3 3-4 3-4 2-4 2-4 3-4 2-3 1" fill="none" transform="scale(.5)"/>
<use href="#h68" stroke="#c9bf6a" stroke-width="12.2"/>
<use href="#h68" stroke="#f7f2a8" stroke-width="9.2"/>
<path id="h69" d="M562 3803l-3 3-4 3-3 4 2 0 4-2 4-2 5-1 4-2 5 0 4 0 4 3-1 4-2 4-2 4-3 4-3 3-3 3-4 3 3 0 4-2 4-1 4-2 5-1 4-1 5 1 3 3 0 4-2 4-3 4-3 4-3 3-3 3-4 3 3 0 5-2 4-2 4-1 5-1 4-1 5 0 3 4-1 4-2 4-3 4-3 3-3 4-3 3-3 3 3-1 4-2 5-1 4-2 4-1 5 0 5 0 2 4-1 4-2 4-2 4-3 3-4 4-3 3-3 3 4-1 4-2 4-2 5-1 4-1 5-1 4 1 3 3-1 5-3 4-2 4-3 3-3 4-4 3-3 3 5-2 4-2 4-1 5-2 1 0" fill="none" transform="scale(.5)"/>
<use href="#h69" stroke="#c9bf6a" stroke-width="12.2"/>
<use href="#h69" stroke="#f7f2a8" stroke-width="9.2"/>
<path id="h70" d="M620 3800l3 2 2 1 3 1 3 2 2 1 3 1 3 2 2 1 3 2 2 1 3 2 2 2 3 1 2 2 2 2 2 2 2 3 2 2 1 3 2 2 1 3 1 3 1 3 1 3 1 3 1 3 0 2 1 3 0 3 1 3 0 3 0 3 0 3 0 3 0 3 0 3 0 3-1 3 0 3-1 3-1 3-1 3-2 2-1 3-1 3-2 2-1 3-2 2-2 3-2 2-2 2-2 3-2 2-2 2-2 2-2 2-3 1-3 2-3 0-2 1-3-1-3 0-3-1-3-1-3-2-2-1-3-2-2-1-3-2-2-2-3-1-3-2-2-1" fill="none" transform="scale(.5)"/>
<use href="#h70" stroke="#c9bf6a" stroke-width="6.4"/>
<use href="#h70" stroke="#f7f2a8" stroke-width="4"/>
<path id="h71" d="M630 3660l3 1 3 1 2 1 3 1 3 1 3 1 3 1 2 2 3 1 3 1 2 2 3 1 3 2 2 2 2 2 2 2 1 3 1 3 1 3 1 2 1 3 0 3 0 3 1 3 0 3-1 3 0 3 0 3-1 3-1 3-2 3-1 2-2 2-2 3-2 2-2 2-2 2-3 2-2 2-2 2-2 2-2 2" fill="none" transform="scale(.5)"/>
<use href="#h71" stroke="#c9bf6a" stroke-width="6.4"/>
<use href="#h71" stroke="#f7f2a8" stroke-width="4"/>
<path id="h72" d="M379 3944l-4 0-5 0-4 0-3 1 4 1 4 1 5 2 4 2 4 2 4 2 3 3 3 4-2 4-4 2-4 2-5 1-4 0-5 1-4 0-5 0-3 0 5 2 4 1 4 2 5 2 4 2 4 2 3 3 2 4-2 4-4 2-4 2-5 1-4 0-5 0-4 0-5 0-2 0 4 2 4 1 5 2 4 2 4 2 3 3 4 3 1 5-2 3-4 2-4 1-5 1-4 0-5 0-4 0-5 0-2 0 4 2 4 1 4 2 4 3 4 2 4 3 3 3 2 4-2 4-4 2-5 1-5 0-4 1-5-1-4 0-5 0-2 0 2 1" fill="none" transform="scale(.5)"/>
<use href="#h72" stroke="#c9bf6a" stroke-width="12.2"/>
<use href="#h72" stroke="#f7f2a8" stroke-width="9.2"/>
<path id="h73" d="M461 3703l-4 3-4 2-4 2 2 1 4-1 5-1 4 0 5 0 5 1 4 1 2 4-1 4-3 4-4 2-3 3-4 3-4 2-4 2 2 0 5 0 4-1 5 0 4 0 5 0 4 2 3 4-2 4-3 3-4 3-3 3-4 2-4 3-4 2 3 0 4-1 5 0 5-1 4 0 5 1 4 1 2 4-2 4-3 4-3 3-4 3-3 2-4 3-4 2 4 0 4-1 5-1 5 0 4-1 5 1 4 1 2 4-2 5-3 3-4 3-3 3-4 3-4 2-3 3 4-1 5-1 3-1" fill="none" transform="scale(.5)"/>
<use href="#h73" stroke="#c9bf6a" stroke-width="12.2"/>
<use href="#h73" stroke="#f7f2a8" stroke-width="9.2"/>
<path id="h74" d="M490 3484l-5 1-4 1-5 1-4 0 2 1 4 0 5 1 4 1 5 1 4 2 5 2 4 2 3 3 1 4-3 4-4 2-4 2-5 1-4 1-5 1-4 1-5 1-4 0 3 1 4 1 5 0 4 1 5 1 4 2 4 1 4 3 4 3 0 4-3 4-4 2-4 2-4 1-5 2-4 1-5 0-4 1-5 1 4 1 5 0 4 1 5 0 5 1 4 2 4 1 4 2 4 3 0 4-3 4-4 2-4 3-4 1-5 2-4 1-4 1-5 1-3 2 5 0 4 0 5 0 4 1 5 0 4 1 5 1 4 2 3 4 0 4-3 3-4 3-4 2-4 2-4 2-5 1-4 2-5 1-2 1 5 0 4 0 5 0 5 0 4 1 5 1 4 1 4 2 3 3 0 5-3 3-4 3-4 2-4 2-4 2-5 1-4 2-5 1-1 0 2 0" fill="none" transform="scale(.5)"/>
<use href="#h74" stroke="#7c7cb4" stroke-width="12.2"/>
<use href="#h74" stroke="#bcbce6" stroke-width="9.2"/>
<path id="h75" d="M541 3663l-4 3-3 2-4 3 1 0 5-1 4-1 5 0 5 0 4 0 5 1 2 3-1 4-2 4-4 3-3 3-4 3-4 3-4 2 3 0 4-1 5-1 4 0 5 0 4 0 5 1 2 4-1 4-3 4-3 3-4 3-3 2-4 3-4 2 2 0 5-1 4 0 5-1 4 0 5 1 4 1 2 4-1 4-3 4-4 3-3 2-4 2-5 2-4 2 3 0 4 0 5 0 4 0 5 1 4 1 4 2 2 4-2 4-3 3-4 3-4 2-5 1-4 2-4 1 2 1 4 0 5 0 5 1 4 1 4 1 4 3 2 4-2 4-4 2-4 3-4 1-5 2-4 1-5 1 3 1 4 1 5 0 5 1 4 1 4 2 4 2 1 4-2 4-4 3-4 2-5 1-4 2-4 1-5 1 3 1 2 0" fill="none" transform="scale(.5)"/>
<use href="#h75" stroke="#7c7cb4" stroke-width="12.2"/>
<use href="#h75" stroke="#bcbce6" stroke-width="9.2"/>
<path id="h76" d="M511 3683l-4 2-5 2-4 2 2 0 4 0 5-1 5 1 4 0 5 1 4 2 2 3-3 4-3 3-4 3-4 2-4 2-4 2-5 1 5 0 4 0 5 0 4 0 5 0 4 2 4 2 1 4-3 4-4 3-4 2-4 2-4 2-4 2-2 1 4 0 5-1 5 0 4 0 2 1" fill="none" transform="scale(.5)"/>
<use href="#h76" stroke="#7c7cb4" stroke-width="12.2"/>
<use href="#h76" stroke="#bcbce6" stroke-width="9.2"/>
<path id="h77" d="M440 4064l-4 1-5 1-5 1-4 0 2 1 5 0 4 1 5 1 4 1 4 2 5 2 3 2 4 3 0 4-2 4-4 2-5 2-4 1-4 1-5 1-4 1-5 0-5 1 3 1 5 1 5 0 4 1 5 1 4 2 4 1 4 3 4 3 0 4-3 3-4 3-4 2-4 1-5 2-4 1-5 1-4 1-5 1 5 0 5 1 4 0 5 1 4 0 5 1 4 1 4 2 4 3 0 4-3 4-4 3-4 2-4 2-4 2-4 2-4 2-5 1-1 2 4-1 5 0 4-1 5 0 5 0 4 0 5 1 4 1 4 3 0 4-3 4-3 3-4 3-4 3-3 2-4 3-4 2-4 2-1 1 5-1 4-1 5-1 5 0 4-1 5 0 4 0 5 1 3 3 0 4-3 4-3 4-3 3-4 3-3 3-4 2-4 3-4 2 2 1 4-2 5-1 4-1 5-1 4-1 5-1 4 1 5 1 3 3-1 4-2 4-3 4-3 3-4 3-3 3-4 3-4 3-3 3 3-1 4-2 4-1 5-2 4-1 5-1 4-1 5 0 4 1 3 4-1 4-2 4-3 4-3 3-3 4-4 3-3 3-3 3-4 3 4-2 4-2 5-1 4-2 4-2 5-1 4-1 5 0 4 1 2 4-1 4-2 4-2 4-3 4-3 3-3 4-3 3-3 3-2 3 4-3 4-2 4-2 4-2 4-2 5-1 4-1 5-1 4 1 2 4-1 5-2 4-2 4-3 4-3 3-2 4-3 3-4 4 0 1 3-2 4-3 4-2 4-2 5-2 4-1 4-2 5 0 4 1 2 4-1 5-2 4-2 4-3 4-2 4-3 3-3 4-3 3 0 1 3-2 4-3 4-2 4-2 5-2 4-2 4-1 5 0 4 1 1 4-1 5-1 4-3 4-2 4-3 4-3 3-3 4-3 3 0 1 4-3 4-2 4-2 4-3 4-1 5-2 4-1 4-1 5 2 1 4-1 5-2 4-2 4-3 4-3 4-2 3-3 4-3 3 1 0 4-2 3-3 4-2 4-2 5-2 4-2 4-1 5-1 4 3 0 4-1 5-1 4-3 4-2 4-3 4-3 3-2 4-3 3 1-1 4-2 4-3 4-2 4-2 4-2 4-2 5-1 4 0 4 2 1 5-1 4-2 4-3 4-2 4-3 4-2 3-3 4-4 3 3-1 4-2 3-3 4-2 4-2 5-2 4-2 4-1 5 0 3 3 1 5-2 4-2 4-2 4-2 4-3 4-3 3-3 4-3 3 3-1 4-3 4-3 4-2 4-2 4-2 4-2 5-1 4 0 4 3 0 5-2 4-1 4-3 4-2 4-3 4-3 4-3 3-3 3 3-2 4-2 4-3 4-2 4-2 5-1 4-1 5-1 4 1 3 3 0 5-2 4-2 4-3 3-3 4-4 3-3 2-4 3-4 2 1 0 4-2 5-1 4-1 5 0 4-1 5 1 4 1 5 1 3 4-1 4-2 4-4 3-3 2-5 3-4 1-4 1-5 1-4 0-5-1 4 0 5 1 4 1 4 2 4 2 4 3 3 3 3 4 2 4 0 5-4 2-4 2-5 0-4-1-5-1-4-1-4-2-4-2-4-2-2-2 4 3 3 4 3 3 3 4 2 4 3 4 1 4 1 4-1 5-3 2-5 0-4-1-4-2-4-2-4-3-4-2-3-3-3-4-3-3 2 4 3 4 2 4 2 4 1 4 1 5 1 4 0 5-1 4-3 3-5-1-4-2-4-2-3-4-3-3-3-3-3-4-3-4-2-4 1 3 2 4 1 5 1 4 0 5 1 4 0 5-1 5-1 4-4 2-4-1-4-3-3-3-3-4-3-3-2-4-3-4-2-4-2-5 1 3 1 4 0 5 1 5 0 4 0 5 0 4-1 5-2 4-4 2-4-1-3-3-3-4-3-3-3-4-2-4-2-4-2-5-2-4 1 3 0 4 1 5 0 5 1 4-1 5 0 4-1 5-2 4-4 2-4-2-4-3-3-4-2-3-2-4-3-4-2-4-1-5-2-4 0 3 1 5 0 4 0 5 1 5-1 4 0 5-1 4-2 4-5 2-4-2-3-3-3-4-2-4-3-4-2-4-2-4-1-4-2-4 0 3 1 5 0 5 1 4 0 5-1 4 0 5-2 4-2 4-4 2-4-2-3-3-3-4-2-4-2-4-2-4-2-5-1-4-1-5 0 4 0 4 0 5 0 5-1 4-1 5-1 4-2 4-3 4-4 0-4-2-1-2" fill="none" transform="scale(.5)"/>
<use href="#h77" stroke="#7dbfc8" stroke-width="12.2"/>
<use href="#h77" stroke="#bfe9ee" stroke-width="9.2"/>
<path id="h78" d="M493 4064l-4 2-5 2-4 1-5 1 3 0 4 0 5 0 4 0 5 1 5 0 4 1 4 2 4 2 2 4-2 4-4 3-4 3-4 2-4 2-4 2-4 1-5 2-4 1 3 0 4 0 5 0 5 0 4 0 5 1 4 1 5 2 3 2 2 4-3 4-3 3-4 3-4 2-4 2-5 1-4 2-4 1-5 2 4 0 5 0 4 0 5 0 5 0 4 1 5 1 4 1 4 3 1 4-3 4-3 3-4 2-4 2-4 2-5 2-4 2-4 1-4 2 4 0 5-1 4 0 5 0 5 1 4 0 5 1 4 1 4 3 0 4-2 4-4 3-4 3-4 2-4 2-4 2-4 2-4 2-3 1 4-1 5 0 4 0 5 0 5 0 4 0 5 0 4 2 4 2 0 5-2 3-4 4-3 2-4 3-4 3-4 2-4 2-4 2-1 2 4-1 5-1 4-1 5-1 5 0 4-1 5 0 4 1 4 2 0 5-2 4-3 3-3 4-4 3-3 3-4 3-4 2-3 3 0 1 5-2 4-1 4-2 5-1 4-1 5-1 4 0 5 0 3 3 0 4-2 5-2 3-3 4-3 3-4 3-3 3-4 3-3 3 1 0 4-2 5-2 4-1 5-1 4-1 5-1 4 0 5 1 3 3 0 4-2 4-3 4-3 3-4 3-3 3-4 3-4 3-4 2 1 0 5-2 4-1 5-1 4 0 5-1 4 0 5 0 4 2 3 3 0 5-3 3-3 4-4 3-3 2-4 3-4 2-4 2-5 2 1 0 5-1 4 0 5-1 4 0 5 0 5 0 4 1 4 1 3 4-1 4-3 4-3 3-4 2-3 3-4 2-5 2-4 2-4 2 1 0 5 0 4-1 5 0 4-1 5 0 5 1 4 1 4 2 3 3-1 5-3 3-4 3-4 3-4 2-4 2-4 2-4 2-4 2 1 0 5-1 5 0 4-1 5 0 4 0 5 1 4 1 5 1 2 4-1 4-3 4-4 3-4 3-3 2-4 2-5 2-4 2-4 2 3 0 4-1 5 0 5-1 4 0 5 0 4 0 5 1 4 2 2 4-2 4-3 4-3 3-4 2-4 3-4 2-4 2-4 2-4 2 3 0 5-1 5-1 4 0 5 0 4 0 5 0 4 1 4 2 2 4-2 4-3 4-3 3-4 2-4 3-4 2-4 2-5 2-4 1 4 0 5-1 4 0 5-1 4 0 5 1 5 0 4 2 4 2 1 4-2 4-3 4-4 2-4 3-4 2-4 2-4 1-5 2-4 1 4 0 4-1 5 0 4 1 5 0 4 1 5 1 4 1 4 3 1 4-3 4-3 3-4 2-4 2-4 2-5 2-4 1-5 1-4 1 3 0 5 0 5 1 4 0 5 1 4 1 5 1 4 2 3 3 1 4-2 4-4 3-4 2-4 1-5 2-4 1-5 2-4 1-5 0 4 1 5 0 5 0 4 1 5 1 4 1 4 1 5 2 3 3 0 5-2 3-4 3-4 2-5 2-4 1-4 1-5 2-4 1-5 1 5 0 2 0" fill="none" transform="scale(.5)"/>
<use href="#h78" stroke="#c07fa6" stroke-width="12.2"/>
<use href="#h78" stroke="#efb8d8" stroke-width="9.2"/>
<path id="h79" d="M589 4064l-5 2-4 2-4 1-5 1 3 1 4 0 5-1 4 0 5 1 5 0 4 1 4 1 4 3 2 4-2 4-3 3-4 3-4 2-4 2-4 2-5 1-4 2-4 1 3 0 4 0 5 0 4 0 5 0 5 1 4 1 4 1 4 2 2 5-2 4-4 3-4 2-4 2-4 2-4 2-4 2-5 1-4 2 3 0 5-1 5 0 4 0 5 1 4 0 5 1 4 2 4 2 1 5-2 4-4 3-4 2-4 2-4 2-4 2-4 1-5 2-4 1 4 0 4 0 5 0 5 0 4 0 5 1 4 1 4 2 4 3 1 4-3 4-3 3-4 2-4 2-4 2-5 1-4 2-5 1-4 1 4 0 5 0 4 0 5 1 5 0 4 1 4 2 5 1 3 3 1 5-3 3-4 3-4 2-4 2-4 1-5 2-4 1-5 1-4 0 4 1 5 0 4 1 5 0 4 1 5 2 4 1 4 2 3 4 0 4-3 4-4 2-4 2-4 1-5 1-4 1-5 1-4 1-5 0 4 0 5 1 4 1 5 1 4 2 4 1 4 2 4 3 3 3 0 5-3 3-4 2-4 1-5 1-4 1-5 1-5 0-4 0-5 0 4 0 4 2 4 1 5 2 4 2 4 2 4 2 3 3 3 4-1 4-3 3-4 2-5 1-4 0-5 1-5-1-4 0-5 0-4-1 3 1 4 1 4 2 4 3 4 2 4 3 3 3 3 3 2 5-1 4-3 2-5 1-4 1-5-1-5 0-4-1-5-1-4-2-4-1 1 1 4 3 4 2 4 3 3 3 3 3 4 3 2 4 2 4-1 4-4 3-4 0-5 0-4 0-5-1-4-1-5-2-4-1-5-1 3 2 3 2 4 3 4 2 4 3 3 3 3 3 3 4 2 4-1 4-4 2-5 1-4 0-5 0-5-1-4 0-5-1-4-1-4 0 3 3 5 1 4 2 4 2 4 2 4 2 4 3 4 3 2 4-1 4-4 2-5 2-4 1-5 1-4 0-5 1-4 0-5 0-2 1 5 1 4 1 5 1 4 1 5 2 4 2 4 2 4 2 2 4-2 4-4 3-4 2-4 1-4 2-5 1-4 1-5 1-4 0 0 1 5 1 4 0 5 1 4 1 5 1 4 1 4 2 4 2 2 4-2 4-4 3-4 2-4 2-4 2-4 1-5 1-4 1-5 1 2 1 4 0 5 0 4 1 5 1 4 1 5 1 4 2 4 2 1 5-2 4-4 2-4 2-4 2-4 2-5 1-4 2-5 1-4 1 3 0 4 0 5 1 4 0 5 1 5 0 4 1 4 2 4 3 1 4-2 4-4 3-4 2-4 2-4 2-4 1-5 2-4 1-5 1 4 1 5-1 4 1 5 0 5 0 4 1 5 1 4 2 4 2 0 5-2 3-4 3-3 3-5 2-4 2-4 1-4 2-5 1-4 1 4 0 5 0 5 0 4 0 5 1 4 1 5 1 4 2 2 1" fill="none" transform="scale(.5)"/>
<use href="#h79" stroke="#7c7cb4" stroke-width="12.2"/>
<use href="#h79" stroke="#bcbce6" stroke-width="9.2"/>
<path id="h80" d="M530 4112l-4 1-5 1-5 1-4 0 2 1 5 1 4 0 5 1 4 1 5 2 4 1 4 2 3 3 1 5-2 3-4 3-4 2-5 1-4 1-5 1-4 1-5 1-4 1 3 0 4 1 5 0 4 1 5 1 4 2 4 1 5 2 3 4 1 4-3 3-4 3-4 2-5 1-4 1-5 1-4 1-5 1-4 1 3 0 5 1 4 0 5 1 4 1 5 2 4 1 4 3 3 3 1 4-3 4-4 2-4 2-5 1-4 1-5 1-4 1-5 1-4 0 4 1 4 1 5 0 4 1 5 2 4 1 4 2 4 2 3 3 0 5-3 3-4 2-4 2-4 1-5 2-4 0-5 1-4 1-5 0 5 1 4 0 5 1 4 1 5 2 4 1 4 2 4 3 3 3 0 4-3 4-5 2-4 1-4 2-5 0-4 1-5 1-5 0-4 0 5 1 4 1 4 1 5 1 4 2 4 2 4 2 4 3 3 4-1 4-3 3-5 2-4 1-5 1-4 0-5 0-4 1-5 0-5-1 5 2 4 1 5 1 4 2 4 2 4 2 4 2 4 3 3 4-1 4-4 3-4 1-5 2-4 0-5 1-4 0-5 1-5 0-3 0 5 1 4 1 4 2 5 1 4 2 4 1 4 3 4 2 3 4-2 4-3 3-5 2-4 1-4 1-5 1-4 1-5 0-5 1-1 0 4 1 5 1 4 1 5 1 4 2 4 1 5 2 3 3 2 4-1 4-4 3-4 2-4 1-5 1-4 1-5 1-4 1-5 0-1 1 5 0 4 1 5 1 4 1 5 2 4 1 4 2 4 3 2 4-2 4-4 3-4 2-4 1-5 1-4 1-5 1-4 1-5 0 0 1 5 1 4 0 5 1 4 1 5 2 4 1 4 2 4 3 1 4-2 4-4 3-4 2-4 1-4 2-5 1-4 0-5 1-5 1 1 0 5 1 5 1 4 0 5 1 4 2 4 1 4 2 4 3 2 4-3 4-4 3-4 2-4 1-4 2-5 1-4 1-5 1-4 1 2 0 5 1 4 0 5 1 4 1 5 1 4 1 4 2 4 3 1 4-3 3-4 3-4 2-4 2-4 2-4 1-5 2-4 1-4 2 4 0 5 0 4 0 5 0 4 0 5 1 5 0 4 2 4 2 0 4-2 4-4 3-3 3-4 3-4 2-4 2-4 2-4 2-2 2 4-1 5-1 4-1 5 0 5 0 4-1 5 1 4 1 4 2 0 5-2 4-3 3-4 3-4 3-3 3-4 2-4 2-4 2-2 1" fill="none" transform="scale(.5)"/>
<use href="#h80" stroke="#c9bf6a" stroke-width="12.2"/>
<use href="#h80" stroke="#f7f2a8" stroke-width="9.2"/>
<path id="h81" d="M538 4661l-5-2-4-2-3-3-3-1 3 3 3 4 3 3 2 4 3 4 2 4 1 5 0 4-3 3-5 0-4-1-5-2-4-2-4-2-4-2-4-3-2-1 3 4 3 3 3 4 2 4 3 4 2 4 1 4 0 5-3 2-5 0-4-1-5-2-4-1-4-3-4-2-4-2-2 0 3 3 3 4 3 3 3 4 3 4 2 4 1 4 0 4-4 2-4 0-5 0-4-2-5-1-4-2-4-2-4-2-1 1 3 3 4 3 3 3 3 4 3 3 2 4 2 5-1 4-4 2-4 0-5-1-4-1-4-1-5-2-4-1-4-2 0 1 3 3 4 3 3 3 3 3 3 4 3 4 1 4 0 4-4 2-5 0-4 0-5-1-4-1-5-1-4-1-5-2 2 2 4 3 3 2 4 3 4 3 3 3 3 4 2 4-1 4-4 2-4 1-5 0-4 0-5-1-5 0-4-1-5 0 4 2 4 2 4 2 5 2 4 2 4 3 3 3 3 3-1 5-4 2-5 1-4 1-5 1-4 0-5 1-5 0-3 1 5 1 4 1 5 1 4 2 4 2 4 2 4 2 3 4-2 4-3 3-5 2-4 1-4 1-5 1-4 1-5 1-1 1 4 0 5 1 4 1 5 1 4 1 5 2 4 2 2 3-2 4-3 3-4 3-4 2-4 2-5 2-4 2-4 2 2 3 4 0 5-1 4-2 4-2 4-2 4-3 4-2 4 2 0 5 0 4 0 5-1 5 0 4 0 5-1 4 1 1 2-4 2-4 2-4 2-4 3-4 3-2" fill="none" transform="scale(.5)"/>
<use href="#h81" stroke="#c9bf6a" stroke-width="12.2"/>
<use href="#h81" stroke="#f7f2a8" stroke-width="9.2"/>
<path id="h82" d="M565 4756l-3-3-4-2-3-4 0 2 2 4 2 4 2 5 1 4 2 4 0 5-3 3-4 0-5-1-4-3-3-2-4-3-4-3-3-3 1 3 2 4 2 4 2 4 2 4 1 5 0 4-2 4-5 0-4-2-4-2-4-2-4-2-4-3-4-2 2 4 3 3 2 4 3 4 3 3 2 4 1 5-3 3-4 0-5 0-5-1-4-1-5-1-4-1-2 1 4 3 4 2 4 3 3 3 4 3 3 3 1 5-4 3-4 1-4 0-5 0-5 0-4 0-5-1 0 2 4 2 4 2 4 2 4 2 4 3 3 4 0 4-3 3-4 2-5 0-4 1-5 0-4-1-5 0 1 1 4 2 4 2 4 2 4 3 3 3 3 3" fill="none" transform="scale(.5)"/>
<use href="#h82" stroke="#7c7cb4" stroke-width="12.2"/>
<use href="#h82" stroke="#bcbce6" stroke-width="9.2"/>
<path id="h83" d="M687 4612l-1 4-2 4-1 5 2-1 2-4 3-3 4-3 3-4 4-2 4-2 4 1 2 4 0 4 0 5-1 4-1 5-2 4-1 5 2-2 3-3 3-4 3-3 3-3 4-3 4-2 4 1 2 4 0 5-1 4 0 5-2 4-1 5-1 4 2-2 3-3 3-4 3-3 3-3 4-3 4-2 4 2 2 4 0 4-1 5-1 4-1 5-2 4-1 4 2 0 3-4 3-3 3-4 3-3 3-3 4-2 5 0 1 5 1 4 0 5 0 4-1 5 0 4-1 5 2-4 3-4 2-4 3-4 3-3 3-3 4-2 4 1 2 4 1 5 0 4-1 5 0 5-1 4 0 4 2-4 2-4 3-4 2-3 3-4 4-3 4-2 4 2 1 4 1 4 0 5 0 5 0 4 0 5 0 3 2-4 2-4 2-5 2-4 3-3 3-4 4-2 4 2 2 4 1 4 1 5 0 5 0 4 1 5 1 1 2-4 1-4 1-5 2-4 1-4 3-4 3-3 4 2 3 4 2 4 2 4 1 4 2 5 2 4 1-1 0-5 0-4 0-5 0-5 1-4 1-4 4-3 4 1 3 3 3 4 3 4 2 3 3 4 2 4 1-2-1-5-1-4-1-5 0-4 0-5 1-4 4-3 4 1 4 3 3 3 3 4 3 4 3 3 3 4-1-4-1-4-1-5-1-4-1-5 1-4 1-5 3-2 5 2 3 2 4 3 3 4 3 3 3 4 2 4-1-5-1-4-1-5-1-4 0-5 0-4 1-4 4-3 5 2 2 2" fill="none" transform="scale(.5)"/>
<use href="#h83" stroke="#7c7cb4" stroke-width="12.2"/>
<use href="#h83" stroke="#bcbce6" stroke-width="9.2"/>
<path id="h84" d="M720 4540l2 3 1 2 2 3 1 2 2 3 1 2 2 3 1 3 2 2 2 3 1 2 2 3 1 2 2 3 1 3 2 2 1 3 2 2 1 3 1 3 2 2 1 3 2 3 1 2 1 3 2 3 1 2" fill="none" transform="scale(.5)"/>
<use href="#h84" stroke="#7c7cb4" stroke-width="6.4"/>
<use href="#h84" stroke="#bcbce6" stroke-width="4"/>
<path id="h85" d="M663 4683l-1 5-1 4 0 5 1-1 2-4 3-4 2-4 3-4 3-3 4-3 4 0 2 4 1 5 0 4 0 5-1 4-1 5-2 4 2-2 2-4 3-4 3-3 4-3 4-3 4-1 4 2 1 4 0 4-1 5-2 4-2 4-3 4-3 3 1-2 4-2 4-2 4-2 4-1 5-1 5 1 3 3-1 4-2 4-3 4-3 3-4 3-3 3-4 2 2 0 4-2 5-1 4-1 5 0 5 0 4 1 2 4-1 4-3 4-4 3-3 2-4 3-4 2-5 2 4-1 4-1 5 0 4 0 5 1 4 1 4 2 2 4-2 4-4 3-4 2-4 1-5 1-4-1-5-2 0-3 4 1 3 3 3 4 1 4 1 5 0 4-2 5-3 2-5 0-3-3-3-3-2-4-2-5-1-4-1-5 0-2 0 4-1 5-1 4-1 5-2 4-3 4-3 2-5-1-2-4-2-4 0-5-1-4 0-5-1-5 0-1-1 4-1 5-2 4-2 4-3 4-3 3-4 2-4-3-1-4-1-5 0-4 0-5 0-4 1-5-1 0-1 4-2 4-3 4-2 4-3 3-4 3-4 0-3-3-1-5 0-4 0-5 0-4 1-5 1-4-1 1-2 4-3 4-2 4-3 4-3 3-4 3-4-1-2-4-1-5 0-4 0-5 1-4 1-5 1-4-2 3-3 4-2 4-3 4-2 4-4 3-4 2" fill="none" transform="scale(.5)"/>
<use href="#h85" stroke="#c9bf6a" stroke-width="12.2"/>
<use href="#h85" stroke="#f7f2a8" stroke-width="9.2"/>
<ellipse cx="288.0" cy="2318.5" rx="9.0" ry="8.3" fill="none" stroke="#c9bf6a" stroke-width="3.8"/>
<ellipse cx="288.0" cy="2318.5" rx="9.0" ry="8.3" fill="none" stroke="#f7f2a8" stroke-width="2.4"/>
<ellipse cx="290.0" cy="2320.0" rx="9.0" ry="8.3" fill="none" stroke="#c9bf6a" stroke-width="3.8"/>
<ellipse cx="290.0" cy="2320.0" rx="9.0" ry="8.3" fill="none" stroke="#f7f2a8" stroke-width="2.4"/>
<ellipse cx="292.0" cy="2321.5" rx="9.0" ry="8.3" fill="none" stroke="#c9bf6a" stroke-width="3.8"/>
<ellipse cx="292.0" cy="2321.5" rx="9.0" ry="8.3" fill="none" stroke="#f7f2a8" stroke-width="2.4"/>
<ellipse cx="304.0" cy="2334.2" rx="8.0" ry="7.4" fill="none" stroke="#c07fa6" stroke-width="3.8"/>
<ellipse cx="304.0" cy="2334.2" rx="8.0" ry="7.4" fill="none" stroke="#efb8d8" stroke-width="2.4"/>
<ellipse cx="306.0" cy="2335.8" rx="8.0" ry="7.4" fill="none" stroke="#c07fa6" stroke-width="3.8"/>
<ellipse cx="306.0" cy="2335.8" rx="8.0" ry="7.4" fill="none" stroke="#efb8d8" stroke-width="2.4"/>
<ellipse cx="269.0" cy="2339.2" rx="8.0" ry="7.4" fill="none" stroke="#7dbfc8" stroke-width="3.8"/>
<ellipse cx="269.0" cy="2339.2" rx="8.0" ry="7.4" fill="none" stroke="#bfe9ee" stroke-width="2.4"/>
<ellipse cx="271.0" cy="2340.8" rx="8.0" ry="7.4" fill="none" stroke="#7dbfc8" stroke-width="3.8"/>
<ellipse cx="271.0" cy="2340.8" rx="8.0" ry="7.4" fill="none" stroke="#bfe9ee" stroke-width="2.4"/>
<ellipse cx="319.0" cy="2351.2" rx="8.0" ry="7.4" fill="none" stroke="#c9bf6a" stroke-width="3.8"/>
<ellipse cx="319.0" cy="2351.2" rx="8.0" ry="7.4" fill="none" stroke="#f7f2a8" stroke-width="2.4"/>
<ellipse cx="321.0" cy="2352.8" rx="8.0" ry="7.4" fill="none" stroke="#c9bf6a" stroke-width="3.8"/>
<ellipse cx="321.0" cy="2352.8" rx="8.0" ry="7.4" fill="none" stroke="#f7f2a8" stroke-width="2.4"/>
<path id="h86" d="M477 4641l-3-3-3-4-2-4 0 2 1 4 1 5 0 4 1 5 0 5-1 4-4 3-4-1-4-3-3-3-3-3-3-4-3-4-3-3 0 3 2 4 1 5 1 4 1 5 1 4-1 5-3 2-4-1-4-2-4-2-4-3-4-2-4-3-3-1 3 4 2 4 3 4 2 4 2 4 2 4-1 5-3 2-5-1-4-1-5-2-4-2-4-2-4-3-1 0" fill="none" transform="scale(.5)"/>
<use href="#h86" stroke="#7dbfc8" stroke-width="12.2"/>
<use href="#h86" stroke="#bfe9ee" stroke-width="9.2"/>
<path id="h87" d="M346 4105l4 2 4 2 4 3 0-2-3-4-3-3-3-4-2-4-2-4-1-4 1-4 4-1 5 0 4 2 5 1 4 2 4 2 4 2-1-2-3-3-3-4-3-3-2-4-2-4-1-5 1-4 5-1 4 1 5 1 4 2 4 2 4 2 4 2-1-2" fill="none" transform="scale(.5)"/>
<use href="#h87" stroke="#c9bf6a" stroke-width="12.2"/>
<use href="#h87" stroke="#f7f2a8" stroke-width="9.2"/>
<path id="h88" d="M311 3590l-2 4-3 4-2 4 2-1 3-3 4-3 3-3 4-2 4-2 4-1 4 1 1 5-1 4-1 5-2 4-2 4-2 4-3 4 4-3 3-3 3-3 4-3 4-2 4-2 5-1 3 3 0 5-1 4-2 5-2 4-1 4-3 4 0 2 3-3 3-3 4-3 3-3 4-3 5-1 4 0 2 4 0 4-1 5-2 4-2 4-2 4-2 4 1 0 4-3 3-3 3-3 4-3 4-2 4-2 3 0" fill="none" transform="scale(.5)"/>
<use href="#h88" stroke="#c07fa6" stroke-width="12.2"/>
<use href="#h88" stroke="#efb8d8" stroke-width="9.2"/>
<ellipse cx="199.0" cy="1811.2" rx="8.0" ry="7.4" fill="none" stroke="#c07fa6" stroke-width="3.8"/>
<ellipse cx="199.0" cy="1811.2" rx="8.0" ry="7.4" fill="none" stroke="#efb8d8" stroke-width="2.4"/>
<ellipse cx="201.0" cy="1812.8" rx="8.0" ry="7.4" fill="none" stroke="#c07fa6" stroke-width="3.8"/>
<ellipse cx="201.0" cy="1812.8" rx="8.0" ry="7.4" fill="none" stroke="#efb8d8" stroke-width="2.4"/>
<path id="h89" d="M352 3663l-3 3-3 4-3 3 2 0 4-3 4-2 4-2 4-2 5-1 4 0 4 2-1 5-1 4-3 4-2 4-3 3-3 4-3 3 4-2 3-2 5-2 4-2 4-2 4-1 5 1 2 3 0 5-2 4-3 4-3 3-3 4-3 3-1 2 4-2 4-2 4-2 4-2 4-1 5-1 4 1 1 5-1 4-2 4-3 4-3 3-3 4-3 3 0 1 4-3 4-2 4-2 5-1 4-1 5-1 4 2 0 5" fill="none" transform="scale(.5)"/>
<use href="#h89" stroke="#c07fa6" stroke-width="12.2"/>
<use href="#h89" stroke="#efb8d8" stroke-width="9.2"/>
<path id="h90" d="M267 3813l-3 4-3 3-3 4-1 2 4-3 3-2 4-3 4-2 4-3 4-1 5-1 4 1 2 3-1 5-1 4-2 4-3 4-3 4-2 4-3 3-1 1 4-3 4-3 4-2 4-2 4-2 5-1 4 0 4 1 1 5-1 4-2 4-3 4-3 3-3 4-3 3-4 2-1 1 4-2 5-2 4-1 4-1 5-1 5 0 4 1 4 2 0 5-3 4-3 3-3 3-4 3-4 2-4 3-4 2 5-1 4-1 5-1 4 0 5 0 5 0 4 1 3 4-1 4-3 3-4 4-3 2" fill="none" transform="scale(.5)"/>
<use href="#h90" stroke="#c07fa6" stroke-width="12.2"/>
<use href="#h90" stroke="#efb8d8" stroke-width="9.2"/>
<path id="h91" d="M260 3860l-1 3-1 3-1 2-1 3-1 3-1 3-1 3-1 3-1 2-1 3 0 3 0 3 0 3 0 3 1 3 2 2 2 3 2 2 3 2 2 1 3 2 2 1 3 1 3 1 3 1 3 1 3 0 3 0 3 0 3-1 3 0 3-1 2-1 3-1 3-1 3-1 3-1 3-1 2-1 3-1" fill="none" transform="scale(.5)"/>
<use href="#h91" stroke="#c07fa6" stroke-width="6.4"/>
<use href="#h91" stroke="#efb8d8" stroke-width="4"/>
<path id="h92" d="M338 3770l-2 4-3 4-3 4 2-1 4-3 4-2 4-3 4-2 4-1 4-1 4 2 0 5-1 4-2 4-2 4-3 4-3 4-2 4 3-3 4-2 4-3 4-2 4-2 4-2 5 0 3 4-1 4-2 4-2 4-2 4-3 4-2 4-1 2 3-3 4-2 4-3 4-2 4-2 5-1 4 1 1 4-1 4-1 5-2 4-3 4-2 3-3 4 4-2 4-3 4-2 4-3 4-1 5-1 4 2 0 4-1 4-2 5-2 4-3 3-2 4-3 4-1 1" fill="none" transform="scale(.5)"/>
<use href="#h92" stroke="#7dbfc8" stroke-width="12.2"/>
<use href="#h92" stroke="#bfe9ee" stroke-width="9.2"/>
<path id="h93" d="M517 3488l-4 2-4 2-4 2-3 1 4 0 5-1 5 0 4 0 5 0 4 1 5 1 3 3 0 4-2 4-4 3-4 3-4 2-4 2-4 2-4 2-2 1 5 0 4-1 5 0 4 0 5 0 4 1 5 1 3 3 0 4-3 4-3 3-4 3-4 2-4 2-4 2-4 2-1 2 4-1 5 0 5-1 4 0 5 0 4 1 5 1 3 3 0 4-3 4-3 3-4 3-4 2-4 3-4 2-4 2 1 1 4-1 5 0 4-1 5-1 4 0 5 0 4 1 4 3-1 4-2 4-3 4-4 3-3 3-4 2-4 3-4 2 1 1 5-1 4-2 5-1 4 0 5-1 5 0 4 1 3 3 0 5-3 4-3 3-3 3-4 3-3 3-4 3-4 2 2 0 4-1 5-1 4-1 5-1 4-1 5 0 4 1 3 3 0 5-3 4-3 3-3 3-3 3-4 3-4 3-4 3 3-1 4-1 5-1 4-1 5-1 1 0" fill="none" transform="scale(.5)"/>
<use href="#h93" stroke="#c9bf6a" stroke-width="12.2"/>
<use href="#h93" stroke="#f7f2a8" stroke-width="9.2"/>
<path id="h94" d="M570 3670l2 2 3 1 3 2 2 2 3 1 2 2 3 2 2 1 2 2 3 2 2 2 3 1 2 2 2 2 2 2 2 2 3 3 1 2 2 2 2 3 2 2 1 3 2 2 2 3 1 2 2 3 1 3 2 2 1 3 2 2 1 3 1 3 2 2 1 3 1 3 2 2 1 3 1 3 2 2 1 3 2 3 1 2 1 3 2 3 1 2 1 3 1 3 2 3 1 3 1 2 0 3 1 3 0 3 1 3 0 3 0 3 0 3 0 3 0 3-1 3 0 3-1 3 0 3-1 3 0 3-1 3-1 3 0 3-1 3-1 2-1 3 0 3-1 3-1 3 0 2" fill="none" transform="scale(.5)"/>
<use href="#h94" stroke="#c9bf6a" stroke-width="6.4"/>
<use href="#h94" stroke="#f7f2a8" stroke-width="4"/>
<ellipse cx="324.0" cy="1929.2" rx="7.0" ry="6.4" fill="none" stroke="#c9bf6a" stroke-width="3.8"/>
<ellipse cx="324.0" cy="1929.2" rx="7.0" ry="6.4" fill="none" stroke="#f7f2a8" stroke-width="2.4"/>
<ellipse cx="326.0" cy="1930.8" rx="7.0" ry="6.4" fill="none" stroke="#c9bf6a" stroke-width="3.8"/>
<ellipse cx="326.0" cy="1930.8" rx="7.0" ry="6.4" fill="none" stroke="#f7f2a8" stroke-width="2.4"/>
<path id="h95" d="M526 3663l-4 3-4 3-4 2-2 2 4-2 5-1 4-1 5-1 4-1 5 0 4 1 4 2 1 4-3 4-3 4-3 3-4 3-3 3-4 2-4 2 0 1 4-1 5-2 4-1 5 0 4-1 5 0 4 1 4 3-1 4-2 4-4 3-3 3-4 3-3 3-4 2-4 3 2-1 4-1 4-1 5-1 4-1 5 0 5 0 4 1 2 4-1 4-3 4-3 3-3 3-4 2-4 3-4 2-4 3 4-1 5-2 4-1 5-1 4 0 5 0 4 0 4 2 2 4-2 4-3 4-4 3-3 2-4 3-4 2-4 3-3 1 5-1 4-1 5-1 4-1 5 0 5 0 4 1 4 2 0 4-2 4-3 3-4 3-3 3-4 3-4 2-4 2-1 1 5-1 4-1 5-1 4-1 5 0 5 0 4 1 3 3-1 5-2 3-4 4-3 3-4 2-4 3-4 2-4 2 2 0 4-1 5-1 4-1 5 0 4-1 5 1 4 0" fill="none" transform="scale(.5)"/>
<use href="#h95" stroke="#7c7cb4" stroke-width="12.2"/>
<use href="#h95" stroke="#bcbce6" stroke-width="9.2"/>
<path id="h96" d="M477 3488l-4 2-4 2-5 2-2 1 4 0 5-1 5 0 4 0 5 0 4 1 5 1 3 3 1 4-3 4-4 3-3 3-4 2-4 2-5 2-4 2-2 1 5 0 4-1 5 0 4 0 5 0 5 1 4 1 3 3 0 4-2 4-4 3-4 3-3 2-5 2-4 2-4 2-1 1 4 0 5-1 4 0 5 0 5 0 4 1 4 1 4 3-1 5-2 3-4 3-3 3-4 2-4 3-4 2-5 2 0 1 4-1 5-1 4 0 5 0 5 0 4 1 4 1 4 3-1 4-3 4-3 3-4 3-4 2-4 3-4 2-4 2 0 1 5-1 4-1 5 0 4 0 5 0 4 1 5 1 3 3-1 4-3 4-3 3-4 3-4 2-4 3-4 2-4 2 5 0 5-1 4 0 5 0 4 0 5 0 4 2 3 3 0 2" fill="none" transform="scale(.5)"/>
<use href="#h96" stroke="#7c7cb4" stroke-width="12.2"/>
<use href="#h96" stroke="#bcbce6" stroke-width="9.2"/>
<path id="h97" d="M359 3884l-5 2-4 1-4 2-3 1 5 0 4 0 5 0 4 0 5 1 4 1 5 1 3 4 0 4-3 3-4 3-4 2-4 2-4 2-4 2-5 1-2 2 5-1 4 0 5 0 4 1 5 0 5 1 4 2 3 3 0 5-3 3-4 3-4 2-4 2-4 2-5 2-4 1-2 1 5 0 4 0 5 0 5 0 4 1 5 1 4 2 3 3-1 4-3 4-3 2-4 3-4 2-5 2-4 1-4 2-1 1 4 0 5 0 4 0 5 0 5 1 4 1 4 1 3 4-1 4-3 3-3 3-4 2-4 2-4 2-5 2-4 2 0 1 4-1 5 0 4 0 5 0 5 1 4 1 4 2 3 3-1 4-3 4-4 2-4 3-4 2-4 2-4 2-4 1 0 1 4 0 5 0 5 0 4 0 5 0 4 1 4 2 3 4-1 4-3 3-4 3-4 2-4 2-4 2-4 2-5 2 1 0 5 0 4 0 5 0 5 0 4 1 5 1 4 2 2 3-1 4-3 4-4 2-4 3-1 1" fill="none" transform="scale(.5)"/>
<use href="#h97" stroke="#c9bf6a" stroke-width="12.2"/>
<use href="#h97" stroke="#f7f2a8" stroke-width="9.2"/>
<path id="h98" d="M822 2022l-2 4-3 4-2 3 4-2 4-3 4-2 4-1 5-2 4 1 3 3-1 5-2 4-2 4-2 4-3 4-1 3 4-3 4-2 4-3 4-1 4-2 5 1 2 3-1 5-1 4-2 4-2 4-2 4 0 3 4-3 3-3 4-3 4-2 4-2 4-1 3 4 0 5-1 4-1 5-2 4-1 5 1 0 3-3 3-3 4-3 3-3 4-2 5 0 2 4 0 4-1 5-1 4-1 5-1 4 1 0 3-3 3-4 4-3 3-3 4-2 5 1 1 0" fill="none" transform="scale(.5)"/>
<use href="#h98" stroke="#caa668" stroke-width="12.2"/>
<use href="#h98" stroke="#f8e2a8" stroke-width="9.2"/>
<path id="h99" d="M860 2200l2 2 2 3 2 2 2 2 2 2 2 2 2 3 2 2 2 2 2 3 2 2 1 2 2 3 2 2 1 3 1 3 1 3 1 3 0 3 0 3 0 3-1 3-1 2 0 3-1 3-1 3-1 3-2 3-1 2-2 3-1 2-2 3-2 2-3 2-2 1-2 2-3 2-3 1-2 1-3 2-3 1-2 2-3 1" fill="none" transform="scale(.5)"/>
<use href="#h99" stroke="#caa668" stroke-width="6.4"/>
<use href="#h99" stroke="#f8e2a8" stroke-width="4"/>
<path id="h100" d="M1153 2082l-3 4-2 4-2 4 1-1 4-3 3-3 4-2 4-3 4-2 5-1 3 2 1 5-1 4-2 4-2 5-2 4-2 4-2 4 3-3 3-3 4-3 4-3 4-2 4-2 4-1 3 3 0 5-1 4-2 5-1 4-2 4-3 4 0 2 3-3 3-3 4-3 4-3 3-3 5-1 4 0 2 4 0 4-1 5-2 4-1 4-2 5-2 4 2-1 3-3 3-4 3-3 3-3 4-3 4-1 5 1 1 4 0 5-1 4-1 5-2 4-1 4-2 5 2-3 3-4 3-3 4-4 3-3 4-2 4-2 4 3 1 4-1 5-1 4-1 5-1 4" fill="none" transform="scale(.5)"/>
<use href="#h100" stroke="#d77a78" stroke-width="12.2"/>
<use href="#h100" stroke="#f6b9b6" stroke-width="9.2"/>
<ellipse cx="619.0" cy="1114.2" rx="8.0" ry="7.4" fill="none" stroke="#d77a78" stroke-width="3.8"/>
<ellipse cx="619.0" cy="1114.2" rx="8.0" ry="7.4" fill="none" stroke="#f6b9b6" stroke-width="2.4"/>
<ellipse cx="621.0" cy="1115.8" rx="8.0" ry="7.4" fill="none" stroke="#d77a78" stroke-width="3.8"/>
<ellipse cx="621.0" cy="1115.8" rx="8.0" ry="7.4" fill="none" stroke="#f6b9b6" stroke-width="2.4"/>
<path id="h101" d="M1091 2243l-3 3-4 3-4 2 2 0 5-1 4-2 4-1 5 0 5 0 4 0 3 4-1 4-3 4-3 3-4 3-3 3-4 3-4 2 4-1 5-1 4-1 5-1 4-1 5 0 4 2 2 4-2 4-3 3-4 4-3 3-4 2-3 3-2 2 4-2 5-1 4-1 5-1 4 0 5 0 4 2 0 4-2 4-3 4-4 3-3 3-4 3-4 2 1 1 4-2 4-1 5-1 5-1 4 0 5 0 3 3-1 5-2 4-4 3-3 3-4 3-3 3-4 2 2 0 5-2 4-1 5-1 4 0 5-1 4 1 3 4-2 4-2 4-4 3-3 3-4 3-3 3-4 2 4-1 5-1 4-2 5 0 4-1 5 0 4 1 1 4-2 5-2 3-4 3-3 3-4 3-4 3-1 2 4-2 4-1 5-1 2-1" fill="none" transform="scale(.5)"/>
<use href="#h101" stroke="#d77a78" stroke-width="12.2"/>
<use href="#h101" stroke="#f6b9b6" stroke-width="9.2"/>
<path id="h102" d="M462 2602l-2 4-3 4-2 3 4-3 4-2 4-3 4-2 4-1 5 0 2 4-1 4-2 4-2 4-2 4-3 4 0 2 4-3 3-3 4-2 5-2 4-1 4 1 1 4-1 5-2 4-2 4-3 4-2 4 1-1 4-2 4-3 4-2 4-2 5 0 3 2 1 4-2 5-2 4-2 4-3 4-2 3 3-2 4-2 3-3 5-2 4-1 4-1 3 3 0 5-2 4-2 4-2 4-3 4-2 3 4-3 4-2 4-3 4-2 5-1 4 0 2 4-1 4-2 5-2 4-2 4-3 3" fill="none" transform="scale(.5)"/>
<use href="#h102" stroke="#7dbfc8" stroke-width="12.2"/>
<use href="#h102" stroke="#bfe9ee" stroke-width="9.2"/>
<path id="h103" d="M603 2681l-2 5-1 4-1 4 3-4 3-4 3-3 3-3 4-3 4-1 4 3 0 4 0 5-1 5-1 4-2 4 1 2 2-4 3-3 3-4 4-3 4-2 4 0 2 3 0 5 0 4-1 5-1 4-1 5 1-1 3-4 3-3 3-4 3-3 4-2 4 1 2 4 0 4 0 5-1 5-1 4-1 5 3-4 2-4 3-4 3-3 3-4 4-2 4 2 1 5 0 4 0 5 0 4-1 5 0 2 3-4 2-4 2-4 3-3 3-3 5-2 3 3 1 4 0 5 0 5 0 4-1 5 1 0 2-4 3-4 2-4 3-4 3-3 5 0 2 4 1 4" fill="none" transform="scale(.5)"/>
<use href="#h103" stroke="#7c7cb4" stroke-width="12.2"/>
<use href="#h103" stroke="#bcbce6" stroke-width="9.2"/>
<path id="h104" d="M482 2843l-3 3-3 4-3 3 2 0 4-3 4-2 4-2 4-2 5-1 4 0 4 2-1 5-1 4-3 4-2 4-3 4-3 3-3 3 3-2 4-2 4-2 5-2 4-2 4-1 5 1 2 4-1 4-2 4-2 4-3 4-3 3-3 3-2 2 4-2 4-2 4-2 5-1 4-1 5-1 4 1 1 5-2 4-2 4-3 3-3 4-3 3-4 3 0 1 4-2 4-2 4-1 5-1 4-1 5 0 4 2 0 5-2 4-3 3-3 4-4 3-3 3-4 3 1 0 5-2 4-1 4-2 5-1 4 0 5 0 3 3-1 5-2 4-3 3-3 3-4 3-1 2" fill="none" transform="scale(.5)"/>
<use href="#h104" stroke="#c07fa6" stroke-width="12.2"/>
<use href="#h104" stroke="#efb8d8" stroke-width="9.2"/>
<path id="h105" d="M1041 2434l-4 2-4 2-4 2-2 2 4-1 5 0 4-1 5 0 5-1 4 1 5 0 3 3 1 4-2 4-3 3-4 3-4 3-3 3-4 2-4 2-3 2 5-1 5-1 4-1 5 0 4 0 5 0 4 1 4 3 0 4-2 4-3 3-4 3-4 3-3 2-4 2-5 2-1 2 4-1 5-1 4 0 5-1 4 0 5 1 4 1 4 3 0 4-2 4-4 3-3 3-4 2-4 3-4 2-5 1-2 2 5-1 5 0 4-1 5 0 4 1 5 0 4 2 4 3 0 4-3 4-4 3-3 2-4 2-5 2-4 2-4 2-2 1 5 0 4 0 5 0 4 0 5 0 5 1 4 2 3 3 0 4-3 4-4 2-4 3-4 2-4 2-4 1-5 2-1 1 4 0 5 0 5 0 4 0 5 1 4 1 4 2 4 3-1 4-3 3-4 3-4 2-4 3-4 1-4 2-5 1-1 1 5 0 4 0 5 0 4 1 5 1 4 1 4 1 3 4 0 4-3 3-4 3-4 2-4 2-5 2-4 1-4 2-1 1 4 0 5 0 4 0 5 1 4 0 5 2 4 2 3 3-1 4-4 4-4 2-4 2-4 2-4 1-5 2-4 1-1 1 5 0 4 0 5 1 4 0 5 1 4 2 4 2 3 4-1 4-4 3-4 2-4 2-4 2-5 1-4 2-4 1-1 0 5 1 4 0 5 1 4 0 5 1 4 2 4 2 3 4-2 4-3 3-4 2-5 2-4 2-4 1-5 2-4 1-2 0" fill="none" transform="scale(.5)"/>
<use href="#h105" stroke="#d77a78" stroke-width="12.2"/>
<use href="#h105" stroke="#f6b9b6" stroke-width="9.2"/>
<path id="h106" d="M1001 2523l-4 2-4 2-5 2 2 1 5 0 4-1 5 0 4 1 5 1 4 1 2 4-1 4-3 3-4 3-4 3-4 2-4 2-5 2 3 0 4 0 5 0 5 0 4 0 5 1 4 2 2 4-2 4-3 3-4 3-4 2-4 2-4 2-4 2 2 0 5 0 4 0 5 0 5 0 4 1 4 2 2 4-2 4-3 3-4 3-4 2-4 2-5 2-4 2 3 0 5 0 5 0 4 0 5 1 4 1 4 2 2 4-3 4-3 3-4 3-4 2-4 2-5 1-4 2 4 0 4 0 5 0 4 1 5 1 4 1 4 3 1 4-2 3-4 3-4 3-4 2-4 1-5 2-4 1 4 1 5 0 4 0 5 1 4 1 5 1 3 3 1 4-3 4-4 2-4 3-4 1-4 2-5 1-4 2 5 0 4 0 5 1 5 1 4 1 4 1 4 3 0 4-3 4-3 2-4 2-5 2-4 2-4 1-4 2 5 0 4 0 5 1 4 0 5 1 4 2 4 3 0 4-3 4-4 2-4 2-5 2-4 2-4 1-4 1" fill="none" transform="scale(.5)"/>
<use href="#h106" stroke="#7fb872" stroke-width="12.2"/>
<use href="#h106" stroke="#c2e6b6" stroke-width="9.2"/>
<path id="h107" d="M913 2772l-2 4-3 4-2 4 1-1 4-3 3-3 4-2 4-3 4-2 5-1 3 2 1 5-1 4-2 5-2 4-2 4-2 4-2 4 3-3 4-3 3-3 4-3 3-3 4-2 5-1 2 3 1 5-1 4-1 5-1 4-1 5-1 4 2 1 2-4 2-4 3-4 2-4 3-4 3-3 4-1 3 4 1 4 1 5 0 5 1 4 0 5 0 4 1-3 1-5 2-4 2-4 2-4 2-4 4-3 4 1 2 4 2 4 1 4 0 5 0 5 0 4 0 3" fill="none" transform="scale(.5)"/>
<use href="#h107" stroke="#c9bf6a" stroke-width="12.2"/>
<use href="#h107" stroke="#f7f2a8" stroke-width="9.2"/>
<path id="h108" d="M787 2698l3 3 4 2 3 4 0-2-2-4-2-4-2-4-2-5-1-4 0-5 2-3 5-1 4 2 4 2 4 3 4 2 3 3 4 3-1-2-2-4-2-4-2-4-2-5-1-4-1-5 3-3 5 0 4 1 4 2 4 3 4 2 4 3 4 2-2-3-3-4-2-4-3-4-2-4-2-4 0-4 3-4 4 0 5 1 4 2 4 2 4 2 4 2 4 2-3-4-3-3-3-4-2-4-2-4-2-4-1-4 4-3 4-1 5 1 4 2 4 2 4 2 4 2 4 1-3-3-3-4-3-3-3-4-2-4-2-4 0-5 3-3 5 0 4 1 4 2 5 2 4 2 4 2 2 1" fill="none" transform="scale(.5)"/>
<use href="#h108" stroke="#7c7cb4" stroke-width="12.2"/>
<use href="#h108" stroke="#bcbce6" stroke-width="9.2"/>
<line x1="433" y1="1075" x2="458" y2="1099" stroke="#4a8ccc" stroke-width="7" stroke-linecap="round"/>
<line x1="440" y1="1094" x2="441" y2="1153" stroke="#4a8ccc" stroke-width="7" stroke-linecap="round"/>
<line x1="489" y1="1090" x2="469" y2="1138" stroke="#4a8ccc" stroke-width="7" stroke-linecap="round"/>
<line x1="445" y1="1155" x2="466" y2="1197" stroke="#4a8ccc" stroke-width="4" stroke-linecap="round"/>
<line x1="466" y1="1077" x2="487" y2="1063" stroke="#e8262a" stroke-width="9" stroke-linecap="round"/>
<line x1="440" y1="1152" x2="440" y2="1195" stroke="#e8262a" stroke-width="10" stroke-linecap="round"/>
<line x1="440" y1="1150" x2="470" y2="1145" stroke="#e8262a" stroke-width="10" stroke-linecap="round"/>
<line x1="432" y1="1196" x2="480" y2="1200" stroke="#e8262a" stroke-width="10" stroke-linecap="round"/>
<line x1="448" y1="1162" x2="478" y2="1195" stroke="#e8262a" stroke-width="10" stroke-linecap="round"/>
<line x1="470" y1="1150" x2="480" y2="1195" stroke="#e8262a" stroke-width="10" stroke-linecap="round"/>
<line x1="455" y1="1150" x2="450" y2="1185" stroke="#e8262a" stroke-width="10" stroke-linecap="round"/>
<line x1="433" y1="1228" x2="470" y2="1207" stroke="#e8262a" stroke-width="10" stroke-linecap="round"/>
<line x1="468" y1="1212" x2="444" y2="1245" stroke="#4a8ccc" stroke-width="8" stroke-linecap="round"/>
<line x1="514" y1="1170" x2="512" y2="1190" stroke="#e8262a" stroke-width="9" stroke-linecap="round"/>
<line x1="352" y1="1374" x2="397" y2="1351" stroke="#e8262a" stroke-width="10" stroke-linecap="round"/>
<line x1="379" y1="1386" x2="394" y2="1356" stroke="#e8262a" stroke-width="10" stroke-linecap="round"/>
<line x1="406" y1="1395" x2="427" y2="1368" stroke="#e8262a" stroke-width="10" stroke-linecap="round"/>
<line x1="427" y1="1362" x2="439" y2="1299" stroke="#e8262a" stroke-width="10" stroke-linecap="round"/>
<line x1="442" y1="1293" x2="478" y2="1341" stroke="#e8262a" stroke-width="10" stroke-linecap="round"/>
<line x1="436" y1="1347" x2="469" y2="1368" stroke="#e8262a" stroke-width="10" stroke-linecap="round"/>
<line x1="430" y1="1404" x2="463" y2="1380" stroke="#e8262a" stroke-width="10" stroke-linecap="round"/>
<line x1="455" y1="1330" x2="445" y2="1380" stroke="#e8262a" stroke-width="10" stroke-linecap="round"/>
<line x1="288" y1="1428" x2="297" y2="1455" stroke="#111111" stroke-width="8" stroke-linecap="round"/>
<line x1="312" y1="1596" x2="322" y2="1620" stroke="#111111" stroke-width="8" stroke-linecap="round"/>
<line x1="326" y1="1618" x2="310" y2="1671" stroke="#111111" stroke-width="8" stroke-linecap="round"/>
<line x1="296" y1="1662" x2="314" y2="1672" stroke="#111111" stroke-width="8" stroke-linecap="round"/>
<line x1="208" y1="1877" x2="247" y2="1884" stroke="#1c3835" stroke-width="9" stroke-linecap="round"/>
<line x1="215" y1="1870" x2="245" y2="1880" stroke="#1c3835" stroke-width="9" stroke-linecap="round"/>
<line x1="253" y1="1886" x2="276" y2="1884" stroke="#1c3835" stroke-width="9" stroke-linecap="round"/>
<line x1="217" y1="1893" x2="244" y2="1889" stroke="#1c3835" stroke-width="9" stroke-linecap="round"/>
<line x1="233" y1="1891" x2="246" y2="1914" stroke="#1c3835" stroke-width="9" stroke-linecap="round"/>
<line x1="208" y1="1938" x2="226" y2="1909" stroke="#1c3835" stroke-width="9" stroke-linecap="round"/>
<line x1="186" y1="1974" x2="211" y2="1970" stroke="#111111" stroke-width="9" stroke-linecap="round"/>
<line x1="322" y1="2329" x2="361" y2="2320" stroke="#111111" stroke-width="10" stroke-linecap="round"/>
<text x="591.0" y="996.7" font-size="36" fill="#000" textLength="80.6" lengthAdjust="spacingAndGlyphs">head</text>
<text x="82.3" y="1441.0" font-size="36" fill="#000" textLength="81" lengthAdjust="spacingAndGlyphs">Joint</text>
<text x="470.6" y="1441.0" font-size="36" fill="#000" textLength="70.4" lengthAdjust="spacingAndGlyphs">bow</text>
<text x="353.0" y="1684.4" font-size="36" fill="#000" textLength="78" lengthAdjust="spacingAndGlyphs">stem</text>
<text x="351.0" y="1948.0" font-size="36" fill="#000" textLength="78.7" lengthAdjust="spacingAndGlyphs">belly</text>
<text x="345.2" y="2135.4" font-size="36" fill="#000" textLength="46.7" lengthAdjust="spacingAndGlyphs">leg</text>
<text x="401.5" y="2291.0" font-size="36" fill="#000" textLength="98.2" lengthAdjust="spacingAndGlyphs">tripod</text>
<rect x="678.5" y="1587.0" width="43.5" height="46.2" fill="#d3ecf5" stroke="#111" stroke-width="1.8"/>
<line x1="673" y1="1610.1" x2="678.5" y2="1610.1" stroke="#111" stroke-width="1.5"/>
<text x="666.0" y="1624.1" font-size="32" fill="#000" text-anchor="end" textLength="88.4" lengthAdjust="spacingAndGlyphs">AUG1</text>
<rect x="678.5" y="1633.2" width="43.5" height="46.2" fill="#dc9ec8" stroke="#111" stroke-width="1.8"/>
<line x1="673" y1="1656.3" x2="678.5" y2="1656.3" stroke="#111" stroke-width="1.5"/>
<text x="666.0" y="1670.3" font-size="32" fill="#000" text-anchor="end" textLength="88.4" lengthAdjust="spacingAndGlyphs">AUG2</text>
<rect x="678.5" y="1679.4" width="43.5" height="46.2" fill="#f8f098" stroke="#111" stroke-width="1.8"/>
<line x1="673" y1="1702.6" x2="678.5" y2="1702.6" stroke="#111" stroke-width="1.5"/>
<text x="666.0" y="1716.6" font-size="32" fill="#000" text-anchor="end" textLength="88.4" lengthAdjust="spacingAndGlyphs">AUG3</text>
<rect x="678.5" y="1725.7" width="43.5" height="46.2" fill="#e46aa8" stroke="#111" stroke-width="1.8"/>
<line x1="673" y1="1748.8" x2="678.5" y2="1748.8" stroke="#111" stroke-width="1.5"/>
<text x="666.0" y="1762.8" font-size="32" fill="#000" text-anchor="end" textLength="88.4" lengthAdjust="spacingAndGlyphs">AUG4</text>
<rect x="678.5" y="1771.9" width="43.5" height="46.2" fill="#9896cb" stroke="#111" stroke-width="1.8"/>
<line x1="673" y1="1795.0" x2="678.5" y2="1795.0" stroke="#111" stroke-width="1.5"/>
<text x="666.0" y="1809.0" font-size="32" fill="#000" text-anchor="end" textLength="88.4" lengthAdjust="spacingAndGlyphs">AUG5</text>
<rect x="678.5" y="1818.1" width="43.5" height="46.2" fill="#ee6464" stroke="#111" stroke-width="1.8"/>
<line x1="673" y1="1841.2" x2="678.5" y2="1841.2" stroke="#111" stroke-width="1.5"/>
<text x="666.0" y="1855.2" font-size="32" fill="#000" text-anchor="end" textLength="88.4" lengthAdjust="spacingAndGlyphs">AUG6</text>
<rect x="678.5" y="1864.3" width="43.5" height="46.2" fill="#fccb66" stroke="#111" stroke-width="1.8"/>
<line x1="673" y1="1887.4" x2="678.5" y2="1887.4" stroke="#111" stroke-width="1.5"/>
<text x="666.0" y="1901.4" font-size="32" fill="#000" text-anchor="end" textLength="88.4" lengthAdjust="spacingAndGlyphs">AUG7</text>
<rect x="678.5" y="1910.6" width="43.5" height="46.2" fill="#98cf98" stroke="#111" stroke-width="1.8"/>
<line x1="673" y1="1933.7" x2="678.5" y2="1933.7" stroke="#111" stroke-width="1.5"/>
<text x="666.0" y="1947.7" font-size="32" fill="#000" text-anchor="end" textLength="88.4" lengthAdjust="spacingAndGlyphs">AUG8</text>
<rect x="678.5" y="1956.8" width="43.5" height="46.2" fill="#6699cc" stroke="#111" stroke-width="1.8"/>
<line x1="673" y1="1979.9" x2="678.5" y2="1979.9" stroke="#111" stroke-width="1.5"/>
<text x="666.0" y="1993.9" font-size="32" fill="#000" text-anchor="end" textLength="121.7" lengthAdjust="spacingAndGlyphs">β-barrel</text>
<text x="578.6" y="2280.5" font-size="31.3" fill="#111" textLength="173.4" lengthAdjust="spacingAndGlyphs">Significance</text>
<rect x="576.5" y="2305.2" width="39.7" height="17.6" fill="#e63c3c" stroke="#1b2a52" stroke-width="3.4"/>
<text x="627.5" y="2321.0" font-size="28" fill="#111">High</text>
<rect x="576.5" y="2339.7" width="39.7" height="17.6" fill="#3a94c4" stroke="#1b2a52" stroke-width="3.4"/>
<text x="627.5" y="2357.0" font-size="28" fill="#111">Moderate</text>
<rect x="576.5" y="2376.7" width="39.7" height="17.6" fill="#0b0d0b" stroke="#1b2a52" stroke-width="3.4"/>
<text x="627.5" y="2395.5" font-size="28" fill="#111">Low</text>
<text x="1.8" y="955.7" font-size="51.7" fill="#000" textLength="30" lengthAdjust="spacingAndGlyphs">C</text>
<text x="107.0" y="947.8" font-size="31.8" fill="#000" textLength="473" lengthAdjust="spacingAndGlyphs">Coevolving Residues pairs (DCA)</text>
<path d="M1107.00,1058.54A400.5,400.5 0 0 1 1555.95,1048.35L1534.29,1081.98A360.5,360.5 0 0 0 1130.17,1091.15Z" fill="#f7f29b" stroke="#111" stroke-width="1.4" stroke-linejoin="miter"/>
<path d="M1579.86,1065.02A400.5,400.5 0 0 1 1662.81,1149.31L1630.47,1172.85A360.5,360.5 0 0 0 1555.80,1096.98Z" fill="#cb96c9" stroke="#111" stroke-width="1.4" stroke-linejoin="miter"/>
<path d="M1678.64,1172.77A400.5,400.5 0 0 1 1739.50,1385.00L1699.50,1385.00A360.5,360.5 0 0 0 1644.72,1193.96Z" fill="#d3e9f4" stroke="#111" stroke-width="1.4" stroke-linejoin="miter"/>
<path d="M1738.80,1408.75A400.5,400.5 0 0 1 1710.07,1535.68L1673.01,1520.63A360.5,360.5 0 0 0 1698.87,1406.38Z" fill="#99cc99" stroke="#111" stroke-width="1.4" stroke-linejoin="miter"/>
<path d="M1698.97,1560.57A400.5,400.5 0 0 1 1551.23,1724.64L1530.04,1690.72A360.5,360.5 0 0 0 1663.02,1543.03Z" fill="#fdcc6a" stroke="#111" stroke-width="1.4" stroke-linejoin="miter"/>
<path d="M1529.49,1737.30A400.5,400.5 0 0 1 1273.59,1780.12L1280.12,1740.66A360.5,360.5 0 0 0 1510.46,1702.11Z" fill="#ee6666" stroke="#111" stroke-width="1.4" stroke-linejoin="miter"/>
<path d="M1248.91,1775.24A400.5,400.5 0 0 1 940.28,1347.31L980.10,1351.07A360.5,360.5 0 0 0 1257.91,1736.26Z" fill="#9a98cc" stroke="#111" stroke-width="1.4" stroke-linejoin="miter"/>
<path d="M943.00,1325.11A400.5,400.5 0 0 1 1085.87,1074.63L1111.15,1105.63A360.5,360.5 0 0 0 982.55,1331.09Z" fill="#cc6699" stroke="#111" stroke-width="1.4" stroke-linejoin="miter"/>
<line x1="1553.2" y1="1052.6" x2="1558.7" y2="1044.2" stroke="#111" stroke-width="1.3"/>
<line x1="1520.2" y1="1033.4" x2="1524.8" y2="1024.5" stroke="#111" stroke-width="1.3"/>
<line x1="1485.4" y1="1017.6" x2="1489.1" y2="1008.3" stroke="#111" stroke-width="1.3"/>
<line x1="1449.3" y1="1005.2" x2="1452.1" y2="995.6" stroke="#111" stroke-width="1.3"/>
<line x1="1412.1" y1="996.3" x2="1414.0" y2="986.5" stroke="#111" stroke-width="1.3"/>
<line x1="1374.3" y1="991.1" x2="1375.2" y2="981.1" stroke="#111" stroke-width="1.3"/>
<line x1="1336.1" y1="989.5" x2="1336.1" y2="979.5" stroke="#111" stroke-width="1.3"/>
<line x1="1298.0" y1="991.6" x2="1297.0" y2="981.7" stroke="#111" stroke-width="1.3"/>
<line x1="1260.2" y1="997.4" x2="1258.3" y2="987.6" stroke="#111" stroke-width="1.3"/>
<line x1="1223.2" y1="1006.8" x2="1220.3" y2="997.3" stroke="#111" stroke-width="1.3"/>
<line x1="1187.3" y1="1019.8" x2="1183.4" y2="1010.5" stroke="#111" stroke-width="1.3"/>
<line x1="1152.8" y1="1036.1" x2="1148.0" y2="1027.3" stroke="#111" stroke-width="1.3"/>
<line x1="1120.0" y1="1055.7" x2="1114.4" y2="1047.4" stroke="#111" stroke-width="1.3"/>
<line x1="1107.6" y1="1059.4" x2="1103.5" y2="1053.7" stroke="#111" stroke-width="1.5"/>
<line x1="1555.4" y1="1049.2" x2="1559.2" y2="1043.3" stroke="#111" stroke-width="1.5"/>
<line x1="1634.4" y1="1122.0" x2="1641.9" y2="1115.4" stroke="#111" stroke-width="1.3"/>
<line x1="1607.2" y1="1094.4" x2="1614.0" y2="1087.0" stroke="#111" stroke-width="1.3"/>
<line x1="1576.9" y1="1069.0" x2="1582.9" y2="1061.0" stroke="#111" stroke-width="1.3"/>
<line x1="1579.3" y1="1065.8" x2="1583.5" y2="1060.2" stroke="#111" stroke-width="1.5"/>
<line x1="1662.0" y1="1149.9" x2="1667.7" y2="1145.8" stroke="#111" stroke-width="1.5"/>
<line x1="1732.5" y1="1345.5" x2="1742.5" y2="1344.5" stroke="#111" stroke-width="1.3"/>
<line x1="1726.6" y1="1306.4" x2="1736.4" y2="1304.4" stroke="#111" stroke-width="1.3"/>
<line x1="1716.8" y1="1268.0" x2="1726.4" y2="1265.1" stroke="#111" stroke-width="1.3"/>
<line x1="1703.2" y1="1230.9" x2="1712.4" y2="1227.0" stroke="#111" stroke-width="1.3"/>
<line x1="1686.0" y1="1195.2" x2="1694.8" y2="1190.4" stroke="#111" stroke-width="1.3"/>
<line x1="1677.8" y1="1173.3" x2="1683.7" y2="1169.6" stroke="#111" stroke-width="1.5"/>
<line x1="1738.5" y1="1385.0" x2="1745.5" y2="1385.0" stroke="#111" stroke-width="1.5"/>
<line x1="1718.4" y1="1496.7" x2="1728.0" y2="1499.5" stroke="#111" stroke-width="1.3"/>
<line x1="1727.6" y1="1458.4" x2="1737.5" y2="1460.3" stroke="#111" stroke-width="1.3"/>
<line x1="1733.0" y1="1419.4" x2="1743.0" y2="1420.3" stroke="#111" stroke-width="1.3"/>
<line x1="1737.8" y1="1408.7" x2="1744.8" y2="1409.1" stroke="#111" stroke-width="1.5"/>
<line x1="1709.1" y1="1535.3" x2="1715.6" y2="1537.9" stroke="#111" stroke-width="1.5"/>
<line x1="1581.5" y1="1697.4" x2="1587.6" y2="1705.3" stroke="#111" stroke-width="1.3"/>
<line x1="1611.9" y1="1671.2" x2="1618.8" y2="1678.5" stroke="#111" stroke-width="1.3"/>
<line x1="1639.5" y1="1642.1" x2="1647.1" y2="1648.6" stroke="#111" stroke-width="1.3"/>
<line x1="1664.1" y1="1610.3" x2="1672.3" y2="1616.0" stroke="#111" stroke-width="1.3"/>
<line x1="1685.2" y1="1576.2" x2="1694.0" y2="1581.0" stroke="#111" stroke-width="1.3"/>
<line x1="1698.1" y1="1560.1" x2="1704.4" y2="1563.2" stroke="#111" stroke-width="1.5"/>
<line x1="1550.7" y1="1723.8" x2="1554.4" y2="1729.7" stroke="#111" stroke-width="1.5"/>
<line x1="1314.0" y1="1779.7" x2="1313.4" y2="1789.7" stroke="#111" stroke-width="1.3"/>
<line x1="1353.9" y1="1780.2" x2="1354.3" y2="1790.2" stroke="#111" stroke-width="1.3"/>
<line x1="1393.6" y1="1776.7" x2="1395.0" y2="1786.6" stroke="#111" stroke-width="1.3"/>
<line x1="1432.8" y1="1769.2" x2="1435.2" y2="1778.9" stroke="#111" stroke-width="1.3"/>
<line x1="1471.0" y1="1757.8" x2="1474.4" y2="1767.2" stroke="#111" stroke-width="1.3"/>
<line x1="1507.9" y1="1742.6" x2="1512.2" y2="1751.7" stroke="#111" stroke-width="1.3"/>
<line x1="1529.0" y1="1736.4" x2="1532.3" y2="1742.6" stroke="#111" stroke-width="1.5"/>
<line x1="1273.8" y1="1779.1" x2="1272.6" y2="1786.0" stroke="#111" stroke-width="1.5"/>
<line x1="943.5" y1="1385.8" x2="933.5" y2="1385.9" stroke="#111" stroke-width="1.3"/>
<line x1="945.4" y1="1423.9" x2="935.5" y2="1424.9" stroke="#111" stroke-width="1.3"/>
<line x1="951.0" y1="1461.6" x2="941.2" y2="1463.5" stroke="#111" stroke-width="1.3"/>
<line x1="960.2" y1="1498.6" x2="950.6" y2="1501.5" stroke="#111" stroke-width="1.3"/>
<line x1="972.9" y1="1534.5" x2="963.6" y2="1538.3" stroke="#111" stroke-width="1.3"/>
<line x1="988.9" y1="1569.1" x2="980.1" y2="1573.7" stroke="#111" stroke-width="1.3"/>
<line x1="1008.3" y1="1601.9" x2="999.9" y2="1607.4" stroke="#111" stroke-width="1.3"/>
<line x1="1030.7" y1="1632.7" x2="1022.9" y2="1639.0" stroke="#111" stroke-width="1.3"/>
<line x1="1056.0" y1="1661.2" x2="1048.8" y2="1668.2" stroke="#111" stroke-width="1.3"/>
<line x1="1083.9" y1="1687.2" x2="1077.4" y2="1694.8" stroke="#111" stroke-width="1.3"/>
<line x1="1114.1" y1="1710.4" x2="1108.5" y2="1718.6" stroke="#111" stroke-width="1.3"/>
<line x1="1146.5" y1="1730.5" x2="1141.6" y2="1739.2" stroke="#111" stroke-width="1.3"/>
<line x1="1180.6" y1="1747.4" x2="1176.6" y2="1756.6" stroke="#111" stroke-width="1.3"/>
<line x1="1216.3" y1="1761.0" x2="1213.1" y2="1770.5" stroke="#111" stroke-width="1.3"/>
<line x1="1249.1" y1="1774.3" x2="1247.6" y2="1781.1" stroke="#111" stroke-width="1.5"/>
<line x1="941.3" y1="1347.4" x2="934.3" y2="1346.7" stroke="#111" stroke-width="1.5"/>
<line x1="1059.2" y1="1105.5" x2="1052.1" y2="1098.4" stroke="#111" stroke-width="1.3"/>
<line x1="1032.3" y1="1135.3" x2="1024.5" y2="1129.0" stroke="#111" stroke-width="1.3"/>
<line x1="1008.5" y1="1167.8" x2="1000.1" y2="1162.3" stroke="#111" stroke-width="1.3"/>
<line x1="988.1" y1="1202.5" x2="979.3" y2="1197.9" stroke="#111" stroke-width="1.3"/>
<line x1="971.4" y1="1239.0" x2="962.1" y2="1235.4" stroke="#111" stroke-width="1.3"/>
<line x1="958.5" y1="1277.1" x2="948.9" y2="1274.4" stroke="#111" stroke-width="1.3"/>
<line x1="949.5" y1="1316.3" x2="939.7" y2="1314.6" stroke="#111" stroke-width="1.3"/>
<line x1="944.0" y1="1325.3" x2="937.1" y2="1324.2" stroke="#111" stroke-width="1.5"/>
<line x1="1086.5" y1="1075.4" x2="1082.1" y2="1070.0" stroke="#111" stroke-width="1.5"/>
<text x="1493.6" y="1001.2" font-size="11.5" fill="#111" text-anchor="middle" font-family="'DejaVu Sans', 'Liberation Sans', sans-serif">101</text>
<text x="1416.2" y="978.7" font-size="11.5" fill="#111" text-anchor="middle" font-family="'DejaVu Sans', 'Liberation Sans', sans-serif">201</text>
<text x="1336.0" y="971.5" font-size="11.5" fill="#111" text-anchor="middle" font-family="'DejaVu Sans', 'Liberation Sans', sans-serif">301</text>
<text x="1255.9" y="979.9" font-size="11.5" fill="#111" text-anchor="middle" font-family="'DejaVu Sans', 'Liberation Sans', sans-serif">401</text>
<text x="1178.8" y="1003.4" font-size="11.5" fill="#111" text-anchor="middle" font-family="'DejaVu Sans', 'Liberation Sans', sans-serif">501</text>
<text x="1107.8" y="1041.4" font-size="11.5" fill="#111" text-anchor="middle" font-family="'DejaVu Sans', 'Liberation Sans', sans-serif">601</text>
<text x="1622.2" y="1082.2" font-size="11.5" fill="#111" text-anchor="middle" font-family="'DejaVu Sans', 'Liberation Sans', sans-serif">122</text>
<text x="1748.2" y="1306.0" font-size="11.5" fill="#111" text-anchor="middle" font-family="'DejaVu Sans', 'Liberation Sans', sans-serif">119</text>
<text x="1723.5" y="1226.3" font-size="11.5" fill="#111" text-anchor="middle" font-family="'DejaVu Sans', 'Liberation Sans', sans-serif">219</text>
<text x="1749.2" y="1466.5" font-size="11.5" fill="#111" text-anchor="middle" font-family="'DejaVu Sans', 'Liberation Sans', sans-serif">529</text>
<text x="1627.1" y="1691.2" font-size="11.5" fill="#111" text-anchor="middle" font-family="'DejaVu Sans', 'Liberation Sans', sans-serif">101</text>
<text x="1682.1" y="1626.8" font-size="11.5" fill="#111" text-anchor="middle" font-family="'DejaVu Sans', 'Liberation Sans', sans-serif">201</text>
<text x="1354.7" y="1806.2" font-size="11.5" fill="#111" text-anchor="middle" font-family="'DejaVu Sans', 'Liberation Sans', sans-serif">101</text>
<text x="1438.0" y="1794.6" font-size="11.5" fill="#111" text-anchor="middle" font-family="'DejaVu Sans', 'Liberation Sans', sans-serif">201</text>
<text x="1517.3" y="1766.5" font-size="11.5" fill="#111" text-anchor="middle" font-family="'DejaVu Sans', 'Liberation Sans', sans-serif">301</text>
<text x="923.5" y="1430.1" font-size="11.5" fill="#111" text-anchor="middle" font-family="'DejaVu Sans', 'Liberation Sans', sans-serif">101</text>
<text x="939.1" y="1508.9" font-size="11.5" fill="#111" text-anchor="middle" font-family="'DejaVu Sans', 'Liberation Sans', sans-serif">201</text>
<text x="969.5" y="1583.3" font-size="11.5" fill="#111" text-anchor="middle" font-family="'DejaVu Sans', 'Liberation Sans', sans-serif">301</text>
<text x="1013.5" y="1650.5" font-size="11.5" fill="#111" text-anchor="middle" font-family="'DejaVu Sans', 'Liberation Sans', sans-serif">401</text>
<text x="1069.7" y="1708.0" font-size="11.5" fill="#111" text-anchor="middle" font-family="'DejaVu Sans', 'Liberation Sans', sans-serif">501</text>
<text x="1135.8" y="1753.7" font-size="11.5" fill="#111" text-anchor="middle" font-family="'DejaVu Sans', 'Liberation Sans', sans-serif">601</text>
<text x="1209.4" y="1785.9" font-size="11.5" fill="#111" text-anchor="middle" font-family="'DejaVu Sans', 'Liberation Sans', sans-serif">701</text>
<text x="1015.2" y="1125.5" font-size="11.5" fill="#111" text-anchor="middle" font-family="'DejaVu Sans', 'Liberation Sans', sans-serif">106</text>
<text x="968.6" y="1196.3" font-size="11.5" fill="#111" text-anchor="middle" font-family="'DejaVu Sans', 'Liberation Sans', sans-serif">206</text>
<text x="937.3" y="1275.1" font-size="11.5" fill="#111" text-anchor="middle" font-family="'DejaVu Sans', 'Liberation Sans', sans-serif">306</text>
<text x="1563.0" y="1036.8" font-size="13.4" fill="#111" font-weight="bold" font-family="'DejaVu Sans', 'Liberation Sans', sans-serif">1</text>
<text x="1077.0" y="1052.0" font-size="13.4" fill="#111" font-weight="bold" font-family="'DejaVu Sans', 'Liberation Sans', sans-serif">617</text>
<text x="1575.0" y="1052.2" font-size="13.4" fill="#111" font-weight="bold" font-family="'DejaVu Sans', 'Liberation Sans', sans-serif">173</text>
<text x="1669.0" y="1143.0" font-size="13.4" fill="#111" font-weight="bold" font-family="'DejaVu Sans', 'Liberation Sans', sans-serif">22</text>
<text x="1679.0" y="1164.8" font-size="13.4" fill="#111" font-weight="bold" font-family="'DejaVu Sans', 'Liberation Sans', sans-serif">298</text>
<text x="1752.0" y="1392.0" font-size="13.4" fill="#111" font-weight="bold" font-family="'DejaVu Sans', 'Liberation Sans', sans-serif">19</text>
<text x="1748.0" y="1415.0" font-size="13.4" fill="#111" font-weight="bold" font-family="'DejaVu Sans', 'Liberation Sans', sans-serif">593</text>
<text x="1716.0" y="1549.5" font-size="13.4" fill="#111" font-weight="bold" font-family="'DejaVu Sans', 'Liberation Sans', sans-serif">429</text>
<text x="1706.0" y="1573.0" font-size="13.4" fill="#111" font-weight="bold" font-family="'DejaVu Sans', 'Liberation Sans', sans-serif">276</text>
<text x="1561.0" y="1742.0" font-size="13.4" fill="#111" font-weight="bold" font-family="'DejaVu Sans', 'Liberation Sans', sans-serif">1</text>
<text x="1532.0" y="1756.0" font-size="13.4" fill="#111" font-weight="bold" font-family="'DejaVu Sans', 'Liberation Sans', sans-serif">328</text>
<text x="1269.0" y="1800.5" font-size="13.4" fill="#111" font-weight="bold" font-family="'DejaVu Sans', 'Liberation Sans', sans-serif">1</text>
<text x="1231.0" y="1796.0" font-size="13.4" fill="#111" font-weight="bold" font-family="'DejaVu Sans', 'Liberation Sans', sans-serif">747</text>
<text x="915.0" y="1353.5" font-size="13.4" fill="#111" font-weight="bold" font-family="'DejaVu Sans', 'Liberation Sans', sans-serif">1</text>
<text x="905.0" y="1327.5" font-size="13.4" fill="#111" font-weight="bold" font-family="'DejaVu Sans', 'Liberation Sans', sans-serif">368</text>
<text x="1072.0" y="1071.0" font-size="13.4" fill="#111" font-weight="bold" font-family="'DejaVu Sans', 'Liberation Sans', sans-serif">6</text>
<text x="1329.5" y="947.7" font-size="21.3" fill="#111" text-anchor="middle" font-weight="bold" font-family="'DejaVu Sans', 'Liberation Sans', sans-serif">AUG3</text>
<text x="1666.0" y="1067.5" font-size="21.3" fill="#111" text-anchor="middle" font-weight="bold" font-family="'DejaVu Sans', 'Liberation Sans', sans-serif">AUG2</text>
<text x="1781.0" y="1263.0" font-size="21.3" fill="#111" text-anchor="middle" font-weight="bold" font-family="'DejaVu Sans', 'Liberation Sans', sans-serif">AUG1</text>
<text x="938.0" y="1162.0" font-size="21.3" fill="#111" text-anchor="middle" font-weight="bold" font-family="'DejaVu Sans', 'Liberation Sans', sans-serif">AUG4</text>
<text x="1788.0" y="1495.0" font-size="21.3" fill="#111" text-anchor="middle" font-weight="bold" font-family="'DejaVu Sans', 'Liberation Sans', sans-serif">AUG8</text>
<text x="957.0" y="1648.0" font-size="21.3" fill="#111" text-anchor="middle" font-weight="bold" font-family="'DejaVu Sans', 'Liberation Sans', sans-serif">AUG5</text>
<text x="1680.0" y="1699.0" font-size="21.3" fill="#111" text-anchor="middle" font-weight="bold" font-family="'DejaVu Sans', 'Liberation Sans', sans-serif">AUG7</text>
<text x="1414.5" y="1826.0" font-size="21.3" fill="#111" text-anchor="middle" font-weight="bold" font-family="'DejaVu Sans', 'Liberation Sans', sans-serif">AUG6</text>
<path d="M1376.6,1026.5Q1339.0,1385.0 1050.3,1600.9" fill="none" stroke="#111" stroke-width="3.6"/>
<path d="M1401.0,1029.9Q1339.0,1385.0 1130.7,1679.2" fill="none" stroke="#111" stroke-width="4.8"/>
<path d="M1401.0,1029.9Q1339.0,1385.0 1130.7,1679.2" fill="none" stroke="#fff" stroke-width="1.2"/>
<path d="M1404.1,1030.4Q1339.0,1385.0 1127.1,1676.7" fill="none" stroke="#111" stroke-width="4.2"/>
<path d="M1404.1,1030.4Q1339.0,1385.0 1127.1,1676.7" fill="none" stroke="#fff" stroke-width="0.6"/>
<path d="M1407.2,1031.0Q1339.0,1385.0 1169.8,1703.3" fill="none" stroke="#111" stroke-width="4.6"/>
<path d="M1407.2,1031.0Q1339.0,1385.0 1169.8,1703.3" fill="none" stroke="#fff" stroke-width="1.0"/>
<path d="M1432.9,1036.9Q1339.0,1385.0 1691.1,1307.6" fill="none" stroke="#111" stroke-width="5.0"/>
<path d="M1432.9,1036.9Q1339.0,1385.0 1691.1,1307.6" fill="none" stroke="#fff" stroke-width="1.4"/>
<path d="M1452.8,1042.9Q1339.0,1385.0 1689.7,1301.5" fill="none" stroke="#111" stroke-width="4.8"/>
<path d="M1452.8,1042.9Q1339.0,1385.0 1689.7,1301.5" fill="none" stroke="#fff" stroke-width="1.2"/>
<path d="M1498.2,1061.5Q1339.0,1385.0 978.7,1395.7" fill="none" stroke="#111" stroke-width="4.9"/>
<path d="M1498.2,1061.5Q1339.0,1385.0 978.7,1395.7" fill="none" stroke="#fff" stroke-width="1.3"/>
<path d="M1688.2,1295.3Q1339.0,1385.0 1192.4,1714.3" fill="none" stroke="#111" stroke-width="4.9"/>
<path d="M1688.2,1295.3Q1339.0,1385.0 1192.4,1714.3" fill="none" stroke="#fff" stroke-width="1.3"/>
<path d="M1696.5,1338.6Q1339.0,1385.0 1172.0,1704.5" fill="none" stroke="#111" stroke-width="4.9"/>
<path d="M1696.5,1338.6Q1339.0,1385.0 1172.0,1704.5" fill="none" stroke="#fff" stroke-width="1.3"/>
<path d="M1585.8,1122.2Q1339.0,1385.0 1592.1,1641.7" fill="none" stroke="#2f5d8c" stroke-width="3.2"/>
<path d="M1585.8,1122.2Q1339.0,1385.0 1592.1,1641.7" fill="none" stroke="#7aa6cf" stroke-width="1.0"/>
<path d="M1590.3,1126.6Q1339.0,1385.0 1595.7,1638.1" fill="none" stroke="#2f5d8c" stroke-width="3.2"/>
<path d="M1590.3,1126.6Q1339.0,1385.0 1595.7,1638.1" fill="none" stroke="#7aa6cf" stroke-width="1.0"/>
<path d="M1595.2,1131.4Q1339.0,1385.0 1599.2,1634.5" fill="none" stroke="#2f5d8c" stroke-width="3.2"/>
<path d="M1595.2,1131.4Q1339.0,1385.0 1599.2,1634.5" fill="none" stroke="#7aa6cf" stroke-width="1.0"/>
<path d="M1624.2,1164.5Q1339.0,1385.0 1611.1,1621.5" fill="none" stroke="#2f5d8c" stroke-width="3.2"/>
<path d="M1624.2,1164.5Q1339.0,1385.0 1611.1,1621.5" fill="none" stroke="#7aa6cf" stroke-width="1.0"/>
<path d="M1622.3,1162.1Q1339.0,1385.0 1617.2,1614.3" fill="none" stroke="#2f5d8c" stroke-width="3.2"/>
<path d="M1622.3,1162.1Q1339.0,1385.0 1617.2,1614.3" fill="none" stroke="#7aa6cf" stroke-width="1.0"/>
<path d="M1609.0,1146.1Q1339.0,1385.0 1623.1,1606.9" fill="none" stroke="#8c1b1e" stroke-width="3.4"/>
<path d="M1609.0,1146.1Q1339.0,1385.0 1623.1,1606.9" fill="none" stroke="#e8232b" stroke-width="1.6"/>
<path d="M1611.1,1148.5Q1339.0,1385.0 1628.8,1599.4" fill="none" stroke="#8c1b1e" stroke-width="3.4"/>
<path d="M1611.1,1148.5Q1339.0,1385.0 1628.8,1599.4" fill="none" stroke="#e8232b" stroke-width="1.6"/>
<path d="M1613.5,1151.4Q1339.0,1385.0 1634.3,1591.8" fill="none" stroke="#8c1b1e" stroke-width="3.4"/>
<path d="M1613.5,1151.4Q1339.0,1385.0 1634.3,1591.8" fill="none" stroke="#e8232b" stroke-width="1.6"/>
<path d="M1615.6,1153.8Q1339.0,1385.0 1637.9,1586.6" fill="none" stroke="#8c1b1e" stroke-width="3.4"/>
<path d="M1615.6,1153.8Q1339.0,1385.0 1637.9,1586.6" fill="none" stroke="#e8232b" stroke-width="1.6"/>
<path d="M1617.6,1156.2Q1339.0,1385.0 1643.0,1578.7" fill="none" stroke="#8c1b1e" stroke-width="3.4"/>
<path d="M1617.6,1156.2Q1339.0,1385.0 1643.0,1578.7" fill="none" stroke="#e8232b" stroke-width="1.6"/>
<path d="M1619.2,1158.1Q1339.0,1385.0 1647.4,1571.7" fill="none" stroke="#8c1b1e" stroke-width="3.4"/>
<path d="M1619.2,1158.1Q1339.0,1385.0 1647.4,1571.7" fill="none" stroke="#e8232b" stroke-width="1.6"/>
<path d="M1692.9,1453.8Q1339.0,1385.0 1609.0,1623.9" fill="none" stroke="#8c1b1e" stroke-width="3.4"/>
<path d="M1692.9,1453.8Q1339.0,1385.0 1609.0,1623.9" fill="none" stroke="#e8232b" stroke-width="1.6"/>
<path d="M1692.1,1457.5Q1339.0,1385.0 1613.1,1619.1" fill="none" stroke="#8c1b1e" stroke-width="3.4"/>
<path d="M1692.1,1457.5Q1339.0,1385.0 1613.1,1619.1" fill="none" stroke="#e8232b" stroke-width="1.6"/>
<path d="M1691.1,1462.4Q1339.0,1385.0 1617.2,1614.3" fill="none" stroke="#8c1b1e" stroke-width="3.4"/>
<path d="M1691.1,1462.4Q1339.0,1385.0 1617.2,1614.3" fill="none" stroke="#e8232b" stroke-width="1.6"/>
<path d="M1689.8,1467.9Q1339.0,1385.0 1623.1,1606.9" fill="none" stroke="#8c1b1e" stroke-width="3.4"/>
<path d="M1689.8,1467.9Q1339.0,1385.0 1623.1,1606.9" fill="none" stroke="#e8232b" stroke-width="1.6"/>
<path d="M1688.5,1473.4Q1339.0,1385.0 1626.9,1602.0" fill="none" stroke="#8c1b1e" stroke-width="3.4"/>
<path d="M1688.5,1473.4Q1339.0,1385.0 1626.9,1602.0" fill="none" stroke="#e8232b" stroke-width="1.6"/>
<path d="M1686.9,1479.5Q1339.0,1385.0 1630.7,1596.9" fill="none" stroke="#8c1b1e" stroke-width="3.4"/>
<path d="M1686.9,1479.5Q1339.0,1385.0 1630.7,1596.9" fill="none" stroke="#e8232b" stroke-width="1.6"/>
<path d="M1684.8,1486.8Q1339.0,1385.0 1636.1,1589.2" fill="none" stroke="#8c1b1e" stroke-width="3.4"/>
<path d="M1684.8,1486.8Q1339.0,1385.0 1636.1,1589.2" fill="none" stroke="#e8232b" stroke-width="1.6"/>
<path d="M1676.0,1513.0Q1339.0,1385.0 1641.3,1581.3" fill="none" stroke="#8c1b1e" stroke-width="3.4"/>
<path d="M1676.0,1513.0Q1339.0,1385.0 1641.3,1581.3" fill="none" stroke="#e8232b" stroke-width="1.6"/>
<path d="M1674.9,1516.0Q1339.0,1385.0 1644.7,1576.0" fill="none" stroke="#8c1b1e" stroke-width="3.4"/>
<path d="M1674.9,1516.0Q1339.0,1385.0 1644.7,1576.0" fill="none" stroke="#e8232b" stroke-width="1.6"/>
<text x="1681.8" y="1750.7" font-size="31.3" fill="#111" textLength="176" lengthAdjust="spacingAndGlyphs">Significance</text>
<rect x="1679.2" y="1773.9" width="39.4" height="17.900000000000002" fill="#e63c3c" stroke="#1b2a52" stroke-width="3.4"/>
<text x="1732.2" y="1790.9" font-size="28" fill="#111">High</text>
<rect x="1679.2" y="1807.9" width="39.4" height="20.200000000000003" fill="#3a94c4" stroke="#1b2a52" stroke-width="3.4"/>
<text x="1732.2" y="1826.9" font-size="28" fill="#111">Moderate</text>
<rect x="1679.2" y="1846.8" width="39.4" height="20.8" fill="#0b0d0b" stroke="#1b2a52" stroke-width="3.4"/>
<text x="1732.2" y="1865.8" font-size="28" fill="#111">Low</text>
<text x="922.0" y="955.0" font-size="49" fill="#000" textLength="34" lengthAdjust="spacingAndGlyphs">D</text>
<ellipse cx="856.0" cy="2073.0" rx="17.0" ry="15.6" fill="none" stroke="#b8ac30" stroke-width="5.4"/>
<ellipse cx="856.0" cy="2073.0" rx="17.0" ry="15.6" fill="none" stroke="#f8f070" stroke-width="4"/>
<ellipse cx="866.0" cy="2075.0" rx="17.0" ry="15.6" fill="none" stroke="#b8ac30" stroke-width="5.4"/>
<ellipse cx="866.0" cy="2075.0" rx="17.0" ry="15.6" fill="none" stroke="#f8f070" stroke-width="4"/>
<ellipse cx="876.0" cy="2077.0" rx="17.0" ry="15.6" fill="none" stroke="#b8ac30" stroke-width="5.4"/>
<ellipse cx="876.0" cy="2077.0" rx="17.0" ry="15.6" fill="none" stroke="#f8f070" stroke-width="4"/>
<path id="h109" d="M1805 4164l-1 4-2 4-2 5-1 4-2 4-1 5 2 2 4-3 3-2 4-3 4-3 4-2 3-3 4-2 4-2 5-2 4-2 4-2 5 0 4 0 5 1 3 3 2 4 1 5 0 4-1 5-1 4-1 5-1 4-1 5-2 4-1 4-2 5-2 4-1 4-1 5 4-1 4-3 4-2 3-3 4-3 4-2 4-3 4-2 4-3 4-2 4-1 4-2 5 0 4 0 5 2 2 3 2 5 0 4 0 5 0 5-1 4-1 5-1 4-1 4-2 5-1 4-2 5-1 4-1 5 2 2 4-2 3-3 4-3 3-3 4-3 4-3 3-3 4-2 4-3 4-2 4-2 5-1 4-1 5 1 3 3 3 4 1 4 0 5 1 4-1 5 0 4-1 5-1 4-1 5-1 4-1 5-1 4-1 5 0 4 3-1 4-3 3-3 4-3 3-3 3-3 4-3 3-3 4-3 4-2 4-3 4-1 5-2 4 0 4 1 4 4 2 4 1 4 0 5 0 4 0 5 0 5-1 4-1 5 0 4-1 5-1 4-1 5-1 4 2 3 4-3 3-3 3-4 4-3 3-3 3-3 4-3 3-3 4-3 4-3 4-2 4-2 4-1 5 0 4 3 3 3 1 5 1 4 1 5 0 4 0 5-1 4 0 5-1 4 0 5-1 5-1 4 0 5-1 4 4-1 3-3 3-3 3-4 4-3 3-3 3-4 3-3 4-3 3-3 4-2 4-3 4-2 5 0 4 1 4 2 2 4 2 5 1 4 0 5 0 4 1 5-1 4 0 5 0 5 0 4-1 5 0 4 0 5 3 2 3-3 3-4 2-3 3-4 3-4 3-3 3-4 2-3 4-4 3-3 3-3 4-3 4-2 5 0 4 1 3 4 3 4 1 4 2 4 1 5 1 4 0 5 1 4 1 5 0 4 0 5 1 5 0 4 2 4 3-3 2-4 2-4 3-4 2-4 2-4 2-4 3-4 3-3 2-4 3-4 4-3 4-2 4-2 5 1 4 2 3 3 2 4 2 4 1 5 2 4 1 4 1 5 0 5 1 4 1 5 0 4 1 5 0 4 3 1 2-3" fill="none" transform="scale(.5)"/>
<use href="#h109" stroke="#b8ac30" stroke-width="21"/>
<use href="#h109" stroke="#f8f070" stroke-width="18"/>
<path id="h110" d="M2280 4400l3 1 3 0 3 1 3 1 3 0 3 1 2 1 3 0 3 1 3 1 3 0 3 1 3 1 3 0 3 1 3 1 3 0 3 1 3 1 2 1 3 0 3 1 3 1 3 1 3 1 3 1 3 1 2 1 3 1 3 1 3 1 3 1 2 1 3 1 3 2 2 1 3 1 3 2 2 1 3 2 3 1 2 1 3 2 3 1 2 2 3 1 2 2 3 1 3 2 2 1 3 2 3 1 2 2 3 1 2 2 3 1 2 2 3 1 3 2 2 1 3 2 2 1 3 2 2 2 3 1 2 2 3 1 3 2 2 1" fill="none" transform="scale(.5)"/>
<use href="#h110" stroke="#b8ac30" stroke-width="7.6"/>
<use href="#h110" stroke="#f8f070" stroke-width="5.2"/>
<ellipse cx="943.0" cy="1998.0" rx="10.0" ry="9.2" fill="none" stroke="#2a2aa8" stroke-width="5.4"/>
<ellipse cx="943.0" cy="1998.0" rx="10.0" ry="9.2" fill="none" stroke="#6a6aee" stroke-width="4"/>
<ellipse cx="945.0" cy="2002.0" rx="10.0" ry="9.2" fill="none" stroke="#2a2aa8" stroke-width="5.4"/>
<ellipse cx="945.0" cy="2002.0" rx="10.0" ry="9.2" fill="none" stroke="#6a6aee" stroke-width="4"/>
<ellipse cx="947.0" cy="2006.0" rx="10.0" ry="9.2" fill="none" stroke="#2a2aa8" stroke-width="5.4"/>
<ellipse cx="947.0" cy="2006.0" rx="10.0" ry="9.2" fill="none" stroke="#6a6aee" stroke-width="4"/>
<path id="h111" d="M1889 4028l-4 3-4 2-4 2-4 2-2 4 4 1 5 0 4 1 5 0 4 1 5 1 4 1 5 2 4 2 3 3 1 5-1 4-2 4-3 3-4 3-4 3-3 3-4 2-4 3-4 3-3 3 1 3 4 0 5 0 5 0 4 0 5 0 4 1 5 0 4 1 4 2 4 3 1 5-1 4-2 4-3 4-3 3-3 3-4 4-3 3-4 2-3 3-4 3 3 2" fill="none" transform="scale(.5)"/>
<use href="#h111" stroke="#2a2aa8" stroke-width="21"/>
<use href="#h111" stroke="#6a6aee" stroke-width="18"/>
<path id="h112" d="M1924 4140l-2 5-2 4-2 4-2 4-2 4-2 4 2 3 4-2 4-3 4-2 4-2 4-2 4-2 4-2 5-2 4-1 4-2 5-1 4 0 5 1 4 1 3 4 2 4 0 5-1 4-1 5-1 4-2 4-1 5-2 4-2 4-3 4-2 4-2 4-3 4-1 4 3 0 4-2 4-2 5-2 4-2 4-2 4-1 5-2 4-1 4-1 5-1 5 0 4 0 4 2 4 2 3 4 0 5 0 4-1 5-2 4-2 4-2 4-2 4-3 4-3 4-2 3-3 4-3 4-3 3-2 4 4 0 4-1 5-2 4-1 4-1 5-1 4-1 5-1 4-1 5 0 5 0 4 0 5 1 4 2 3 3 1 5 0 4-1 5-2 4-2 4-3 4-2 4-3 3-3 4-3 3-3 4-3 3-4 4-3 3 0 3 5 0 4-1 5-1 4-1 5-1 4-1 5-1 4-1 5 0 4 0 5 0 4 1 5 2 4 2 2 4 1 5-1 4-2 5-2 4-3 4-2 3-3 4-3 3-4 3-3 4-3 3-4 3-3 3-3 3 1 3 5-1 4 0 5-1 4-1 5 0 5-1 4 0 5 0 4 0 5 0 4 1 5 1 4 2 3 3 2 4-1 5-1 4-2 4-3 4-2 4-3 4-3 3-3 3-4 4-3 3-3 3-4 3-3 4-2 4 4 0 5 0 4-1 5-1 4-1 5-1 5-1 4-1 5 0 4 0 5 0 4 0 5 1 4 2 3 4 1 4-1 5-1 4-2 4-2 5-3 3-2 4-3 4-3 4-3 3-2 4-3 3-3 4-3 4 2 2 5-1 4-1 4-2 5-1 4-2 5-1 4-1 5-1 4 0 5-1 4 0 5 1 4 1 4 3 2 4 0 4 0 5-2 4-1 4-3 5-2 3-2 4-3 4-3 4-3 3-3 4-2 4-3 3" fill="none" transform="scale(.5)"/>
<use href="#h112" stroke="#2a2aa8" stroke-width="21"/>
<use href="#h112" stroke="#6a6aee" stroke-width="18"/>
<path id="h113" d="M2015 4127l-2 5-1 4-1 5-1 4-1 4 0 5 4-2 3-2 4-3 3-3 4-3 4-3 4-2 3-3 4-2 5-2 4-1 5-1 4 1 4 2 3 3 1 5 1 4-1 5 0 5-1 4-1 5-1 4-1 4-2 5-1 4-2 5-1 4 3 0 4-2 4-3 4-2 3-3 4-2 4-2 4-2 5-2 4-2 4-1 5 0 5 1 4 2 2 3 2 5 0 4-1 5-1 4-1 5-2 4-2 4-2 4-2 4-2 4-3 4-2 4-1 4 5-1 4-2 4-2 4-1 5-2 4-1 4-2 5-1 4-1 5 0 5 0 4 1 4 2 3 4 1 4 0 5-1 4-2 4-2 4-2 4-2 4-3 4-3 4-2 4-3 3-3 4-3 4 4 1 4-1 5-2 4-1 4-1 5-1 4-1 5-1 5 0 4 0 5 0 4 1 4 2 3 3 2 5 0 4-2 5-2 4-2 4-2 4-3 4-3 3-3 4-3 3-4 3-3 3-3 4 0 3 5-1 4 0 5-1 4-1 5 0 5-1 4 0 5 0 4 0 5 1 4 1 4 2 4 4 1 4 0 4-2 5-2 4-2 4-3 3-3 4-3 3-4 3-3 3-4 3-3 4-3 3-2 3 4 1 5-1 4 0 5-1 5 0 4 0 5 0 4 0 5 0 5 1 4 1 4 2 4 3 2 4 0 5-2 4-2 4-3 4-2 3-4 4-3 3-3 3-4 3-3 3-4 3-3 3-4 3 3 2 5 0 5 0 4-1 5 0 4 0 5 0 5 0 4 1 5 1 4 1 4 2 4 2 2 4 0 5-1 4-2 4-3 4-2 4-4 3-3 3-3 3-4 3-3 3-4 3-3 3-4 3 2 3 5 0 4 0 5-1 4 0 5 0 5 0 4 0 5 0 4 1 5 1 4 2 4 2 3 4 0 4-1 5-2 4-2 4-3 3-3 4-3 3-4 3-3 3-3 3-4 3-4 3-3 3 0 3 5 1 4-1 5 0 5 0 4-1 5 0 4 0 5 1 4 0 5 1 4 2 4 2 3 3 1 5 0 4-2 5-2 4-3 3" fill="none" transform="scale(.5)"/>
<use href="#h113" stroke="#2a2aa8" stroke-width="21"/>
<use href="#h113" stroke="#6a6aee" stroke-width="18"/>
<path id="h114" d="M2364 4603l-1 4-1 5-1 4-1 5 0 4 3 1 3-3 4-3 3-3 4-3 3-3 4-2 4-3 4-2 4-2 4-1 5 0 4 2 3 3 1 5 0 4 0 5 0 5 0 4-1 5-1 4-1 5-1 4-1 5 0 4 4-3 4-3 3-3 4-3 3-3 4-2 4-3 4-2 4-3 4-1 5-1 4 1 3 3 2 4 1 5 0 4 0 5 0 5-1 4-1 5-1 4-1 5-1 4 0 5 3 1 3-3 4-3 3-3 3-3 4-3 4-3 3-3 4-2 4-2 5-2 4 0 4 2 3 4 2 4 0 5 0 4 0 5 0 5-1 4-1 5-1 4-1 5-1 4 1 4 4-2 3-3 4-3 3-3 4-3 3-3 4-3 4-2 4-2 5-2 4 0 5 1 3 3 2 4 1 4 0 5 0 5-1 4-1 5-1 4-1 4-2 5-1 4-2 5 2 1 4-2 4-3 4-3 4-2 4-3 4-2 4-2 4-1 4-2 5 0 5 1 3 2 3 4 0 4 0 5 0 5-1 4-2 4-1 5-2 4-2 4-2 4-2 5-1 4 4-1 4-2 4-2 4-3 4-2 4-2 5-2 4-1 4-1 5-1 4 0 5 2 3 3 1 4 0 5-1 4-1 5-1 4-2 5-1 4-2 4-1 2" fill="none" transform="scale(.5)"/>
<use href="#h114" stroke="#2a2aa8" stroke-width="21"/>
<use href="#h114" stroke="#6a6aee" stroke-width="18"/>
<path id="h115" d="M2076 4477l1 5 0 4 1 5 0 4 1 5 1 4 2 1 3-3 2-5 2-4 2-4 2-4 3-4 2-4 3-4 2-3 3-4 3-3 4-3 4-2 5-1 4 1 4 3 2 4 2 4 2 4 2 4 1 5 1 4 0 5 1 4 1 5 0 5 1 4 0 5 2 4 3-2 2-4 2-5 2-4 2-4 2-4 3-4 2-4 3-3 2-4 3-4 4-3 4-2 4-2 4 0 4 2 4 3 2 4 2 4 2 4 1 5 1 4 1 5 1 4 1 5 0 4 1 5 0 4 1 5 2 2 3-4 2-4 2-4 2-4 2-4 2-4 3-4 2-4 3-4 3-3 3-4 3-3 4-2 5-1 4 0 4 3 3 4 2 4 2 4 1 4 2 5 1 4 1 5 0 4 1 5 1 4 0 5 1 4 1 5 3-2 2-4 2-4 2-4 2-4 3-4 2-4 2-4 2-4 3-4 3-4 3-3 4-3 4-2 4 0 4 1 4 3 3 4 2 4 2 4 1 4 1 5 2 4 1 5 1 4 0 5 1 4 1 5 1 4 2 3 3-4 2-4 1-4 2-5 2-4 2-4 2-4 3-4 2-4 3-4 2-3 4-3 3-3 5-2 4 1 4 2 3 3 3 4 2 4 2 5 1 4 2 4 1 5 1 4 1 5 0 4 1 5 1 4 1 5 3-1 2-4 2-5 2-4 2-4 2-4 2-4 2-4 2-4 3-4 2-4 3-3 3-3" fill="none" transform="scale(.5)"/>
<use href="#h115" stroke="#9050c0" stroke-width="21"/>
<use href="#h115" stroke="#d890f8" stroke-width="18"/>
<path id="h116" d="M2405 4502l0 5-1 4 0 5-1 4 0 5 3 0 3-3 3-4 3-3 3-3 4-4 3-3 3-3 4-3 4-2 4-2 5-1 4 2 3 3 2 4 1 4 1 5 0 5 0 4 0 5 0 4 0 5-1 5 0 4 1 4 4-3 3-4 3-3 3-4 3-3 3-3 3-4 4-3 3-3 4-2 5-1 4 0 4 2 2 4 2 4 1 5 1 4 0 5 1 5 0 4 0 5 0 4 0 5 0 5 4-1 3-4 2-4 3-3 2-4 3-4 3-3 3-4 3-3 4-3 4-2 5-1 4 1 3 3 3 4 1 4 1 5 1 4 1 5 0 5 1 4 0 5 0 4 0 5 2 3 3-4 3-4 2-4 3-3 3-4 3-4 3-3 3-3 4-3 3-3 5-1 4 0 4 3 3 3 2 4 1 5 1 4 0 5 0 5 0 4 0 5-1 4 0 5 0 5 3 0 3-3 3-4 3-3 3-4 3-3 3-3 4-3 4-3 4-2 4-2 4 0 5 1 3 3 2 5 1 4 0 5 0 4 0 5 0 5 0 4-1 5 0 4-1 5" fill="none" transform="scale(.5)"/>
<use href="#h116" stroke="#b8ac30" stroke-width="21"/>
<use href="#h116" stroke="#f8f070" stroke-width="18"/>
<ellipse cx="1348.0" cy="2320.0" rx="13.0" ry="12.0" fill="none" stroke="#b8ac30" stroke-width="5.4"/>
<ellipse cx="1348.0" cy="2320.0" rx="13.0" ry="12.0" fill="none" stroke="#f8f070" stroke-width="4"/>
<ellipse cx="1352.0" cy="2330.0" rx="13.0" ry="12.0" fill="none" stroke="#b8ac30" stroke-width="5.4"/>
<ellipse cx="1352.0" cy="2330.0" rx="13.0" ry="12.0" fill="none" stroke="#f8f070" stroke-width="4"/>
<ellipse cx="1356.0" cy="2340.0" rx="13.0" ry="12.0" fill="none" stroke="#b8ac30" stroke-width="5.4"/>
<ellipse cx="1356.0" cy="2340.0" rx="13.0" ry="12.0" fill="none" stroke="#f8f070" stroke-width="4"/>
<path id="h117" d="M2525 4406l-4 2-4 2-5 2-4 2-4 2-4 2 0 3 4 1 5 1 4 0 5 1 4 1 5 1 4 1 5 1 4 2 4 2 4 2 4 2 4 3 2 4 0 5-2 4-2 4-4 3-3 3-4 3-4 2-4 3-4 2-4 2-4 2-4 2-4 1-5 2-3 3 3 2 5 1 4 1 5 0 4 1 5 1 4 1 5 1 4 1 4 2 5 2 4 2 3 3 3 3 2 4-1 5-2 4-3 3-3 4-4 3-3 2-4 3-4 2-4 2-4 2-5 2-4 2-4 2-4 3 0 3 4 1 5 0 4 1 5 0 4 1 5 1 4 1 5 1 4 1 5 2 4 1 4 3 3 3 3 3 0 5-1 4-2 4-3 4-4 3-3 3-4 2-4 3-4 2-4 2-4 2-4 3-4 2-4 2-4 2 3 3 4 0 5 1 4 0 5 1 4 1 5 0 5 1 4 1 4 2 5 1 4 2 4 3 3 3 2 4-1 5-2 4-2 4-3 3-4 3-4 3-3 2-4 3-4 2-4 2-5 2-4 2-4 2-4 2-2 4 4 1 5 0 5 1 4 1 5 0 4 1 5 1 4 1 5 1 4 2 4 2 4 2 4 3 2 3 1 5-1 4-2 4-3 4-3 3-4 3-4 2-4 3-4 2-4 2-4 2-4 2-4 2-4 2-4 3 1 2 5 1 4 1 5 0 4 1 5 1 4 1 5 1 4 1 5 1 4 2 4 2 4 2 3 3 2 5 0 4-1 4-3 4-3 3-4 3-3 3-3 2" fill="none" transform="scale(.5)"/>
<use href="#h117" stroke="#c02828" stroke-width="21"/>
<use href="#h117" stroke="#f26a6a" stroke-width="18"/>
<path id="h118" d="M2584 4784l2 2 2 2 2 3 2 2 2 2 2 3 2 2 2 2 2 2 2 3 2 2 2 2 2 2 2 2 2 2 2 3 3 1 2 2 2 2 3 2 2 2 3 1 2 2 3 1 3 1 3 1 3 1 2 1 3 0 3 1 3 0 3 1 3 0 3 1 3 0 3 1 3 0 3 1 3 0 3 1 3 0 3 1 3 0 3 1 3 1 2 1 3 0 3 1 3 1 3 1 3 0 3 1 3 1 3 1 3 0 2 1 3 1 3 1 3 0 3 1 3 1 3 1 3 0 2 1" fill="none" transform="scale(.5)"/>
<use href="#h118" stroke="#c02828" stroke-width="8.4"/>
<use href="#h118" stroke="#f26a6a" stroke-width="6"/>
<path id="h119" d="M2486 4371l1 4 1 4 2 5 1 4 1 5 2 4 3 1 1-5 2-4 1-4 2-5 1-4 2-4 2-4 2-4 2-4 3-4 3-4 3-3 4-2 4-2 5 1 4 2 3 3 3 4 2 4 2 4 1 5 1 4 1 5 0 4 1 5 0 4 0 5-1 5 0 4 1 1 3-4 2-4 3-3 3-3 4-4 3-3 3-3 4-3 4-3 4-2 4-2 4-1 5-1 4 1 4 2 3 4 1 4 1 5 0 4 0 5-1 5-1 4-1 5-1 4-1 4-2 5-1 4-2 4-1 5 3 1 4-3 3-3 4-3 4-2 3-3 4-3 4-2 4-2 4-2 4-2 5-2 4 0 5 0 4 2 4 3 2 4 0 4 0 5 0 4-1 5-2 4-1 5-2 4-2 4-2 4-2 4-2 4-3 4-2 4 3 1 4-2 4-2 4-2 4-2 5-2 4-2 4-1 5-2 4-1 5-1 4 0 5 0 4 1 4 2 2 3" fill="none" transform="scale(.5)"/>
<use href="#h119" stroke="#c02828" stroke-width="21"/>
<use href="#h119" stroke="#f26a6a" stroke-width="18"/>
<path id="h120" d="M2606 4507l2 4 2 4 3 4 1 4 2 4 3 5 3 0 1-5 0-5 1-4 0-5 1-4 1-5 1-4 1-5 1-4 2-4 2-5 2-4 3-3 4-2 5-1 4 2 4 2 3 3 3 4 3 4 3 3 2 4 2 4 3 4 2 4 2 4 2 4 2 4 3 4 2-4 1-4 0-5 1-4 0-5 1-5 0-4 1-5 1-4 1-5 1-4 2-4 2-4 4-4 4-1 4 0 5 2 3 2 4 3 3 3 3 4 3 4 3 3 2 4 3 4 2 4 3 4 2 3 3 4 3 0 1-5 0-4 0-5 0-5 0-4 0-5 0-4 1-5 0-4 1-5 2-4 1-5 3-3 3-3 5-1 4 0 4 2 4 3 4 3 3 3 3 3 3 4 3 3 3 4 3 4 3 3 2 4 3 4 4 2 1-4 0-4 0-5-1-4 0-5 0-5-1-4 0-5 0-4 1-5 0-4 1-5 2-4 2-4 4-3 5 0 4 1 4 2 4 2 4 3 4 3 3 3 3 3 4 3 3 3 3 4 3 3 3 3 3 4 3-1 0-5-1-4-1-5 0-4-1-5 0-4-1-4" fill="none" transform="scale(.5)"/>
<use href="#h120" stroke="#c02828" stroke-width="21"/>
<use href="#h120" stroke="#f26a6a" stroke-width="18"/>
<path id="h121" d="M2606 4524l1 5 2 4 1 5 1 4 1 5 1 4 3 1 2-5 2-4 1-4 2-5 1-4 2-4 2-4 2-5 2-4 3-3 2-4 4-3 3-3 5-2 4 1 4 2 3 4 3 3 2 4 2 4 2 5 1 4 2 4 1 5 1 4 1 5 1 4 2 5 1 4 3-3 2-4 1-5 2-4 1-4 2-4 2-5 2-4 2-4 2-4 3-4 3-3 3-3 4-3 5 0 4 1 4 3 2 3 3 4 2 4 2 4 2 5 1 4 1 5 2 4 1 4 1 5 1 4 1 5 3 2 2-4 1-5 2-4 1-4 2-5 2-4 2-4 2-4 2-4 2-4 3-4 3-3 4-3 4-2 5 1 4 2 3 3 3 4 2 4 2 4 2 4 1 4 2 5 1 4 1 5 1 4 1 4 1 5 2 4 3-1 2-5 1-4 2-4 1-5 2-4 2-4 1-5 2-4 3-4 2-4 3-3 3-4 4-2 4-1 5 1 4 3 3 3 2 4 3 4 2 4 1 4 2 5 1 4 2 4 1 5 1 4 1 5 2 4 3 3 2-5 1-4 1-4 2-5 1-4 2-4 1-5 2-4 2-4 3-4 2-4 3-3 3-3 5-2 4-1 4 2 4 3 3 4 2 3 2 5 2 4 2 4 2 4 1 5 1 4 2 4 1 5 1 4 2 5 3-1 1-5 2-4 1-4 2-5 1-4 2-4 1-5 2-4 2-4 3-4 2-4 3-3 4-3 5-1" fill="none" transform="scale(.5)"/>
<use href="#h121" stroke="#9050c0" stroke-width="21"/>
<use href="#h121" stroke="#d890f8" stroke-width="18"/>
<path id="h122" d="M2974 4538l2-2 2-3 2-2 2-2 2-2 2-3 2-2 2-2 1-3 2-2 2-3 1-2 1-3 2-3 1-3 0-2 1-3 0-3 0-3 0-3-1-3 0-3 0-3-1-3 0-3 0-3-1-3 0-3-1-3 0-3-1-3 0-3 0-3 0-3 0-3 0-3 1-3 0-3 1-3 2-3 1-2 1-3 2-2 1-3 2-2 2-3 1-2" fill="none" transform="scale(.5)"/>
<use href="#h122" stroke="#9050c0" stroke-width="7.6"/>
<use href="#h122" stroke="#d890f8" stroke-width="5.2"/>
<ellipse cx="1267.5" cy="2199.0" rx="11.0" ry="10.1" fill="none" stroke="#c89850" stroke-width="5.4"/>
<ellipse cx="1267.5" cy="2199.0" rx="11.0" ry="10.1" fill="none" stroke="#f8cc88" stroke-width="4"/>
<ellipse cx="1272.5" cy="2201.0" rx="11.0" ry="10.1" fill="none" stroke="#c89850" stroke-width="5.4"/>
<ellipse cx="1272.5" cy="2201.0" rx="11.0" ry="10.1" fill="none" stroke="#f8cc88" stroke-width="4"/>
<path id="h123" d="M3362 3796l-4-1-4-1-5-2-4-1-5-1-4-2-5 0 2 4 3 3 3 4 3 3 3 3 3 4 3 3 3 4 2 4 3 3 3 4 2 4 2 5 1 4 0 5-1 4-3 3-4 2-5 1-4 1-5 0-5 0-4-1-5 0-4-1-5-1-4 0-5-1-4-1-5-1-4-1-4 1 2 4 4 3 3 3 3 3 4 3 3 3 3 4 3 3 3 4 3 3 3 4 2 4 2 4 2 4 0 5-1 4-3 4-4 2-5 1-4 1-5 0-4 0-5 0-5 0-4-1-5 0-4-1-5-1-4-1-5-1-4 0-4 1 3 3 3 3 4 3 3 4 4 3 3 3 3 3 3 3 3 4 3 4 3 3 2 4 2 4 2 5 0 4-1 5-4 3-4 2-4 1-5 1-4 0-5 0-4 0-5 0-5-1-4 0-5-1-4 0-5-1-4-1-5 0-2 2 3 3 3 3 4 3 3 3 4 3 3 3 3 3 4 3 3 4 3 3 2 4 3 4 2 4 1 5 0 4-2 5-3 3-4 2-4 1-5 1-4 0-5 0-5 0-4-1-5 0-4-1-5-1-4-1-5-1-4-2-5-1-3 0 3 4 3 3 3 4 3 3 3 4 3 3 3 4 2 4 3 4 2 3 2 5 2 4 1 4 1 5-1 4-2 4-3 3-4 2-5 1-5 0-4-1-5 0-4-2-5-1-4-1-4-2-4-2-5-2-4-2-4-2-4-2-4-3 2 4 2 4 2 4 2 4 3 4 2 5 1 4 2 4 2 4 1 5 1 4 0 5 1 4-1 5-2 4-2 4-4 3-4 1-5 0-4-2-5-1-4-2-4-2-4-3-3-3-4-3-3-3-4-3-3-3-3-3-4-4-3-3-3 0 1 4 1 5 1 4 1 5 1 4 1 5 0 4 1 5 0 4 0 5 0 5 0 4-1 5-2 4-3 4-4 2-4 1-5-1-4-2-4-2-4-3-3-3-4-2-3-4-4-3-3-3-3-3-3-4-3-3-4-3-2-2" fill="none" transform="scale(.5)"/>
<use href="#h123" stroke="#9050c0" stroke-width="21"/>
<use href="#h123" stroke="#d890f8" stroke-width="18"/>
<path id="h124" d="M3052 4216l-3 3-4 3-3 3-4 3-3 3-4 3-3 4 4 1 5-1 4-1 5 0 5-1 4 0 5-1 4 0 5 0 5 0 4 0 5 1 4 1 4 2 4 3 3 3 1 5 0 4-2 5-2 4-3 3-3 4-3 3-4 3-3 3-4 2-4 3-4 2-4 2-4 3-4 2-5 1 1 0 5 1 4 0 5 0 4 1 5 2 4 1 4 2 4 2 4 3 4 2 3 3 4 3 2 4 3 4 1 5-1 4-2 4-3 4-3 2-5 2-4 1-4 1-5 1-5 0-4 0-5 0-4 0-5-1-5-1-4-1-5 0-4-2-1 2 4 4 3 3 3 3 4 3 3 3 3 4 3 3 3 4 2 4 3 4 2 4 2 4 1 4 0 5-1 4-2 4-3 3-5 2-4 1-5 0-4 0-5-1-4-2-4-1-4-2-5-2-4-3-3-2-4-3-4-3-3-2-4-3-3 0 2 4 2 5 1 4 2 4 1 5 2 4 1 4 1 5 1 4 1 5 1 4 1 5 0 3" fill="none" transform="scale(.5)"/>
<use href="#h124" stroke="#9050c0" stroke-width="21"/>
<use href="#h124" stroke="#d890f8" stroke-width="18"/>
<path id="h125" d="M3227 3806l-3 3-3 4-3 3-3 4-3 3-3 4-2 4 4 0 4-1 5-1 4-2 5-1 4-1 5-2 4-1 5 0 4-1 5-1 4 0 5 1 4 1 5 2 3 3 2 4 0 4-1 5-1 4-2 4-3 4-2 4-3 4-3 3-3 3-4 4-3 3-4 3-3 3-3 3-4 3 2 1 5-1 4-1 5-1 4 0 5 0 4 0 5 0 5 0 4 1 5 1 4 2 4 1 4 3 3 3 3 4 1 4 0 5-2 4-2 4-4 3-3 3-4 2-4 3-4 2-5 1-4 2-4 1-5 1-4 1-5 1-4 1-5 1 1 2 4 1 5 2 4 2 4 1 4 2 4 2 5 3 4 2 3 2 4 3 4 3 3 3 3 4 2 4 1 4-1 5-3 4-3 2-4 3-5 1-4 2-4 1-5 1-4 1-5 1-5 0-4 1-5 0-4 0-5 1-4 1-1 3 4 2 5 2 4 2 4 2 4 2 4 2 4 2 4 3 4 2 4 3 3 3 3 3 3 4 3 4 1 4-1 5-3 3-3 3-4 3-4 2-5 1-4 1-5 1-4 1-5 0-4 1-5 0-4 1-5 0-5 0-4 1-1 2 3 3 5 2 4 2 4 2 4 2 4 3 3 2 4 3 4 2 4 3 3 3 3 4 3 3 2 4 1 5-1 4-3 4-3 3-4 2-5 2-4 1-4 1-5 1-5 0-4 1-5 0-4 1-5 0-4 0-5 0-5 1-1 2 4 3 4 2 4 2 4 3 4 2 4 2 4 3 4 2 4 3 3 3 4 3 3 3 3 4 2 4 1 4-1 5-3 4-4 2-4 3-4 1-4 1-5 1-4 1-5 1-5 0-4 1-5 0-4 0-5 0-4 0-5 1-1 2 4 3 4 2 4 3 4 2 4 2 4 2 3 3 4 3 4 2 3 3 4 3 3 4 3 3 2 4 1 5-1 4-3 4-4 3-4 2-4 2-5 1-4 1-5 1-4 0-5 1-4 0-5 1-4 0-5 0-5 0-4 1-1 3 4 2 4 2 4 2 5 3 4 2 4 2 3 3 4 2 4 3 4 3 3 3 3 3 3 4 2 4 1 4-1 5-3 3-4 3-4 2-4 2-4 1-5 1-4 1-5 1-4 0-5 1-5 0-4 1-5 0-4 0-5 1 0 3 4 2 4 2 4 2 4 2 4 3 4 2 4 2 4 3 4 3 3 2 4 3 3 4 3 3 2 5 1 4-2 5-2 3-4 3" fill="none" transform="scale(.5)"/>
<use href="#h125" stroke="#c89850" stroke-width="21"/>
<use href="#h125" stroke="#f8cc88" stroke-width="18"/>
<ellipse cx="1561.0" cy="2221.0" rx="16.0" ry="14.7" fill="none" stroke="#c89850" stroke-width="5.4"/>
<ellipse cx="1561.0" cy="2221.0" rx="16.0" ry="14.7" fill="none" stroke="#f8cc88" stroke-width="4"/>
<ellipse cx="1567.0" cy="2223.0" rx="16.0" ry="14.7" fill="none" stroke="#c89850" stroke-width="5.4"/>
<ellipse cx="1567.0" cy="2223.0" rx="16.0" ry="14.7" fill="none" stroke="#f8cc88" stroke-width="4"/>
<ellipse cx="1573.0" cy="2225.0" rx="16.0" ry="14.7" fill="none" stroke="#c89850" stroke-width="5.4"/>
<ellipse cx="1573.0" cy="2225.0" rx="16.0" ry="14.7" fill="none" stroke="#f8cc88" stroke-width="4"/>
<ellipse cx="1579.0" cy="2227.0" rx="16.0" ry="14.7" fill="none" stroke="#c89850" stroke-width="5.4"/>
<ellipse cx="1579.0" cy="2227.0" rx="16.0" ry="14.7" fill="none" stroke="#f8cc88" stroke-width="4"/>
<path id="h126" d="M2842 4421l0 5 1 4 1 5 0 4 1 5 2 4 3-3 2-4 2-4 2-4 2-4 3-4 2-4 3-4 3-4 3-3 3-3 4-2 5-2 4 1 4 2 3 4 2 4 2 4 1 4 1 5 1 4 1 5 1 4 0 5 1 5 0 4 1 5 3-2 3-4 2-4 2-4 3-4 2-4 3-3 2-4 3-4 4-3 3-3 4-2 4-2 5 0 4 3 3 3 2 4 2 4 1 5 1 4 1 5 0 4 1 5 0 5 0 4 1 5 0 4 3 1 3-4 2-4 3-4 2-4 3-3 2-4 3-4 3-3 3-4 4-3 4-2 4-2 4 0 3 1" fill="none" transform="scale(.5)"/>
<use href="#h126" stroke="#c89850" stroke-width="21"/>
<use href="#h126" stroke="#f8cc88" stroke-width="18"/>
<path id="h127" d="M3471 3831l-5 0-5 0-4 1-5 0-4 0-5 1-4 1 2 3 4 2 4 2 4 2 4 3 4 2 4 2 4 3 4 2 4 3 3 3 4 3 3 4 2 3 2 5 0 4-2 4-3 4-4 2-4 2-4 2-5 1-4 1-5 1-4 0-5 1-5 0-4 0-5 0-4 1-5 0-4 1 2 3 4 2 4 2 4 2 4 3 4 2 4 3 4 2 4 3 3 3 4 3 3 3 3 4 2 4 2 4 0 5-2 4-4 3-4 2-4 2-4 1-5 1-4 1-5 1-5 0-4 0-5 1-4 0-5 0-5-1-4 0-5 1 3 3 4 3 4 2 4 3 4 2 3 3 4 2 4 3 3 3 4 3 3 3 3 4 3 4 2 4 1 4 0 5-2 4-4 3-4 2-4 1-5 1-4 1-5 1-4 0-5 0-5 0-4 0-5 0-4 0-5-1-5 0-4 1 2 3 4 3 4 2 4 3 3 3 4 2 4 3 3 3 4 3 3 3 3 4 3 3 3 4 2 4 1 4-1 5-2 4-3 3-4 2-5 1-4 1-5 1-4 0-5 0-5 0-4 0-5 0-4 0-5-1-5 0-4-1-5 0 2 4 4 3 4 2 3 3 4 3 3 3 4 3 3 3 4 3 3 4 3 3 2 4 3 4 2 4 0 5 0 4-3 4-3 3-5 1-4 2-5 0-4 1-5 0-4 0-5-1-4 0-5 0-5-1-4 0-5-1-4-1-5 0 2 4 4 3 3 3 4 3 3 3 4 3 3 3 4 3 3 3 3 4 3 3 2 4 2 4 2 5 1 4-1 5-3 3-3 3-5 2-4 1-5 0-4 0-5 0-4 0-5-1-5 0-4-1-5-1-4-1-5-1-4-1-4-2 0 4 4 3 3 3 3 3 3 4 3 3 3 4 3 4 2 3 3 4 2 4 2 4 2 5 0 4 0 5-1 4-3 4-4 2-4 1-5 1-4 0-5-1-4-1-5-1-4-2-4-2-4-1-5-2-4-2-4-2-4-2-4-2-3 0 2 4 3 4 2 4 2 4 3 4 2 4 2 4 2 4 2 5 1 4 1 4 1 5 1 5 0 4-2 4-3 4-4 2-5 1-4-1-5-1-4-1-4-1-5-2-4-2-4-2-4-2-4-3-4-2-4-2-4-3-4-2-3 1 2 4 2 4 2 4 2 4 2 4 2 4 2 5 2 4 1 4 2 4 1 5 1 4 1 5 0 4-1 2" fill="none" transform="scale(.5)"/>
<use href="#h127" stroke="#38a838" stroke-width="21"/>
<use href="#h127" stroke="#80ec80" stroke-width="18"/>
<path id="h128" d="M2796 4241l0 4 1 5 1 4 1 5 1 4 2 4 3-3 2-4 2-4 2-4 2-4 2-4 2-4 3-4 2-4 3-4 4-3 3-3 5-1 4 0 4 2 3 4 3 4 2 4 1 4 2 4 1 5 0 4 1 5 0 5 1 4 0 5 1 4 2 0 3-4 2-4 3-4 2-4 3-3 3-4 3-3 4-3 3-3 4-2 5-2 4-1 5 1 4 3 2 3 2 5 1 4 0 5 0 4 0 5-1 4 0 5-1 4-1 5-2 4-1 5 0 4 4-1 4-3 3-3 4-3 3-3 4-3 4-3 3-2 4-3 4-2 5-2 4 0 5 0 4 2 2 4 2 4 0 5 1 4-1 5 0 5 0 4-1 5-1 4-1 5 0 4-1 5 0 4 4-2 4-3 3-3 3-3 3-3 4-4 3-3 4-2 4-3 4-2 4-2 4-1 5 0 4 1 3 4 2 4 1 5 0 4 0 5 0 4 0 5-1 5-1 4 0 5-1 4-1 5 0 4 3 0" fill="none" transform="scale(.5)"/>
<use href="#h128" stroke="#38a838" stroke-width="21"/>
<use href="#h128" stroke="#80ec80" stroke-width="18"/>
<path id="h129" d="M2790 4240l1-3 0-3 0-3 1-3 0-3 1-3 1-3 1-2 1-3 2-2 2-2 3-1 3-2 3 0 3-1 3-1 2-1 3 0 3-1 3 0 3 0 3-1 3 0 3 0 3-1 3 0 3-1 3 0" fill="none" transform="scale(.5)"/>
<use href="#h129" stroke="#38a838" stroke-width="7.6"/>
<use href="#h129" stroke="#80ec80" stroke-width="5.2"/>
<path id="h130" d="M3153 4284l-3 4-3 3-4 3-3 2-4 3-1-1 3-3 3-3 4-3 4-3 3-2 4-3 4-2 4-2 5-2 4-1 5 1 2 3-1 5-2 4-3 3-3 4-3 4-3 3-3 3-4 3-3 3-4 3-4 2 0-3 4-3 3-3 4-2 4-3 4-2 4-2 4-2 4-2 5-1 4-1 4 1 2 4-2 4-2 4-3 3-3 4-3 3-4 3-3 3-4 3-4 2-4 3-4 1 1-2 3-3 4-3 4-2 4-2 4-2 5-2 4-1 5-1 4 0 5-1 4 2 1 4-2 4-3 4-3 3-4 3-4 2-3 3-4 2-5 2-4 2-4 1-4 2 0-3 4-2 4-2 5-1 4-2 4-1 5-1 4-1 5 0 5-1 4 1 4 2 0 4-2 4-4 3-3 3-4 2-4 3-4 2-4 2-5 1-4 2-4 1-5 1 3-3 4-1 4-2 5-1 4-2 5-1 4 0 5-1 4 0 5 0 4 0 4 3-1 4-3 4-4 3-4 2-3 3-4 2-5 2-4 2-4 2-4 1-5 2-1 0" fill="none" transform="scale(.5)"/>
<use href="#h130" stroke="#38a838" stroke-width="21"/>
<use href="#h130" stroke="#80ec80" stroke-width="18"/>
<path id="h131" d="M3593 3856l-4 0-5-1-4 0-5-1-5-1-4 0-5 0 2 4 4 3 3 2 4 3 3 3 4 3 3 3 4 4 3 3 3 3 3 4 2 4 3 4 2 4 0 4 0 5-3 4-4 2-4 2-4 1-5 1-5 0-4 0-5 0-4-1-5 0-4-1-5 0-5-1-4-1-5-1-4 0 2 4 3 3 4 3 3 3 3 3 4 3 3 3 3 4 3 3 3 4 3 4 2 3 2 5 2 4 0 5-1 4-3 4-4 2-4 1-4 1-5 0-5 1-4-1-5 0-4-1-5 0-4-1-5-1-5-1-4-1-5-1-4 0 2 4 4 3 3 3 3 3 3 3 4 4 3 3 3 4 3 3 2 4 3 4 2 4 2 4 1 5 0 4-1 5-3 3-4 2-5 2-4 0-5 0-4 0-5-1-4-1-5-1-4-1-5-2-4-1-4-2-4-2-5-1-4-3 0 3 3 3 2 4 3 4 2 4 3 4 2 4 2 4 2 4 1 5 2 4 1 5 0 4 0 5 0 4-2 4-4 3-4 2-5 0-4 0-5-1-4-2-4-2-4-2-4-2-4-3-4-2-4-3-3-3-4-3-4-2-3-3-3-1 1 5 1 4 2 4 2 5 1 4 1 4 1 5 2 4 0 5 1 4 1 5 0 5-1 4-1 5-2 4-4 3-4 1-5-1-4-1-4-1-4-2-4-3-4-2-4-3-4-3-3-2-4-3-3-3-4-3-3-4-3-3-4 0 1 5 2 4 1 4 1 5 1 4 1 5 1 4 1 5 1 4 0 5 0 5 0 4 0 5-2 4-2 4-4 3-5 0-4 0-5-1-4-2-4-3-3-2-4-3-4-3-3-3-4-3-3-3-3-3-3-4-4-3-3-3-3 0 0 4 1 5 1 4 1 5 1 4 1 5 1 4 1 5 0 4 1 5 0 4-1 5 0 5-2 4-2 4-4 2-5 1-4-1-4-1" fill="none" transform="scale(.5)"/>
<use href="#h131" stroke="#c02828" stroke-width="21"/>
<use href="#h131" stroke="#f26a6a" stroke-width="18"/>
<path id="h132" d="M2918 4196l2 4 1 5 1 4 2 5 1 4 2 4 3 1 1-5 2-4 1-4 1-5 2-4 1-4 2-5 2-4 2-4 2-4 2-4 3-3 4-3 4-2 5 0 4 3 3 3 3 3 3 4 2 4 2 4 1 5 2 4 1 4 2 5 1 4 1 5 2 4 2 4 3-3 1-4 1-5 2-4 1-5 1-4 2-4 2-5 1-4 3-4 2-4 3-4 3-3 4-2 4-1 4 1 4 3 3 3 3 4 2 4 3 4 1 4 2 4 2 4 1 5 2 4 1 5 2 4 1 4 3 1 2-4 1-4 1-5 2-4 1-5 1-4 2-4 1-5 2-4 2-4 3-4 3-3 3-3 4-2 5 0 4 2 4 3 3 3 2 4 2 4 2 4 2 4 2 4 2 5 1 4 1 5 2 4 1 4 2 5 3-2 1-5 1-4 2-5 1-4 1-4 2-5 2-4 1-4 3-4 2-4 3-4 3-3 4-3 4-1 4 1 4 2 3 4 3 3 3 4 2 4 1 5 2 4 2 4 1 5 1 4 2 4 1 5 1 4 3 3 2-4 1-4 2-5 1-4 1-4 2-5 2-4 2-4 2-4 2-4 2-4 3-4 4-3 4-2 4 0 4 2 4 3 3 3 2 4 3 4 2 4 1 4 2 5 1 4 2 5 1 4 1 4 1 5 2 4 3 0 1-4 2-5 1-4 2-5 1-4 2-4 2-4 1-5 3-4 2-4 2-3 3-3" fill="none" transform="scale(.5)"/>
<use href="#h132" stroke="#c02828" stroke-width="21"/>
<use href="#h132" stroke="#f26a6a" stroke-width="18"/>
<path id="h133" d="M2809 4365l5 1 4 1 5 1 4 1 5 1 4 0-2-4-3-4-3-3-3-4-3-3-3-4-3-4-2-4-2-4-2-4-1-4-1-5 1-4 2-4 4-3 4-2 5 0 4 0 5 1 4 1 5 2 4 1 4 2 4 2 4 3 4 2 4 2 4 0-2-4-2-4-2-4-1-5-2-4-2-4-1-5-1-4-1-5-1-4 0-5 1-4 2-4 4-3 4-1 5 0 4 1 5 2 4 1 4 2 4 3 4 2 4 2 4 3 4 2 3 3 5 1 0-4-2-4-2-5-1-4-1-3" fill="none" transform="scale(.5)"/>
<use href="#h133" stroke="#c02828" stroke-width="21"/>
<use href="#h133" stroke="#f26a6a" stroke-width="18"/>
<ellipse cx="1789.0" cy="1925.0" rx="13.0" ry="12.0" fill="none" stroke="#c02828" stroke-width="5.4"/>
<ellipse cx="1789.0" cy="1925.0" rx="13.0" ry="12.0" fill="none" stroke="#f26a6a" stroke-width="4"/>
<ellipse cx="1792.0" cy="1927.0" rx="13.0" ry="12.0" fill="none" stroke="#c02828" stroke-width="5.4"/>
<ellipse cx="1792.0" cy="1927.0" rx="13.0" ry="12.0" fill="none" stroke="#f26a6a" stroke-width="4"/>
<ellipse cx="1795.0" cy="1929.0" rx="13.0" ry="12.0" fill="none" stroke="#c02828" stroke-width="5.4"/>
<ellipse cx="1795.0" cy="1929.0" rx="13.0" ry="12.0" fill="none" stroke="#f26a6a" stroke-width="4"/>
<path id="h134" d="M2310 4612l1 3 2 2 1 3 2 2 1 3 2 3 1 2 2 3 1 2 2 3 1 3 2 2 1 3 2 2 1 3 2 3 1 2 2 3 1 2 2 3 2 3 1 2 2 3 1 2 2 3 2 2 1 3 2 2 1 3 2 2 2 3 1 2 2 3 1 3 2 2 1 3 2 2 2 3 1 2 2 3 2 2 2 2 2 3 1 2 3 2 2 2 2 2 3 1 3 1 3 1 3 0 3 0 3 0 2-1 3-1 3-1 3-1 3-1 2-1 3-1 3-2 3-1 3-1 2-1 3 0 3-1 3-1 3 0 3-1 3 0 3-1 3-1 3 0 3-1 3-1 3 0 3-1 3 0 2 0 3 0 3-1 3 1 3 0 3 0 3 1 3 0 3 1 3 2 3 1 2 1 3 2 2 1 3 2 2 2 3 2 2 1 2 2 3 2 2 2 2 2 3 2 2 2 2 2 3 2 2 2 2 2 3 1 2 2 2 2 3 2 2 2 2 2 2 2 3 2 2 2 2 2 2 2 3 2 2 2 2 2 2 2 3 2 2 2 2 2 2 2 2 2 3 2 2 2" fill="none" transform="scale(.5)"/>
<use href="#h134" stroke="#2a2aa8" stroke-width="8.8"/>
<use href="#h134" stroke="#6a6aee" stroke-width="6.4"/>
<path id="h135" d="M2125 4427l-1 4-1 5-1 4-1 5-1 4 0 5 4-2 3-3 4-3 3-3 4-3 3-3 4-2 4-3 4-2 4-2 4-2 5-1 4 0 4 2 3 4 2 4 0 5 0 5 0 4 0 5-1 4-1 5-1 4-1 5-1 4-1 5-1 4 4 0 3-3 4-3 3-3 4-3 3-2 4-3 4-3 4-2 4-2 4-2 5-1 4 0 5 2 2 4 2 4 1 4 0 5 0 5-1 4-1 5-1 4-1 5-1 4-2 4-1 5-1 4 2 2 4-3 4-2 3-3 4-3 4-2 4-3 4-2 4-2 4-2 5-2 4 0 5 0 4 2 3 3 2 4 0 5 0 4-1 5-1 4-1 5-1 4-2 4-1 5-2 4-2 4-1 5 0 3 4-1 4-3 4-2 4-3 4-2 4-2 4-3 4-2 5-1 4-2 4 0 5-1 4 2 4 3 2 4 0 5 0 4-1 5-1 4-1 5-1 4-2 4-1 5-2 4-1 4-2 5 0 4 4-1 4-3 4-2 4-3 4-3 3-2 4-2 4-3 5-2 4-1 4-1 5-1 4 1 4 2 2 4 1 5 1 4-1 5 0 4-1 5-1 4-2 5-1 4-1 5-2 4-1 4-1 5 4-1 4-2 4-3 3-3 4-2 4-3 4-2 4-3 4-2 4-2 4-1 5-1 4 1 4 2 3 4 1 4 1 5 0 4-1 5-1 4-1 5-1 4-1 5-2 4-1 4-1 5-1 4 3 1 3-2 4-3 4-3 4-3 3-2 4-3 4-2" fill="none" transform="scale(.5)"/>
<use href="#h135" stroke="#2a2aa8" stroke-width="21"/>
<use href="#h135" stroke="#6a6aee" stroke-width="18"/>
<path id="h136" d="M2526 4360l3 2 2 1 3 2 2 2 2 1 3 2 2 2 3 1 2 2 3 2 2 1 3 2 3 1 2 2 3 1 3 1 2 2 3 1 3 1 3 0 3 1 3 0 3 0 3 0 3-1 3 0 3-1 2-1 3-1 3-1 3-1 3-1 3-1 3 0 2-1 3-1 3 0 3-1 3 0 3 1 3 0 3 1 3 1 3 1 2 1 3 1 3 2 2 2 3 1 2 2 3 2 2 1 3 2 2 2 2 2 3 2 2 1 2 2 3 2 2 2 2 2 3 2 2 2 3 1 2 2 2 2 3 2 2 1 3 2 2 2 3 2 2 2 2 1 3 2 2 2 3 2 2 1 2 2 3 2 2 2 3 2 2 1 2 2 3 2 2 2 3 2 2 2 2 1" fill="none" transform="scale(.5)"/>
<use href="#h136" stroke="#c89850" stroke-width="8.4"/>
<use href="#h136" stroke="#f8cc88" stroke-width="6"/>
<path id="h137" d="M2584 4433l-1 4-1 5-1 4-1 5-1 4 3 1 3-3 4-3 3-2 4-3 4-3 4-3 3-2 5-2 4-2 4-1 5 0 4 3 2 3 1 5 1 4 0 5-1 5-1 4 0 5-1 4-2 5-1 4-1 5 1 3 4-2 4-3 3-3 4-3 3-3 4-3 4-2 3-3 4-2 5-2 4-1 5 1 3 3 2 4 1 5 0 4 0 5 0 5 0 4-1 5 0 4-1 5-1 4 1 5 3-1 3-3 4-4 3-3 3-3 3-3 4-4 3-2 4-3 4-2 4-2 5 0 4 2 3 4 1 4 1 5 1 4 0 5 0 4-1 5 0 5-1 4 0 5 0 4 2 3 3-4 3-3 3-3 3-4 4-3 3-3 1-1" fill="none" transform="scale(.5)"/>
<use href="#h137" stroke="#c89850" stroke-width="21"/>
<use href="#h137" stroke="#f8cc88" stroke-width="18"/>
<path id="h138" d="M2005 4303l0 4-1 5-1 4 0 5-1 4 0 5 4-2 3-4 4-3 3-3 3-3 4-3 3-4 4-2 3-3 4-3 4-2 5-1 4 0 4 2 3 3 2 4 1 5 1 5 0 4 0 5 0 4-1 5-1 4 0 5-1 5-1 4 0 5 4-1 3-3 3-3 4-4 3-3 3-3 4-3 3-3 4-3 4-3 4-2 4-1 4-1 5 1 3 4 2 4 1 4 1 5 1 4 0 5 0 4-1 5 0 5-1 4 0 5-1 4 0 5 3 0 3-4 4-3 3-3 3-4 3-3 4-3 3-3 4-2 4-3 4-1 5-2 4 0 5 1 3 3 2 4 2 5 0 4 0 5-1 4-1 5-1 4-1 5-2 4-2 4-2 4-2 4-2 5 4-1 5-3 4-2 4-2 4-2 4-2 4-1 5-2 4-1 5-1 4 0 5 1 4 1 4 3 1 5 0 4 0 5-2 4-1 4-2 5-2 4-2 4" fill="none" transform="scale(.5)"/>
<use href="#h138" stroke="#b8ac30" stroke-width="21"/>
<use href="#h138" stroke="#f8f070" stroke-width="18"/>
<path id="h139" d="M2180 4390l3 1 3 0 3 1 3 1 3 0 3 1 2 1 3 1 3 0 3 1 3 0 3 1 3 1 3 0 3 0 3 1 3 0 3 0 3 0 3 0 3 0 3-1 3-1 3-1 2-1 3-1 3-1 3-1 2-2 3-1 3-2 2-1 3-1 3-2 2-1 3-1 3-1 3 0 3-1 3 0 3 0 3 0 3 1 3 1 2 1 3 1 3 1 3 2 2 1 3 1 2 2 3 2 2 1 3 2 2 2 3 2 2 2 2 2 2 2 3 2 2 2 2 2 2 2 3 2 2 2 2 2 2 2 2 2 2 3 2 2 2 2 1 3 2 2 2 3 1 2 2 3 2 2 1 3 2 2 2 3 1 2 2 3 1 3 2 2 1 3 2 2 1 3 2 2 1 3 2 3" fill="none" transform="scale(.5)"/>
<use href="#h139" stroke="#b8ac30" stroke-width="8.4"/>
<use href="#h139" stroke="#f8f070" stroke-width="6"/>
<path id="h140" d="M2340 4543l-1 4-1 5-2 4-1 5-1 4 3 1 3-2 4-3 4-3 3-3 4-2 4-3 4-2 4-2 5-1 4-1 5 0 4 2 2 4 1 5 0 4 0 5-1 5-1 4-1 4-1 5-2 4-1 5-1 4 0 4 4-2 4-3 3-2 4-3 4-3 4-2 4-2 4-2 4-2 4-1 5-1 4 2 4 3 1 4 1 5-1 4 0 5-1 4-1 5-1 4-2 5-1 4-1 5-1 4 2 1 4-2 4-3 4-3 3-3 4-2 4-3 4-2 4-2 5-1 4-1 5 0 3 2 3 4 1 5 0 4 0 5-1 5-1 4-1 4-2 5-1 4-2 4-2 5 0 4 4-2 4-2 4-3 4-2 4-3 4-2 4-2 4-2 4-1 5-1 4 0 5 2 3 3 1 5 0 4 0 5-1 4-2 5-1 4-2 4-2 5-2 4-2 4-2 4 2 2 4-2 4-2 4-2 4-2 5-2 4-2 4-2 4-1 5-1 5 0 4 1 4 2 2 4 0 5 0 5-1 4-2 4-1 5-2 4-2 4-2 4-2 4-2 4-1 5 4-1 4-2 4-2 4-2 4-2 5-2 4-2 4-1 5-1 4-1 5 0 4 2 3 4 1 4 0 5-1 4-1 5-2 4-1 4-2 4-2 4-1 2" fill="none" transform="scale(.5)"/>
<use href="#h140" stroke="#b8ac30" stroke-width="21"/>
<use href="#h140" stroke="#f8f070" stroke-width="18"/>
<ellipse cx="1357.0" cy="2352.0" rx="11.0" ry="10.1" fill="none" stroke="#b8ac30" stroke-width="5.4"/>
<ellipse cx="1357.0" cy="2352.0" rx="11.0" ry="10.1" fill="none" stroke="#f8f070" stroke-width="4"/>
<ellipse cx="1360.0" cy="2360.0" rx="11.0" ry="10.1" fill="none" stroke="#b8ac30" stroke-width="5.4"/>
<ellipse cx="1360.0" cy="2360.0" rx="11.0" ry="10.1" fill="none" stroke="#f8f070" stroke-width="4"/>
<ellipse cx="1363.0" cy="2368.0" rx="11.0" ry="10.1" fill="none" stroke="#b8ac30" stroke-width="5.4"/>
<ellipse cx="1363.0" cy="2368.0" rx="11.0" ry="10.1" fill="none" stroke="#f8f070" stroke-width="4"/>
<path id="h141" d="M1950 4030l-2-3-1-2-2-2-2-3-2-2-1-3-2-2-2-3-2-2-1-3-2-2-1-3-2-2-1-3-1-3-1-3-1-2 0-3 0-3 1-3 1-3 1-3 2-2 1-3 2-2 2-3 2-2 2-2 2-2 2-3 2-2 3-2 2-2 2-1 3-2 2-2 3-2 2-1 3-1 3-1 3-1 2 1 3 2 2 2 2 2 1 3 1 3 2 2 1 3 1 3 1 3 1 2 2 3 1 3 1 3 1 2 2 3 2 2 2 1 3 0 2-2 2-2 2-3 1-2 1-3 1-3 1-3 1-3 1-2 1-3 1-3 1-3 1-3 1-2 1-3 2-3 1-3 1-2 2-3 1-3 2-2 2-3 2-2 2-2 2-2 2-2 2-2 2-2 3-2 2-2 2-2 3-2 2-1 3-2 2-2 3-1 2-2 3-2 2-1 3-2 2-2 3-1 2-2 3-1 3-2 2-1 3-2 2-1 3-2 2-1 3-2 3-1 2-2 3-1 2-2 3-1 3-2 2-1 3-1 3-2 3-1 2-1 3-1 3-1 3-1 3 0 3-1 3-1 3 0 3 0 3 0 3 0 3 1 3 0 3 0 3 1 2 1 3 1 3 1 3 0 3 1 3 1 3 1 3 1 2 1 3 1 3 0 3 1 3 1 3 0 3 1 3 0 3 0 3 0 3 0 3-1 3-1 3 0 3-1 3-1 2-1 3-1 3-1 3-1 3-1 2-1 3-1 3-1 3-1 3 0 3-1 3 0 3 0 3 0 3 1 3 0 3 1 3 0 3 1 2 1 3 1 3 1 3 1 3 1 2 1 3 2 3 1 3 1 3 1 2 1 3 1 3 1 3 1 3 0 3 1 3 0 3 1 3 0 3 0 3-1 3 0 3-1 3-1 2-1 3-1 3-1 3-1 2-2 3-1 3-1 2-2 3-1 3-1 2-2 3-1 3-1 3-1 3-1 3-1 2 0 3-1 3 0 3-1 3 0 3-1 3 0 3-1 3 0 3 0 3-1 3 0 3 0 3 0 3 0 3 0 3-1 3 0 3 1 3 0 3 0 3 0 3 1 3 0 3 1 3 0 3 1 3 1 3 0 2 1 3 1 3 1 3 1 3 1 3 1 2 1 3 2 3 1 3 1 2 2 3 1 2 1 3 2 2 2 3 2 2 2 1 3-1 3-1 2-2 3-1 2-2 2-3 2-2 3-2 2-2 2-1 2-1 3 3 1 3 0 3 0 2-1 3-1 3-1 3-1 3 0 3-1 3-1 3-1 2-1 3-1 3 0 3-1 3-1 3 0 3-1 3 0 3 0 3 0 3 1 3 1 2 2 3 1 2 2 2 3 2 2 2 2 2 3 1 2 2 3 1 2 1 3 2 3 1 3 1 2 1 3 1 3 1 3 0 3 1 3 1 3 0 3 1 3 0 3 0 3 0 3-1 3 0 3-1 2-1 3-1 3-1 3-1 3-1 3-1 2-1 3-2 3-1 3-1 2-1 3-1 3-1 3-1 2-1 3-1 3 0 3-1 3 0 3 0 3 1 3 0 3 1 3 2 3 1 2 2 3 1 2 2 3 2 2 1 3 2 2 2 3 2 2 1 3 2 2 1 3 1 2 2 3 1 3 0 3 1 3 0 3 0 3-1 3 0 3-1 3 0 3-1 3-1 3-1 2-1 3-1 3-1 3-1 3-1 2-1 3-1 3-1 3-2 2-1 3-1 3-1 3-2 2-1 3-1 3-1 3-1 2-1 3-1 3-2 3-1 3 0 3-1 2-1 3-1 3-1 3 0 3-1 3-1 3 0 3-1 3-1 3-1 2 0 3-1 3-1 3-1 3-2 3-1 2-1 3-2 2-2 3-2 2-2 2-2 2-2 2-3 2-2 2-2 2-3 1-2 2-3 2-3 1-2 2-3 1-2 2-3 1-3 2-2 1-3 2-2 2-2 2-3 1-2 2-2 2-2 2-2 3-3 2-2 2-2 2-2 2-2 2-2 3-2 2-2 2-2 2-3 2-2 2-2 2-3 2-2 1-2 2-3 2-3 1-2 2-3 1-3 1-2 1-3 1-3 1-3 2-3 0-3 1-2 1-3 1-3 1-3 1-3 0-3 1-3 0-3 1-3 0-3 1-3 0-3 0-3 0-3 0-3 0-3 0-3-1-3 0-3-1-2-1-3-1-3-1-3-1-2-2-3-1-3-1-2-2-3-1-3-2-2-1-3-2-3-1-2-1-3-1-3-2-3-1-3-1-2 0-3-1-3 0-3 0-3 0-3 1-3 0-3 1-3 1-3 1-3 1-3 1-2 1-3 1-3 1-3 1-3 1-2 1-3 1-3 0-3 1-3 0-3 0-3 0-3 0-3-1-3-1-3-1-3-1-2-1-3-1-3-1-2-2-3-1-3-2-2-1-3-2-2-1-3-2-3-1-2-2-3-1-2-2-3-2-3-1-2-1-3-2-3-1-2-1-3-1-3-1-3-1-3-1-3-1-3-1-2 0-3-1-3 0-3-1-3-1-3 0-3-1-3 0-3 0-3-1-3 0-3-1-3 0-3-1-3 0-3-1-3 0-3-1-3-1-2 0-3-1-3-1-3 0-3-1-3-1-3 0-3-1-3-1-3 0-3-1-3-1-3-1-2 0-3-1-3-1-3-1-3-1-3-1-3-1-2-1-3-1-3-1-3-1-3-1-2-2-3-1-3-1-2-2-3-1-3-1-2-2-3-1-2-2-3-2-2-1-3-2-2-1-3-2-2-2-3-2-2-1-3-2-2-2-2-2-3-2-2-2-2-2-2-2-2-2-2-3-2-2-2-2-1-3-2-2-1-3-2-3-1-2-1-3-2-3-1-3-1-2-2-3-1-3-1-2-2-3-1-3-1-2-2-3-2-2-1-3-2-2-2-3-2-2-2-2-1-3-2-2-2-2-2-3-2-2-2-2-2-3-1-2-2-3-2-2-1-3-2-2-1-3-1-3-1-3-1-3-1-3 0-3 0-3 0-3 0-3 0-2 0-3 0-3 1-3 0-3 1-3 0-3 1-3 0-3 1-3 1-3 0-3 1-3 1-3 0-3" fill="none" transform="scale(.5)"/>
<use href="#h141" stroke="#3d9c98" stroke-width="8.4"/>
<use href="#h141" stroke="#8adcd6" stroke-width="6"/>
<path id="h142" d="M2022 3973l0 3 1 3 1 3 1 3 0 3 1 3 1 2 1 3 0 3 1 3 1 3 0 3 1 3 1 3 0 3 1 3 1 3 1 3 0 2 1 3 1 3 0 3 1 3 1 3 0 3 1 3 1 3 1 3 0 3 1 3 1 2 0 3 1 3 1 3 1 3 0 3 1 3 1 3 1 3 0 3 1 3 1 2 1 3 1 3 0 3 1 3 1 3 1 3 1 3 1 2 1 3 1 3 1 3 1 3 1 3 1 2 1 3 1 3 1 3 2 2 1 3 1 3 2 2 2 2 2 2 3 1 2-2 1-2 2-3 1-2 2-3 1-3 0-3 1-3 1-2 1-3 1-3 0-3 1-3 1-3 1-3 0-3 1-3 0-3 1-3 1-3 0-2 1-3 0-3 1-3 0-3 1-3 1-3 0-3 1-3 0-3 1-3 0-3 1-3 0-3 1-3 0-3 1-3 0-3 1-3 0-3 1-3 0-2 1-3 0-3 1-3 0-3 1-3 1-3 0-3 1-3 0-3 1-3 0-3 1-3 0-3 1-3 0-3 1-3 1-3 0-3 1-3 0-2 1-3 0-3 1-3 1-3 0-3 1-3 1-3 1-3 1-3 0-3 1-2 1-3 2-3 2-2 2-2 1 3 1 3 1 3 1 3 1 2 0 3 1 3 0 3 0 3 1 3 0 3 0 3 1 3 0 3 0 3 0 3 1 3 0 3 0 3 1 3 0 3 0 3 0 3 0 3 0 3 1 3 0 3 0 3 0 3 0 3 1 3 0 3 0 3 0 3 0 3 1 3 0 3 0 3 0 3 0 3 0 3 1 3 0 3 0 3 0 3 0 3 0 3 1 3 0 3 0 3 0 3 0 3 0 3 1 3 0 3 0 3 0 3 0 3 1 3 0 3 0 3 0 3 0 3 0 3 1 3 0 3 0 3 0 3 0 3 1 3 0 3 0 3 0 3 1 3 0 3 0 3 0 3 1 3 0 3 0 3 0 3 1 3 0 3 0 3 1 3 0 3 0 3 1 3 0 2 1 3 0 3 1 3 0 3 1 3 0 3 1 3 1 3 1 2 2 3 2 2 1 2 2-2 1-3 2-2 1-3 2-3 1-2 1-3 1-3 1-3 1-3 1-3 0-2 1-3 1-3 1-3 1-3 1-3 0-3 1-3 1-3 1-2 0-3 1-3 1-3 1-3 0-3 1-3 1-3 0-3 1-3 1-3 0-3 1-2 1-3 0-3 1-3 1-3 1-3 0-3 1-3 0-3 1-3 1-3 0-3 1-3 1-3 0-2 1-3 1-3 0-3 1-3 1-3 0-3 1-3 0-3 1-3 1-3 0-3 1-3 1-3 0-2 1-3 1-3 0-3 1-3 1-3 0-3 1-3 0-3 1-3 1-3 0-3 1-3 1-3 0-3 1-2 1-3 0-3 1-3 1-3 0-3 1-3 1-3 0-3 1-3 1-3 0-3 1-3 1-2 1-3 0-3 1-3 1-3 0-3 1-3 1-3 0-3 1-3 1-3 1-2 1-3 0-3 1-3 1-3 1-3 1-3 1-3 1-2 1-3 0-3 1-3 1-3 2-2 2-3 1-2 2-3 2-2 1 2 1 3 1 3 1 3 1 3 1 2 1 3 0 3 0 3 1 3 0 3 0 3 0 3 1 3 0 3 0 3 1 3 0 3 0 3 1 3 0 3 0 3 0 3 0 3 0 3 1 3 0 3 0 3 0 3 0 3 0 3 1 3 0 3 0 3 0 3 0 3 0 3 1 3 0 3 0 3 0 3 0 3 0 3 0 3 0 3 0 3 0 3 1 3 0 3 0 3 0 3 0 3 0 3 0 3 0 3 0 3 0 3 1 3 0 3 0 3 0 3 0 3 0 3 0 3 0 3 0 3 0 3 0 3 1 3 0 3 0 3 0 3 0 3 0 3 0 3 0 3 0 3 0 3 0 3 1 3 0 3 0 3 0 3 0 3 0 3 0 3 0 3 0 3 0 3 1 3 0 3 0 3 0 3 0 3 0 3 0 3 0 3 1 3 0 3 0 3 0 3 0 3 0 3 0 3 1 3 0 3 0 3 0 3 1 3 0 3 0 3 0 3 0 3 1 3 0 3 0 3 1 3 1 2 1 3 1 3 1 2 1-3 1-3 1-2 0-3 1-3 1-3 1-3 0-3 1-3 0-3 1-3 0-3 0-3 1-3 0-3 1-3 0-3 1-3 0-3 1-3 0-3 0-2 1-3 0-3 0-3 1-3 0-3 0-3 1-3 0-3 0-3 1-3 0-3 0-3 1-3 0-3 0-3 1-3 0-3 1-3 0-3 0-3 1-3 0-3 0-3 1-3 0-3 0-3 0-3 1-3 0-3 0-3 1-3 0-3 0-3 1-3 0-3 0-3 1-3 0-3 0-3 1-3 0-3 0-3 1-3 0-3 0-3 0-3 1-3 0-3 0-3 1-3 0-3 0-3 1-3 0-3 0-2 1-3 0-3 0-3 1-3 0-3 0-3 1-3 0-3 0-3 1-3 0-3 0-3 1-3 0-3 0-3 1-3 0-3 0-3 1-3 0-3 1-3 0-3 0-3 1-3 0-3 0-3 1-3 0-3 1-3 0-3 0-3 1-3 0-3 1-3 0-3 0-3 1-3 0-3 1-3 0-3 1-3 0-2 1-3 0-3 1-3 0-3 1-3 0-3 1-3 0-3 1-3 0-3 1-3 1-3 1-2 1-3 2-3 1-3 1-3 1 0 2 3 1 2 2 3 1 2 1 3 1 3 1 3 0 3 1 3 0 3 1 3 1 3 0 3 1 3 0 3 1 3 0 2 1 3 0 3 1 3 0 3 1 3 0 3 1 3 0 3 0 3 1 3 0 3 1 3 0 3 0 3 1 3 0 3 1 3 0 3 1 3 0 3 0 3 1 3 0 3 0 3 1 3 0 3 0 3 1 3 0 3 1 3 0 3 0 3 1 3 0 3 0 3 1 2 0 3 0 3 1 3 0 3 0 3 1 3 0 3 1 3 0 3 0 3 1 3 0 3 0 3 1 3 0 3 0 3 1 3 0 3 0 3 1 3 0 3 0 3 1 3 0 3 0 3 1 3 0 3 0 3 1 3 0 3 1 3 0 3 0 3 1 3 0 3 0 3 1 3 0 3 1 3 0 3 0 3 1 3 0 3 1 3 0 3 0 2 1 3 0 3 0 3 1 3 0 3 1 3 0 3 1 3 0 3 1 3 0 3 1 3 0 3 1 3 0 3 1 3 0 3 1 3 0 3 1 3 1 2 1 3 1 3 1 3 1 3 2 1 1-3 2-2 2-2 1-3 0-3 1-3 0-3 1-3 0-3 1-3 0-3 1-3 0-3 1-3 0-3 0-3 1-3 0-3 0-3 1-3 0-3 0-3 1-3 0-3 0-3 1-3 0-3 0-3 1-3 0-3 0-3 1-3 0-3 0-3 0-3 1-3 0-2 0-3 0-3 1-3 0-3 0-3 0-3 1-3 0-3 0-3 1-3 0-3 0-3 0-3 1-3 0-3 0-3 0-3 1-3 0-3 0-3 1-3 0-3 0-3 0-3 1-3 0-3 0-3 1-3 0-3 0-3 1-3 0-3 0-3 1-3 0-3 0-3 1-3 0-3 0-3 1-3 0-3 0-3 1-3 0-3 1-3 0-3 1-3 0-3 1-3 0-3 1-2 0-3 1-3 1-3 0-3 1-3 1-3 2-2 1-3 2-3 1-2 2 1 2 2 2 2 2 2 2 2 1 3 1 3 1 3 1 3 1 2 1 3 1 3 1 3 2 3 1 2 1 3 0 3 1 3 1 3 1 3 1 3 1 3 0 2 1 3 1 3 1 3 1 3 1 3 0 3 1 3 1 3 1 2 0 3 1 3 1 3 1 3 0 3 1 3 1 3 1 3 1 3 0 2 1 3 1 3 1 3 0 3 1 3 1 3 1 3 0 3 1 3 1 3 0 2 1 3 1 3 1 3 0 3 1 3 1 3 1 3 0 3 1 3 1 3 1 2 0 3 1 3 1 3 1 3 1 3 0 3 1 3 1 3 1 2 1 3 0 3 1 3 1 3 1 3 0 3 1 3 1 3 1 2 1 3 1 3 1 3 1 3 1 3 1 2 1 3 1 3 1 3 2 2 2 3 1 2 2 3 2 1 2-3 2-2 2-2 1-3 0-3 1-3 1-3 0-3 1-2 1-3 1-3 0-3 0-3 1-3 0-3 1-3 0-3 1-3 0-3 0-3 1-3 0-3 0-3 1-3 0-3 0-3 1-3 0-3 0-3 0-3 1-3 0-3 0-3 1-3 0-3 0-3 0-3 1-3 0-3 0-3 0-3 0-3 1-3 0-3 0-3 0-3 1-3 0-3 0-3 0-3 0-3 1-3 0-3 0-3 0-3 0-3 1-3 0-3 0-3 0-3 0-3 0-3 1-3 0-3 0-3 0-3 0-3 1-3 0-3 0-3 0-3 0-3 1-3 0-3 0-3 0-3 0-2 1-3 0-3 0-3 1-3 0-3 0-3" fill="none" transform="scale(.5)"/>
<use href="#h142" stroke="#3d9c98" stroke-width="8.4"/>
<use href="#h142" stroke="#8adcd6" stroke-width="6"/>
<path id="h143" d="M2035 4155l0-3 1-3 1-3 0-3 1-3 1-3 1-2 0-3 1-3 1-3 0-3 1-3 1-3 0-3 1-3 1-3 0-3 1-3 0-3 1-3 1-2 0-3 1-3 1-3 0-3 1-3 1-3 0-3 1-3 1-3 0-3 1-3 0-3 1-3 1-2 0-3 1-3 1-3 0-3 1-3 1-3 0-3 1-3 1-3 0-3 1-3 1-3 0-3 1-2 1-3 1-3 0-3 1-3 1-3 0-3 1-3 1-3 1-3 0-3 1-2 1-3 0-3 1-3 1-3 1-3 1-3 0-3 1-3 1-3 1-2 1-3 0-3 1-3 1-3 1-3 1-3 1-3 1-2 1-3 1-3 1-3 1-3 1-2 1-3 3-2 2-2 2-2 1 1 1 2 1 3 1 3 1 3 1 3 1 3 0 3 0 3 1 3 0 3 0 3 1 3 0 3 0 3 1 3 0 3 0 2 1 3 0 3 0 3 0 3 0 3 1 3 0 3 0 3 0 3 0 3 1 3 0 3 0 3 0 3 0 3 0 3 1 3 0 3 0 3 0 3 0 3 0 3 1 3 0 3 0 3 0 3 0 3 0 3 0 3 1 3 0 3 0 3 0 3 0 3 0 3 1 3 0 3 0 3 0 3 0 3 0 3 0 3 1 3 0 3 0 3 0 3 0 3 0 3 1 3 0 3 0 3 0 3 0 3 0 3 1 3 0 3 0 3 0 3 0 3 1 3 0 3 0 3 0 3 0 3 1 3 0 3 0 3 0 3 1 3 0 3 0 3 1 3 0 3 1 3 0 3 0 3 1 3 0 3 2 3 1 2 1 3 1 2 1-3 2-2 1-3 1-3 1-2 1-3 1-3 0-3 1-3 1-3 0-3 1-3 0-3 1-3 1-3 0-3 1-3 0-3 1-3 0-3 1-2 0-3 1-3 0-3 1-3 0-3 1-3 0-3 1-3 0-3 1-3 0-3 1-3 0-3 1-3 0-3 1-3 0-3 0-3 1-3 0-3 1-3 0-3 1-3 0-3 1-3 0-3 1-2 0-3 1-3 0-3 0-3 1-3 0-3 1-3 0-3 1-3 0-3 1-3 0-3 1-3 0-3 1-3 0-3 1-3 0-3 1-3 0-3 0-3 1-3 1-3 0-3 1-3 0-2 1-3 0-3 1-3 0-3 1-3 0-3 1-3 0-3 1-3 1-3 0-3 1-3 1-3 0-3 1-3 1-2 1-3 0-3 1-3 1-3 1-3 1-3 2-2 2-2 1-3 2-1 1 3 1 3 1 3 1 3 1 2 1 3 1 3 1 3 0 3 0 3 1 3 0 3 1 3 0 3 1 3 0 3 1 3 0 3 0 3 1 3 0 3 1 3 0 3 0 3 1 3 0 2 0 3 1 3 0 3 0 3 1 3 0 3 0 3 0 3 1 3 0 3 0 3 1 3 0 3 0 3 1 3 0 3 0 3 0 3 1 3 0 3 0 3 1 3 0 3 0 3 0 3 1 3 0 3 0 3 1 3 0 3 0 3 0 3 1 3 0 3 0 3 0 3 1 3 0 3 0 3 1 3 0 3 0 3 0 3 1 3 0 3 0 3 1 3 0 3 0 3 0 3 1 3 0 3 0 3 1 3 0 3 0 3 0 3 1 3 0 3 0 3 1 3 0 3 0 3 1 3 0 3 0 3 1 3 0 2 0 3 1 3 0 3 0 3 1 3 0 3 0 3 1 3 0 3 1 3 0 3 1 3 0 3 1 3 0 3 1 3 0 3 1 3 0 3 1 3 0 3 1 3 0 3 2 2 2 3 1 2 2 3 1-1 1-3 2-3 1-2 1-3 1-3 1-3 1-3 0-3 1-3 0-3 1-3 1-2 0-3 1-3 0-3 1-3 0-3 1-3 0-3 1-3 0-3 1-3 0-3 1-3 0-3 1-3 0-3 1-3 0-3 0-3 1-3 0-3 1-3 0-3 0-3 1-3 0-3 1-2 0-3 0-3 1-3 0-3 1-3 0-3 1-3 0-3 0-3 1-3 0-3 0-3 1-3 0-3 1-3 0-3 0-3 1-3 0-3 0-3 1-3 0-3 1-3 0-3 0-3 1-3 0-3 0-3 1-3 0-3 0-3 1-3 0-3 1-3 0-3 0-3 1-3 0-3 0-3 1-3 0-3 0-2 1-3 0-3 1-3 0-3 0-3 1-3 0-3 0-3 1-3 0-3 0-3 1-3 0-3 1-3 0-3 0-3 1-3 0-3 0-3 1-3 0-3 0-3 1-3 0-3 1-3 0-3 0-3 1-3 0-3 1-3 0-3 0-3 1-3 0-3 1-3 0-3 0-3 1-3 0-3 0-3 1-3 0-3 1-2 0-3 0-3 1-3 0-3 1-3 0-3 1-3 0-3 1-3 0-3 1-3 0-3 1-3 0-3 1-3 0-3 1-3 0-3 1-3 1-3 1-2 1-3 1-3 1-3 1-3 1-1 1 2 1 3 0 3 1 3 1 3 1 3 0 3 0 3 1 3 0 3 0 3 0 3 1 3 0 3 0 3 0 3 1 3 0 3 0 3 0 3 0 3 1 3 0 3 0 3 0 3 0 3 0 3 0 3 0 3 1 3 0 3 0 3 0 3 0 3 0 3 0 3 1 3 0 3 0 2 0 3 0 3 0 3 0 3 0 3 0 3 1 3 0 3 0 3 0 3 0 3 0 3 0 3 0 3 0 3 0 3 0 3 0 3 1 3 0 3 0 3 0 3 0 3 0 3 0 3 0 3 0 3 0 3 0 3 1 3 0 3 0 3 0 3 0 3 0 3 0 3 0 3 0 3 0 3 0 3 0 3 1 3 0 3 0 3 0 3 0 3 0 3 0 3 0 3 0 3 0 3 0 3 1 3 0 3 0 3 0 3 0 3 0 3 0 3 0 3 0 3 1 3 0 3 0 3 0 3 0 3 0 3 0 3 0 3 1 3 0 3 0 3 0 3 0 3 0 3 0 3 1 3 0 3 0 3 0 3 0 3 1 3 0 3 0 3 0 3 0 3 1 3 0 3 0 3 0 3 1 3 0 3 1 3 1 3 0 3 1 3 1 3 0 3 2-2 1-3 1-3 1-2 2-3 0-3 1-3 0-3 1-3 0-3 1-3 0-3 1-3 0-3 1-3 0-3 1-2 0-3 1-3 0-3 1-3 0-3 0-3 1-3 0-3 1-3 0-3 0-3 1-3 0-3 1-3 0-3 0-3 1-3 0-3 1-3 0-3 0-3 1-3 0-3 0-3 1-3 0-3 1-3 0-3 0-3 1-3 0-3 0-3 1-3 0-3 0-3 1-3 0-3 1-3 0-2 0-3 1-3 0-3 0-3 1-3 0-3 1-3 0-3 0-3 1-3 0-3 0-3 1-3 0-3 1-3 0-3 0-3 1-3 0-3 0-3 1-3 0-3 1-3 0-3 0-3 1-3 0-3 1-3 0-3 1-3 0-3 0-3 1-3 0-3 1-3 0-3 1-2 0-3 1-3 0-3 0-3 1-3 0-3 1-3 0-3 1-3 0-3 1-3 1-3 0-3 1-3 1-3 0-3 1-3 0-3 1-3 1-2 0-3 1-3 1-3 1-3 1-3 2-2 1-3 1-3 2-2 2 0 2 2 2 2 2 2 2 2 1 3 1 3 1 3 1 3 1 2 1 3 1 3 0 3 1 3 1 3 1 2 1 3 1 3 0 3 1 3 1 3 0 3 1 3 1 3 1 3 0 3 1 3 1 2 0 3 1 3 1 3 0 3 1 3 1 3 0 3 1 3 0 3 1 3 1 3 0 3 1 3 0 3 1 3 1 2 0 3 1 3 0 3 1 3 1 3 0 3 1 3 0 3 1 3 0 3 1 3 1 3 0 3 1 3 0 3 1 3 1 2 0 3 1 3 0 3 1 3 0 3 1 3 1 3 0 3 1 3 0 3 1 3 1 3 0 3 1 3 0 3 1 2 1 3 0 3 1 3 1 3 0 3 1 3 0 3 1 3 1 3 0 3 1 3 1 3 1 3 0 2 1 3 1 3 1 3 0 3 1 3 1 3 1 3 0 3 1 3 2 2 1 3 1 3 2 2 1 3 2 3 2-1 2-2 3-1 1-3 1-3 1-3 1-2 1-3 1-3 1-3 1-3 0-3 1-3 1-3 0-3 1-2 0-3 1-3 0-3 1-3 1-3 0-3 1-3 0-3 1-3 0-3 0-3 1-3 0-3 1-3 0-3 1-3 0-3 1-3 0-3 0-3 1-3 0-3 1-3 0-3 0-3 1-3 0-2 0-3 1-3 0-3 1-3 0-3 0-3 1-3 0-3 0-3 1-3 0-3 0-3 1-3 0-3 0-3 1-3 0-3 1-3 0-3 0-3 1-3 0-3 0-3 1-3 0-3 0-3 1-3 0-3 0-3 1-3 0-3 0-3 1-3 0-3 1-3 0-3 1-3 0-3 0-3" fill="none" transform="scale(.5)"/>
<use href="#h143" stroke="#3d9c98" stroke-width="8.4"/>
<use href="#h143" stroke="#8adcd6" stroke-width="6"/>
<path id="h144" d="M2058 3970l1 3 0 3 0 3 0 3 1 3 0 3 0 3 0 3 1 3 0 3 0 3 0 3 0 3 0 3 1 3 0 3 0 3 0 3 0 3 1 3 0 3 0 3 0 3 0 3 1 3 0 3 0 3 0 3 0 3 1 3 0 3 0 3 0 3 0 3 1 3 0 3 0 3 0 3 0 3 1 3 0 3 0 3 0 3 0 3 1 3 0 3 0 3 0 3 1 3 0 3 0 3 0 3 1 3 0 3 0 3 0 3 1 3 0 3 0 3 0 3 1 3 0 3 0 3 1 3 0 3 0 3 1 3 0 3 1 3 0 3 0 3 1 3 0 3 1 3 1 3 0 2 1 3 0 3 2 3 2 2 2 2 1-3 1-3 1-3 1-3 1-2 1-3 0-3 1-3 0-3 1-3 0-3 1-3 0-3 1-3 0-3 1-3 1-3 0-3 1-3 0-3 0-3 1-3 0-3 1-2 0-3 1-3 0-3 0-3 1-3 0-3 1-3 0-3 1-3 0-3 0-3 1-3 0-3 1-3 0-3 1-3 0-3 0-3 1-3 0-3 1-3 0-3 0-3 1-3 0-3 1-3 0-3 0-3 1-3 0-3 1-3 0-3 0-3 1-3 0-2 1-3 0-3 1-3 0-3 0-3 1-3 0-3 1-3 0-3 0-3 1-3 0-3 1-3 0-3 1-3 0-3 0-3 1-3 0-3 1-3 0-3 1-3 0-3 1-3 0-3 1-3 0-3 1-3 0-3 1-2 0-3 0-3 1-3 0-3 1-3 1-3 0-3 1-3 1-3 0-3 1-3 1-3 0-3 1-3 0-3 1-2 2-3 1-3 2-2 1-3 1 0 1 2 2 3 1 3 1 3 1 2 0 3 1 3 0 3 0 3 1 3 0 3 1 3 0 3 1 3 0 3 0 3 1 3 0 3 0 3 1 3 0 3 0 3 0 3 1 3 0 3 0 3 0 3 1 3 0 3 0 3 1 3 0 3 0 3 0 3 1 3 0 3 0 3 0 3 1 3 0 3 0 3 0 3 0 3 1 3 0 3 0 3 0 3 1 3 0 3 0 3 0 3 1 3 0 3 0 3 0 3 0 3 1 3 0 3 0 3 0 3 1 3 0 3 0 3 0 3 1 3 0 3 0 3 0 3 1 3 0 3 0 3 0 3 1 3 0 3 0 3 0 2 1 3 0 3 0 3 1 3 0 3 0 3 1 3 0 3 0 3 1 3 0 3 0 3 0 3 1 3 0 3 0 3 1 3 0 3 1 3 0 3 1 3 0 3 1 3 0 3 1 3 0 3 1 3 1 3 1 2 1 3 2 3 1 2 2 3 1-1 2-2 1-3 1-2 2-3 1-3 2-2 0-3 1-3 1-3 1-3 0-3 1-3 1-3 1-3 0-2 1-3 1-3 1-3 0-3 1-3 1-3 0-3 1-3 1-3 0-3 1-3 0-3 1-2 1-3 0-3 1-3 0-3 1-3 1-3 0-3 1-3 0-3 1-3 1-3 0-3 1-3 0-3 1-3 0-3 1-2 1-3 0-3 1-3 0-3 1-3 0-3 1-3 0-3 1-3 1-3 0-3 1-3 0-3 1-3 0-3 1-3 0-3 1-3 1-3 0-2 1-3 0-3 1-3 0-3 1-3 0-3 1-3 1-3 0-3 1-3 0-3 1-3 0-3 1-3 1-3 0-3 1-3 0-3 1-2 0-3 1-3 1-3 0-3 1-3 1-3 0-3 1-3 0-3 1-3 1-3 0-3 1-3 1-3 0-2 1-3 0-3 1-3 1-3 1-3 1-3 0-3 1-3 1-3 1-2 1-3 1-3 0-3 1-3 1-3 1-3 2-2 2-2 2-3 1-2 2-1 1 2 1 3 1 3 1 3 1 3 1 3 1 2 1 3 0 3 1 3 0 3 0 3 1 3 0 3 1 3 0 3 0 3 1 3 0 3 0 3 1 3 0 3 1 3 0 3 0 3 1 3 0 3 0 3 0 3 1 3 0 3 0 3 0 3 0 3 1 3 0 3 0 3 0 3 1 3 0 3 0 3 0 3 1 3 0 3 0 3 0 3 1 3 0 3 0 3 0 3 0 3 1 3 0 3 0 3 0 3 0 3 1 3 0 3 0 3 0 3 0 3 1 3 0 3 0 3 0 3 0 3 1 3 0 3 0 3 0 3 0 3 1 3 0 3 0 3 0 3 0 3 0 3 1 3 0 3 0 3 0 3 0 2 1 3 0 3 0 3 0 3 0 3 1 3 0 3 0 3 0 3 0 3 0 3 1 3 0 3 0 3 0 3 0 3 1 3 0 3 0 3 0 3 0 3 1 3 0 3 0 3 0 3 0 3 1 3 0 3 0 3 0 3 1 3 0 3 0 3 0 3 0 3 1 3 0 3 0 3 0 3 1 3 0 3 0 3 1 3 0 3 0 3 1 3 0 3 0 3 1 3 0 3 0 3 1 3 0 3 0 3 1 3 1 3 1 3 1 2 1 3 0 3 1 1 1-3 1-3 1-3 1-2 1-3 1-3 1-3 0-3 1-3 0-3 0-3 1-3 0-3 1-3 0-3 0-3 1-3 0-3 1-3 0-3 0-3 1-3 0-3 1-3 0-3 0-3 0-3 1-3 0-3 0-3 1-3 0-3 0-3 1-3 0-2 0-3 0-3 1-3 0-3 0-3 1-3 0-3 0-3 1-3 0-3 0-3 0-3 1-3 0-3 0-3 0-3 1-3 0-3 0-3 0-3 1-3 0-3 0-3 1-3 0-3 0-3 0-3 1-3 0-3 0-3 0-3 1-3 0-3 0-3 0-3 1-3 0-3 0-3 0-3 1-3 0-3 0-3 1-3 0-3 0-3 0-3 1-3 0-3 0-3 0-3 1-3 0-3 0-3 0-3 1-3 0-3 0-3 0-3 1-3 0-3 0-3 1-3 0-3 0-3 0-3 1-3 0-3 0-3 0-3 1-3 0-3 0-3 1-3 0-3 0-3 0-3 1-3 0-3 0-3 1-2 0-3 0-3 1-3 0-3 0-3 0-3 1-3 0-3 0-3 1-3 0-3 1-3 0-3 0-3 1-3 0-3 0-3 1-3 0-3 1-3 0-3 0-3 1-3 0-3 1-3 1-3 1-3 0-3 1-2 1-3 1-3 1 2 1 3 1 2 1 3 1 3 0 3 1 3 0 3 0 3 0 3 1 3 0 3 0 3 1 3 0 3 0 3 1 3 0 3 0 3 0 3 1 3 0 3 0 3 0 3 0 3 1 3 0 3 0 3 0 3 0 3 1 3 0 3 0 3 0 3 0 3 0 3 1 3 0 3 0 3 0 3 0 3 1 3 0 3 0 3 0 3 0 3 0 3 1 3 0 3 0 3 0 3 0 3 0 3 0 3 1 3 0 3 0 3 0 3 0 3 0 3 1 3 0 3 0 3 0 3 0 3 0 3 0 3 1 3 0 3 0 3 0 3 0 3 0 3 1 3 0 3 0 3 0 3 0 3 0 3 1 2 0 3 0 3 0 3 0 3 0 3 0 3 1 3 0 3 0 3 0 3 0 3 0 3 1 3 0 3 0 3 0 3 0 3 1 3 0 3 0 3 0 3 0 3 1 3 0 3 0 3 0 3 0 3 1 3 0 3 0 3 0 3 0 3 1 3 0 3 0 3 1 3 0 3 0 3 1 3 0 3 0 3 1 3 0 3 0 3 1 3 0 3 0 3 1 3 0 3 1 3 1 3 1 3 1 2 1 3 1 1 1-3 2-3 1-2 2-3 1-3 0-3 1-2 0-3 1-3 1-3 0-3 1-3 0-3 1-3 1-3 0-3 1-3 0-3 1-3 0-3 1-3 0-3 1-3 0-3 1-3 0-3 1-2 0-3 0-3 1-3 0-3 1-3 0-3 1-3 0-3 1-3 0-3 1-3 0-3 0-3 1-3 0-3 1-3 0-3 0-3 1-3 0-3 1-3 0-3 1-3 0-3 0-3 1-3 0-3 1-3 0-3 0-3 1-3 0-3 1-2 0-3 0-3 1-3 0-3 1-3 0-3 0-3 1-3 0-3 1-3 0-3 1-3 0-3 0-3 1-3 0-3 1-3 0-3 0-3 1-3 0-3 1-3 0-3 1-3 0-3 0-3 1-3 0-3 1-3 0-3 1-3 0-3 1-2 0-3 0-3 1-3 0-3 1-3 0-3 1-3 0-3 1-3 0-3 1-3 0-3 1-3 1-3 0-3 1-3 0-3 1-3 0-3 1-3 0-3 1-2 1-3 1-3 1-3 1-3 1-3 1-2 1-3 1-3 2 2 2 3 2 2 1 3 0 2 1 3 1 3 0 3 1 3 0 3 1 3 1 3 0 3 1 3 0 3 0 3 1 3 0 3 0 3 1 3 0 3 1 3 0 3 0 3 1 3 0 3 0 3 1 3 0 3 0 3 1 3 0 3 0 3 1 3 0 3 0 3 0 3 1 3 0 3 0 2 1 3 0 3 0 3 0 3 1 3 0 3 0 3 1 3 0 3 0 3 0 3 1 3 0 3 0 3 1 3 0 3 0 3 0 3 1 3 0 3 0 3 1 3 0 3 0 3 1 3 0 3 0 3 1 3 0 3 0 3 1 3 0 3 0 3 1 3 0 3 0 3 1 3 0 3 0 3 1 3 0 3 1 3 0 3 1 3 0 3 1 3 0 3 1 3 0 2 1 3 1 3 2 3 1 3 1 2 2 0 2-2 3-1 1-3 1-3 1-2 1-3 2-3 1-3 1-3 1-2 0-3 1-3 1-3 1-3 1-3 1-3 0-3 1-3 1-2 1-3 0-3 1-3 1-3 0-3 1-3 1-3 0-3 1-3 1-3 1-3 0-2 1-3 1-3 0-3 1-3 0-3 1-3 1-3 0-3 1-3 0-3 1-3 1-3 0-3 1-3 1-3 0-2 1-3 0-3 1-3 1-3 0-3 1-3 0-3 1-3 1-3 0-3 1-3 0-3 1-3 0-3 1-3 1-2 0-3 1-3 0-3 1-3 1-3 0-3 1-3 1-3 0-3 1-3 1-3 0-2" fill="none" transform="scale(.5)"/>
<use href="#h144" stroke="#3d9c98" stroke-width="8.4"/>
<use href="#h144" stroke="#8adcd6" stroke-width="6"/>
<path id="h145" d="M2127 4232l0-3 0-3-1-3 0-3 0-3 0-3-1-3 0-3 0-3 0-3-1-3 0-3 0-3 0-3 0-3-1-3 0-3 0-3 0-3 0-3-1-3 0-3 0-3 0-3 0-3 0-3-1-3 0-3 0-3 0-3 0-3 0-3 0-3 0-3 0-3 0-3 0-3 0-3 0-3 0-3 0-3 0-3 0-3 0-3 0-3 0-3 0-3 0-3 0-3 0-3 0-3 1-3 0-3 0-3 0-3 0-3 0-3 0-3 0-3 0-3 1-3 0-3 0-3 0-3 0-3 0-3 0-3 1-3 0-3 0-3 0-3 0-3 1-3 0-3 0-3 0-3 0-3 1-3 0-3 0-3 1-3 0-3 0-3 1-3 0-3 0-3 1-3 0-3 1-3 0-2 1-3 0-3 1-3 1-3 1-3 1-3 1-2 2-3 2-2 2-3 2-2 3-1 2-1 3-1 3 0 3 0 3 0 3 0 3 1 3 0 3 1 3 1 2 2 2 2 2 2 1 3 2 3 0 2 1 3 0 3 1 3 0 3 0 3 0 3 0 3 0 3 0 3 0 3-1 3 0 3 0 3 0 3-1 3 0 3 0 3 0 3-1 3 0 3 0 3-1 3 0 3 0 3-1 3 0 3-1 3 0 3 0 3-1 3 0 3 0 3-1 3 0 3-1 3 0 3 0 3-1 3 0 3-1 3 0 3 0 3-1 3 0 3-1 3 0 3 0 3-1 3 0 2-1 3 0 3-1 3 0 3-1 3 0 3-1 3 0 3-1 3 0 3-1 3-1 3 0 3-1 3 0 3-1 3 0 3-1 3 0 3-1 3-1 2 0 3-1 3 0 3-1 3 0 3-1 3 0 3-1 3 0 3-1 3 0 3-1 3 0 3-1 3 0 3 0 3-1 3 0 3 0 3 0 3 0 3 0 3 0 3 0 3 0 3 1 3 1 2 2 3 2 2 2 2 2 2 3 1 3 1 3 0 3 0 3 1 3 0 3 0 2 1" fill="none" transform="scale(.5)"/>
<use href="#h145" stroke="#3d9c98" stroke-width="8.4"/>
<use href="#h145" stroke="#8adcd6" stroke-width="6"/>
<path id="h146" d="M2278 4212l-1-2-1-3-1-3 0-3-1-3-1-3-1-3 0-3-1-3-1-3-1-2 0-3-1-3-1-3-1-3 0-3-1-3-1-3-1-3 0-3-1-3-1-2-1-3 0-3-1-3-1-3 0-3-1-3-1-3 0-3-1-3-1-3 0-3-1-2-1-3 0-3-1-3-1-3 0-3-1-3 0-3-1-3-1-3 0-3-1-3 0-3-1-3 0-3-1-3 0-3-1-3 0-3-1-2 0-3-1-3 0-3-1-3 0-3-1-3 0-3-1-3 0-3-1-3 0-3-1-3 0-3-1-3 0-3-1-3 0-3 0-3-1-3 0-3-1-3 0-3-1-3 0-3 0-3-1-3 0-2-1-3 0-3-1-3 0-3 0-3-1-3 0-3 0-3-1-3 0-3 0-3-1-3 0-3 0-3-1-3 0-3 0-3 0-3 0-3 0-3 0-3 0-3 0-3 1-3 1-3 2-2 3-1 3 0 3 1 3 0 3 1 2 1 3 2 2 2 2 2 2 2 1 3 1 3 1 3 1 2 1 3 1 3 0 3 1 3 0 3 0 3 1 3 0 3 0 3 0 3 1 3 0 3 0 3 0 3 0 3 0 3 0 3 1 3 0 3 0 3 0 3 0 3 0 3 0 3 0 3 0 3 1 3 0 3 0 3 0 3 0 3 0 3 0 3 1 3 0 3 0 3 0 3 0 3 0 3 1 3 0 3 0 3 1 3 0 3 0 3 0 3 1 3 0 3 1 3 0 3 0 3 1 3 0 3 0 3 1 3 0 3 0 3 1 3 0 3 0 3 1 3 0 3 1 3 0 2 0 3 1 3 0 3 1 3 0 3 0 3 1 3 0 3 1 3 0 3 0 3 1 3 0 3 1 3 0 3 1 3 0 3 1 3 0 3 1 3 0 3 1 3 0 3 1 3 0 3 1 3 1 2 0 3 1 3 0 3 1 3 1 3 1 3 1 3 1 3 1 2 2 3 1 2 2 3 3 1 3 1 3 1 3 0 2-1 3-1 3 0 2 0" fill="none" transform="scale(.5)"/>
<use href="#h146" stroke="#3d9c98" stroke-width="8.4"/>
<use href="#h146" stroke="#8adcd6" stroke-width="6"/>
<path id="h147" d="M2527 4221l0-3 1-3 0-3 0-3 0-3 0-3 0-3 0-3 0-3 0-3 0-3 0-3 0-3 0-3 0-3 1-3 0-3 0-3 0-3 0-3 0-3 0-3 0-3 0-3 0-3-1-3 0-3 0-3 0-3 0-3 0-3 0-3-1-3 0-3 0-3 0-3-1-3 0-3 0-3-1-3 0-3-1-2 0-3 0-3-1-3 0-3-1-3 0-3-1-3 0-3-1-3 0-3-1-3 0-3-1-3 0-3-1-3 0-3-1-3 0-3-1-3-1-3 0-3-1-3 0-3-1-2 0-3-1-3 0-3-1-3 0-3 0-3-1-3 0-3-1-3 0-3 0-3 0-3-1-3 0-3 0-3 0-3 1-3 0-3 1-3 1-3 2-2 2-2 3-1 3-1 3 1 3 0 3 1 2 1 3 1 3 2 2 1 2 3 2 2 1 2 2 3 1 3 0 3 1 3 0 3 0 3 0 3 0 3-1 3 0 3-1 3 0 3-1 3-1 3 0 2-1 3-1 3 0 3-1 3-1 3 0 3-1 3-1 3-1 3 0 3-1 3 0 2-1 3-1 3 0 3-1 3 0 3-1 3 0 3 0 3-1 3 0 3 0 3 0 3 0 3 0 3 0 3 1 3 0 3 0 3 1 3 0 3 1 3 0 3 1 3 0 3 1 3 1 3 0 3 1 2 1 3 1 3 0 3 1 3 1 3 1 3 1 3 0 3 1 2 1 3 1 3 1 3 1 3 0 3 1 3 1 3 1 3 1 2 0 3 1 3 1 3 0 3 1 3 1 3 1 3 0 3 1 3 1 3 0 3 1 2 1 3 1 3 0 3 1 3 1 3" fill="none" transform="scale(.5)"/>
<use href="#h147" stroke="#3d9c98" stroke-width="8.4"/>
<use href="#h147" stroke="#8adcd6" stroke-width="6"/>
<path id="h148" d="M2552 4207l0-3-1-2 0-3 0-3-1-3 0-3-1-3 0-3-1-3 0-3-1-3 0-3-1-3 0-3 0-3-1-3 0-3-1-3 0-3-1-3 0-3-1-3 0-3-1-3 0-3-1-3 0-3 0-3-1-3 0-2-1-3 0-3-1-3 0-3-1-3 0-3-1-3 0-3-1-3 0-3-1-3-1-3 0-3-1-3 0-3-1-3 0-3-1-3-1-3 0-3-1-2 0-3-1-3 0-3-1-3-1-3 0-3-1-3 0-3-1-3 0-3-1-3 0-3-1-3 0-3-1-3 0-3-1-3 0-3-1-3 0-3 0-3-1-3 0-3 0-3 0-3 0-3 0-3 0-2 1-3 0-3 1-3 2-3 2-1 3-1 3-1 3 0 3 1 3 0 3 1 3 1 2 1 3 2 3 1 2 2 3 2 2 2 2 2 2 2 1 3 2 2 1 3 2 2 1 3 0 3 1 3 1 3 0 3 1 3 0 3 1 3 0 3 0 3 1 3 0 3 0 3 0 3 1 3 0 3 0 3 0 3 0 3 1 3 0 3 0 3 0 3 1 3 0 3 0 3 1 3 0 3 1 3 0 2 1 3 1 3 0 3 1 3 1 3 1 3 1 3 0 3 1 2 1 3 1 3 1 3 2 3 1 3 1 2 1 3 1 3 1 3 1 2 1 3 1 3 2 3 1 3 1 2 1 3 1 3 2 3 1 2 1 3 1 3 1 3 1 2 2 3 1 3 1 3 1 3 1 2 1 3 1 3 1 3 1 3 1 2 1 3 1 3 1 3 2 3 1 2 1 3 1 3 1 3 1 3 1 2 1 2" fill="none" transform="scale(.5)"/>
<use href="#h148" stroke="#3d9c98" stroke-width="8.4"/>
<use href="#h148" stroke="#8adcd6" stroke-width="6"/>
<path id="h149" d="M2332 4244l0-3 1-3 0-3 0-3 0-3 0-3 1-3 0-3 0-3 0-3 0-3 1-3 0-3 0-3 0-3 0-3 1-3 0-3 0-3 0-3 0-3 1-3 0-3 0-3 0-3 0-3 1-3 0-3 0-3 0-3 0-3 0-3 0-3 1-3 0-3 0-3 0-3 0-3 0-3 0-3 1-3 0-3 0-3 0-3 0-3 0-3 0-3 0-3 0-3 0-3 0-3 0-3 1-3 0-3 0-3 0-3 0-3 0-3 0-3 0-3 0-3 0-3 0-3 0-3 0-3 0-3 0-3 0-3 0-3 0-3 0-3 0-3 0-3 0-3 0-3 0-3 0-3 0-3 0-3 0-3 0-3 0-3 0-3 0-3 0-3 0-3 0-3-1-3 0-3 0-3 0-3 0-3 0-3 0-3 0-3 0-3 0-3 0-3 0-3 0-3 0-3 0-3 1-3 0-3 0-3 0-3 0-3 0-3 0-3 0-3 0-3 0-3 0-3 0-3 1-3 0-3 0-3 0-3 1-3 0-3 1-3 3 0 3 1 3 1 3 0 3 0 3 1 3 1 3 1 2 1 3 2 2 2 2 2 1 3 2 2 1 3 1 3 1 3 1 3 0 3 1 3 0 3 0 3 1 3 0 3 0 3 1 3 0 3 0 3 0 3 0 3 0 3 1 2 0 3 0 3 0 3 0 3 0 3 0 3 0 3 0 3 0 3 0 3 0 3 0 3 0 3 0 3 0 3 0 3 0 3 0 3 0 3 0 3 0 3 0 3 0 3 0 3 0 3 0 3 0 3 0 3 0 3 0 3 0 3 0 3 0 3 0 3 0 3 0 3 0 3 0 3 0 3 0 3 0 3 0 3 0 3 0 3 0 3 0 3 0 3-1 3 0 3 0 3 0 3 0 3 0 3 0 3 0 3-1 3 0 3 0 3 0 3 0 3 0 3 0 3-1 3 0 3 0 3 0 3 0 3 0 3 0 3-1 3 0 3 0 3 0 3 0 3 0 3 0 3 0 3 0 3 0 3 0 3 0 3 0 3 0 3 0 3 0 3 0 3 1 3 0 3 0 3 1 3 0 3 1 3 1 3 1 3 1 3 2 2 1 3 2 2 2 3 1 2 3 2 2 2 2 2 2 2 2 3 1 1" fill="none" transform="scale(.5)"/>
<use href="#h149" stroke="#3d9c98" stroke-width="8.4"/>
<use href="#h149" stroke="#8adcd6" stroke-width="6"/>
<path id="h150" d="M2352 4270l0-3 0-3 1-3 0-3 0-3 0-3 0-3 0-3 0-3 0-3 0-3 0-3 0-3 0-3 0-3 0-3 0-3 0-3 0-3 0-3 0-3 0-3 0-3 0-3 0-3 0-3 0-3 0-3 1-3-1-3 0-3 0-3 0-3 0-3 0-3 0-3 0-3 0-3 0-3 0-3 0-3 0-3 0-3 0-3 0-3 0-3 0-3 0-3-1-3 0-3 0-3 0-3 0-3 0-3-1-3 0-3 0-3 0-3 0-3-1-3 0-3 0-3 0-3-1-3 0-3 0-3 0-3-1-3 0-3 0-3 0-3-1-3 0-3 0-3 0-3-1-3 0-3 0-3-1-3 0-3 0-3-1-3 0-3 0-3 0-3-1-3 0-3 0-3-1-3 0-3 0-3-1-3 0-3 0-3-1-3 0-3 0-3 0-3-1-3 0-3 0-3-1-3 0-3 0-3-1-3 0-3 0-3 0-3-1-3 0-3 0-3 0-2-1-3 0-3 0-3 0-3-1-3 0-3 0-3 0-3 0-3 0-3-1-3 0-3 0-3 0-3 0-3 1-3 0-3 0-3 1-3 1-3 2-2 3-1 3 2 2 1 3 1 2 1 2 3 0 3 1 3 1 3 0 3 1 3 0 3 1 3 0 3 1 3 0 2 1 3 0 3 1 3 0 3 1 3 0 3 1 3 0 3 1 3 0 3 1 3 0 3 1 3 0 3 1 3 0 3 1 3 0 3 1 3 0 3 1 3 0 3 1 3 0 3 0 2 1 3 0 3 1 3 0 3 1 3 0 3 1 3 0 3 0 3 1 3 0 3 1 3 0 3 0 3 1 3 0 3 1 3 0 3 0 3 1 3 0 3 0 3 1 3 0 3 0 3 1 3 0 3 0 3 1 3 0 3 0 3 1 3 0 3 0 3 0 3 1 3 0 3 0 3 0 3 0 3 1 3 0 3 0 3 0 3 0 3 0 3 0 3 1 3 0 3 0 3 0 3 0 3 0 3 0 3 0 3 1 3 0 3 0 3 0 3 0 3 0 3 0 3 0 3 0 3 0 3 1 3 0 3 0 3 0 3 0 3 0 3 0 3 0 3 0 3 0 3 1 3 0 3 0 3 0 3 0 3 0 3 0 3 1 3 0 3 0 3 0 2 1 3 0 3 0 3 1 3 0 3 1 3 0 3 1 3 1 3 0 3 1 3 2 3 1 2 2 3 2 2 1 3" fill="none" transform="scale(.5)"/>
<use href="#h150" stroke="#3d9c98" stroke-width="8.4"/>
<use href="#h150" stroke="#8adcd6" stroke-width="6"/>
<path id="h151" d="M2531 4162l0-2-1-3 0-3-1-3-1-3 0-3-1-3 0-3-1-3-1-3 0-3-1-3 0-3-1-3-1-3 0-3-1-3 0-3-1-2 0-3 0-3-1-3 0-3 0-3-1-3 0-3 0-3 0-3-1-3 0-3 0-3 0-3 0-3 0-3 0-3 0-3 1-3 0-3 0-3 0-3 0-3 1-3 0-3 0-3 0-3 1-3 0-3 0-3 0-3 1-3 0-3 0-3 1-3 0-3 0-3 1-3 0-3 0-3 1-3 0-3 1-3 0-3 0-3 1-3 0-3 0-3 1-3 0-3 1-3 0-3 0-3 1-3 0-3 1-3 2-2 2 0 3 1 3 1 2 2 3 2 2 2 2 2 1 3 2 2 1 3 2 2 1 3 1 3 0 3 1 3 0 3 0 3 1 3 0 3 0 3 0 3 0 3 0 3 0 3 0 3 0 3 0 3 0 3 0 3 0 3 0 3 0 3 0 3 0 3 0 3 0 3 0 3 1 3 0 3 0 3 1 3 0 3 0 3 1 3 0 3 1 3 1 3 0 3 1 2 0 3 1 3 1 3 0 3 1 3 0 3 1 3 1 3 1 3 0 3 1 3 1 3 0 3 1 2 1 3 0 3 1 3 1 3 1 3 0 3 1 3 1 3 1 3 0 3 1 2 1 3 0 3 1 3 1 3 1 3 0 3 1 3 1 3 1 3 1 2 1 3" fill="none" transform="scale(.5)"/>
<use href="#h151" stroke="#3d9c98" stroke-width="8.4"/>
<use href="#h151" stroke="#8adcd6" stroke-width="6"/>
<path id="h152" d="M2438 4231l0-3-1-3-1-3-1-3-1-3-1-2-1-3 0-3-1-3-1-3-1-3-1-3-1-2-1-3-1-3-1-3 0-3-1-3-1-3-1-3-1-2-1-3 0-3-1-3-1-3-1-3-1-3-1-3 0-3-1-2-1-3-1-3 0-3-1-3-1-3-1-3 0-3-1-3-1-3 0-3-1-2-1-3 0-3-1-3 0-3-1-3-1-3 0-3-1-3 0-3-1-3 0-3-1-3 0-3-1-3 0-3 0-3-1-3 0-3-1-3 0-3-1-3 0-3 0-3-1-3 0-2 0-3-1-3 0-3-1-3 0-3 0-3-1-3 0-3 0-3-1-3 0-3 0-3-1-3 0-3 0-3-1-3 0-3 0-3-1-3 0-3 0-3-1-3 0-3 0-3 0-3-1-3 0-3 0-3 0-3-1-3 0-3 0-3 0-3 0-3-1-3 0-3 0-3 0-3 0-3 0-3 0-3 0-3 0-3 0-3 0-3 0-3 0-3 1-3 0-3 1-3 1-2 2-3 2-2 2-2 3 0 3 0 3 1 3 0 3 1 3 0 3 0 3 1 3 1 2 2 2 2 2 3 1 2 2 3 1 3 1 3 0 2 1 3 1 3 1 3 0 3 1 3 0 3 0 3 1 3 0 3 0 3 1 3 0 3 0 3 0 3 1 3 0 3 0 3 0 3 1 3 0 3 0 3 0 3 0 3 1 3 0 3 0 3 0 3 0 3 1 3 0 3 0 3 0 3 1 3 0 3 0 3 0 3 1 3 0 3 0 3 1 3 0 3 0 3 0 3 1 3 0 3 1 3 0 3 1 3 0 3 0 2 1 3 0 3 1 3 1 3 0 3 1 3 0 3 1 3 1 3 0 3 1 3 0 3 1 3 1 3 0 3 1 2 1 3 1 3 0 3 1 3 1 3 0 3 1 3 1 3 1 3 0 3 1 2 1 3 1 3 1 3 0 3 1 3 1 3 1 3 1 3 0 2 1 3 1 3 1 3 1 3 1 3 0 3 1 3 1 3 1 2 1 3 1 3 1 3 1 3 1 3 1 2 1 3 1 3 1 3 1 3 1 2 2 3 1 3 1 2 2 3 1 3 2 2 2 3 1 2 2 3 2 2 2 2 1 3 1 1" fill="none" transform="scale(.5)"/>
<use href="#h152" stroke="#3d9c98" stroke-width="8.4"/>
<use href="#h152" stroke="#8adcd6" stroke-width="6"/>
<path id="h153" d="M2437 4231l1-3 0-3 0-3 1-3 0-3 1-3 0-3 0-3 1-3 0-3 0-3 1-3 0-3 0-3 1-3 0-3 0-3 1-3 0-3 1-3 0-3 0-3 1-3 0-3 0-3 1-2 0-3 0-3 1-3 0-3 1-3 0-3 0-3 1-3 0-3 0-3 1-3 0-3 1-3 0-3 0-3 1-3 0-3 0-3 1-3 0-3 0-3 1-3 0-3 1-3 0-3 0-3 1-3 0-3 0-3 1-3 0-3 0-3 1-3 0-3 0-3 1-3 0-3 1-3 0-3 0-3 1-3 0-3 0-3 1-3 0-2 1-3 0-3 0-3 1-3 0-3 1-3 0-3 1-3 0-3 1-3 0-3 1-3 0-3 1-3 1-3 0-3 1-3 1-3 1-2 1-3 1-3 1-3 2-2 2-3 2-2 3-1 3-1 2 0 3 1 3 0 3 1 3 1 2 2 2 3 2 2 1 3 1 3 1 3 0 3 0 3 0 3 0 3 0 3 0 3 0 3 0 2 0 3-1 3 0 3 0 3-1 3 0 3-1 3 0 3 0 3-1 3 0 3-1 3 0 3-1 3 0 3-1 3 0 3-1 3 0 3-1 3 0 3-1 3 0 3-1 3 0 3-1 3 0 3-1 3 0 2-1 3 0 3-1 3 0 3-1 3 0 3-1 3 0 3-1 3 0 3-1 3 0 3-1 3-1 3 0 3-1 3 0 3-1 3-1 3 0 2-1 3 0 3-1 3-1 3 0 3-1 3-1 3 0 3-1 3 0 3-1 3-1 3 0 3-1 3 0 3-1 2-1 3 0 3-1 3 0 3-1 3 0 3-1 3 0 3-1 3 0 3 0 3 0 3-1 3 1 3 0 3 0 3 1 3 0 3 2 2 2 3 2 2 2 2 3 1 3 1 2 2" fill="none" transform="scale(.5)"/>
<use href="#h153" stroke="#3d9c98" stroke-width="8.4"/>
<use href="#h153" stroke="#8adcd6" stroke-width="6"/>
<path id="h154" d="M2426 4203l0-3 0-3 0-3 0-3 0-3 0-3 0-3-1-3 0-3 0-3 0-3 0-3 0-3 0-3 0-3 0-3 0-3 0-3 0-3 1-3 0-3 0-3 0-3 0-3 1-3 0-3 0-3 1-3 0-3 1-3 0-3 1-3 1-3 0-3 1-3 1-3 1-2 1-3 1-3 1-3 1-3 1-3 1-2 1-3 1-3 1-3 1-3 1-2 1-3 1-3 1-3 1-3 1-2 2-3 1-3 1-3 1-2 1-3 1-3 2-3 1-3 1-2 1-3 1-3 2-3 1-2 1-3 1-3 1-3 2-2 1-3 1-3 1-3 1-2 1-3 1-3 2-3 1-3 1-2 0-3 1-3 1-3 1-3 0-3 1-3 3 1 3 1 2 1 3 2 2 2 2 3 1 2 1 3 1 3 1 3 0 3-1 3 0 3-1 3-1 2-1 3-1 3-1 3-1 3-1 2-1 3-2 3-1 3-1 2-1 3-2 3-1 2-1 3-2 3-1 3-1 2-1 3-2 3-1 2-1 3-1 3-1 3-1 3-2 2-1 3-1 3-1 3 0 3-1 3-1 2-1 3-1 3 0 3-1 3-1 3 0 3-1 3 0 3-1 3 0 3-1 3 0 3-1 3 0 3-1 3 0 3 0 3-1 3 0 2 0 3-1 3 0 3 0 3-1 3 0 3 0 3-1 3 0 3 0 3-1 3 0 3 0 3 0 3-1 3 0 3 0 3 0 3-1 3 0 3 0 3 0 3 0 3 0 3-1 3 0 3 1 3 0 3 2 2 3 0" fill="none" transform="scale(.5)"/>
<use href="#h154" stroke="#3d9c98" stroke-width="8.4"/>
<use href="#h154" stroke="#8adcd6" stroke-width="6"/>
<path id="h155" d="M2053 4167l1-3 0-3 0-3 0-3 0-3 1-3 0-3 0-3 0-3 1-3 0-3 0-3 0-3 1-3 0-3 0-3 0-3 1-3 0-3 0-3 1-3 0-3 1-3 0-3 1-3 0-3 1-3 0-3 1-3 0-3 1-3 1-3 0-3 1-2 1-3 1-3 0-3 1-3 1-3 1-3 0-3 1-3 1-3 1-2 1-3 1-3 0-3 1-3 1-3 1-3 1-3 1-2 1-3 1-3 1-3 1-3 0-3 1-3 1-2 1-3 1-3 1-3 1-3 1-2 2-3 1-3 1-3 1-3 1-2 1-3 2-3 1-2 2-3 1-2 2-3 3-2 2-1 3-1 3-1 3 0 3 1 3 1 2 1 3 2 3 1 2 2 2 2 2 2 2 3 1 2 2 3 1 3 1 3 0 3 0 3 0 3 0 3 0 3 0 3 0 3-1 3 0 3 0 3-1 3 0 2-1 3-1 3 0 3-1 3 0 3-1 3 0 3-1 3-1 3 0 3-1 3-1 3 0 3-1 3 0 3-1 3 0 2-1 3-1 3 0 3-1 3-1 3 0 3-1 3-1 3-1 3-1 3 0 3-1 2-1 3-1 3 0 3-1 3-1 3-1 3 0 3-1 3 0 3-1 3 0 3 0 3 0 3-1 3 1 3 0 3 1 3 0 2 1 3 1 3 2 3 1 3 1 2 2 3 1 2 2 3 1 2 2 3 2 2 1 3 2 2 2 3 1 2" fill="none" transform="scale(.5)"/>
<use href="#h155" stroke="#3d9c98" stroke-width="8.4"/>
<use href="#h155" stroke="#8adcd6" stroke-width="6"/>
<path id="h156" d="M2487 4167l1-2 1-3 2-3 1-3 1-3 1-2 1-3 1-3 1-3 1-3 2-2 1-3 1-3 1-3 1-3 1-2 1-3 1-3 1-3 1-3 1-2 1-3 1-3 1-3 1-3 1-2 1-3 1-3 1-3 1-3 1-3 1-3 0-3 1-2 1-3 1-3 1-3 0-3 1-3 1-3 1-3 0-3 1-3 1-3 0-2 1-3 1-3 1-3 0-3 1-3 1-3 0-3 1-3 1-3 1-3 0-2 1-3 1-3 1-3 1-3 1-3 1-3 1-2 1-3 1-3 1-3 1-3 2-2 2-3 2-1 3-1 3 1 2 2 3 2 2 2 1 3 2 2 1 3 1 3 1 3 0 3 0 3 0 3 0 2-1 3-1 3 0 3-1 3-1 3-1 3-1 3-1 3-1 2-1 3-1 3-1 3-1 3-1 2-1 3-1 3-1 3-1 3-1 3-1 2-1 3-1 3-1 3 0 3-1 3-1 3-1 3-1 2-1 3 0 3-1 3-1 3-1 3-1 3-1 3 0 3-1 2-1 3-1 3 0 3-1 3 0 3-1 3 0 3 0 3-1 3 0 3 1 3 0 3 1 3 1 3 1 3 1 2 1 3 2 3 1 2 2 3 2 2 1 3 2 2 2 2 2 3 2 2 1 2 2 2" fill="none" transform="scale(.5)"/>
<use href="#h156" stroke="#3d9c98" stroke-width="8.4"/>
<use href="#h156" stroke="#8adcd6" stroke-width="6"/>
<path id="h157" d="M2015 3951l3 0 2 1 3 1 3 0 3 1 3 1 3 0 3 1 3 1 3 0 3 1 3 1 3 1 3 0 2 1 3 1 3 0 3 1 3 0 3 1 3 1 3 0 3 1 3 0 3 1 3 0 3 1 3 0 3 1 3 0 3 0 3 1 3 0 3 0 3 1 3 0 3 0 3 0 3 0 3 0 3 0 3 0 3 0 3 0 3 0 3-1 3 0 2 0 3-1 3 0 3-1 3 0 3-1 3 0 3-1 3 0 3-1 3-1 3-1 3 0 3-1 3-1 3 0 2-1 3-1 3-1 3 0 3-1 3-1 3-1 3 0 3-1 3-1 2-1 3 0 3-1 3-1 3 0 3-1 3-1 3 0 3-1 3 0 3-1 3 0 3-1 3 0 3-1 3 0 3-1 3 0 3 0 3 0 3 0 3 0 3-1 3 0 3 1 3 0 3 0 3 0 3 0 3 1 3 0 2 0 3 1 3 0 3 1 3 0 3 1 3 0 3 1 3 1 3 0 3 1 3 1 3 0 3 1 3 1 3 0 2 1 3 1 3 1 3 0 3 1 3 1 3 1 3 1 3 0 2 1 3 1 3 1 3 0 3 1 3 1 3 1 3 0 3 1 3 1 3 0 3 1 2 1 3 0 3 1 3 1 3 0 3 0 3 1 3 0 3 1 3 0 3 0 3 0 3 1 3 0 3 0 3 0 3 0 3 0 3 0 3 0 3 0 3 0 3 0 3 0 3 0 3 0 3-1 3 0 3 0 3 0 3 0 3-1 3 0 3 0 3 0 3-1 3 0 3 0 3 0 3-1 3 0 3 0 3-1 3 0 3 0 3-1 3 0 3 0 3-1 3 0 3 0 3 0 3-1 2 0" fill="none" transform="scale(.5)"/>
<use href="#h157" stroke="#3d9c98" stroke-width="8"/>
<use href="#h157" stroke="#8adcd6" stroke-width="5.6"/>
<path id="h158" d="M2027 4023l3 1 3 1 3 0 3 1 3 1 3 1 3 1 3 0 2 1 3 1 3 1 3 0 3 1 3 1 3 1 3 0 3 1 3 1 3 0 3 1 2 0 3 1 3 0 3 1 3 0 3 1 3 0 3 0 3 0 3 1 3 0 3 0 3 0 3 0 3 0 3 0 3-1 3 0 3 0 3-1 3 0 3-1 3 0 3-1 3-1 3-1 3 0 2-1 3-1 3-1 3-1 3-1 3-1 3-1 2-1 3-1 3-1 3-1 3-1 2-1 3-1 3-1 3-1 3-2 2-1 3-1 3-1 3-1 3-1 2-1 3-1 3-1 3-1 3-1 3-1 2-1 3-1 3-1 3-1 3-1 3-1 3 0 2-1 3-1 3-1 3 0 3-1 3-1 3 0 3 0 3-1 3 0 3-1 3 0 3 0 3 0 3 0 3 0 3 0 3 0 3 0 3 0 3 0 3 1 3 0 3 0 3 0 3 1 3 0 3 1 3 0 3 1 3 0 3 1 2 0 3 1 3 0 3 1 3 1 3 0 3 1 3 1 3 0 3 1 3 1 3 0 3 1 3 1 2 0 3 1 3 1 3 0 3 1 3 1 3 1 3 0 3 1 3 0 3 1 3 1 3 0 3 1 2 0 3 1 3 0 3 1 3 0 3 1 3 0 3 0 3 1 3 0 3 0 3 1 3 0 3 0 3 0 3 1 3 0 3 0 3 0 3 1 3 0 3 0 3 0 3 0 3 1 3 0 3 0 3 0 3 0 3 1 3 0 3 0 3 0 3 0 3 0 3 0 3 1 3 0 3 0 3 0 3 0 3 0 3 0 3 1 3 0 3 0 3 0 3 0 3 0 2 1" fill="none" transform="scale(.5)"/>
<use href="#h158" stroke="#3d9c98" stroke-width="8"/>
<use href="#h158" stroke="#8adcd6" stroke-width="5.6"/>
<path id="h159" d="M2005 4146l3 0 3 1 3 0 3 0 3 0 3 0 3 0 3 0 3 0 3 0 3 0 3 0 3 0 3 0 3 0 3 0 3 0 3 1 3 0 3 0 3 0 3 0 3 0 3 0 3 0 3 0 3 0 3 1 3 0 3 0 3 0 3 0 3 0 3 0 3 1 3 0 3 0 3 0 3 0 3 1 3 0 3 0 3 0 3 1 3 0 3 0 3 1 3 0 3 0 3 1 3 0 3 1 3 0 3 1 3 0 3 1 3 0 3 1 2 0 3 1 3 0 3 1 3 0 3 1 3 0 3 1 3 1 3 0 3 1 3 0 3 1 3 0 3 1 3 0 3 1 3 1 3 0 2 1 3 0 3 1 3 0 3 1 3 0 3 1 3 0 3 1 3 0 3 0 3 1 3 0 3 1 3 0 3 0 3 0 3 1 3 0 3 0 3 0 3 1 3 0 3 0 3 0 3 0 3 0 3 0 3 0 3 0 3 0 3 0 3 0 3 0 3 0 3 0 3 0 3 0 3 0 3 0 3 0 3 0 3-1 3 0 3 0 3 0 3 0 3 0 3-1 3 0 3 0 3 0 3 0 3-1 3 0 3 0 3 0 3 0 3-1 3 0 3 0 3 0 3-1 3 0 3 0 3 0 3 0 3-1 3 0 3 0 3 0 3 0 3 0 3-1 3 0 3 0 3 0 3 0 3 0 3 0 3-1 3 0 3 0 3 0 3 0 3 0 3 0 3-1 3 0 3 0 3 0 3 0 3 0 3 0 3 0 3-1 3 0 3 0 3 0 3 0 3 0 3 0 3-1 3 0 3 0 3 0 3 0 3 0 3 0 3-1 3 0 3 0 3 0 3 0 3 0 3 0 3-1 3 0 2 0" fill="none" transform="scale(.5)"/>
<use href="#h159" stroke="#3d9c98" stroke-width="8"/>
<use href="#h159" stroke="#8adcd6" stroke-width="5.6"/>
<polygon points="1180.5,2080 1189.5,2080 1189.5,2029 1194,2029 1185,2015 1176,2029 1180.5,2029" fill="#86dcd6" stroke="#3d9c98" stroke-width="1.2"/>
<polygon points="1210.5,2095 1219.5,2095 1219.5,2034 1224,2034 1215,2020 1206,2034 1210.5,2034" fill="#86dcd6" stroke="#3d9c98" stroke-width="1.2"/>
<polygon points="1235.5,2060 1244.5,2060 1244.5,2096 1249,2096 1240,2110 1231,2096 1235.5,2096" fill="#86dcd6" stroke="#3d9c98" stroke-width="1.2"/>
<polygon points="1257.5,2030 1266.5,2030 1266.5,2086 1271,2086 1262,2100 1253,2086 1257.5,2086" fill="#86dcd6" stroke="#3d9c98" stroke-width="1.2"/>
<polygon points="1155.5,2050 1164.5,2050 1164.5,2014 1169,2014 1160,2000 1151,2014 1155.5,2014" fill="#86dcd6" stroke="#3d9c98" stroke-width="1.2"/>
<polygon points="1280.5,2070 1289.5,2070 1289.5,2096 1294,2096 1285,2110 1276,2096 1280.5,2096" fill="#86dcd6" stroke="#3d9c98" stroke-width="1.2"/>
<polygon points="1140.5,2060 1149.5,2060 1149.5,2086 1154,2086 1145,2100 1136,2086 1140.5,2086" fill="#86dcd6" stroke="#3d9c98" stroke-width="1.2"/>
<line x1="963" y1="2069" x2="1020" y2="2066" stroke="#111" stroke-width="2.6"/>
<line x1="1133" y1="2235" x2="1225" y2="2131" stroke="#111" stroke-width="2.6"/>
<line x1="1211" y1="2268" x2="1225" y2="2131" stroke="#111" stroke-width="2.6"/>
<line x1="1222" y1="1984" x2="1295" y2="2211" stroke="#111" stroke-width="2.6"/>
<line x1="1222" y1="1984" x2="1309" y2="2211" stroke="#111" stroke-width="2.6"/>
<line x1="1230" y1="2000" x2="1300" y2="2208" stroke="#111" stroke-width="2.6"/>
<rect x="1771.9" y="2207.5" width="34" height="31.4" fill="#a8e8e4" stroke="#0f1a40" stroke-width="1.8"/>
<line x1="1764" y1="2222.8" x2="1771.9" y2="2222.8" stroke="#111" stroke-width="1.3"/>
<text x="1763.3" y="2232.6" font-size="24.8" fill="#000" text-anchor="end" textLength="127.7" lengthAdjust="spacingAndGlyphs">NEDD1-WD</text>
<rect x="1771.9" y="2249.3" width="34" height="33.7" fill="#e2a8f8" stroke="#0f1a40" stroke-width="1.8"/>
<line x1="1764" y1="2266.2" x2="1771.9" y2="2266.2" stroke="#111" stroke-width="1.3"/>
<text x="1763.3" y="2280.0" font-size="22.8" fill="#000" text-anchor="end" textLength="64.5" lengthAdjust="spacingAndGlyphs">AUG2</text>
<rect x="1771.9" y="2283.7" width="34" height="32.6" fill="#fefa98" stroke="#0f1a40" stroke-width="1.8"/>
<line x1="1764" y1="2300.0" x2="1771.9" y2="2300.0" stroke="#111" stroke-width="1.3"/>
<text x="1763.3" y="2314.2" font-size="22.8" fill="#000" text-anchor="end" textLength="64.5" lengthAdjust="spacingAndGlyphs">AUG3</text>
<rect x="1771.9" y="2317.7" width="34" height="33.3" fill="#5a5af8" stroke="#0f1a40" stroke-width="1.8"/>
<line x1="1764" y1="2334.3" x2="1771.9" y2="2334.3" stroke="#111" stroke-width="1.3"/>
<text x="1763.3" y="2348.2" font-size="22.8" fill="#000" text-anchor="end" textLength="64.5" lengthAdjust="spacingAndGlyphs">AUG5</text>
<rect x="1771.9" y="2351.8" width="34" height="32.6" fill="#f5a0a0" stroke="#0f1a40" stroke-width="1.8"/>
<line x1="1764" y1="2368.1" x2="1771.9" y2="2368.1" stroke="#111" stroke-width="1.3"/>
<text x="1763.3" y="2379.4" font-size="22.8" fill="#000" text-anchor="end" textLength="64.5" lengthAdjust="spacingAndGlyphs">AUG6</text>
<rect x="1771.9" y="2385.8" width="34" height="33.4" fill="#fae6a4" stroke="#0f1a40" stroke-width="1.8"/>
<line x1="1764" y1="2402.5" x2="1771.9" y2="2402.5" stroke="#111" stroke-width="1.3"/>
<text x="1763.3" y="2413.5" font-size="22.8" fill="#000" text-anchor="end" textLength="64.5" lengthAdjust="spacingAndGlyphs">AUG7</text>
<rect x="1771.9" y="2422" width="34" height="34.0" fill="#98f890" stroke="#0f1a40" stroke-width="1.8"/>
<line x1="1764" y1="2439.0" x2="1771.9" y2="2439.0" stroke="#111" stroke-width="1.3"/>
<text x="1763.3" y="2446.8" font-size="22.8" fill="#000" text-anchor="end" textLength="64.5" lengthAdjust="spacingAndGlyphs">AUG8</text>
<text x="811.0" y="1907.0" font-size="51.7" fill="#000" textLength="28" lengthAdjust="spacingAndGlyphs">E</text>
</svg></body></html>
